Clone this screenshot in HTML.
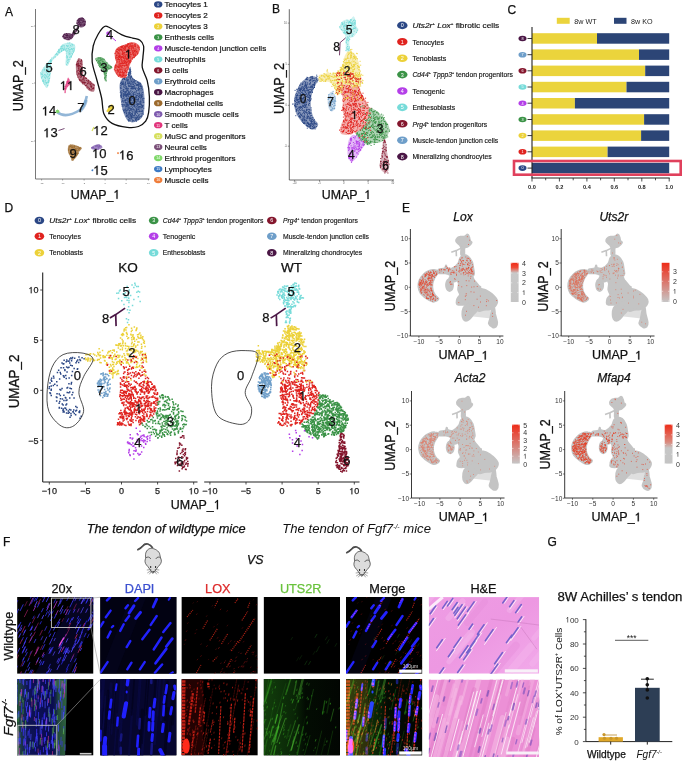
<!DOCTYPE html><html><head><meta charset="utf-8"><style>html,body{margin:0;padding:0;background:#fff;overflow:hidden}svg{display:block;will-change:transform}text{font-family:"Liberation Sans",sans-serif}</style></head><body>
<svg width="685" height="761" viewBox="0 0 685 761">
<rect width="685" height="761" fill="#fff"/>
<text x="5" y="16" font-size="12" text-anchor="start" fill="#111" font-weight="normal"  stroke="#111" stroke-width="0.25">A</text>
<text x="272" y="12.7" font-size="12" text-anchor="start" fill="#111" font-weight="normal"  stroke="#111" stroke-width="0.25">B</text>
<text x="507.5" y="13.5" font-size="12" text-anchor="start" fill="#111" font-weight="normal"  stroke="#111" stroke-width="0.25">C</text>
<text x="4.5" y="211.5" font-size="12" text-anchor="start" fill="#111" font-weight="normal"  stroke="#111" stroke-width="0.25">D</text>
<text x="402" y="211.5" font-size="12" text-anchor="start" fill="#111" font-weight="normal"  stroke="#111" stroke-width="0.25">E</text>
<text x="3" y="546.3" font-size="12" text-anchor="start" fill="#111" font-weight="normal"  stroke="#111" stroke-width="0.25">F</text>
<text x="547.5" y="546" font-size="12" text-anchor="start" fill="#111" font-weight="normal"  stroke="#111" stroke-width="0.25">G</text>
<line x1="35.5" y1="9" x2="35.5" y2="179" stroke="#555" stroke-width="0.8"/>
<line x1="35.5" y1="179" x2="149.5" y2="179" stroke="#555" stroke-width="0.8"/>
<line x1="41.6" y1="179" x2="41.6" y2="180.5" stroke="#555" stroke-width="0.5"/>
<text x="41.6" y="184" font-size="2.5" text-anchor="middle" fill="#555" font-weight="normal" >-15</text>
<line x1="62.6" y1="179" x2="62.6" y2="180.5" stroke="#555" stroke-width="0.5"/>
<text x="62.6" y="184" font-size="2.5" text-anchor="middle" fill="#555" font-weight="normal" >-10</text>
<line x1="84.1" y1="179" x2="84.1" y2="180.5" stroke="#555" stroke-width="0.5"/>
<text x="84.1" y="184" font-size="2.5" text-anchor="middle" fill="#555" font-weight="normal" >-5</text>
<line x1="105.1" y1="179" x2="105.1" y2="180.5" stroke="#555" stroke-width="0.5"/>
<text x="105.1" y="184" font-size="2.5" text-anchor="middle" fill="#555" font-weight="normal" >0</text>
<line x1="126.2" y1="179" x2="126.2" y2="180.5" stroke="#555" stroke-width="0.5"/>
<text x="126.2" y="184" font-size="2.5" text-anchor="middle" fill="#555" font-weight="normal" >5</text>
<line x1="148.4" y1="179" x2="148.4" y2="180.5" stroke="#555" stroke-width="0.5"/>
<text x="148.4" y="184" font-size="2.5" text-anchor="middle" fill="#555" font-weight="normal" >10</text>
<line x1="34" y1="26" x2="35.5" y2="26" stroke="#555" stroke-width="0.5"/>
<text x="33.5" y="27" font-size="2.5" text-anchor="end" fill="#555" font-weight="normal" >10</text>
<line x1="34" y1="83" x2="35.5" y2="83" stroke="#555" stroke-width="0.5"/>
<text x="33.5" y="84" font-size="2.5" text-anchor="end" fill="#555" font-weight="normal" >0</text>
<line x1="34" y1="141" x2="35.5" y2="141" stroke="#555" stroke-width="0.5"/>
<text x="33.5" y="142" font-size="2.5" text-anchor="end" fill="#555" font-weight="normal" >-10</text>
<text x="95.5" y="198.8" font-size="12.8" text-anchor="middle" fill="#111" font-weight="normal"  textLength="49.6" lengthAdjust="spacingAndGlyphs" stroke="#111" stroke-width="0.25">UMAP_ </text>
<path d="M0.335 0V-0.69H0.262L0.215 -0.628L0.158 -0.578L0.098 -0.545V-0.468L0.168 -0.5L0.245 -0.555V0Z" fill="#111" stroke="#111" stroke-width="0.0195" transform="translate(113.41 198.8) scale(12.40 12.8)"/>
<text x="0" y="0" font-size="13" text-anchor="middle" fill="#111" stroke="#111" stroke-width="0.25" textLength="51" lengthAdjust="spacingAndGlyphs" transform="translate(23.4 85.7) rotate(-90) scale(1 1.08)">UMAP_2</text>
<ellipse cx="158.2" cy="4.4" rx="4.2" ry="3.1" fill="#2b4785"/>
<text x="158.2" y="5.7" font-size="3.6" text-anchor="middle" fill="#fff" font-weight="normal" >0</text>
<text x="164.5" y="7.3" font-size="8.1" text-anchor="start" fill="#111" font-weight="normal" stroke="#111" stroke-width="0.2">Tenocytes 1</text>
<ellipse cx="158.2" cy="15.4" rx="4.2" ry="3.1" fill="#e0231f"/>
<text x="158.2" y="16.7" font-size="3.6" text-anchor="middle" fill="#fff" font-weight="normal" >1</text>
<text x="164.5" y="18.3" font-size="8.1" text-anchor="start" fill="#111" font-weight="normal" stroke="#111" stroke-width="0.2">Tenocytes 2</text>
<ellipse cx="158.2" cy="26.4" rx="4.2" ry="3.1" fill="#ecd139"/>
<text x="158.2" y="27.7" font-size="3.6" text-anchor="middle" fill="#fff" font-weight="normal" >2</text>
<text x="164.5" y="29.3" font-size="8.1" text-anchor="start" fill="#111" font-weight="normal" stroke="#111" stroke-width="0.2">Tenocytes 3</text>
<ellipse cx="158.2" cy="37.3" rx="4.2" ry="3.1" fill="#3b9347"/>
<text x="158.2" y="38.6" font-size="3.6" text-anchor="middle" fill="#fff" font-weight="normal" >3</text>
<text x="164.5" y="40.2" font-size="8.1" text-anchor="start" fill="#111" font-weight="normal" stroke="#111" stroke-width="0.2">Enthesis cells</text>
<ellipse cx="158.2" cy="48.3" rx="4.2" ry="3.1" fill="#b43fe8"/>
<text x="158.2" y="49.6" font-size="3.6" text-anchor="middle" fill="#fff" font-weight="normal" >4</text>
<text x="164.5" y="51.2" font-size="8.1" text-anchor="start" fill="#111" font-weight="normal" stroke="#111" stroke-width="0.2">Muscle-tendon junction cells</text>
<ellipse cx="158.2" cy="59.3" rx="4.2" ry="3.1" fill="#76dbd9"/>
<text x="158.2" y="60.6" font-size="3.6" text-anchor="middle" fill="#fff" font-weight="normal" >5</text>
<text x="164.5" y="62.2" font-size="8.1" text-anchor="start" fill="#111" font-weight="normal" stroke="#111" stroke-width="0.2">Neutrophils</text>
<ellipse cx="158.2" cy="70.3" rx="4.2" ry="3.1" fill="#84162d"/>
<text x="158.2" y="71.6" font-size="3.6" text-anchor="middle" fill="#fff" font-weight="normal" >6</text>
<text x="164.5" y="73.2" font-size="8.1" text-anchor="start" fill="#111" font-weight="normal" stroke="#111" stroke-width="0.2">B cells</text>
<ellipse cx="158.2" cy="81.3" rx="4.2" ry="3.1" fill="#6e9ec9"/>
<text x="158.2" y="82.6" font-size="3.6" text-anchor="middle" fill="#fff" font-weight="normal" >7</text>
<text x="164.5" y="84.2" font-size="8.1" text-anchor="start" fill="#111" font-weight="normal" stroke="#111" stroke-width="0.2">Erythroid cells</text>
<ellipse cx="158.2" cy="92.2" rx="4.2" ry="3.1" fill="#4a1645"/>
<text x="158.2" y="93.5" font-size="3.6" text-anchor="middle" fill="#fff" font-weight="normal" >8</text>
<text x="164.5" y="95.1" font-size="8.1" text-anchor="start" fill="#111" font-weight="normal" stroke="#111" stroke-width="0.2">Macrophages</text>
<ellipse cx="158.2" cy="103.2" rx="4.2" ry="3.1" fill="#9c6a2c"/>
<text x="158.2" y="104.5" font-size="3.6" text-anchor="middle" fill="#fff" font-weight="normal" >9</text>
<text x="164.5" y="106.1" font-size="8.1" text-anchor="start" fill="#111" font-weight="normal" stroke="#111" stroke-width="0.2">Endothelial cells</text>
<ellipse cx="158.2" cy="114.2" rx="4.2" ry="3.1" fill="#7e5aae"/>
<text x="158.2" y="115.5" font-size="3.6" text-anchor="middle" fill="#fff" font-weight="normal" >10</text>
<text x="164.5" y="117.1" font-size="8.1" text-anchor="start" fill="#111" font-weight="normal" stroke="#111" stroke-width="0.2">Smooth muscle cells</text>
<ellipse cx="158.2" cy="125.2" rx="4.2" ry="3.1" fill="#e2357c"/>
<text x="158.2" y="126.5" font-size="3.6" text-anchor="middle" fill="#fff" font-weight="normal" >11</text>
<text x="164.5" y="128.1" font-size="8.1" text-anchor="start" fill="#111" font-weight="normal" stroke="#111" stroke-width="0.2">T cells</text>
<ellipse cx="158.2" cy="136.2" rx="4.2" ry="3.1" fill="#d6df5e"/>
<text x="158.2" y="137.5" font-size="3.6" text-anchor="middle" fill="#fff" font-weight="normal" >12</text>
<text x="164.5" y="139.1" font-size="8.1" text-anchor="start" fill="#111" font-weight="normal" stroke="#111" stroke-width="0.2">MuSC and progenitors</text>
<ellipse cx="158.2" cy="147.1" rx="4.2" ry="3.1" fill="#7a4f78"/>
<text x="158.2" y="148.4" font-size="3.6" text-anchor="middle" fill="#fff" font-weight="normal" >13</text>
<text x="164.5" y="150" font-size="8.1" text-anchor="start" fill="#111" font-weight="normal" stroke="#111" stroke-width="0.2">Neural cells</text>
<ellipse cx="158.2" cy="158.1" rx="4.2" ry="3.1" fill="#7fd86a"/>
<text x="158.2" y="159.4" font-size="3.6" text-anchor="middle" fill="#fff" font-weight="normal" >14</text>
<text x="164.5" y="161" font-size="8.1" text-anchor="start" fill="#111" font-weight="normal" stroke="#111" stroke-width="0.2">Erthroid progenitors</text>
<ellipse cx="158.2" cy="169.1" rx="4.2" ry="3.1" fill="#3d7ac4"/>
<text x="158.2" y="170.4" font-size="3.6" text-anchor="middle" fill="#fff" font-weight="normal" >15</text>
<text x="164.5" y="172" font-size="8.1" text-anchor="start" fill="#111" font-weight="normal" stroke="#111" stroke-width="0.2">Lymphocytes</text>
<ellipse cx="158.2" cy="180.1" rx="4.2" ry="3.1" fill="#ef7d3a"/>
<text x="158.2" y="181.4" font-size="3.6" text-anchor="middle" fill="#fff" font-weight="normal" >16</text>
<text x="164.5" y="183" font-size="8.1" text-anchor="start" fill="#111" font-weight="normal" stroke="#111" stroke-width="0.2">Muscle cells</text>
<line x1="289.3" y1="9.2" x2="289.3" y2="180" stroke="#444" stroke-width="0.8"/>
<line x1="289.3" y1="180" x2="394" y2="180" stroke="#444" stroke-width="0.8"/>
<line x1="294.6" y1="180" x2="294.6" y2="181.5" stroke="#444" stroke-width="0.5599999999999999"/>
<text x="294.6" y="184" font-size="2.6" text-anchor="middle" fill="#555" font-weight="normal" >-10</text>
<line x1="319.5" y1="180" x2="319.5" y2="181.5" stroke="#444" stroke-width="0.5599999999999999"/>
<text x="319.5" y="184" font-size="2.6" text-anchor="middle" fill="#555" font-weight="normal" >-5</text>
<line x1="343.7" y1="180" x2="343.7" y2="181.5" stroke="#444" stroke-width="0.5599999999999999"/>
<text x="343.7" y="184" font-size="2.6" text-anchor="middle" fill="#555" font-weight="normal" >0</text>
<line x1="368.2" y1="180" x2="368.2" y2="181.5" stroke="#444" stroke-width="0.5599999999999999"/>
<text x="368.2" y="184" font-size="2.6" text-anchor="middle" fill="#555" font-weight="normal" >5</text>
<line x1="392.7" y1="180" x2="392.7" y2="181.5" stroke="#444" stroke-width="0.5599999999999999"/>
<text x="392.7" y="184" font-size="2.6" text-anchor="middle" fill="#555" font-weight="normal" >10</text>
<line x1="287.8" y1="23.1" x2="289.3" y2="23.1" stroke="#444" stroke-width="0.5599999999999999"/>
<text x="287" y="24" font-size="2.6" text-anchor="end" fill="#555" font-weight="normal" >10</text>
<line x1="287.8" y1="64.4" x2="289.3" y2="64.4" stroke="#444" stroke-width="0.5599999999999999"/>
<text x="287" y="65.3" font-size="2.6" text-anchor="end" fill="#555" font-weight="normal" >5</text>
<line x1="287.8" y1="105.3" x2="289.3" y2="105.3" stroke="#444" stroke-width="0.5599999999999999"/>
<text x="287" y="106.2" font-size="2.6" text-anchor="end" fill="#555" font-weight="normal" >0</text>
<line x1="287.8" y1="146.2" x2="289.3" y2="146.2" stroke="#444" stroke-width="0.5599999999999999"/>
<text x="287" y="147.1" font-size="2.6" text-anchor="end" fill="#555" font-weight="normal" >-5</text>
<text x="346.5" y="199" font-size="12.8" text-anchor="middle" fill="#111" font-weight="normal"  textLength="49.6" lengthAdjust="spacingAndGlyphs" stroke="#111" stroke-width="0.25">UMAP_ </text>
<path d="M0.335 0V-0.69H0.262L0.215 -0.628L0.158 -0.578L0.098 -0.545V-0.468L0.168 -0.5L0.245 -0.555V0Z" fill="#111" stroke="#111" stroke-width="0.0195" transform="translate(364.41 199) scale(12.40 12.8)"/>
<text x="0" y="0" font-size="13" text-anchor="middle" fill="#111" stroke="#111" stroke-width="0.25" textLength="51" lengthAdjust="spacingAndGlyphs" transform="translate(283.5 88.5) rotate(-90) scale(1 1.08)">UMAP_2</text>
<path d="M313.3 76.3 C311.4 76.1 309 76.7 306.9 77.8 C304.9 79 302.7 80.5 300.8 83.2 C298.9 85.8 296.5 90.1 295.4 93.6 C294.3 97.1 294 100.5 294.2 104.1 C294.4 107.6 295 111.4 296.7 114.7 C298.3 118.1 301.6 121.7 304 124.2 C306.5 126.6 309.4 128.8 311.4 129.5 C313.3 130.2 314.4 129.1 315.5 128.3 C316.7 127.4 318.4 125.7 318.2 124.2 C318 122.6 315.4 121.2 314.3 118.8 C313.2 116.5 311.9 113.4 311.4 110.2 C310.8 107.1 310.6 103.1 310.9 100 C311.1 96.8 311.9 94.2 312.8 91.4 C313.8 88.6 315.5 85.2 316.5 83.2 C317.5 81.1 319.2 80.2 318.7 79.1 C318.2 77.9 315.3 76.5 313.3 76.3Z" fill="#2b4785" fill-opacity="0.54"/>
<path d="M309.7 77.5h1M310.3 76.9h1M311.3 76.9h1M311.4 77.3h1M306.2 78.4h1M307 77.7h1M312 78h1M312.3 78.3h1M312.5 78.4h1M315.7 77.9h1M315.7 78.1h1M305.5 79.1h1M305.6 79.5h1M305.8 79.4h1M306.2 79.2h1M310.3 79.1h1M311.3 78.9h1M311.9 78.8h1M314.2 78.8h1M307.1 79.6h1M309.5 80.4h1M309.7 80.1h1M309.9 79.8h1M312.9 80.5h1M316 79.7h1M317.2 80.3h1M309.3 80.6h1M309.4 81.1h1M311.6 80.8h1M313.7 80.5h1M314.8 81.1h1M315.5 80.9h1M303.8 81.7h1M305.3 82h1M312.4 81.7h1M316.6 81.9h1M300.3 83.2h1M302.6 82.8h1M305.1 82.6h1M307.1 82.9h1M310 82.7h1M314.2 82.5h1M314.3 82.7h1M301.6 84.3h1M302.2 83.8h1M302.2 84.4h1M304.7 83.7h1M305.2 84h1M306.7 84.1h1M308.8 84.2h1M309.1 83.9h1M309.9 83.9h1M313.7 83.9h1M314.3 83.6h1M300 85h1M304.7 84.8h1M305 84.9h1M305.5 85.2h1M306.5 84.8h1M311.5 85.3h1M312.2 84.7h1M313 84.6h1M313.8 85.3h1M313.9 84.8h1M314 84.9h1M301.7 86.3h1M304.1 86.2h1M304.5 86h1M304.5 85.7h1M304.9 85.8h1M305.9 86.2h1M306 85.7h1M306.2 86.4h1M310.3 86.1h1M311.7 86.2h1M313.6 85.6h1M314 86h1M298.5 87.1h1M301.4 87.1h1M302.6 86.8h1M305.1 87.3h1M306.1 87.2h1M308.1 87.1h1M309.7 87.1h1M310.4 86.8h1M311.3 86.7h1M311.5 87.1h1M311.6 87.2h1M311.8 86.9h1M312.3 87.2h1M299.1 88.3h1M300.7 87.7h1M301.8 88.1h1M303.2 88.2h1M303.3 87.6h1M304 88.4h1M305.9 88h1M306.9 87.8h1M309.5 87.6h1M310.4 87.6h1M313 88.1h1M314 87.5h1M298 88.6h1M299.5 89.4h1M299.8 89.3h1M300.1 88.8h1M300.4 89.5h1M300.6 89.3h1M300.6 89.2h1M301.2 88.7h1M303.7 88.9h1M305.7 88.8h1M306.1 88.6h1M306.6 89h1M311.3 89.2h1M312.6 88.7h1M297.3 89.8h1M298.8 90.3h1M298.8 90.3h1M299.6 90h1M299.8 90.4h1M302.1 90.4h1M302.3 90.4h1M302.9 89.8h1M303.2 89.6h1M303.6 90.3h1M304 90h1M307.3 90.3h1M307.5 90h1M307.6 90.2h1M308.1 90.3h1M309.1 89.6h1M309.8 89.6h1M311.1 90.4h1M311.8 89.7h1M297.3 91.3h1M299.8 91h1M301.5 90.9h1M302 90.8h1M303.7 91.3h1M304.7 90.6h1M306.1 90.7h1M307.7 90.8h1M298.4 92.3h1M299.9 91.9h1M301.3 92.3h1M304.8 92.3h1M304.8 92.2h1M305.2 91.9h1M307.6 91.8h1M309.2 91.6h1M309.5 92.4h1M309.8 92.3h1M310.3 91.8h1M310.3 92.2h1M311.6 91.6h1M311.9 92.5h1M298.5 93.2h1M301.4 92.5h1M301.8 93.1h1M302.7 93.3h1M306.1 93.3h1M307.7 92.6h1M308.4 92.7h1M309.1 92.6h1M296.3 93.5h1M299.8 93.7h1M302.2 93.7h1M302.9 93.9h1M302.9 94.3h1M303.3 93.6h1M304.8 94.4h1M304.8 94.3h1M306.3 94.3h1M307.9 93.6h1M308.6 93.7h1M295.3 94.9h1M296.3 95.3h1M297 95.5h1M297.2 94.6h1M299.9 94.8h1M300 95h1M300.6 95h1M301.3 95.2h1M303.6 94.8h1M305.3 94.6h1M307.5 94.9h1M308.3 94.6h1M309.1 95.2h1M309.3 95.4h1M296.2 95.6h1M298.4 95.7h1M299 95.9h1M300.1 95.8h1M301.5 95.5h1M306.1 96.4h1M306.8 95.7h1M307.6 96.1h1M309.4 96.1h1M309.8 95.9h1M309.9 95.6h1M310 96.4h1M295.2 97.2h1M296.2 96.7h1M297.3 97.2h1M302.8 97.2h1M303.5 97.3h1M305.8 96.6h1M306.4 96.7h1M307.4 97.3h1M307.8 97.4h1M308.4 97.4h1M309.1 97.3h1M310.1 97.2h1M294.5 98.2h1M295.9 97.5h1M299.1 97.5h1M299.2 98.5h1M299.4 98.5h1M300.4 97.5h1M300.5 98.4h1M302.5 98.4h1M303.3 97.5h1M308.9 98.1h1M294.6 99.3h1M296.1 98.6h1M296.9 99.2h1M297.7 99.2h1M298.9 99.4h1M300.1 98.6h1M301.1 98.7h1M301.5 99.2h1M301.5 98.8h1M302 98.7h1M302.5 99.1h1M302.9 98.6h1M307.3 99.5h1M308.8 99.3h1M309.1 98.5h1M310.4 99h1M310.6 98.9h1M295.7 100.2h1M296 99.8h1M296.7 99.8h1M297.1 100.1h1M297.6 100h1M297.9 99.6h1M303.5 100h1M304.1 100.5h1M304.7 99.6h1M307.3 99.7h1M309.4 100.4h1M309.5 99.9h1M294.1 100.7h1M294.3 100.8h1M294.9 101.5h1M296.8 100.9h1M297.9 101.5h1M299.4 100.8h1M300.9 100.7h1M301.1 100.8h1M302.4 100.7h1M306.4 101h1M307.9 100.6h1M309.2 100.9h1M310.1 100.6h1M296.4 102.4h1M297.4 102.3h1M298.4 101.5h1M299.4 102.1h1M299.4 101.6h1M301.1 101.8h1M302.7 101.5h1M303.5 102.2h1M305.1 102h1M306.2 102.1h1M309 101.5h1M295.1 103.3h1M296.1 102.8h1M298.2 102.6h1M298.6 103.1h1M302.8 103.1h1M303.3 103.2h1M304.2 102.5h1M305.3 103h1M305.7 102.8h1M308.7 103.2h1M297.1 104.1h1M297.2 104.2h1M299.3 103.8h1M301.7 103.9h1M303.6 103.8h1M303.9 104.2h1M308.1 104.4h1M309 103.5h1M294.6 105.2h1M294.8 104.6h1M296.5 104.5h1M302.3 105.5h1M304.8 104.7h1M306 104.6h1M306 104.8h1M294.1 105.6h1M294.5 105.7h1M294.7 106.2h1M295 106.5h1M296.3 106.1h1M300 106.3h1M301.4 106.4h1M302.6 106.3h1M302.8 106.4h1M303.4 105.5h1M304.1 105.8h1M304.9 105.6h1M305.2 106.2h1M305.2 106.2h1M308.4 105.5h1M296.2 106.8h1M298.1 107.2h1M298.9 107.2h1M299.2 107.3h1M299.6 107.5h1M299.7 106.8h1M301 107.5h1M301.4 107.4h1M302.7 106.9h1M304 107.3h1M304.1 107.5h1M306.6 107.3h1M295.3 107.7h1M297.2 108.4h1M300 108.2h1M305.4 107.6h1M310.7 107.9h1M295.9 109.4h1M298.6 108.6h1M298.9 109.4h1M301.8 108.5h1M306.3 109.1h1M308.3 109.3h1M296.1 110.2h1M296.2 110h1M296.3 109.9h1M296.4 110.1h1M298.5 110.2h1M300.2 110.4h1M301.4 109.7h1M302.4 110.3h1M304.2 110.2h1M306 109.8h1M306.1 110.4h1M306.3 110.3h1M307.4 109.7h1M308.8 109.6h1M309.3 110.1h1M310.7 110h1M295.8 111.4h1M298.2 111.1h1M302.6 110.6h1M304.1 111.3h1M303.2 111.9h1M304.5 112.3h1M305.3 111.6h1M305.9 112.2h1M308.1 111.6h1M308.6 112.3h1M308.9 112.1h1M309.1 112.5h1M297.7 113.3h1M298.5 113.1h1M298.9 112.7h1M300.1 113.1h1M302.9 112.7h1M304 113.4h1M305.4 112.7h1M306.3 113.1h1M306.5 112.6h1M309.2 113.1h1M309.3 113.4h1M310.2 113.1h1M310.4 113.2h1M297.5 114.4h1M298.1 113.6h1M300.1 114.4h1M300.6 114.4h1M302.2 113.8h1M307 114.4h1M307.7 113.5h1M309.1 114h1M301.3 115.1h1M304.4 114.8h1M310.8 115.5h1M298.5 116.3h1M298.6 116.2h1M299.2 115.7h1M300 116.2h1M301 115.6h1M301.9 116.2h1M303.6 115.7h1M306.7 115.8h1M306.7 116.4h1M307.8 116.1h1M309.9 115.8h1M299.1 116.7h1M302.5 117h1M303.3 116.9h1M304 116.6h1M304.4 117.4h1M306.6 117.3h1M307.5 116.7h1M308.2 116.6h1M309.6 117h1M299.4 117.6h1M300.1 117.7h1M303.2 118.1h1M303.5 118.4h1M306.8 117.7h1M307.3 118h1M308.6 117.9h1M309.3 118h1M309.7 118.4h1M309.8 118.3h1M310.8 118.2h1M311.7 117.7h1M312.4 117.8h1M301.9 118.9h1M303.8 119.5h1M305.8 118.7h1M307.3 118.7h1M309.3 118.9h1M309.7 118.8h1M311.7 119.5h1M301.3 119.7h1M302.4 120h1M302.6 119.8h1M304.1 119.9h1M304.1 120.3h1M305.3 119.9h1M309.2 120.2h1M310.9 120.3h1M311.6 119.6h1M313.4 120.3h1M313.8 119.7h1M301.5 121h1M302.1 120.6h1M302.2 120.5h1M303.6 121.3h1M305.2 121h1M305.8 120.7h1M306.1 120.7h1M310 121h1M310.7 121.3h1M310.9 121.2h1M312 121.3h1M313 120.9h1M302 122.1h1M306.9 122.2h1M310.8 121.9h1M311.2 121.8h1M313.6 122.4h1M313.8 122.3h1M313.9 121.8h1M303 123.3h1M303.3 122.6h1M303.7 123.3h1M304.3 122.7h1M304.5 123.2h1M306.6 122.8h1M307.2 123.3h1M307.4 122.6h1M307.7 123.5h1M307.9 123.2h1M310.8 122.9h1M311.3 123.1h1M311.4 123.1h1M313.7 123.5h1M315.7 123.3h1M304.2 123.5h1M306.3 123.9h1M307.9 124h1M308 124.4h1M308 123.8h1M308.5 124h1M309 124.2h1M310.1 123.8h1M310.4 123.9h1M311.5 124h1M312 124.1h1M312.9 124h1M313.8 123.7h1M314.9 123.6h1M315.8 124.4h1M306 125.2h1M309.2 124.9h1M309.4 124.7h1M310.5 124.9h1M312.7 124.9h1M314.3 124.9h1M306.5 125.5h1M306.6 126h1M307.3 125.6h1M307.4 126.5h1M308.2 126.2h1M309.4 126h1M310.1 125.5h1M310.3 125.8h1M310.4 125.8h1M312.2 126.3h1M313 125.8h1M309.1 126.7h1M309.4 127.2h1M310 126.8h1M311.9 126.5h1M314.3 126.5h1M316.1 126.5h1M310 128.4h1M311.8 128.2h1M312.4 128.3h1M313 128h1M313.4 127.7h1M313.8 127.5h1M313.8 127.8h1M315.3 127.8h1M310.6 128.6h1" stroke="#2b4785" stroke-width="1" fill="none"/>
<path d="M316.2 75.2h1M311.8 76.4h1M306.5 77.3h1M316.5 76.6h1M299 85.2h1M296.2 89.3h1M294.6 90.4h1M292.1 104.1h1M293.4 104h1M295.3 115.7h1M306.8 128.2h1M314.6 129h1" stroke="#2b4785" stroke-width="1" fill="none"/>
<path d="M336 101.5 C336 99.9 335.7 98 335.4 96.6 C335.1 95.2 334.5 93.8 333.9 93 C333.3 92.2 332.5 91.7 331.8 91.7 C331.1 91.7 330.3 92.2 329.7 93 C329.1 93.8 328.5 95.2 328.2 96.6 C327.8 98 327.6 99.9 327.6 101.5 C327.6 103.2 327.8 105 328.2 106.4 C328.5 107.9 329.1 109.2 329.7 110 C330.3 110.9 331.1 111.4 331.8 111.4 C332.5 111.4 333.3 110.9 333.9 110 C334.5 109.2 335.1 107.9 335.4 106.4 C335.7 105 336 103.2 336 101.5Z" fill="#6e9ec9" fill-opacity="0.36"/>
<path d="M332 93.4h1M331.4 93.9h1M328 96.1h1M329.7 96.5h1M334.3 96.4h1M333.2 97.5h1M328.4 98.3h1M328.6 97.9h1M328.7 97.7h1M330.3 98h1M334.8 98.1h1M327.6 99.3h1M328 99.1h1M332.2 99.2h1M332.8 99.4h1M331.3 100.4h1M331.9 99.9h1M334.4 100.3h1M334.5 100h1M330.9 100.7h1M331.8 101.4h1M331.8 101.5h1M332.2 100.9h1M333.5 101h1M335.2 101.3h1M329 101.8h1M331 102.5h1M331.4 101.9h1M332.8 102h1M334 101.9h1M328.3 103h1M330.1 103.4h1M330.3 103.2h1M330.4 102.6h1M330.5 102.7h1M333.5 103.2h1M330.8 104h1M331.9 104.5h1M334.1 103.7h1M330.1 105h1M334.6 105.3h1M328.8 105.7h1M330.8 106.2h1M333.3 106.3h1M333.7 105.6h1M329.6 106.9h1M331.5 107.7h1M332.3 108.4h1M333.7 108.4h1M334.2 108.2h1M331.9 109h1M333.7 108.9h1M330.1 110.3h1M330.7 109.6h1M331.3 110.6h1" stroke="#6e9ec9" stroke-width="1" fill="none"/>
<path d="M332.6 91.4h1M328.4 94.5h1" stroke="#6e9ec9" stroke-width="1" fill="none"/>
<path d="M318.7 79.1 C318.7 78 318 75.9 319.2 75 C320.4 74 324.7 74.4 326.1 73.3 C327.4 72.2 327 68.5 327.5 68.4 C328 68.3 327.7 71.7 329 72.5 C330.3 73.3 333.2 74.5 335.4 73.3 C337.6 72.1 340.7 68 342.2 65.1 C343.8 62.3 343.7 58.4 344.7 56.1 C345.7 53.8 346.8 51.6 348.4 51.2 C350 50.8 352.7 51.7 354.5 53.6 C356.2 55.6 357.9 59.5 358.9 62.7 C359.9 65.8 360 69.2 360.4 72.5 C360.8 75.8 361.6 80.3 361.3 82.8 C361.1 85.2 360.6 86.6 358.9 87.3 C357.2 87.9 353.5 86.9 351.1 86.4 C348.6 86 346.1 83.5 344.5 84.5 C342.9 85.4 342.4 90.3 341.2 92.2 C340.1 94 338.4 95.9 337.3 95.5 C336.3 95 335.8 91.6 334.9 89.7 C334 87.8 333.3 85.3 331.9 84 C330.6 82.6 328.7 81.9 326.6 81.5 C324.4 81.1 320.5 81.9 319.2 81.5 C317.9 81.1 318.7 80.2 318.7 79.1Z" fill="#ecd139" fill-opacity="0.36"/>
<path d="M347.6 52.9h1M349 53.1h1M350.2 52.7h1M350.7 53.1h1M351.1 53h1M348 54.4h1M348.5 53.9h1M351.3 53.7h1M352.8 53.8h1M347.3 55.2h1M350.2 55h1M350.5 55.2h1M350.9 55.2h1M353.8 55.2h1M347.2 56.2h1M350.5 56.3h1M350.6 55.9h1M350 57.2h1M351.2 57.2h1M353.1 56.6h1M353.5 56.6h1M353.8 56.8h1M355.4 56.6h1M346.5 58.4h1M347.1 57.9h1M347.5 58h1M347.5 58.4h1M350.6 57.8h1M352.5 58.2h1M353.6 58.4h1M353.9 57.6h1M354.1 57.9h1M355.4 57.6h1M355.6 58.4h1M343.6 59.2h1M345 59.2h1M345.4 59.1h1M349.7 58.7h1M355 59.3h1M345.8 59.9h1M352.4 60h1M344.1 60.6h1M348.2 60.8h1M348.8 61h1M354.2 61.2h1M342.9 61.5h1M346 62.3h1M347 62.5h1M348 62.2h1M348.8 62.5h1M351.4 61.9h1M352.9 61.7h1M343.7 62.6h1M345.1 62.7h1M346.8 63.3h1M348.3 62.7h1M348.8 63.3h1M349.8 62.6h1M350.3 63.4h1M354.7 62.6h1M355.3 63h1M356.5 63.4h1M344.6 64.1h1M345.6 63.6h1M345.8 64.4h1M348.6 64.3h1M350.7 64.1h1M354 64.3h1M355.3 64.4h1M342.4 64.9h1M342.5 64.6h1M343 65.3h1M347.1 65.4h1M351.1 65.5h1M351.3 64.9h1M353 64.6h1M353.4 65.4h1M342.3 65.5h1M343.9 65.8h1M345 66.2h1M345.3 66.4h1M346.5 66.3h1M347.2 66.1h1M347.8 65.5h1M352.9 66.3h1M354 65.6h1M357.1 65.5h1M358.2 66.3h1M339.8 67.4h1M342.2 66.6h1M343 66.6h1M343.1 67.4h1M345.3 66.7h1M346.5 66.7h1M347.2 67.4h1M348.7 66.8h1M351.2 67.2h1M352 66.6h1M352.4 67.1h1M352.6 66.7h1M352.8 66.8h1M354.3 66.8h1M357.4 66.7h1M358.1 66.7h1M358.3 67.4h1M359 67.2h1M341 68.3h1M341.1 67.7h1M345.1 67.8h1M349.4 68.2h1M349.9 68h1M350.4 68h1M356.8 68.1h1M340.9 69.3h1M341.7 69.2h1M342.3 68.7h1M342.7 69.4h1M343.1 68.9h1M345.9 69.1h1M347.2 68.6h1M347.8 68.6h1M348.6 68.6h1M351.2 68.6h1M354.2 68.6h1M358.3 69.4h1M326.8 69.9h1M340 69.8h1M340.1 69.8h1M341.4 69.8h1M343.4 70.5h1M348.4 70h1M349.3 70.2h1M351.8 70h1M352.8 69.7h1M352.9 69.9h1M354 69.6h1M358.6 70h1M326.4 71h1M337.5 70.9h1M340.2 70.9h1M340.2 70.6h1M343.7 71.2h1M344 71.4h1M345 71.2h1M347.1 71h1M347.8 71.1h1M348.1 70.8h1M348.4 71.3h1M352.5 71.3h1M337.9 71.6h1M340.5 72.3h1M343.6 71.6h1M343.7 71.6h1M350.5 72h1M352.3 71.6h1M352.8 71.6h1M355.4 72.4h1M358.8 72.5h1M329.9 73.3h1M332.5 73.1h1M333.3 73.2h1M333.6 73.3h1M335 73.3h1M337 72.9h1M338 72.8h1M338.7 73.2h1M339.3 73.3h1M340.6 73.2h1M348.5 72.6h1M350.2 73.2h1M350.4 73.3h1M352.3 73.2h1M356.9 73.2h1M324.2 74h1M332.5 74.1h1M336.5 73.8h1M340.9 74.3h1M342.2 73.7h1M349.7 73.7h1M352.5 74.3h1M354.6 73.8h1M355 73.9h1M358.3 74.5h1M359 73.6h1M321.2 75.5h1M325.2 74.9h1M326.2 75h1M327.7 75.3h1M329.3 75.4h1M336 74.6h1M339.4 74.9h1M340.1 75.2h1M340.5 74.5h1M341.4 75.5h1M343.7 75.1h1M345 75.2h1M345.8 75.5h1M352.7 75h1M355.5 75h1M356.1 74.8h1M356.2 75.5h1M357.7 74.6h1M359.2 74.7h1M320.8 76.2h1M322.5 75.7h1M322.9 76.1h1M324.3 76.1h1M326.1 75.7h1M326.8 76.4h1M327.4 76.4h1M329.4 76.4h1M330.9 76.5h1M332.3 76.4h1M333.9 75.6h1M335.6 75.8h1M339.1 75.7h1M339.4 75.7h1M347.2 75.7h1M347.3 75.9h1M349.2 75.6h1M350.3 76.2h1M353.4 76.3h1M354 76.4h1M354.8 75.8h1M355.4 76.1h1M357.4 75.8h1M357.5 76h1M357.7 76.2h1M359.1 76.1h1M360 76.1h1M318.9 77.5h1M319.3 77.4h1M323.8 76.8h1M324.4 77.2h1M327.3 77.1h1M327.9 76.5h1M334.1 76.9h1M334.6 76.8h1M335.4 76.6h1M336 77h1M338.2 76.7h1M340 77.3h1M341.2 77.2h1M346.7 76.8h1M352.4 77.4h1M353.9 76.9h1M356.6 77.2h1M357.5 77h1M327.7 78.3h1M328.7 77.7h1M329.1 78.2h1M332.7 77.5h1M340.6 78.3h1M347 78.2h1M348.2 78.3h1M354.6 78.1h1M355.4 78.2h1M318.4 79h1M320.1 78.9h1M321.4 78.8h1M325.2 79.2h1M326.1 79.4h1M326.7 78.9h1M328.2 79.1h1M337 78.6h1M338.9 79.5h1M342.4 79h1M345.2 79.3h1M349 79.1h1M350.2 79.4h1M352 78.5h1M356.1 78.7h1M358.5 78.9h1M359.2 78.6h1M359.5 79.4h1M321 79.8h1M321.8 80.4h1M322.4 79.8h1M329.6 79.8h1M330.3 80.5h1M333.6 80.5h1M334.4 79.6h1M334.6 80.3h1M335.6 79.9h1M335.8 80.4h1M335.9 80.4h1M337.8 79.5h1M338.5 80.2h1M341.9 80.3h1M347.5 80.1h1M350.6 79.6h1M355.5 79.5h1M357.4 79.7h1M359.9 79.9h1M319.5 81.3h1M320.6 81.3h1M323.4 81.4h1M324.7 80.9h1M325.1 81.4h1M325.4 80.7h1M331.9 80.5h1M334.1 80.7h1M336.8 81.5h1M337.6 81.4h1M340.5 81.1h1M342 80.9h1M346.9 81.1h1M348.3 80.9h1M350.3 81.2h1M352 81.4h1M352.5 81.1h1M356.3 80.7h1M358.2 81.3h1M359.4 81h1M330.6 81.6h1M342.1 82.2h1M342.5 81.7h1M344.6 81.8h1M345.2 81.8h1M348.5 81.8h1M353.2 82.4h1M357.9 81.8h1M330.6 82.6h1M333.3 83.2h1M338.4 83.1h1M341.7 82.8h1M344.4 83.2h1M345.1 83.3h1M347.4 82.6h1M349 83h1M349.5 82.7h1M355.5 83h1M356.2 83.5h1M359.6 82.7h1M360.4 83.1h1M332.1 84.4h1M334.9 84.3h1M337.3 84.4h1M346.8 84h1M353.6 84.1h1M355.9 83.6h1M356.8 84.2h1M358.3 84.1h1M359.7 84.3h1M332.8 85h1M333.4 85.5h1M341.6 84.9h1M342.1 85.3h1M348.5 85h1M351 85.3h1M355.4 85.5h1M356.6 84.7h1M357 85.5h1M333.6 85.7h1M334.9 85.9h1M338.9 86.3h1M339 86.2h1M341.7 86.1h1M353.4 85.9h1M353.6 86h1M353.8 85.6h1M353.9 86.3h1M354.1 85.9h1M354.3 86h1M357.1 86.4h1M335.8 86.9h1M337.6 87h1M338.6 86.5h1M341.6 86.7h1M341.9 86.9h1M353.7 86.7h1M355.2 86.7h1M334 88h1M334.5 88h1M337.1 88.2h1M337.4 88.2h1M338.5 87.6h1M340 87.7h1M340.5 87.6h1M335.3 89.4h1M336.9 89.4h1M338.9 89.4h1M339.6 88.9h1M336.5 89.6h1M337.2 90.1h1M339.6 89.8h1M338.4 90.6h1M338.9 90.6h1M339.2 91.4h1M339.6 90.6h1M335.7 91.9h1M337.6 92.6h1M339.3 93.2h1M337.1 94.1h1M337.1 93.6h1" stroke="#ecd139" stroke-width="1" fill="none"/>
<path d="M351.3 49.4h1M349.9 49.7h1M350.3 50.9h1M350.6 51.9h1M356.2 53.3h1M356.7 53.7h1M357 58.8h1M359.6 61.3h1M360.2 65.2h1M359.8 71.1h1M323.5 73.6h1M360.8 74.3h1M362.3 75.3h1M360.4 75.7h1M361.7 80.1h1M362.5 80.7h1M362 82.3h1M362.2 83.4h1M331.4 86.4h1M360.2 86h1M356.5 88h1M342.2 89h1M335.2 93.5h1" stroke="#ecd139" stroke-width="1" fill="none"/>
<path d="M345.9 50.4 C346.5 52.3 348.7 52.3 349.3 50.4 C350 48.4 349 41.2 349.8 38.9 C350.6 36.6 352.6 37.9 354 36.4 C355.4 34.9 358 31.5 358.4 29.9 C358.8 28.2 356.9 28.2 356.4 26.6 C355.9 24.9 355.9 21.7 355.5 20 C355 18.3 354.4 16.4 353.5 16.3 C352.6 16.3 351.5 19 350.1 19.6 C348.6 20.2 346.2 19.4 344.7 20 C343.1 20.6 341.5 21.9 340.8 23.3 C340 24.7 339.5 26.4 340 28.2 C340.6 30 343.2 32.2 344.2 34 C345.2 35.7 345.6 36.1 345.9 38.9 C346.2 41.6 345.3 48.4 345.9 50.4Z" fill="#76dbd9" fill-opacity="0.36"/>
<path d="M346.5 20.1h1M350.1 19.9h1M350.2 20h1M350.9 19.9h1M353.8 19.9h1M347.6 21.1h1M349 21.5h1M349.8 21.2h1M353 20.7h1M353.6 20.9h1M355 20.9h1M343.8 22h1M347.6 22.3h1M349 22.3h1M351.4 22.5h1M351.9 21.8h1M354.8 22.1h1M341.1 22.9h1M342.1 22.9h1M344 23.1h1M345.8 22.7h1M348 23.1h1M348.6 22.7h1M350 22.5h1M350.3 23.1h1M351.8 23.4h1M353.1 23.1h1M354.1 22.6h1M354.8 23.2h1M341.9 23.9h1M342.4 24h1M342.5 23.8h1M350.9 23.7h1M351.8 23.9h1M352.7 24.1h1M354.2 24.1h1M354.3 23.8h1M341.7 24.6h1M341.8 24.6h1M342.1 24.5h1M343.5 25.4h1M343.9 25h1M345.1 25h1M345.8 24.8h1M348.3 25.1h1M348.4 24.9h1M351.2 24.5h1M351.7 25.2h1M352.2 25h1M354.5 24.9h1M340.5 26.1h1M343.6 26.2h1M344.3 25.7h1M344.8 26.2h1M350.6 26.2h1M352.9 25.6h1M343.2 26.6h1M343.3 26.9h1M350.9 26.6h1M350.9 26.5h1M354.1 26.9h1M355.2 27.3h1M339.6 27.9h1M343.5 27.9h1M346.4 28.3h1M347.3 27.8h1M349.4 27.8h1M352.9 28h1M354 28.5h1M354.6 28.1h1M343.9 28.8h1M344.4 28.8h1M346.2 28.7h1M347.5 29.3h1M349.1 28.7h1M351.6 29.3h1M352.3 29.4h1M353 28.6h1M355.3 28.8h1M340.8 29.5h1M341.1 29.7h1M342.5 30.3h1M345.4 30.2h1M348 30h1M356.8 30.2h1M343.8 31h1M344.3 30.7h1M345.4 30.5h1M347 30.6h1M353.7 31.2h1M344.2 32.3h1M344.3 31.8h1M346.4 31.5h1M349.6 31.8h1M350.3 31.7h1M351 32.4h1M356 32.3h1M342.9 32.7h1M343.8 32.6h1M343.8 33.3h1M345.4 32.6h1M349.1 32.8h1M345.3 33.5h1M345.7 34.1h1M347.2 34.3h1M347.2 33.8h1M351.5 33.8h1M352.7 34.3h1M349.1 36.1h1M351.6 36.3h1M351.7 35.6h1M347.3 36.8h1M345.2 37.8h1M347.1 38h1M347.9 38h1M345.8 39.1h1M346.9 39.4h1M348.7 39.1h1M349.2 39.4h1M346.1 40.3h1M345.6 41.2h1M347.5 40.7h1M348.1 40.7h1M345.7 42.4h1M345.8 43h1M347.2 44.3h1M347.2 46.3h1M347 46.6h1M348.8 46.9h1M346.2 47.8h1M348.9 48.1h1M346.3 49.1h1M347 49.1h1M347.6 49.4h1M348.2 48.9h1M348.6 50.1h1" stroke="#76dbd9" stroke-width="1" fill="none"/>
<path d="M339 26.9h1M345.4 50.6h1M348.4 50.6h1" stroke="#76dbd9" stroke-width="1" fill="none"/>
<path d="M344.5 84.5 C346.1 83.5 348.6 86 351.1 86.4 C353.5 86.9 357.2 86.2 358.9 87.3 C360.6 88.4 359.6 89.6 361.3 93 C363.1 96.4 368 103.5 369.2 107.6 C370.3 111.7 368.9 114.6 368.2 117.6 C367.5 120.6 367.3 123.1 365.3 125.8 C363.2 128.5 357.7 132.5 355.9 133.6 C354.2 134.7 355.7 132.2 354.5 132.4 C353.3 132.6 350.9 134.6 348.6 134.8 C346.3 135 342.1 135 340.8 133.6 C339.5 132.2 340.6 128.3 340.8 126.6 C340.9 124.9 341 124.8 341.6 123.3 C342.2 121.8 344.4 119.9 344.5 117.6 C344.6 115.3 342.5 112.5 342.2 109.4 C342 106.3 343.2 101.8 343 98.9 C342.9 96 341 94.6 341.2 92.2 C341.5 89.8 342.9 85.4 344.5 84.5Z" fill="#e0231f" fill-opacity="0.36"/>
<path d="M343.8 85.6h1M345.9 86.4h1M347.4 85.7h1M349.4 86.3h1M342.9 87.3h1M349.4 87.2h1M343.1 87.7h1M345.4 88h1M348 87.5h1M357.9 87.8h1M342.9 89.1h1M345.9 88.9h1M346.6 88.6h1M347.3 88.7h1M347.4 88.8h1M348.3 88.7h1M351.2 89.2h1M359.1 89.1h1M348.1 90.2h1M348.2 90h1M349.6 89.9h1M349.8 89.6h1M349.8 89.6h1M349.8 89.9h1M353.7 90.4h1M354.7 90.4h1M358.8 89.8h1M341.6 90.6h1M343.9 91.3h1M345 91.4h1M345.5 91.4h1M349.8 90.9h1M352.1 90.6h1M354 90.9h1M355 91.4h1M355.9 91.2h1M358 90.6h1M358.1 90.8h1M358.6 91.3h1M344.8 92h1M345.1 92.3h1M345.4 92.1h1M345.5 92.4h1M347.2 92.3h1M347.5 91.6h1M347.9 91.9h1M348.1 92.2h1M349.6 92.3h1M351.3 92h1M352.5 92.3h1M353.7 91.6h1M354.7 92h1M355.2 92.2h1M359.9 92.2h1M343.5 92.6h1M344.3 93.3h1M349.8 92.7h1M351.7 92.6h1M352.4 92.8h1M354.8 92.9h1M357 92.6h1M357.7 93.1h1M358.2 93.2h1M358.8 92.6h1M360.3 93.3h1M341.5 94.1h1M342.8 94.3h1M350.7 93.5h1M352.4 94.2h1M352.6 94.2h1M353.7 94.4h1M354.1 94.2h1M354.4 93.9h1M357.8 94.2h1M358 94h1M359.1 93.8h1M343.7 95.2h1M346.6 95.4h1M350.4 95h1M355.5 95.4h1M356 94.8h1M356.4 95.1h1M357.7 94.7h1M360.8 95.3h1M361.1 94.9h1M344.4 96h1M347.5 96.2h1M352.3 96.4h1M352.6 96h1M354.3 96h1M356.5 95.7h1M357 95.7h1M359.3 95.7h1M360.9 96h1M361.1 95.9h1M361.4 96.2h1M362 95.7h1M347.4 96.6h1M354.2 97.1h1M357.2 97.3h1M360 97.5h1M360.9 97.4h1M361.8 96.7h1M362.6 97.1h1M342.9 98.4h1M345.2 97.5h1M348.9 97.9h1M349.8 97.9h1M351 98h1M351.2 97.6h1M354.2 98.3h1M355.4 98.4h1M358.9 98.5h1M360.8 98.5h1M361 97.9h1M343.8 98.8h1M344.8 99.2h1M347.3 98.9h1M351 99.4h1M352.7 98.7h1M354.7 99h1M357.6 99.3h1M359.3 98.9h1M362.3 99.2h1M362.9 98.6h1M363.2 99.2h1M344 99.6h1M344.1 99.8h1M344.1 100h1M347 99.8h1M350.4 99.9h1M351.4 100.2h1M352.3 100h1M354.7 100.3h1M355.1 99.6h1M355.8 100.3h1M356.9 99.5h1M357.7 100.4h1M361.8 100.5h1M362.5 99.9h1M362.7 99.9h1M342.6 101.2h1M343.2 101.3h1M348.9 100.8h1M350.4 101.4h1M351.3 101.4h1M354 101.5h1M354.3 101.3h1M354.9 100.8h1M355.4 101h1M356.4 100.9h1M364.5 101.2h1M347.9 103h1M349.1 103h1M352.3 103.3h1M354.1 103.1h1M354.8 103.4h1M355.7 103.4h1M358.4 103.4h1M362.2 103.3h1M365.4 103h1M347 103.7h1M349.8 104.4h1M352.6 104.2h1M352.6 103.6h1M352.8 104.5h1M354.2 104.4h1M354.9 103.9h1M355.8 104h1M360 104.4h1M343.1 105.2h1M345.3 104.9h1M346.6 104.5h1M347.8 104.6h1M348.5 104.7h1M349.1 105.4h1M349.9 105.5h1M350.9 105.2h1M352.9 104.9h1M354.2 104.8h1M356 104.9h1M358.7 104.7h1M359 104.9h1M363.6 105.5h1M365.6 105h1M367.1 105h1M346.4 106.5h1M350.7 106.3h1M352.7 105.7h1M354.6 105.6h1M355 105.9h1M356.9 106h1M359.3 106.3h1M342.4 107.3h1M346.3 107.2h1M350.6 107.1h1M354.8 106.7h1M355.5 106.6h1M356.6 107.2h1M362.6 107.4h1M364.6 106.8h1M365 106.7h1M342.8 107.7h1M343.2 108.4h1M343.9 108.3h1M345.7 108.4h1M348.8 107.7h1M352.9 107.7h1M353.5 108.1h1M360.1 107.8h1M362.6 108.4h1M363.9 108.4h1M364.2 108.1h1M366.4 108.2h1M366.7 108.3h1M368.5 107.9h1M342.9 108.5h1M343 109.3h1M347.9 109h1M350.8 108.6h1M353.6 109.3h1M354.8 109.3h1M358 108.5h1M358.3 108.8h1M359.3 109.4h1M359.5 109.5h1M341.9 110h1M343.1 109.8h1M343.5 110.1h1M344.8 109.8h1M345.5 109.7h1M348.1 109.8h1M350.9 110.2h1M351.5 109.7h1M353.1 109.8h1M354.7 109.7h1M356.4 110.4h1M356.8 109.8h1M357.4 110.2h1M358.6 109.9h1M360.2 110.5h1M362.6 110.4h1M345.8 110.6h1M358.2 111.3h1M358.3 111.3h1M359.8 111.3h1M362.5 110.5h1M363.8 110.7h1M367.6 110.9h1M344.6 111.6h1M349.7 111.8h1M351.5 112.1h1M352 111.8h1M353.3 112.3h1M358.3 111.8h1M359.5 112h1M360.9 112.2h1M345.2 112.6h1M347 112.7h1M347.2 112.5h1M352.4 113.3h1M353.4 113.4h1M356.6 112.7h1M356.9 113.4h1M357.7 112.8h1M358.1 112.8h1M359 112.7h1M362.1 113.2h1M363.3 112.6h1M366.2 113h1M366.3 112.7h1M366.6 113h1M367.2 113h1M344.2 113.8h1M345.5 113.5h1M347.2 114h1M347.3 113.5h1M348.9 114h1M349.5 114h1M351 113.6h1M360 114.1h1M360.2 113.7h1M362.4 114h1M364 114h1M364.8 114.1h1M343.6 114.6h1M345.4 115.1h1M347.7 115.2h1M349.4 115h1M349.5 114.5h1M350.5 114.9h1M355.3 115h1M356 114.8h1M356 115.3h1M358.1 114.6h1M363 114.6h1M365.3 114.7h1M366 115.3h1M366.5 114.9h1M344.7 115.9h1M346.7 115.9h1M354 115.5h1M358.1 116.3h1M360.4 116.2h1M361.9 115.5h1M345.2 117h1M346.1 116.8h1M348.1 116.8h1M349.5 116.9h1M356.5 117.1h1M361 117.1h1M364.3 117.1h1M364.8 116.5h1M350.6 117.8h1M351.1 118.3h1M352 118.2h1M352.7 118.4h1M358.6 117.8h1M358.9 117.6h1M359.1 117.9h1M364 118.2h1M364.3 118.2h1M364.8 118.2h1M365.2 118h1M344.8 119.2h1M344.8 118.9h1M349.7 118.7h1M350.1 119.5h1M351.2 119.2h1M351.6 119.1h1M358.3 119.4h1M358.7 119.1h1M358.9 118.5h1M363.2 118.8h1M363.3 119.5h1M343.1 120.2h1M345.7 120.1h1M346.7 120h1M350.7 120.3h1M353.4 120.4h1M359.7 119.6h1M361.4 120.5h1M362.1 119.9h1M366.1 120h1M342.9 121h1M343.2 121.3h1M343.5 121.3h1M344.7 120.6h1M345.9 120.8h1M348.8 120.5h1M350.1 121.3h1M350.9 121.4h1M354 121.3h1M354.6 120.7h1M355.9 121.4h1M356.5 121.1h1M356.8 120.9h1M360.5 121.1h1M360.7 121.2h1M361.1 120.7h1M361.4 120.6h1M343.4 122h1M347.6 122.4h1M348.3 122h1M350.2 121.6h1M350.5 122.5h1M356.4 122.4h1M360 121.8h1M362.9 121.6h1M365.1 122.4h1M344.5 122.8h1M349.3 122.6h1M350.8 122.8h1M351.4 122.5h1M352.7 123.2h1M352.8 122.9h1M356 122.8h1M363.2 122.7h1M346.9 124.2h1M346.9 124h1M347.9 123.6h1M350.8 124.2h1M352.8 124.3h1M352.9 124.4h1M354.7 124.1h1M356.5 123.7h1M357.8 123.7h1M360.1 123.8h1M364.8 124.1h1M342 125h1M342.7 124.8h1M343.7 124.8h1M347.6 125.5h1M350.1 124.9h1M350.3 125.4h1M355.8 125.2h1M355.9 125.4h1M357 124.8h1M358.7 124.8h1M362.9 125.3h1M345.4 126.4h1M347.3 125.5h1M347.5 126.3h1M349.7 125.8h1M352.8 126.3h1M352.8 126.3h1M353.3 126.4h1M353.4 125.9h1M357 126h1M358.6 126.4h1M359.3 126.5h1M359.5 125.5h1M360.4 125.7h1M362.7 125.8h1M342.7 127.3h1M343.1 126.7h1M343.8 127.2h1M344.9 126.8h1M346.6 127.2h1M349.6 127h1M349.6 127.2h1M352 127.3h1M352.3 126.6h1M354.6 126.6h1M362.4 126.9h1M363 126.9h1M340.6 127.8h1M342.5 127.9h1M344.7 128.4h1M344.8 127.7h1M345.9 127.5h1M346.5 128.1h1M347.1 127.6h1M350.8 127.8h1M353.2 128h1M357.2 127.9h1M361.5 127.7h1M340.7 129.3h1M346.2 128.7h1M347.9 128.8h1M350.3 128.5h1M350.7 128.8h1M359.7 129.4h1M361.4 128.6h1M343.1 130.5h1M343.7 129.9h1M350.5 129.8h1M350.6 129.9h1M352.1 129.9h1M356.6 130.1h1M340.7 131.3h1M342.8 131h1M342.9 131h1M343.1 131.4h1M347.3 131.1h1M348.1 130.8h1M348.2 130.8h1M348.2 130.9h1M350 131.4h1M350.8 130.8h1M352 131.4h1M352.9 130.6h1M355.9 130.9h1M342.2 131.6h1M342.3 132.2h1M345.6 132.3h1M350.6 132.3h1M351.7 132.3h1M354.3 131.6h1M354.8 131.6h1M345.9 132.6h1M347.2 133.5h1M348.8 133.3h1M351.9 132.8h1M352 132.5h1M348.1 133.7h1M349.2 133.5h1M350.5 133.8h1" stroke="#e0231f" stroke-width="1" fill="none"/>
<path d="M340.7 90.1h1M362.5 93.2h1M365.1 98.2h1M342.2 100h1M367.4 102.4h1M370.5 108.3h1M341.2 110.4h1M342.9 117.1h1M368.3 117.3h1M369.1 116.9h1M365.1 127.4h1M366 127.4h1M339 130.1h1M360.1 130.4h1" stroke="#e0231f" stroke-width="1" fill="none"/>
<path d="M369 104.7 C369.1 103.1 368.1 106.7 369.2 107.6 C370.3 108.5 373.3 108.7 375.6 110.2 C377.8 111.8 380.6 113.8 382.9 116.8 C385.2 119.7 388.7 124.3 389.3 127.8 C389.8 131.4 387.8 135.7 386.3 138.1 C384.9 140.5 382.7 141.4 380.4 142.2 C378.2 143 375.2 142.5 373.1 143 C371 143.5 369.8 145.8 367.7 145.2 C365.7 144.7 362.8 141.7 360.8 139.7 C358.9 137.8 355.2 135.9 355.9 133.6 C356.7 131.3 363.2 128.5 365.3 125.8 C367.3 123.1 367.6 121.1 368.2 117.6 C368.8 114.1 368.8 106.4 369 104.7Z" fill="#3b9347" fill-opacity="0.396"/>
<path d="M371.1 109.1h1M368.9 109.9h1M369.9 109.9h1M371.1 110.4h1M369.1 111h1M370.8 110.6h1M374.6 110.7h1M371.7 111.8h1M372.5 112h1M373.1 111.8h1M373.3 111.6h1M374.1 111.7h1M376 112.3h1M376.7 112.1h1M376.5 112.9h1M377.7 113.1h1M369.8 114.3h1M372.6 114.2h1M373.2 113.8h1M374.8 114.4h1M377.9 114.2h1M369.8 114.5h1M374.1 115.1h1M368.2 115.7h1M368.6 115.6h1M370.9 116.3h1M373.2 115.9h1M376.4 116.4h1M373 116.9h1M375.4 116.9h1M376.5 117.4h1M379.4 116.9h1M381.1 117.5h1M382.1 117.1h1M370.3 118h1M371.3 118.1h1M373.8 118h1M374.5 117.9h1M374.8 117.7h1M377.4 117.7h1M378.1 118.4h1M378.8 117.9h1M381 118.4h1M383 118.3h1M367.8 118.6h1M373.1 118.5h1M374 119.4h1M374.1 119.3h1M376.7 118.6h1M377.2 119.2h1M378.7 118.8h1M383.2 118.9h1M368.8 120.3h1M369.7 119.8h1M371.1 120.4h1M373.1 120.5h1M373.6 120.5h1M375.2 119.6h1M377.8 119.7h1M382.9 119.8h1M367.5 120.6h1M371.3 120.8h1M373.8 121.1h1M378.6 121.1h1M380.8 121.1h1M381.4 120.5h1M383.5 121.3h1M384 121.5h1M367.7 122.3h1M369.6 121.8h1M371.8 122h1M372.9 121.8h1M375.1 121.8h1M375.2 122.1h1M375.8 121.9h1M378 121.9h1M379.1 122.3h1M380.5 121.9h1M384.6 121.7h1M368.4 123h1M368.6 122.9h1M374.1 122.7h1M374.4 122.5h1M374.7 122.8h1M374.9 123.4h1M378.3 123h1M385.1 123h1M385.5 123.2h1M365.7 124h1M366 124h1M368.7 124.1h1M372.4 124h1M372.6 124h1M377.6 123.9h1M379.2 123.8h1M380.7 123.9h1M380.8 123.9h1M380.9 123.8h1M382.6 123.8h1M382.8 123.7h1M385.1 124.1h1M385.2 123.7h1M386.1 124.3h1M386.7 124.5h1M367.1 125h1M371.9 124.6h1M372.5 125.5h1M377.2 125h1M377.7 124.8h1M379.2 124.6h1M379.6 125.3h1M380 124.7h1M380.9 125h1M365.6 126h1M370.8 126.1h1M371.1 125.7h1M371.1 126.3h1M375.2 126.2h1M378.8 125.8h1M379.4 126.5h1M380.9 126.4h1M381.1 125.7h1M382.4 126.2h1M385.5 125.6h1M365.5 126.8h1M365.5 126.6h1M368.3 127.1h1M369.1 127.3h1M369.6 126.6h1M369.9 127.5h1M372.1 127.5h1M372.6 126.6h1M373.9 126.6h1M376.1 126.7h1M377.9 127.5h1M381.1 126.5h1M381.8 127.5h1M382 126.9h1M385.6 126.8h1M363 127.6h1M363.9 128.5h1M364.1 128h1M367.7 128.3h1M369 127.7h1M372.6 127.5h1M373.3 128.3h1M379.8 128.1h1M380 127.9h1M381.7 127.9h1M382.8 128.5h1M385.3 127.5h1M363.5 128.6h1M365.4 129.4h1M365.7 129.1h1M365.9 129h1M367.1 128.9h1M373.3 128.9h1M374.3 129.1h1M376.8 128.8h1M377.3 128.6h1M378.8 128.9h1M380.6 129h1M383.3 129.1h1M387.2 128.8h1M361.9 130.1h1M362 130h1M365.6 129.8h1M369.1 130h1M375.7 129.6h1M376.4 129.9h1M379.8 129.7h1M380.3 130.3h1M383 129.8h1M362.9 131.4h1M367.9 130.8h1M370.8 131h1M374.7 130.6h1M376.4 131.3h1M376.8 130.5h1M377.9 130.7h1M379.3 130.6h1M380.9 130.5h1M385 131.3h1M386.1 131h1M364.1 131.7h1M366 132.5h1M366.7 132.3h1M370.2 132.4h1M372.1 131.7h1M373 132.4h1M376 132h1M376.9 132.3h1M379.8 131.9h1M381.5 132.3h1M381.7 132.3h1M383.1 132h1M385.4 131.7h1M386.4 131.9h1M356.6 133.1h1M356.9 132.9h1M360.9 133.4h1M362.8 133.5h1M363.2 133.3h1M363.3 133.4h1M363.7 132.7h1M367.4 133h1M371.2 132.5h1M379.9 132.6h1M380 133.1h1M380.4 132.9h1M380.8 132.8h1M382.3 132.8h1M383.1 132.7h1M384.7 133h1M356 134h1M357.1 133.8h1M357.5 134.4h1M359.2 134.1h1M361.2 134.4h1M361.5 133.9h1M361.7 133.5h1M362.3 134h1M365.4 134h1M365.5 134.3h1M365.6 134.4h1M366.7 133.6h1M370.2 134.4h1M371.2 133.6h1M373.9 134.2h1M378.9 134.2h1M379 134.1h1M381.2 134.1h1M381.5 133.6h1M381.6 134h1M383.5 134.4h1M357.7 134.9h1M359 135h1M359.3 135.2h1M364 134.9h1M364.5 134.6h1M366.1 134.8h1M369.1 135.1h1M369.2 134.9h1M371.9 135.4h1M372.6 134.9h1M373.8 135.3h1M376.5 134.6h1M379.6 134.9h1M379.8 135.5h1M381.2 135.1h1M385.5 135h1M358 135.9h1M358.1 136h1M362.4 136.5h1M363.2 136.4h1M364.2 136.3h1M364.6 136.4h1M367.1 135.5h1M373.2 135.9h1M375.3 136.1h1M377 136.3h1M384.2 135.5h1M384.4 136.4h1M386.3 135.6h1M359.2 136.8h1M359.6 136.8h1M362.5 137h1M363.2 137.1h1M364 137.4h1M368.3 137.3h1M370.7 136.9h1M371.7 137.1h1M371.9 137h1M372.7 136.6h1M374.2 137.3h1M374.9 136.5h1M377 137.4h1M378.3 136.9h1M378.7 137h1M379 137h1M381.1 137.2h1M381.8 136.7h1M382.4 136.7h1M382.9 137.3h1M360.6 138.4h1M362.3 137.9h1M362.5 138.1h1M364 138h1M365.7 138.5h1M370.1 137.7h1M370.8 137.6h1M371.2 137.6h1M374.5 137.8h1M375.1 138.2h1M375.3 137.7h1M382.7 138.5h1M383.5 138.3h1M383.9 137.8h1M385.5 137.7h1M363.1 138.9h1M365.3 139.2h1M365.8 139.1h1M372.9 139.3h1M374.1 139.1h1M374.3 139.4h1M376.2 139.5h1M360.4 139.8h1M360.9 140.2h1M362.1 139.5h1M362.1 139.6h1M364.3 139.8h1M366.1 140.5h1M367.6 140.4h1M374.6 139.7h1M375.8 139.6h1M376.2 139.6h1M377.2 139.8h1M382 140.4h1M364.4 140.5h1M364.6 140.6h1M369.8 141.1h1M373.8 141h1M374.4 140.8h1M378.7 140.6h1M378.9 140.7h1M363.8 142.3h1M364.2 142.1h1M364.3 142h1M364.9 141.9h1M366.7 141.5h1M366.9 141.9h1M369.6 142h1M370 142.4h1M370.1 141.5h1M370.5 141.9h1M371.5 141.6h1M373.9 141.9h1M374.5 142.2h1M366.4 142.5h1M366.5 143h1M368.2 142.6h1M369.2 143.1h1M373.6 142.9h1M374.7 142.6h1M376.5 142.5h1M366.9 143.9h1M367 144.2h1M367.3 143.8h1M368.7 143.5h1" stroke="#3b9347" stroke-width="1" fill="none"/>
<path d="M371.3 108.4h1M381.1 114.2h1M382.6 115.2h1M383.7 117.5h1M366.8 119.7h1M387.1 124.4h1M363.8 125.9h1M389.1 130.1h1M388.9 131.4h1M387.2 136.9h1M359.4 140.8h1M363.8 144.3h1M370.6 145.5h1M373.7 144.5h1" stroke="#3b9347" stroke-width="1" fill="none"/>
<path d="M353 134.8 C354.6 134.3 356.4 135.8 358.4 137.3 C360.4 138.8 364.4 141.7 364.8 143.8 C365.2 146 362.3 147.9 360.8 150.4 C359.4 152.9 357.5 156.7 355.9 158.6 C354.4 160.5 352.9 161.9 351.7 161.9 C350.5 161.9 349.3 160.4 348.6 158.6 C347.9 156.8 347.4 154.2 347.4 151.2 C347.4 148.2 347.7 143.3 348.6 140.6 C349.5 137.8 351.4 135.4 353 134.8Z" fill="#b43fe8" fill-opacity="0.36"/>
<path d="M353 137.5h1M354.3 137.1h1M355 136.9h1M350.2 138.4h1M350.5 138.3h1M350.8 138.4h1M357.9 137.9h1M354.3 138.8h1M359.7 139.2h1M350.1 139.8h1M350.1 139.8h1M350.4 139.8h1M350.7 140.1h1M351.1 139.8h1M350.5 141.1h1M355.7 140.7h1M357.9 141.3h1M355.8 141.8h1M355.8 141.6h1M356.2 142.4h1M356.4 142.3h1M356.9 141.6h1M357.1 141.8h1M361.4 141.5h1M349.3 143h1M349.7 143.3h1M349.9 143.1h1M352.9 142.5h1M354.4 143.4h1M356.4 143.2h1M358.5 142.6h1M359.2 142.7h1M362.3 143.1h1M363 142.9h1M349 144.5h1M349.8 143.5h1M356.4 144.3h1M356.5 143.6h1M357.6 143.6h1M358.4 144h1M359.3 143.7h1M348.5 144.7h1M353.4 144.9h1M358.6 144.7h1M359.2 144.6h1M361.5 145.1h1M362.4 144.7h1M363.2 145.4h1M363.3 144.9h1M348 146.1h1M350.6 145.8h1M353.7 146.2h1M354.9 146h1M356.6 146.2h1M358.5 146h1M358.8 145.6h1M359 145.8h1M351.8 147.5h1M353.3 147h1M357.7 146.6h1M358.3 146.8h1M359.5 147h1M360.8 147.1h1M348.3 148h1M348.3 147.6h1M348.8 147.6h1M350.8 147.9h1M353.4 147.7h1M353.8 148.3h1M355.2 147.7h1M355.9 148.2h1M358.4 148.2h1M359.2 148.3h1M360.9 147.8h1M361.4 147.7h1M348.5 149.4h1M348.8 148.9h1M351.6 148.7h1M352.7 148.7h1M353.9 148.9h1M355.7 149.4h1M356.7 149.1h1M358.3 149.4h1M358.8 148.6h1M358.9 148.6h1M351.6 149.8h1M351.9 149.6h1M352 150.4h1M354.8 149.9h1M357.4 149.8h1M357.9 149.6h1M360.1 149.5h1M360.2 150.3h1M348.2 150.5h1M350.9 151h1M354 151h1M354.3 151.3h1M358.2 151.4h1M359.4 150.6h1M350.5 152.3h1M350.9 152h1M351.7 151.6h1M349.4 153.3h1M349.9 153.5h1M356.1 152.9h1M356.8 152.9h1M350.7 153.8h1M357.6 154.1h1M350.1 155.1h1M352.9 154.8h1M353.7 156.3h1M348.1 157h1M348.7 157.1h1M351.3 157.1h1M351.7 157.3h1M352.2 156.5h1M352.8 157.1h1M356 157h1M348.6 157.6h1M349 158.4h1M349.5 157.9h1M349.8 157.5h1M351.4 157.7h1M352.1 158.3h1M348.4 158.7h1M351.4 159.4h1M350.1 160.1h1M351.3 160h1M351.8 160.6h1" stroke="#b43fe8" stroke-width="1" fill="none"/>
<path d="M356.3 135.5h1M363.4 141.7h1M347.3 147.7h1M350.9 162.2h1M351.1 162.1h1" stroke="#b43fe8" stroke-width="1" fill="none"/>
<path d="M383.4 139.7 C384 138.5 385.3 138.8 385.8 140.6 C386.4 142.3 386.2 146.4 386.8 150.4 C387.4 154.4 389.1 160.8 389.3 164.3 C389.4 167.9 388.7 170.4 387.8 171.7 C386.9 173.1 385.3 173.4 383.9 172.5 C382.5 171.7 380 169.1 379.5 166.8 C379 164.5 380.4 161.7 380.9 158.6 C381.4 155.5 382 151.1 382.4 147.9 C382.8 144.8 382.8 141 383.4 139.7Z" fill="#84162d" fill-opacity="0.324"/>
<path d="M383.9 140.2h1M383.8 140.8h1M384.1 140.7h1M384.3 141.4h1M384.2 142.2h1M384.8 142.3h1M382.9 142.8h1M382.8 145.2h1M385.7 144.8h1M383.6 146.7h1M385.6 147.3h1M381.8 148.4h1M383 147.8h1M385.5 148.1h1M383.8 149.4h1M385.3 149.6h1M382 151.4h1M383 151.2h1M385.4 151.1h1M385.7 150.5h1M383.7 152h1M382.3 152.7h1M384.3 153.3h1M381.7 153.6h1M381.5 155.3h1M384.6 154.8h1M384.8 155.9h1M386.1 156.4h1M381.7 156.7h1M381.9 157h1M386.4 157.2h1M386.6 156.6h1M386.7 157.6h1M384 158.9h1M384.7 159.3h1M385.7 160.1h1M387.5 160.4h1M380.3 161.2h1M383.2 161.3h1M384.1 161.1h1M388 161h1M380.1 161.9h1M380.4 161.6h1M383.1 161.7h1M384 162.3h1M386 162.2h1M386.7 162h1M382.6 162.7h1M385.2 162.5h1M387.3 162.8h1M380.5 163.5h1M383.5 163.6h1M384.6 164.4h1M385.9 163.6h1M386.9 164.3h1M388.5 164.2h1M379.8 165.2h1M381.5 164.8h1M383.7 164.9h1M384 165h1M385.5 164.5h1M386.3 165.4h1M380 166h1M380.4 166.2h1M384 165.8h1M383.4 167.5h1M386.9 167.4h1M380.1 167.6h1M384.1 168.3h1M382.5 169.4h1M382.6 168.5h1M382.9 168.9h1M386.3 168.8h1M386.4 168.5h1M385.2 169.6h1M385.9 170.5h1M384.4 171h1M385.1 171.2h1" stroke="#84162d" stroke-width="1" fill="none"/>
<path d="M380.3 158.5h1M384.4 173h1M387.4 173h1" stroke="#84162d" stroke-width="1" fill="none"/>
<path d="M336.7 73.3h1M336.8 72.8h1M337.6 73.4h1M338.6 72.7h1M339.2 73.3h1M339.5 72.7h1M343.1 72.8h1M343.6 72.5h1M346.2 73h1M346.2 73.5h1M347.5 72.5h1M350.1 73.1h1M350.3 73.1h1M338.5 74h1M343 73.9h1M348.8 73.8h1M350.5 74.1h1M351.3 74.2h1M351.6 73.6h1M352.5 73.6h1M336 74.8h1M336.8 75.5h1M339.2 75.4h1M341.2 75.3h1M343.2 75.1h1M347.7 75h1M349.9 75.5h1M350.4 74.5h1M352.4 74.5h1M336.4 75.9h1M346.9 76h1M347.7 76.2h1M348.5 75.6h1M348.7 75.9h1M349.5 76.5h1M350.1 76.4h1M353 76.2h1M353.4 75.7h1M343.5 77.4h1M344.5 77.4h1M344.8 77.2h1M348.7 77h1M352.5 77h1M340.9 78.3h1M344.6 77.9h1M350.4 78.2h1M350.4 78.2h1M351.9 78h1M352.9 77.5h1M354.7 77.7h1M356.2 78.4h1M360.3 78.2h1M338.1 79.3h1M339.2 79.5h1M344.7 79.3h1M347.1 79.1h1M349.6 78.6h1M349.8 79.5h1M351.1 78.6h1M351.5 79.1h1M354.4 78.6h1M355.2 79.2h1M356.6 79.4h1M357.2 79.2h1M357.9 78.8h1M359.5 79.3h1M360 78.6h1M336.6 79.6h1M345.5 79.8h1M345.6 80.1h1M352.4 80.5h1M358.2 79.9h1M348.9 81.2h1M355.4 81.2h1M355.5 81.1h1M355.9 81.3h1M356.2 81.1h1M340.7 82.4h1M345.6 82.2h1M345.9 82h1M349.7 82.1h1M356.7 81.6h1M357.8 81.8h1M360.5 81.8h1M336.7 83.3h1M337.2 82.9h1M337.6 82.5h1M338.1 82.6h1M348.4 82.8h1M350.7 83.2h1M357.9 82.9h1M340.7 84.2h1M341.3 83.5h1M350.2 84.1h1M352.6 83.7h1M352.7 84.1h1M340.5 85.4h1M342.5 85.2h1M354.4 85.3h1M338.8 85.8h1M349 85.8h1M349.2 86h1M356.5 85.9h1M337.7 86.5h1M338.9 87.2h1M358.3 86.9h1M337.3 88.4h1M340.3 88h1M337.7 89.2h1M338.9 89.3h1M340.4 89h1M336.2 90.2h1M338.4 91.1h1M339 91.4h1M335.9 92.6h1M337.5 93.1h1M337.1 94.1h1" stroke="#e0231f" stroke-width="1" fill="none"/>
<path d="M344.2 86.9h1M351.9 87.1h1M348.6 87.8h1M352.6 88.2h1M355.6 89.7h1M341.4 91.1h1M352.9 90.6h1M341.2 92.5h1M348.3 93h1M352.2 93h1M358.9 93.2h1M359.4 92.8h1M353.5 94.4h1M345.5 94.5h1M344.2 95.8h1M351.8 96.2h1M357.2 95.8h1M348.1 97.3h1M351.5 97h1M360 96.5h1M346 98.4h1M346.4 97.9h1M346.9 98.3h1M347 98h1M356.1 98.2h1M361.9 98.2h1M343.8 98.7h1M351.9 99.1h1M344.2 99.8h1M356.5 99.7h1M360.2 99.7h1M361.2 100.3h1" stroke="#ecd139" stroke-width="1" fill="none"/>
<path d="M366.7 105h1M362.2 105.9h1M360.4 106.7h1M363.8 107.1h1M365 113.7h1M363.9 119.3h1M365 120.5h1M365.3 120.5h1M365.9 121h1M362.2 123.1h1" stroke="#3b9347" stroke-width="1" fill="none"/>
<path d="M369.2 113.4h1M369.8 113.1h1M369.9 117.7h1M369.3 122h1M367.7 123.2h1M365.6 125.2h1M365 128.5h1M367.8 128.4h1M369.7 127.7h1M370.1 130.3h1M364.9 133.2h1M362 135.2h1M361.1 136.1h1M364.2 137.5h1M359 137.8h1M367.1 137.7h1M363.2 141.2h1M366.1 141.8h1" stroke="#e0231f" stroke-width="1" fill="none"/>
<path d="M345.4 38.1 L340.1 42.6 L339.5 55.3" fill="none" stroke="#6a2a5a" stroke-width="0.9"/>
<text x="303" y="103.2" font-size="12" text-anchor="middle" fill="#111" font-weight="normal"  stroke="#111" stroke-width="0.25">0</text>
<text x="330.7" y="106.3" font-size="12" text-anchor="middle" fill="#111" font-weight="normal"  stroke="#111" stroke-width="0.25">7</text>
<text x="347.1" y="75.2" font-size="12" text-anchor="middle" fill="#111" font-weight="normal"  stroke="#111" stroke-width="0.25">2</text>
<text x="349" y="33.9" font-size="12" text-anchor="middle" fill="#111" font-weight="normal"  stroke="#111" stroke-width="0.25">5</text>
<text x="336.6" y="51" font-size="12" text-anchor="middle" fill="#111" font-weight="normal"  stroke="#111" stroke-width="0.25">8</text>
<text x="354.5" y="119.1" font-size="12" text-anchor="middle" fill="#111" font-weight="normal"  stroke="#111" stroke-width="0.25"> </text>
<path d="M0.335 0V-0.69H0.262L0.215 -0.628L0.158 -0.578L0.098 -0.545V-0.468L0.168 -0.5L0.245 -0.555V0Z" fill="#111" stroke="#111" stroke-width="0.0208" transform="translate(351.14 119.1) scale(12.00 12)"/>
<text x="380" y="132.9" font-size="12" text-anchor="middle" fill="#111" font-weight="normal"  stroke="#111" stroke-width="0.25">3</text>
<text x="351.4" y="158.8" font-size="12" text-anchor="middle" fill="#111" font-weight="normal"  stroke="#111" stroke-width="0.25">4</text>
<text x="385.7" y="169.8" font-size="12" text-anchor="middle" fill="#111" font-weight="normal"  stroke="#111" stroke-width="0.25">6</text>
<ellipse cx="402.3" cy="25.4" rx="5.2" ry="3.8" fill="#2b4785"/>
<text x="402.3" y="27.3" font-size="5.4" text-anchor="middle" fill="#fff" font-weight="normal" >0</text>
<text x="412.4" y="28.1" font-size="7.5" fill="#111" stroke="#111" stroke-width="0.15" textLength="86.8" lengthAdjust="spacingAndGlyphs"><tspan font-style="italic">Uts2r</tspan><tspan font-size="4" dy="-3">+</tspan><tspan dy="3"> </tspan><tspan font-style="italic">Lox</tspan><tspan font-size="4" dy="-3">+</tspan><tspan dy="3"> fibrotic cells</tspan></text>
<ellipse cx="402.3" cy="41.8" rx="5.2" ry="3.8" fill="#e0231f"/>
<text x="402.3" y="43.7" font-size="5.4" text-anchor="middle" fill="#fff" font-weight="normal" >1</text>
<text x="412.4" y="44.5" font-size="7.5" fill="#111" stroke="#111" stroke-width="0.15" textLength="31.6" lengthAdjust="spacingAndGlyphs">Tenocytes</text>
<ellipse cx="402.3" cy="58.2" rx="5.2" ry="3.8" fill="#ecd139"/>
<text x="402.3" y="60.1" font-size="5.4" text-anchor="middle" fill="#fff" font-weight="normal" >2</text>
<text x="412.4" y="60.9" font-size="7.5" fill="#111" stroke="#111" stroke-width="0.15" textLength="33.8" lengthAdjust="spacingAndGlyphs">Tenoblasts</text>
<ellipse cx="402.3" cy="74.6" rx="5.2" ry="3.8" fill="#3b9347"/>
<text x="402.3" y="76.5" font-size="5.4" text-anchor="middle" fill="#fff" font-weight="normal" >3</text>
<text x="412.4" y="77.3" font-size="7.5" fill="#111" stroke="#111" stroke-width="0.15" textLength="100.6" lengthAdjust="spacingAndGlyphs"><tspan font-style="italic">Cd44</tspan><tspan font-size="4" dy="-3">+</tspan><tspan dy="3"> </tspan><tspan font-style="italic">Tppp3</tspan><tspan font-size="4" dy="-3">+</tspan><tspan dy="3"> tendon progenitors</tspan></text>
<ellipse cx="402.3" cy="91" rx="5.2" ry="3.8" fill="#b43fe8"/>
<text x="402.3" y="92.9" font-size="5.4" text-anchor="middle" fill="#fff" font-weight="normal" >4</text>
<text x="412.4" y="93.7" font-size="7.5" fill="#111" stroke="#111" stroke-width="0.15" textLength="32.5" lengthAdjust="spacingAndGlyphs">Tenogenic</text>
<ellipse cx="402.3" cy="107.4" rx="5.2" ry="3.8" fill="#76dbd9"/>
<text x="402.3" y="109.3" font-size="5.4" text-anchor="middle" fill="#fff" font-weight="normal" >5</text>
<text x="412.4" y="110.1" font-size="7.5" fill="#111" stroke="#111" stroke-width="0.15" textLength="42.7" lengthAdjust="spacingAndGlyphs">Enthesoblasts</text>
<ellipse cx="402.3" cy="123.8" rx="5.2" ry="3.8" fill="#84162d"/>
<text x="402.3" y="125.7" font-size="5.4" text-anchor="middle" fill="#fff" font-weight="normal" >6</text>
<text x="412.4" y="126.5" font-size="7.5" fill="#111" stroke="#111" stroke-width="0.15" textLength="74.8" lengthAdjust="spacingAndGlyphs"><tspan font-style="italic">Prg4</tspan><tspan font-size="4" dy="-3">+</tspan><tspan dy="3"> tendon progenitors</tspan></text>
<ellipse cx="402.3" cy="140.2" rx="5.2" ry="3.8" fill="#6e9ec9"/>
<text x="402.3" y="142.1" font-size="5.4" text-anchor="middle" fill="#fff" font-weight="normal" >7</text>
<text x="412.4" y="142.9" font-size="7.5" fill="#111" stroke="#111" stroke-width="0.15" textLength="85.9" lengthAdjust="spacingAndGlyphs">Muscle-tendon junction cells</text>
<ellipse cx="402.3" cy="156.6" rx="5.2" ry="3.8" fill="#4a1645"/>
<text x="402.3" y="158.5" font-size="5.4" text-anchor="middle" fill="#fff" font-weight="normal" >8</text>
<text x="412.4" y="159.3" font-size="7.5" fill="#111" stroke="#111" stroke-width="0.15" textLength="79.3" lengthAdjust="spacingAndGlyphs">Mineralizing chondrocytes</text>
<path d="M86 22.5 C86 23.5 85.6 24.6 85.1 25.4 C84.5 26.2 83.6 27 82.7 27.3 C81.8 27.6 80.6 27.6 79.7 27.3 C78.8 27 77.9 26.2 77.3 25.4 C76.8 24.6 76.4 23.5 76.4 22.5 C76.4 21.5 76.8 20.4 77.3 19.6 C77.9 18.8 78.8 18 79.7 17.7 C80.6 17.4 81.8 17.4 82.7 17.7 C83.6 18 84.5 18.8 85.1 19.6 C85.6 20.4 86 21.5 86 22.5Z" fill="#4a1645" fill-opacity="0.7"/>
<path d="M81.6 17.8h0.9M82.3 18.3h0.9M78.4 19h0.9M79.3 18.6h0.9M79.7 18.6h0.9M80.9 19h0.9M81.6 18.6h0.9M82.6 19.3h0.9M83 18.7h0.9M76.8 20.5h0.9M78.3 20h0.9M78.4 19.6h0.9M79.6 20.3h0.9M79.9 19.8h0.9M81 20.3h0.9M78.3 21h0.9M78.7 21.2h0.9M79 21.1h0.9M82.4 20.6h0.9M83 21h0.9M84.5 21.5h0.9M77.8 22.4h0.9M78.1 22.3h0.9M79.7 22.3h0.9M82.3 22h0.9M82.5 21.9h0.9M83.4 21.6h0.9M84.7 21.8h0.9M76.3 23.2h0.9M78.9 23.3h0.9M79.6 22.6h0.9M81.4 22.8h0.9M77.3 23.7h0.9M78.6 24.5h0.9M79.4 24h0.9M80.6 24h0.9M83.7 23.8h0.9M83.9 24.3h0.9M84.5 24.5h0.9M78.3 24.8h0.9M80.1 25.1h0.9M80.3 25.1h0.9M80.8 24.8h0.9M82.2 25h0.9M83.1 25.1h0.9M84 25.4h0.9M84.3 25.2h0.9M78.2 26.4h0.9M80.5 26h0.9" stroke="#4a1645" stroke-width="0.9" fill="none"/>
<path d="M73.3 36.5 C73.3 37.2 72.9 38 72.2 38.6 C71.6 39.2 70.5 39.7 69.5 39.9 C68.5 40.1 67.1 40.1 66.1 39.9 C65.1 39.7 64 39.2 63.4 38.6 C62.7 38 62.3 37.2 62.3 36.5 C62.3 35.8 62.7 35 63.4 34.4 C64 33.8 65.1 33.3 66.1 33.1 C67.1 32.9 68.5 32.9 69.5 33.1 C70.5 33.3 71.6 33.8 72.2 34.4 C72.9 35 73.3 35.8 73.3 36.5Z" fill="#4a1645" fill-opacity="0.7"/>
<path d="M63.5 34.4h0.9M64.3 34.1h0.9M66.1 33.6h0.9M64.2 34.5h0.9M65 35.2h0.9M66.1 35h0.9M67 34.7h0.9M69.4 35.2h0.9M70.7 34.5h0.9M71.7 35h0.9M62.4 36.5h0.9M63 35.7h0.9M63 36.3h0.9M66.1 35.8h0.9M66.2 35.7h0.9M66.6 35.8h0.9M66.9 35.8h0.9M67.4 35.8h0.9M67.5 35.5h0.9M69.5 36.3h0.9M70.5 35.8h0.9M71.6 36.2h0.9M63.8 37.2h0.9M67 37.5h0.9M68.3 37h0.9M69.1 37.2h0.9M70.7 37.2h0.9M71.8 37.4h0.9M64.6 37.7h0.9M65.1 38.2h0.9M65.6 37.5h0.9M65.6 37.6h0.9M68.5 38.3h0.9M69.6 37.5h0.9M70 38.3h0.9M63.9 38.6h0.9M70.6 38.7h0.9M66.8 39.8h0.9M68.3 39.7h0.9M68.6 39.8h0.9" stroke="#4a1645" stroke-width="0.9" fill="none"/>
<path d="M72 33 C72.4 31.8 74.7 31 75.5 30 C76.3 29 76.5 27.3 77 27 C77.5 26.7 78.7 27 78.5 28 C78.3 29 76.9 31.5 76 33 C75.1 34.5 73.7 37 73 37 C72.3 37 71.6 34.2 72 33Z" fill="#4a1645" fill-opacity="0.6"/>
<path d="M76.8 28.4h0.9M76.6 29.3h0.9M75.9 30.3h0.9M74 31h0.9M74.7 31.4h0.9M76.1 30.9h0.9M72.6 32.2h0.9M73.9 32.4h0.9M72.9 33.2h0.9M73.4 32.6h0.9M72.3 33.9h0.9M72.7 34.1h0.9M73.9 34.2h0.9M74.8 33.7h0.9M72.3 35.1h0.9" stroke="#4a1645" stroke-width="0.9" fill="none"/>
<path d="M63 44 C64.7 43.2 68 42.2 70 42.5 C72 42.8 74.2 44.1 75 45.5 C75.8 46.9 75.2 48.9 74.5 51 C73.8 53.1 72.1 55.6 71 58 C69.9 60.4 68.9 64.4 68 65.5 C67.1 66.6 65.8 65.9 65.5 64.5 C65.2 63.1 65.9 59.1 66 57 C66.1 54.9 66.5 53 66 52 C65.5 51 64.5 50.3 63 51 C61.5 51.7 58.8 54.2 57 56 C55.2 57.8 53.1 59.5 52 61.5 C50.9 63.5 50.8 65.4 50.5 68 C50.2 70.6 51 73.8 50.5 77 C50 80.2 48.5 86.1 47.5 87.5 C46.5 88.9 45.6 87.1 44.5 85.5 C43.4 83.9 41.7 80.1 41 78 C40.3 75.9 40.1 74.8 40.5 73 C40.9 71.2 41.9 69.7 43.5 67.5 C45.1 65.3 47.9 62.4 50 60 C52.1 57.6 54.3 55.1 56 53 C57.7 50.9 58.8 49 60 47.5 C61.2 46 61.3 44.8 63 44Z" fill="#76dbd9" fill-opacity="0.45"/>
<path d="M67.4 43.1h0.9M69.3 42.7h0.9M68.7 43.8h0.9M71.3 44.2h0.9M62.4 45.2h0.9M70.1 45.4h0.9M72 44.7h0.9M72.1 44.9h0.9M73.6 45h0.9M61.4 46.2h0.9M61.8 46.2h0.9M63.6 45.6h0.9M63.7 46h0.9M66 45.8h0.9M66.1 45.5h0.9M67.3 45.6h0.9M67.9 45.8h0.9M69.8 45.8h0.9M71.4 46.2h0.9M60.6 46.8h0.9M60.9 46.5h0.9M61.4 47h0.9M63.9 47.2h0.9M66.9 46.6h0.9M67.4 46.6h0.9M69.4 47.4h0.9M60.4 48.3h0.9M61.5 48.2h0.9M62 48.3h0.9M63.5 48.3h0.9M66.1 48.4h0.9M67.5 48.3h0.9M73.6 48.1h0.9M58.4 49.4h0.9M60.2 48.7h0.9M60.4 49h0.9M60.9 48.8h0.9M62.2 48.7h0.9M63.1 49.3h0.9M64.3 48.8h0.9M65.4 49.2h0.9M67.9 48.9h0.9M68 48.7h0.9M68.8 49.4h0.9M69.8 49.5h0.9M70.9 49h0.9M71.2 48.5h0.9M71.7 49.4h0.9M71.7 49.1h0.9M72.4 49.3h0.9M72.9 48.6h0.9M74.1 49.2h0.9M58.4 50.5h0.9M58.4 49.8h0.9M59.1 49.9h0.9M61.1 50.3h0.9M61.8 50.2h0.9M63.1 50.3h0.9M63.3 49.8h0.9M63.4 49.5h0.9M63.6 49.6h0.9M65 50.1h0.9M65.7 50.1h0.9M69.4 49.6h0.9M57.8 51.3h0.9M58.4 50.9h0.9M58.8 51.2h0.9M61.1 51h0.9M61.3 51.5h0.9M67.4 50.5h0.9M68.9 51.1h0.9M69.5 50.9h0.9M72.4 50.8h0.9M73.6 51.1h0.9M73.6 50.6h0.9M57.3 51.7h0.9M60.9 51.6h0.9M65.8 51.8h0.9M66.6 51.7h0.9M68.7 51.9h0.9M70.5 52h0.9M72.7 51.6h0.9M73 52.4h0.9M58 52.6h0.9M59.3 52.8h0.9M59.3 52.5h0.9M67.9 53h0.9M69.5 53.2h0.9M55.9 54.3h0.9M56 53.6h0.9M56.4 53.7h0.9M57.4 54.4h0.9M65.8 53.8h0.9M69.2 53.7h0.9M69.3 53.6h0.9M71.5 53.5h0.9M72.1 53.7h0.9M54.9 54.7h0.9M57.2 55.1h0.9M68.6 54.6h0.9M69.6 54.7h0.9M70.8 55.5h0.9M72.1 54.7h0.9M66.1 55.7h0.9M66.9 56.3h0.9M54.5 57h0.9M54.8 56.9h0.9M65.8 57h0.9M66.8 57.4h0.9M67 57.1h0.9M69 57.3h0.9M70.4 56.5h0.9M70.8 56.7h0.9M71.1 56.7h0.9M51.2 58.1h0.9M53 58h0.9M66.7 58.2h0.9M70.5 57.6h0.9M49.9 60.1h0.9M50.5 59.6h0.9M50.5 60.3h0.9M67.4 60.3h0.9M67.4 59.8h0.9M68.1 59.7h0.9M69.4 59.6h0.9M49.6 60.6h0.9M49.8 61.5h0.9M50.2 61.3h0.9M50.5 61.3h0.9M50.6 60.6h0.9M51.1 61.2h0.9M66.4 61.2h0.9M47.9 62.3h0.9M68.5 61.6h0.9M49.8 63.2h0.9M50 62.8h0.9M50.7 62.7h0.9M67 62.6h0.9M67.1 62.8h0.9M67.6 62.9h0.9M46.4 64.5h0.9M47 64h0.9M47.9 63.8h0.9M48.3 63.5h0.9M66.1 64.4h0.9M45.8 64.8h0.9M46.8 65.3h0.9M47 64.8h0.9M47.7 65h0.9M49.2 64.5h0.9M50 65.4h0.9M46.5 66.4h0.9M46.7 65.8h0.9M47.6 66.4h0.9M47.8 66.1h0.9M49.7 66.1h0.9M49.9 65.7h0.9M50.4 66.2h0.9M47.3 67.4h0.9M50.3 66.5h0.9M43.6 67.9h0.9M46.7 68.5h0.9M47.4 67.6h0.9M49.7 68.4h0.9M43.6 69.5h0.9M44 69h0.9M44.3 69.5h0.9M46.7 69h0.9M47.6 69.3h0.9M48.2 69.4h0.9M42.3 70.1h0.9M44.1 69.7h0.9M49.5 70.4h0.9M43.8 70.6h0.9M45.7 71.3h0.9M47.9 70.8h0.9M49.2 71.3h0.9M42.3 72.1h0.9M46 72.1h0.9M46.5 72.1h0.9M46.8 71.7h0.9M48.3 72.3h0.9M40.2 72.8h0.9M50 73.2h0.9M40.7 74h0.9M40.8 74h0.9M41.4 74.2h0.9M41.8 74.1h0.9M42.2 74.3h0.9M47 73.7h0.9M47.4 74.5h0.9M49.2 74.5h0.9M49.2 74.2h0.9M44 74.5h0.9M45.3 74.7h0.9M48.9 75h0.9M42.1 76h0.9M43 75.8h0.9M44 76.1h0.9M45 75.8h0.9M46 76.1h0.9M46.4 76h0.9M48.1 76.2h0.9M49 75.6h0.9M41.5 77h0.9M41.9 76.5h0.9M46.3 77h0.9M47.4 77h0.9M41.2 77.8h0.9M41.2 78h0.9M44 77.6h0.9M45.1 78h0.9M45.1 78.2h0.9M47.3 77.9h0.9M49 78.3h0.9M47.8 79.1h0.9M48.9 78.6h0.9M42.7 79.9h0.9M43.1 80.3h0.9M44.8 80.3h0.9M48.3 80.4h0.9M42 80.6h0.9M44.9 80.8h0.9M48.4 81.2h0.9M48.4 80.6h0.9M42.4 81.5h0.9M43.1 81.6h0.9M43.3 81.6h0.9M44.9 82.1h0.9M47.5 82h0.9M47.8 82.2h0.9M47.8 82.4h0.9M48.3 82.1h0.9M43.2 83h0.9M44.6 83h0.9M46.1 82.9h0.9M46.3 82.6h0.9M46.4 82.6h0.9M46.2 83.7h0.9M44.4 84.5h0.9M47.3 85.4h0.9M47.2 85.8h0.9" stroke="#76dbd9" stroke-width="0.9" fill="none"/>
<path d="M78.5 58.5 C79.6 57.9 81.8 59.2 82.5 60.5 C83.2 61.8 82.3 63.6 82.5 66 C82.7 68.4 82.4 72.7 83.5 75 C84.6 77.3 87.2 78.3 89 80 C90.8 81.7 93.7 83.1 94.5 85 C95.3 86.9 94.9 90.6 94 91.5 C93.1 92.4 90.5 91.4 89 90.5 C87.5 89.6 86.6 87.6 85 86 C83.4 84.4 80.9 83 79.5 81 C78.1 79 77.1 76.8 76.5 74 C75.9 71.2 75.7 66.6 76 64 C76.3 61.4 77.4 59.1 78.5 58.5Z" fill="#84162d" fill-opacity="0.55"/>
<path d="M78.4 59h0.9M78.2 60.4h0.9M81 60.4h0.9M81.1 60.2h0.9M81.1 60.1h0.9M78.4 61.3h0.9M79.8 61.3h0.9M80.8 61.4h0.9M77.1 61.5h0.9M76.4 63.3h0.9M77.6 63.1h0.9M77.7 62.9h0.9M79.9 63.1h0.9M81.2 63h0.9M77.2 63.9h0.9M78.2 63.6h0.9M79.9 63.8h0.9M81.4 64.1h0.9M75.9 64.9h0.9M75.9 64.7h0.9M76.4 64.6h0.9M76.5 65h0.9M77.5 64.8h0.9M77.6 65.1h0.9M77.8 64.9h0.9M78.3 65.2h0.9M79 65.4h0.9M81.5 64.8h0.9M77.1 66h0.9M78.1 65.9h0.9M78.4 65.8h0.9M78.4 65.9h0.9M79.1 65.9h0.9M80 66.4h0.9M80.2 66h0.9M81.6 66.5h0.9M76.6 66.8h0.9M78 66.9h0.9M78.5 67.3h0.9M79.7 67h0.9M77.9 68.3h0.9M81.1 67.5h0.9M81.1 68.4h0.9M78.3 69.2h0.9M78.5 68.6h0.9M79.6 69.3h0.9M81.1 68.5h0.9M81.3 69h0.9M82 69h0.9M78 70.4h0.9M78.6 70.2h0.9M80.8 70h0.9M81.1 70.2h0.9M81.2 69.9h0.9M81.3 69.8h0.9M76.9 70.7h0.9M79 71.2h0.9M79.3 71.5h0.9M79.7 70.7h0.9M80 71.1h0.9M76.4 71.9h0.9M76.7 72.1h0.9M79.8 72.1h0.9M82.4 72.1h0.9M78.5 72.7h0.9M79.6 73.4h0.9M80.5 73.4h0.9M81 73.1h0.9M76.5 73.8h0.9M78 74.1h0.9M78.2 73.6h0.9M79.3 73.8h0.9M80.6 74.5h0.9M76.7 74.7h0.9M79.4 74.8h0.9M80 75.3h0.9M80.3 75h0.9M77.2 75.8h0.9M80.9 76.3h0.9M82.1 75.5h0.9M83.6 76.4h0.9M77.6 77.4h0.9M78.6 76.8h0.9M80.7 76.6h0.9M80.8 76.9h0.9M83.3 76.6h0.9M84.1 76.8h0.9M80.3 77.7h0.9M83.2 77.6h0.9M83.7 78.3h0.9M85.1 77.9h0.9M85.6 78.2h0.9M85.8 78.2h0.9M85.9 78.5h0.9M78.9 79.2h0.9M82.3 79.3h0.9M82.5 79h0.9M83 78.8h0.9M79.2 80.1h0.9M79.2 79.7h0.9M80.2 80h0.9M81.4 80h0.9M83.5 79.8h0.9M83.7 80.3h0.9M85.9 80.5h0.9M88.2 80.2h0.9M79.7 80.6h0.9M80.8 80.7h0.9M82.2 81.1h0.9M87.2 81.1h0.9M87.9 81.1h0.9M88.2 80.6h0.9M81.3 81.7h0.9M82.6 82.3h0.9M83.5 82h0.9M83.5 82.2h0.9M84.2 82.4h0.9M88 82.2h0.9M89.6 81.5h0.9M90.3 82.1h0.9M82.1 82.5h0.9M83 82.9h0.9M84.2 83.1h0.9M84.6 82.6h0.9M85.3 82.6h0.9M87.3 83.1h0.9M88.4 83.2h0.9M89.4 82.9h0.9M90.9 83.4h0.9M82.2 83.8h0.9M83.9 84.1h0.9M87.2 83.5h0.9M88.8 84.1h0.9M90 84.1h0.9M90.3 84.4h0.9M90.6 84h0.9M92.5 84.2h0.9M85 85.5h0.9M86.5 84.7h0.9M92.6 85h0.9M93.4 84.8h0.9M93.9 85.2h0.9M85.5 85.5h0.9M86.2 85.8h0.9M90 86h0.9M90.7 85.7h0.9M91.1 86.3h0.9M91.3 86.4h0.9M87 86.9h0.9M87.9 87.3h0.9M90.7 86.6h0.9M90.8 87.4h0.9M86.6 87.9h0.9M89.1 88.4h0.9M91.4 87.9h0.9M92.9 88.1h0.9M93 88h0.9M93 88.2h0.9M88.6 88.7h0.9M92.1 88.8h0.9M92.4 88.5h0.9M93 88.7h0.9M88.8 89.7h0.9M90.3 89.8h0.9M91.2 89.9h0.9" stroke="#84162d" stroke-width="0.9" fill="none"/>
<path d="M68.2 77.5 C68.9 77.8 70.7 81.8 70.5 83.5 C70.3 85.2 67.9 86.4 67 88 C66.1 89.6 65.4 93 65 93 C64.6 93 64.2 89.8 64.5 88 C64.8 86.2 65.9 83.8 66.5 82 C67.1 80.2 67.5 77.2 68.2 77.5Z" fill="#e2357c" fill-opacity="0.7"/>
<path d="M68.3 79.4h0.9M67.6 80.9h0.9M66.5 81.6h0.9M67.2 81.8h0.9M67.3 81.9h0.9M67.8 81.9h0.9M68.1 82.2h0.9M69.1 82.1h0.9M66.6 82.6h0.9M66.8 83h0.9M67.9 83h0.9M66.5 83.8h0.9M68.8 84.1h0.9M65.6 84.9h0.9M66.5 85.4h0.9M64.7 86.4h0.9M64.8 86.5h0.9M66.5 86.5h0.9M64.8 88.3h0.9M65.4 87.9h0.9M64.4 88.5h0.9M65.2 89.2h0.9M64.9 91.9h0.9M64.6 92.7h0.9" stroke="#e2357c" stroke-width="0.9" fill="none"/>
<path d="M57 112 C 63 117, 72 115, 80 110 C 84 107, 85.5 103, 86.8 96" fill="none" stroke="#6e9ec9" stroke-width="2.6" stroke-opacity="0.75"/>
<path d="M80 111 C 83 108, 85.5 104, 86 100" fill="none" stroke="#6e9ec9" stroke-width="3.5" stroke-opacity="0.6"/>
<path d="M59.5 111.5 C59.5 111.8 59.3 112.2 59.1 112.4 C58.9 112.7 58.5 112.9 58.1 113 C57.7 113.1 57.3 113.1 56.9 113 C56.5 112.9 56.1 112.7 55.9 112.4 C55.7 112.2 55.5 111.8 55.5 111.5 C55.5 111.2 55.7 110.8 55.9 110.6 C56.1 110.3 56.5 110.1 56.9 110 C57.3 109.9 57.7 109.9 58.1 110 C58.5 110.1 58.9 110.3 59.1 110.6 C59.3 110.8 59.5 111.2 59.5 111.5Z" fill="#7fd86a" fill-opacity="0.9"/>
<path d="M57.1 110h0.9M57.2 110.5h0.9M56.3 110.7h0.9M56.4 110.9h0.9M57.1 110.8h0.9M58 111.1h0.9" stroke="#7fd86a" stroke-width="0.9" fill="none"/>
<path d="M95 58.5 C95.5 57.7 98.5 57 100 57 C101.5 57 102.8 57.6 104 58.5 C105.2 59.4 105.6 61 107 62.5 C108.4 64 112.3 66.2 112.5 67.5 C112.7 68.8 109 68.6 108 70 C107 71.4 106.8 74.2 106.5 76 C106.2 77.8 106.8 80.3 106.5 81 C106.2 81.7 105 81.7 104.5 80 C104 78.3 104.2 73 103.5 71 C102.8 69 101.1 69.5 100 68 C98.9 66.5 97.8 63.6 97 62 C96.2 60.4 94.5 59.3 95 58.5Z" fill="#3b9347" fill-opacity="0.6"/>
<path d="M97.8 57.8h0.9M98.6 58.5h0.9M99.6 57.7h0.9M100.2 58.4h0.9M97.5 59.2h0.9M101.6 58.9h0.9M101.9 59.1h0.9M103.4 59.2h0.9M99.7 60.2h0.9M100.3 60.5h0.9M100.6 59.7h0.9M100.7 59.8h0.9M103.6 59.6h0.9M96.1 60.7h0.9M96.1 60.5h0.9M96.4 60.6h0.9M98.3 61.3h0.9M98.4 60.8h0.9M99 61h0.9M101.8 61.1h0.9M101.9 61.3h0.9M98.2 61.6h0.9M99.5 62.1h0.9M99.6 62.4h0.9M102.4 61.8h0.9M102.9 61.8h0.9M97.3 62.7h0.9M97.7 62.9h0.9M98.5 63.4h0.9M99.4 63h0.9M100.1 63.4h0.9M102.5 63.1h0.9M103.8 62.6h0.9M103.9 63h0.9M105 63.2h0.9M106.3 62.8h0.9M106.6 62.9h0.9M98.9 64.4h0.9M99.6 63.6h0.9M100.3 64.4h0.9M100.3 63.7h0.9M102.1 63.8h0.9M103.2 64.2h0.9M105.3 64.3h0.9M98.4 65.3h0.9M100 65.4h0.9M101.5 64.7h0.9M103.2 65.3h0.9M99.3 66.2h0.9M99.5 66.5h0.9M101.6 65.8h0.9M102.6 66h0.9M102.7 65.7h0.9M103.7 66.3h0.9M105.7 66.2h0.9M106.7 66.2h0.9M108.4 65.5h0.9M99.1 66.7h0.9M100.6 67.5h0.9M102.3 66.9h0.9M103.4 66.7h0.9M103.8 66.7h0.9M105.4 67.2h0.9M105.5 66.7h0.9M107.1 67.3h0.9M108.4 67h0.9M110 66.8h0.9M110.4 66.6h0.9M110.7 66.9h0.9M110.7 67.1h0.9M101.7 68.3h0.9M101.8 67.8h0.9M103.7 67.7h0.9M103.9 68h0.9M105.1 68.2h0.9M105.8 67.7h0.9M106.7 67.6h0.9M108.1 68.1h0.9M108.8 68.5h0.9M110.8 67.7h0.9M103.1 68.9h0.9M104.9 69h0.9M107.2 69.1h0.9M108.5 69.2h0.9M109.8 68.7h0.9M103 70h0.9M103.5 69.9h0.9M105 70.2h0.9M103.7 70.8h0.9M106 71.5h0.9M107.1 70.7h0.9M103.5 71.8h0.9M105 71.9h0.9M106.5 71.7h0.9M103.6 72.9h0.9M104 72.7h0.9M104.2 72.6h0.9M104.6 73.5h0.9M103.8 74.2h0.9M105.9 73.6h0.9M105 75.1h0.9M106 75.6h0.9M105.4 76.5h0.9M104 78.3h0.9M104.4 77.5h0.9M105.5 77.7h0.9M105.2 79.3h0.9M105.9 80.9h0.9" stroke="#3b9347" stroke-width="0.9" fill="none"/>
<path d="M110.3 33.2 C110.3 33.6 110.1 34 109.9 34.3 C109.7 34.5 109.3 34.8 108.9 34.9 C108.5 35 108.1 35 107.7 34.9 C107.3 34.8 106.9 34.5 106.7 34.3 C106.5 34 106.3 33.6 106.3 33.2 C106.3 32.8 106.5 32.4 106.7 32.1 C106.9 31.9 107.3 31.6 107.7 31.5 C108.1 31.4 108.5 31.4 108.9 31.5 C109.3 31.6 109.7 31.9 109.9 32.1 C110.1 32.4 110.3 32.8 110.3 33.2Z" fill="#b43fe8" fill-opacity="0.9"/>
<path d="M109.3 32.2h0.9M108 33h0.9M106.6 34.4h0.9M107.7 33.9h0.9M107.9 34.4h0.9M107.9 33.7h0.9M108.6 34.3h0.9" stroke="#b43fe8" stroke-width="0.9" fill="none"/>
<path d="M109 35 L116 41" stroke="#b43fe8" stroke-width="1"/>
<path d="M116.1 48.9 C117.4 47.3 119.8 46.4 122.6 45.3 C125.4 44.2 129.9 42.2 132.7 42.2 C135.5 42.2 138 44.1 139.2 45.5 C140.3 46.9 139.9 48.9 139.6 50.5 C139.3 52.1 138.7 53.6 137.5 55 C136.3 56.4 134.2 56.6 132.7 59 C131.2 61.4 129.6 66 128.4 69.2 C127.2 72.4 127.2 76.7 125.5 77.9 C123.8 79.1 120.2 77.9 118.3 76.4 C116.4 75 114.3 71.6 113.9 69.2 C113.5 66.8 116 64.4 116.1 62 C116.2 59.6 114.6 56.9 114.6 54.7 C114.6 52.5 114.8 50.5 116.1 48.9Z" fill="#e0231f" fill-opacity="0.65"/>
<path d="M129.5 43.1h0.9M130.9 43.1h0.9M131.6 43.3h0.9M127 44.1h0.9M127.1 44.1h0.9M127.9 44.3h0.9M128 44.2h0.9M128.1 43.5h0.9M129 44h0.9M130.2 43.9h0.9M131.9 43.8h0.9M134.4 44.4h0.9M134.6 44.5h0.9M134.7 44h0.9M125 45.2h0.9M126.2 45.2h0.9M127.7 45h0.9M129.9 44.8h0.9M131.3 45.4h0.9M137.3 45.3h0.9M120.9 46.4h0.9M121.7 46.2h0.9M122.1 46.4h0.9M122.9 45.7h0.9M123.8 46.4h0.9M124.6 46.1h0.9M126.3 46.2h0.9M126.3 45.6h0.9M127 45.5h0.9M127.2 46.1h0.9M128.6 46.5h0.9M128.9 46.3h0.9M129.6 45.6h0.9M129.8 45.9h0.9M131.6 45.9h0.9M131.8 46h0.9M132.3 46h0.9M132.9 45.9h0.9M133.8 46h0.9M134.4 45.8h0.9M134.6 46.2h0.9M134.8 46.5h0.9M134.9 46.1h0.9M135.1 45.9h0.9M120.5 47h0.9M120.6 47.2h0.9M120.6 46.8h0.9M121.3 46.6h0.9M121.4 47.5h0.9M121.7 46.7h0.9M124.2 47.2h0.9M124.4 47h0.9M124.6 47.4h0.9M124.9 47.1h0.9M125.3 46.7h0.9M125.3 46.8h0.9M126.6 46.7h0.9M126.6 46.7h0.9M129.7 46.6h0.9M130.7 47.1h0.9M130.8 46.8h0.9M131.2 46.7h0.9M132.6 47h0.9M137.4 47.2h0.9M137.8 46.5h0.9M118.4 48.3h0.9M118.5 47.8h0.9M121.6 47.6h0.9M121.8 47.8h0.9M122.7 48.2h0.9M122.9 48h0.9M124.6 48.4h0.9M125.2 48.2h0.9M128.1 47.7h0.9M128.3 47.6h0.9M128.7 47.7h0.9M128.8 48.3h0.9M131.2 48.1h0.9M132.5 48.1h0.9M132.6 47.7h0.9M132.6 47.7h0.9M133 48.3h0.9M135.4 48.1h0.9M137.6 47.6h0.9M138.7 47.6h0.9M116.7 49.3h0.9M116.9 49.1h0.9M119.3 48.9h0.9M119.6 49.3h0.9M120 49.3h0.9M120.7 49.3h0.9M120.8 49.1h0.9M123.3 48.8h0.9M123.5 48.7h0.9M123.8 49.5h0.9M124.6 49.1h0.9M124.9 48.9h0.9M127.2 49.4h0.9M128.2 48.8h0.9M129.5 48.5h0.9M131.2 48.7h0.9M134.3 49h0.9M138.5 48.7h0.9M116.6 49.7h0.9M117.2 49.6h0.9M118.1 50.2h0.9M118.3 50h0.9M118.5 49.8h0.9M119 50.3h0.9M119.9 49.6h0.9M120.5 50.3h0.9M121 50.2h0.9M121.5 49.8h0.9M121.5 49.8h0.9M122.7 50.5h0.9M123.7 49.7h0.9M124.5 50.5h0.9M125.3 50.2h0.9M125.6 50.2h0.9M127.5 50.5h0.9M129.3 50.5h0.9M129.4 50.1h0.9M131 49.7h0.9M132.4 50.4h0.9M132.9 50h0.9M134.8 50.2h0.9M135.1 50.3h0.9M136.1 49.9h0.9M139.1 49.7h0.9M115.8 50.9h0.9M119.1 51.1h0.9M121.7 51h0.9M126.9 50.6h0.9M127.9 50.7h0.9M128 51.3h0.9M128.9 50.9h0.9M131.6 50.6h0.9M133.4 51h0.9M134 50.8h0.9M134.1 50.7h0.9M134.1 51.4h0.9M134.5 51.5h0.9M134.7 51h0.9M137.4 51h0.9M116.3 51.5h0.9M116.5 51.7h0.9M116.6 52h0.9M117.3 51.9h0.9M122.1 52h0.9M122.2 51.7h0.9M122.2 52.3h0.9M123.4 52.2h0.9M124.5 52.5h0.9M126.8 52.2h0.9M127.3 51.8h0.9M127.8 52h0.9M129.2 52.2h0.9M131.7 51.9h0.9M132.1 51.8h0.9M132.5 52.2h0.9M133.3 52.1h0.9M135.3 52.3h0.9M136 51.5h0.9M136.2 51.6h0.9M136.5 51.9h0.9M114.5 53.5h0.9M115.1 53.1h0.9M116.8 53h0.9M117.6 53.4h0.9M117.9 52.8h0.9M118 53.1h0.9M119.4 53h0.9M123.6 53.1h0.9M123.6 52.8h0.9M124.1 52.9h0.9M128.1 53.4h0.9M129.4 53.1h0.9M129.7 53h0.9M130.1 52.7h0.9M132.2 53.3h0.9M132.9 53h0.9M133.4 52.7h0.9M136.5 52.6h0.9M137.4 53.1h0.9M118.6 53.6h0.9M119.4 54.2h0.9M121.4 54.1h0.9M122 53.8h0.9M122 53.8h0.9M122.2 54.4h0.9M122.3 54.4h0.9M123 53.5h0.9M125.7 54.4h0.9M127.8 53.6h0.9M127.9 54h0.9M128.1 53.6h0.9M130.3 54.3h0.9M132.5 53.8h0.9M132.6 54.4h0.9M134.3 53.8h0.9M135.2 54.2h0.9M135.4 54h0.9M137 53.9h0.9M137 53.7h0.9M115.9 55.2h0.9M116.2 55.1h0.9M117.6 54.6h0.9M119 55.1h0.9M119.6 55.3h0.9M122.6 54.7h0.9M123.3 55.4h0.9M124.3 54.6h0.9M125.8 54.6h0.9M126.7 54.7h0.9M127.9 55h0.9M129.4 55.1h0.9M129.9 54.7h0.9M131.1 54.7h0.9M133.1 55h0.9M133.1 55.2h0.9M133.2 54.6h0.9M134.4 54.6h0.9M134.5 55.5h0.9M135.2 55.5h0.9M115.6 56.2h0.9M116.1 55.6h0.9M116.7 55.5h0.9M117.9 56.4h0.9M118.3 55.9h0.9M118.7 56.3h0.9M119.4 55.5h0.9M119.5 56h0.9M121.8 56.5h0.9M122.8 56.4h0.9M124.8 55.6h0.9M124.8 56.1h0.9M126.7 55.8h0.9M127 56.2h0.9M127.8 56.1h0.9M128.6 56h0.9M129.3 56.1h0.9M133.7 56.1h0.9M133.9 56.4h0.9M134.9 56.2h0.9M135.2 55.6h0.9M114.9 57.2h0.9M116.5 57.4h0.9M116.8 57.5h0.9M117.8 57.1h0.9M118 56.9h0.9M118.8 57.1h0.9M118.8 56.8h0.9M119 56.7h0.9M119.2 56.8h0.9M120.3 56.6h0.9M120.5 57.1h0.9M120.8 57.3h0.9M120.8 56.8h0.9M121.5 56.8h0.9M122 57.2h0.9M123.9 56.8h0.9M124.7 57.1h0.9M125.1 56.6h0.9M128.5 57.1h0.9M129.6 56.8h0.9M130.4 56.8h0.9M115.6 57.6h0.9M118.9 57.5h0.9M119.8 57.7h0.9M121.1 58h0.9M121.4 57.5h0.9M122.8 57.7h0.9M123 57.9h0.9M123.1 57.8h0.9M123.2 57.8h0.9M123.3 57.7h0.9M125.4 57.5h0.9M126.5 58.1h0.9M126.6 58.3h0.9M127.9 57.8h0.9M128.3 57.9h0.9M130.1 58h0.9M132.5 57.6h0.9M132.6 57.7h0.9M132.9 57.6h0.9M133.7 57.6h0.9M133.9 57.6h0.9M115.1 58.7h0.9M115.8 58.8h0.9M117.3 59.3h0.9M117.4 59.1h0.9M117.9 58.6h0.9M118 59.1h0.9M118.3 59.4h0.9M118.8 59.4h0.9M119.4 59.5h0.9M120.3 58.5h0.9M124.1 58.7h0.9M125 58.6h0.9M125.9 59.1h0.9M126 59.3h0.9M126.1 58.9h0.9M126.7 59h0.9M126.7 59.4h0.9M127 58.5h0.9M131.6 58.6h0.9M132 59h0.9M115.6 60.1h0.9M116.7 60.1h0.9M118.2 59.6h0.9M119 59.6h0.9M119.2 59.7h0.9M120.7 60.4h0.9M121.1 59.6h0.9M121.4 59.9h0.9M124.1 60h0.9M124.3 60h0.9M127 59.7h0.9M127.8 60.1h0.9M128 60.1h0.9M129.7 60.5h0.9M129.8 60.4h0.9M130 60h0.9M118.8 60.9h0.9M120.9 61.3h0.9M122.6 60.5h0.9M122.9 61.1h0.9M124.2 60.7h0.9M124.2 61.2h0.9M125.6 60.7h0.9M127.1 61.4h0.9M127.8 61.2h0.9M128.5 61h0.9M129.3 61.1h0.9M129.8 60.7h0.9M116.5 62.1h0.9M116.8 61.8h0.9M118.8 61.5h0.9M121.8 61.6h0.9M123.3 62.1h0.9M124.2 62.4h0.9M124.7 61.6h0.9M125.1 61.7h0.9M125.2 61.8h0.9M125.5 61.5h0.9M125.8 62.3h0.9M126.6 62.5h0.9M128.2 62.1h0.9M129.2 61.7h0.9M129.5 62.2h0.9M129.6 62h0.9M130.5 61.6h0.9M118.5 62.9h0.9M119.3 63.2h0.9M119.5 63.1h0.9M121 63.2h0.9M121.6 62.7h0.9M122.1 62.8h0.9M122.3 63.3h0.9M122.6 63.4h0.9M123.9 63.4h0.9M124 62.7h0.9M125.4 63.1h0.9M126 62.6h0.9M126.5 62.8h0.9M129.1 63h0.9M129.5 62.5h0.9M119.4 64.5h0.9M119.9 63.7h0.9M120.2 63.7h0.9M121.1 63.6h0.9M122.6 63.8h0.9M122.9 63.5h0.9M124.9 63.8h0.9M125.7 63.9h0.9M126.1 64h0.9M128 64.2h0.9M128.1 63.7h0.9M115 65.4h0.9M115.3 65.1h0.9M115.6 65.3h0.9M118.4 64.7h0.9M118.5 65.5h0.9M120.5 65.3h0.9M121.7 65.4h0.9M122 65.3h0.9M123 65.4h0.9M125.5 65.5h0.9M125.9 65.4h0.9M126.4 64.9h0.9M126.4 64.6h0.9M127.3 65h0.9M114.6 66h0.9M114.9 66.4h0.9M116.4 66h0.9M116.7 66.3h0.9M119.3 65.7h0.9M119.7 66.4h0.9M120.3 65.6h0.9M121.8 65.7h0.9M124 66.1h0.9M124.1 65.8h0.9M124.5 65.5h0.9M126.6 66h0.9M127.5 66.1h0.9M127.6 66h0.9M115.2 67.5h0.9M116.8 66.7h0.9M117.9 67.4h0.9M117.9 67.2h0.9M118.3 67.1h0.9M118.4 66.8h0.9M118.5 66.7h0.9M119.2 67.3h0.9M120.6 66.8h0.9M120.9 66.7h0.9M121.8 67.3h0.9M127.4 67.2h0.9M114.7 68h0.9M116.4 67.9h0.9M119.5 68.4h0.9M121.2 67.9h0.9M124.7 68.5h0.9M126 67.9h0.9M127.6 67.6h0.9M127.9 68.2h0.9M120.6 69.4h0.9M122.6 68.9h0.9M124.9 69.4h0.9M127.5 69.1h0.9M113.9 69.7h0.9M115.4 70.5h0.9M116.9 69.9h0.9M117 69.5h0.9M118.3 69.8h0.9M119.2 69.7h0.9M119.5 70h0.9M120.2 69.8h0.9M121.6 69.7h0.9M124.1 70.1h0.9M127.5 69.6h0.9M115.4 71h0.9M117 70.7h0.9M117.2 71.1h0.9M117.9 71h0.9M118.2 70.6h0.9M118.3 71.4h0.9M122.3 70.9h0.9M124.1 70.7h0.9M124.9 71.5h0.9M125.3 70.6h0.9M125.6 70.6h0.9M117 72.3h0.9M118.5 72.2h0.9M118.9 72.3h0.9M119.9 72.1h0.9M120 72.3h0.9M120.1 71.9h0.9M121.8 72.1h0.9M122 71.6h0.9M124.9 71.6h0.9M125.6 71.8h0.9M125.9 72.3h0.9M126.4 72.4h0.9M116.1 73h0.9M119.3 73h0.9M121.2 72.6h0.9M122.2 73.1h0.9M122.3 72.5h0.9M122.8 72.9h0.9M123.3 72.6h0.9M123.7 72.7h0.9M124.1 72.9h0.9M116.4 73.9h0.9M117.3 74.3h0.9M119.3 73.8h0.9M119.8 74.4h0.9M121.8 74.5h0.9M122.8 74.2h0.9M123 73.8h0.9M118.6 75.2h0.9M119.1 74.9h0.9M119.4 75.3h0.9M119.6 75.2h0.9M119.8 74.8h0.9M119.9 75.4h0.9M121.7 75.1h0.9M123.1 75.2h0.9M123.2 75.3h0.9M123.2 75.4h0.9M124.1 75h0.9M124.6 75.4h0.9M125.6 75.3h0.9M125.7 75.5h0.9M117.5 75.7h0.9M118 76.4h0.9M120.3 75.8h0.9M120.6 75.9h0.9M121.3 76h0.9M121.7 76.2h0.9M121.9 76.4h0.9M122.3 76.1h0.9M122.7 76.1h0.9M125.7 75.9h0.9M124.2 77h0.9M124.8 77.5h0.9" stroke="#e0231f" stroke-width="0.9" fill="none"/>
<path d="M123 78.5 C124.2 77.8 126.5 78.8 127.5 77 C128.6 75.2 128.8 69.6 129.3 68 C129.9 66.4 130.4 66.2 130.8 67.5 C131.2 68.8 130.9 74 131.5 76 C132.1 78 132.8 78.2 134.5 79.5 C136.2 80.8 139.8 81 141.4 83.6 C143 86.2 143.9 90.1 144.3 95.2 C144.7 100.3 144.8 109.7 143.6 114 C142.4 118.3 139.6 120 137.1 121.2 C134.6 122.4 130.8 123.1 128.4 121.2 C126 119.3 124 115 122.6 109.7 C121.1 104.4 120.1 94.1 119.7 89.4 C119.3 84.7 119.9 83.3 120.4 81.5 C121 79.7 121.8 79.2 123 78.5Z" fill="#2b4785" fill-opacity="0.6"/>
<path d="M129.2 69h0.9M129.3 70h0.9M129.9 70h0.9M130.2 70h0.9M129.7 71.2h0.9M129 72.3h0.9M129.6 72h0.9M129.6 72.4h0.9M129.7 72h0.9M130.5 71.7h0.9M128.2 72.6h0.9M128.6 73.1h0.9M129.8 72.9h0.9M130.3 73.5h0.9M127.9 73.9h0.9M128.2 74.3h0.9M128.7 73.6h0.9M127.6 74.5h0.9M127.9 75.2h0.9M128.1 74.9h0.9M129 75.2h0.9M129.6 74.6h0.9M127.9 75.9h0.9M129.1 76h0.9M130.4 76.3h0.9M131.1 76.3h0.9M131.1 76.3h0.9M127.1 77h0.9M128.3 76.8h0.9M130.3 77h0.9M130.5 77.3h0.9M130.7 77.3h0.9M131.5 77.2h0.9M123.2 78.4h0.9M124.1 78.3h0.9M126.1 77.6h0.9M126.3 78.3h0.9M128.5 77.5h0.9M129.6 78h0.9M129.9 78.4h0.9M132.2 78.3h0.9M122 79.1h0.9M122.4 79.3h0.9M123.4 78.6h0.9M123.8 78.9h0.9M124.1 79.3h0.9M124.1 79.3h0.9M124.4 79.1h0.9M124.4 78.9h0.9M126.7 79.2h0.9M127.5 79.4h0.9M128.2 79.3h0.9M130 78.9h0.9M132.4 79.1h0.9M132.5 78.9h0.9M122 79.9h0.9M125.6 79.7h0.9M126.6 79.8h0.9M128.3 80.2h0.9M130.5 79.7h0.9M132.9 80h0.9M133.9 79.5h0.9M135.5 80.5h0.9M122.6 81.4h0.9M125.4 81.1h0.9M126.3 80.7h0.9M126.9 80.9h0.9M127.1 81.1h0.9M127.2 80.5h0.9M128.1 81.2h0.9M130.5 80.6h0.9M131.1 81.3h0.9M132.1 81.1h0.9M134.1 80.6h0.9M135.2 80.9h0.9M121.4 81.7h0.9M123.1 82.2h0.9M124.8 82.3h0.9M125 82.3h0.9M129.3 81.7h0.9M129.7 82.2h0.9M130.8 81.6h0.9M132.3 82.5h0.9M133.3 81.6h0.9M133.4 82.2h0.9M133.6 81.6h0.9M134.3 81.9h0.9M137 81.8h0.9M120.7 82.6h0.9M121.1 82.7h0.9M121.5 82.7h0.9M121.5 82.9h0.9M122.5 83h0.9M122.9 83.4h0.9M125 82.7h0.9M127.2 83.4h0.9M127.4 82.6h0.9M127.6 82.8h0.9M128.8 83.2h0.9M128.8 82.6h0.9M130.9 83h0.9M132.5 82.9h0.9M134.2 83h0.9M137.2 82.6h0.9M138 82.6h0.9M138.1 83.1h0.9M139.4 82.9h0.9M139.8 83.5h0.9M120.1 83.5h0.9M121 84.4h0.9M121.8 83.8h0.9M121.9 84.3h0.9M122 83.6h0.9M122.2 84h0.9M122.5 84.2h0.9M122.6 84.1h0.9M123.5 84.2h0.9M124.7 83.7h0.9M124.8 83.8h0.9M125.4 84.4h0.9M127.7 84h0.9M127.8 83.7h0.9M127.9 83.9h0.9M129.1 83.6h0.9M130.1 83.9h0.9M130.4 84.3h0.9M130.6 84h0.9M132 84.2h0.9M132.7 83.8h0.9M135.2 83.5h0.9M135.3 83.9h0.9M138.2 84.4h0.9M138.5 83.9h0.9M139.5 83.8h0.9M139.7 83.9h0.9M120.5 85.3h0.9M123.5 84.7h0.9M124.5 85.5h0.9M125.1 85h0.9M129.4 85.3h0.9M130.7 85.1h0.9M133 84.5h0.9M133.2 84.9h0.9M136.1 85.1h0.9M136.4 85.5h0.9M136.6 85.1h0.9M136.6 84.5h0.9M136.7 84.6h0.9M136.9 84.7h0.9M137 85.2h0.9M137.7 85.3h0.9M138 85.2h0.9M138.5 84.5h0.9M139.4 85h0.9M139.8 85.2h0.9M140.4 85h0.9M120.4 85.8h0.9M123.4 86.2h0.9M123.4 86.1h0.9M125 86.2h0.9M128.1 85.5h0.9M128.6 86.2h0.9M129.3 86.1h0.9M129.9 86.3h0.9M131.5 86.1h0.9M134.3 85.8h0.9M134.3 85.7h0.9M138 86.1h0.9M138.9 86.2h0.9M140.1 86.3h0.9M140.2 86.1h0.9M140.7 86.5h0.9M141.4 86.2h0.9M120 87.5h0.9M120.7 87h0.9M126 87.2h0.9M126.1 86.7h0.9M128.3 86.5h0.9M129.3 86.5h0.9M130.6 86.8h0.9M131.3 86.7h0.9M131.3 86.9h0.9M131.6 87.2h0.9M132 87h0.9M132.3 86.6h0.9M132.6 86.8h0.9M133.1 86.7h0.9M133.4 87.1h0.9M133.7 86.7h0.9M138.1 87.1h0.9M139.8 86.8h0.9M141.3 86.8h0.9M121.2 88.4h0.9M123.6 87.6h0.9M124.6 87.6h0.9M125.2 88.5h0.9M126.7 88h0.9M127.9 88.3h0.9M131 88.5h0.9M131.5 88.3h0.9M131.8 88.4h0.9M132.7 88.1h0.9M134.3 87.8h0.9M134.4 88.4h0.9M134.7 88.4h0.9M135 88.3h0.9M135.8 88h0.9M138 87.9h0.9M138 87.8h0.9M139.2 88.5h0.9M139.5 88.4h0.9M141.3 88.5h0.9M141.3 87.7h0.9M120.1 88.6h0.9M122.9 89.5h0.9M125.6 89.3h0.9M126 88.8h0.9M126.1 88.6h0.9M126.9 88.6h0.9M127.9 89h0.9M130.4 88.6h0.9M130.7 89h0.9M131.9 88.8h0.9M132.5 89h0.9M133 88.6h0.9M133.7 88.6h0.9M137.3 88.8h0.9M137.7 89h0.9M138.3 89.5h0.9M138.7 89h0.9M139.3 89.3h0.9M140.6 89h0.9M141.9 89.4h0.9M120.8 90.4h0.9M122.8 90.2h0.9M123.5 89.7h0.9M126.8 90.2h0.9M126.9 89.7h0.9M135 89.5h0.9M138.2 89.7h0.9M122.5 90.6h0.9M123.5 91.4h0.9M125.9 91.2h0.9M126.2 90.8h0.9M127 90.5h0.9M127.8 90.7h0.9M130.3 91.3h0.9M130.4 90.6h0.9M135.9 91.3h0.9M136.2 90.7h0.9M136.6 90.5h0.9M138.2 90.6h0.9M139.6 90.8h0.9M141.5 90.6h0.9M120.1 91.7h0.9M121.4 92.1h0.9M121.4 92.3h0.9M123.1 91.7h0.9M123.5 91.6h0.9M124.7 91.6h0.9M125 92.3h0.9M125 91.8h0.9M125.8 91.8h0.9M127.7 92h0.9M127.9 91.9h0.9M128.2 92h0.9M129 91.9h0.9M132.1 91.6h0.9M133.7 92.3h0.9M134.5 92.5h0.9M134.6 91.8h0.9M138.8 92.2h0.9M140.7 92.2h0.9M142 92.3h0.9M142.4 92.4h0.9M119.8 92.6h0.9M121.3 93.2h0.9M124.2 92.6h0.9M125 93.2h0.9M125.8 92.7h0.9M127.1 93.5h0.9M128.2 92.9h0.9M128.6 92.6h0.9M129.3 92.8h0.9M130.9 92.7h0.9M132.3 93.3h0.9M133 93.2h0.9M133.3 93h0.9M136.1 92.9h0.9M139.1 93.4h0.9M120.9 94.1h0.9M120.9 94.2h0.9M121.2 94.2h0.9M122.6 93.9h0.9M123.3 93.9h0.9M123.3 94.3h0.9M123.6 93.5h0.9M124.3 94.3h0.9M124.5 94.3h0.9M124.9 94h0.9M126 94.4h0.9M126.2 94.4h0.9M126.7 94.1h0.9M127 94.5h0.9M127.6 94.3h0.9M128.4 93.8h0.9M128.5 93.7h0.9M128.5 94.2h0.9M128.7 94.5h0.9M129.4 93.7h0.9M129.9 93.9h0.9M130.4 94.2h0.9M133.1 94.3h0.9M134.3 94.4h0.9M135.1 94.2h0.9M137 93.8h0.9M137.3 93.8h0.9M138.1 93.9h0.9M138.7 94h0.9M139 94h0.9M140.6 94h0.9M141.4 93.8h0.9M142.2 94.4h0.9M120.6 95.2h0.9M122.5 95.2h0.9M123 95.2h0.9M123.8 95.3h0.9M124.7 94.7h0.9M125 95.1h0.9M125.5 94.8h0.9M126.3 95.3h0.9M126.8 95.1h0.9M127.5 94.9h0.9M127.5 95.3h0.9M128.9 94.5h0.9M130.2 95.3h0.9M131.1 95.3h0.9M131.3 95.4h0.9M132.6 94.8h0.9M132.6 95.1h0.9M133 95.4h0.9M133.1 94.6h0.9M136.1 95.2h0.9M136.7 95.5h0.9M139 95.4h0.9M140.2 94.7h0.9M141.2 94.9h0.9M120.4 95.6h0.9M120.6 95.5h0.9M121 96.2h0.9M122.8 96.3h0.9M122.9 96.4h0.9M123.1 96.2h0.9M124.3 95.7h0.9M124.8 96.1h0.9M125.7 96.3h0.9M125.7 96.2h0.9M125.9 95.5h0.9M126.6 96.1h0.9M128 96.3h0.9M128.3 96h0.9M131.7 95.9h0.9M132.9 95.9h0.9M133 95.9h0.9M135.1 96.1h0.9M136 95.7h0.9M137.3 95.7h0.9M138.1 96.5h0.9M138.3 96.2h0.9M138.8 96.2h0.9M140.3 95.5h0.9M140.5 96.2h0.9M140.9 95.6h0.9M141.1 96.4h0.9M141.3 95.6h0.9M141.9 95.9h0.9M120.3 96.7h0.9M120.8 97.5h0.9M120.9 97.2h0.9M121 97h0.9M123.5 97.4h0.9M126.3 96.6h0.9M129.3 97h0.9M131.1 97.2h0.9M131.4 97.2h0.9M134.4 97.4h0.9M135.8 96.6h0.9M136.3 97.1h0.9M139.4 97.1h0.9M139.4 97.4h0.9M140.6 97.3h0.9M140.7 97.2h0.9M141 96.8h0.9M141.9 96.7h0.9M122 98.4h0.9M123.4 98.2h0.9M126.3 98.2h0.9M126.7 98.2h0.9M127.8 98.2h0.9M128.9 98.3h0.9M129.3 98.5h0.9M129.5 98h0.9M131.7 98.3h0.9M132.6 97.8h0.9M133 98.3h0.9M134.8 98.3h0.9M135 97.5h0.9M135.6 97.6h0.9M135.9 97.7h0.9M136.6 98.1h0.9M138 98.4h0.9M138.6 97.6h0.9M141.2 97.6h0.9M142.4 98.3h0.9M143.4 98.3h0.9M123.4 98.6h0.9M124.9 99.5h0.9M126.4 99.4h0.9M127.1 98.5h0.9M127.9 99.1h0.9M127.9 99.2h0.9M130 99.4h0.9M130.3 98.5h0.9M130.5 98.8h0.9M130.8 99.2h0.9M132 98.5h0.9M132.9 99.3h0.9M133.1 99.1h0.9M133.8 98.8h0.9M134.8 99.4h0.9M136.2 99.5h0.9M138 99.3h0.9M138.1 99.1h0.9M140.3 98.9h0.9M140.3 98.8h0.9M141.8 99.1h0.9M142.4 99h0.9M143.4 98.8h0.9M122 100.1h0.9M122.2 100.3h0.9M124.4 100.2h0.9M124.6 100.2h0.9M125.2 100.5h0.9M126.6 99.8h0.9M130.2 100.1h0.9M130.5 99.9h0.9M132.9 100.4h0.9M133.4 100.5h0.9M133.5 99.7h0.9M133.6 99.5h0.9M136.5 99.9h0.9M136.8 99.6h0.9M137.2 99.6h0.9M138.2 99.6h0.9M140.4 100.5h0.9M141.8 100.1h0.9M123.2 101.2h0.9M123.6 100.6h0.9M124.8 100.6h0.9M125.6 100.5h0.9M127 100.8h0.9M128.3 100.8h0.9M130.4 100.6h0.9M130.5 100.5h0.9M132.9 100.9h0.9M133.6 100.6h0.9M136.7 100.7h0.9M137.5 101.5h0.9M137.9 100.7h0.9M140 101.4h0.9M142.4 100.8h0.9M143.2 100.9h0.9M121.3 101.9h0.9M122.3 101.5h0.9M124.6 101.6h0.9M125.2 102.4h0.9M127.2 102.1h0.9M128 101.8h0.9M128.1 102.1h0.9M129.3 101.9h0.9M131.4 102.3h0.9M132.2 102.4h0.9M132.4 102.2h0.9M134.8 102.1h0.9M135.6 101.5h0.9M136.2 102.3h0.9M138.8 101.7h0.9M139.8 102.4h0.9M140 101.6h0.9M141 101.9h0.9M142.6 102.3h0.9M142.8 102.3h0.9M143.4 102.3h0.9M123.4 102.5h0.9M125.3 102.9h0.9M125.4 102.6h0.9M125.6 102.8h0.9M126.1 103.3h0.9M126.5 102.6h0.9M130.1 102.6h0.9M130.4 102.6h0.9M131.1 103.2h0.9M131.4 102.6h0.9M132.9 102.8h0.9M136.4 103.2h0.9M138.9 103h0.9M140 103.2h0.9M140.5 103h0.9M125.9 104.3h0.9M127.2 103.9h0.9M127.2 104h0.9M127.4 104h0.9M128.5 104.3h0.9M128.7 104h0.9M128.9 104.1h0.9M130 104h0.9M130.5 104.4h0.9M131 103.7h0.9M131.4 104.4h0.9M132.2 103.9h0.9M133.3 104h0.9M134.5 104h0.9M136.2 104.4h0.9M137.2 103.6h0.9M137.2 104.4h0.9M137.7 104h0.9M138.3 103.9h0.9M138.5 104.1h0.9M138.8 104.2h0.9M140.3 103.9h0.9M140.4 104.1h0.9M121.5 104.5h0.9M121.9 104.7h0.9M122.7 104.5h0.9M123.5 104.9h0.9M123.8 105.1h0.9M124.5 104.6h0.9M125.7 105.2h0.9M126.4 104.8h0.9M126.7 104.7h0.9M126.7 105h0.9M127 104.6h0.9M127.1 105.1h0.9M127.6 105.3h0.9M127.9 105.2h0.9M131.2 104.7h0.9M132.3 104.8h0.9M133.4 104.8h0.9M134.3 105.5h0.9M134.5 104.9h0.9M136.5 105.1h0.9M137.1 105.3h0.9M138.3 104.5h0.9M140.5 104.6h0.9M140.6 104.6h0.9M141.2 105.1h0.9M142.8 105.4h0.9M121.8 106.3h0.9M121.9 105.8h0.9M123.3 106.2h0.9M124.7 105.8h0.9M125.4 106.4h0.9M126.2 105.9h0.9M126.3 106.4h0.9M126.5 106.5h0.9M127.5 106.4h0.9M128.4 105.6h0.9M130.6 106.4h0.9M131.5 106h0.9M133.6 105.8h0.9M133.6 106.4h0.9M133.8 105.7h0.9M133.8 106.2h0.9M134.1 105.9h0.9M134.1 105.6h0.9M137.4 105.6h0.9M138.6 106.5h0.9M140.4 106.3h0.9M141.3 105.6h0.9M141.8 105.9h0.9M142.1 106.4h0.9M142.2 105.5h0.9M142.5 106.5h0.9M125.6 106.5h0.9M127.7 107.1h0.9M128.6 107.1h0.9M129.2 107.2h0.9M134.6 107.3h0.9M135.6 106.7h0.9M136.4 106.7h0.9M137.2 107.2h0.9M138.4 106.6h0.9M139.1 106.7h0.9M139.6 106.6h0.9M139.6 107h0.9M141.3 107.3h0.9M141.5 106.9h0.9M142.1 106.7h0.9M125.5 107.5h0.9M127.3 107.9h0.9M127.9 107.9h0.9M128.9 108.3h0.9M129.5 108.4h0.9M130 108.4h0.9M131.1 108.5h0.9M132.2 107.5h0.9M135.4 107.9h0.9M138.1 107.8h0.9M138.5 107.9h0.9M139.3 108.1h0.9M140.6 108.1h0.9M140.7 107.6h0.9M142.3 107.6h0.9M143.3 108.4h0.9M122.6 109.3h0.9M124.6 109.1h0.9M124.8 109.3h0.9M125.1 109h0.9M126.5 108.6h0.9M128.1 109.3h0.9M128.5 108.5h0.9M130.1 109.1h0.9M132 109.2h0.9M132.6 109h0.9M133.1 109.1h0.9M135.8 108.9h0.9M136.1 109h0.9M136.2 109.4h0.9M137.4 108.8h0.9M137.9 109.3h0.9M123.4 110.2h0.9M124 110h0.9M125.5 110.4h0.9M126.6 110.4h0.9M126.6 109.7h0.9M127.3 109.7h0.9M129.2 110.2h0.9M130 110.1h0.9M130.6 109.8h0.9M130.9 109.7h0.9M131.3 110h0.9M133.4 109.7h0.9M133.7 109.8h0.9M135.6 110.3h0.9M135.9 110.4h0.9M136 110.2h0.9M136.9 109.8h0.9M138.2 109.6h0.9M138.8 109.9h0.9M140.7 110.1h0.9M142 110.3h0.9M122.9 110.8h0.9M123 110.8h0.9M124.5 110.7h0.9M125.7 110.7h0.9M125.7 111.1h0.9M126.6 110.8h0.9M128.5 110.7h0.9M129.1 110.9h0.9M129.2 110.8h0.9M131.6 111.2h0.9M132.4 111.4h0.9M133.7 110.7h0.9M135.5 111.1h0.9M137.3 111.1h0.9M139 111.2h0.9M139.1 111.3h0.9M140.2 111.4h0.9M141.1 111.4h0.9M142.1 111.2h0.9M124.3 112.3h0.9M124.5 111.9h0.9M125.5 111.9h0.9M127.7 112.5h0.9M128.9 112.1h0.9M134.5 111.6h0.9M135 111.8h0.9M135.5 112.2h0.9M135.7 111.6h0.9M136 112.4h0.9M136.4 111.7h0.9M136.5 112h0.9M137.9 111.6h0.9M139 111.6h0.9M141.8 111.8h0.9M123.9 112.9h0.9M124.1 112.5h0.9M125.8 113.2h0.9M126.1 112.9h0.9M126.1 113.3h0.9M128.1 113.1h0.9M129.1 112.9h0.9M129.1 112.9h0.9M129.2 113.2h0.9M130 112.7h0.9M131.4 113.4h0.9M132.4 112.5h0.9M134.3 112.7h0.9M135.1 113.2h0.9M135.2 113.2h0.9M137 113.4h0.9M142.5 113h0.9M125.8 113.9h0.9M127.6 113.8h0.9M128.8 114h0.9M129.7 114.4h0.9M129.8 114h0.9M130.6 114.4h0.9M131.4 113.5h0.9M131.7 113.8h0.9M131.8 114h0.9M134.4 113.5h0.9M140.7 113.7h0.9M142.3 113.7h0.9M142.7 114.4h0.9M126.2 115.5h0.9M126.6 114.8h0.9M127.3 115.4h0.9M127.9 115h0.9M128.3 114.8h0.9M129.5 115.2h0.9M130.3 115h0.9M130.3 115.1h0.9M132 114.5h0.9M132.3 115.4h0.9M133.7 115.5h0.9M134.1 114.9h0.9M134.9 114.5h0.9M135.9 115.5h0.9M138.6 115h0.9M138.6 114.7h0.9M141.2 115.3h0.9M125.8 116.2h0.9M126.8 116.3h0.9M126.8 115.8h0.9M129.6 115.9h0.9M130.6 116.2h0.9M130.7 115.6h0.9M131 116.3h0.9M131.1 116.1h0.9M131.5 116.1h0.9M131.7 116.3h0.9M133.2 115.6h0.9M134.3 115.8h0.9M136.8 116.2h0.9M138.2 115.5h0.9M140.6 116.4h0.9M125.9 116.6h0.9M127.7 117.5h0.9M127.8 116.6h0.9M128.1 117.3h0.9M129.4 116.7h0.9M130.4 116.9h0.9M131 117.5h0.9M131.5 117.2h0.9M133.4 116.9h0.9M135.4 117.2h0.9M136.8 117.4h0.9M136.9 117.1h0.9M137.2 117.2h0.9M138 116.8h0.9M139.2 117.3h0.9M139.4 116.6h0.9M140.6 116.7h0.9M140.6 116.6h0.9M129.5 117.7h0.9M129.8 118.2h0.9M132.3 117.6h0.9M132.6 117.5h0.9M133.9 118h0.9M134.7 117.6h0.9M135.7 118h0.9M135.9 118.1h0.9M136.1 118h0.9M137.6 118.2h0.9M138.6 117.8h0.9M138.8 118h0.9M128.7 118.7h0.9M129.1 118.7h0.9M130.6 118.8h0.9M131.1 118.6h0.9M131.7 119.4h0.9M135 119.2h0.9M135 119.1h0.9M135.8 118.6h0.9M136.5 119.4h0.9M136.9 119.2h0.9M138.1 119.3h0.9M138.2 119.2h0.9M138.3 119.4h0.9M127.8 119.6h0.9M127.8 120.1h0.9M127.9 120.1h0.9M129 120.1h0.9M129.9 120.1h0.9M134.9 120.4h0.9M135.3 119.6h0.9M135.9 120.2h0.9M128 121.1h0.9M128.6 120.7h0.9M132.1 121h0.9M132.2 120.9h0.9M132.9 120.6h0.9M133.7 121.1h0.9M136.1 121.2h0.9" stroke="#2b4785" stroke-width="0.9" fill="none"/>
<path d="M106.5 111.5 C106.2 110.8 107.8 108.7 108.5 107.5 C109.2 106.3 110.2 104.8 111 104.5 C111.8 104.2 112.5 104.8 113 105.5 C113.5 106.2 114.5 107.5 114 108.5 C113.5 109.5 111.2 111 110 111.5 C108.8 112 106.8 112.2 106.5 111.5Z" fill="#ecd139" fill-opacity="0.9"/>
<path d="M111.5 105.1h0.9M110.6 106.2h0.9M110.6 107.3h0.9M111.6 107h0.9M112.2 106.8h0.9M112.6 107.2h0.9M108.1 108.4h0.9M111.5 107.6h0.9M113 108.3h0.9M108 109.4h0.9M110.9 109.2h0.9M111.2 109.3h0.9M108.4 110h0.9M108.5 110.4h0.9M111.6 109.8h0.9M106.8 111h0.9M107.7 110.6h0.9M108.1 110.8h0.9M108.7 110.6h0.9M109.3 111.4h0.9" stroke="#ecd139" stroke-width="0.9" fill="none"/>
<path d="M58.5 130.5 L64.5 128.5" stroke="#7a4f78" stroke-width="1"/>
<path d="M92 131 L94 127" stroke="#d6df5e" stroke-width="1.3"/>
<path d="M68.5 145.5 C69.3 144.2 71.4 144.3 73 144.5 C74.6 144.7 76.5 145.9 78 146.5 C79.5 147.1 81.8 147.1 82 148 C82.2 148.9 79.9 150.5 79 152 C78.1 153.5 77.7 155.5 76.5 157 C75.3 158.5 73 161 72 161 C71 161 71.2 158.5 70.5 157 C69.8 155.5 68.3 153.9 68 152 C67.7 150.1 67.7 146.8 68.5 145.5Z" fill="#9c6a2c" fill-opacity="0.7"/>
<path d="M70 145.1h0.9M71.6 145.2h0.9M68.9 146.3h0.9M69.8 146.4h0.9M69.9 146.5h0.9M70.8 146.1h0.9M71.1 146.1h0.9M72.5 146.3h0.9M73.8 145.7h0.9M74.1 146.4h0.9M74.6 146.4h0.9M75.9 146.1h0.9M77 146.4h0.9M72 147.4h0.9M72.3 146.9h0.9M73 147.1h0.9M74 147.3h0.9M78.1 146.9h0.9M79.8 147.4h0.9M68.7 148h0.9M69.4 147.7h0.9M71.2 147.8h0.9M71.4 147.6h0.9M72.6 148.4h0.9M73.7 148h0.9M76.8 148.2h0.9M78.3 147.7h0.9M78.8 148.5h0.9M79.4 147.8h0.9M79.5 148.2h0.9M68.1 149.1h0.9M74.3 149.3h0.9M75 148.9h0.9M75.2 149.2h0.9M75.4 149.4h0.9M75.4 149.2h0.9M76.4 148.7h0.9M78.3 149.2h0.9M78.8 148.6h0.9M79.6 148.7h0.9M68 150.2h0.9M68.6 149.9h0.9M69.7 149.6h0.9M70.3 150.4h0.9M70.4 150h0.9M71.2 149.8h0.9M71.6 149.6h0.9M71.7 149.9h0.9M72.3 150.4h0.9M73.2 150.1h0.9M78.1 150.1h0.9M79.3 150h0.9M70.6 150.8h0.9M70.6 150.9h0.9M71.7 150.8h0.9M72.7 150.8h0.9M73 151.2h0.9M75.1 150.9h0.9M75.7 150.7h0.9M75.8 150.6h0.9M76.4 150.8h0.9M76.9 150.7h0.9M68.8 152.2h0.9M70.4 152.3h0.9M70.4 151.8h0.9M72.6 152.4h0.9M72.9 152.4h0.9M76.4 152.4h0.9M70.8 152.6h0.9M71.2 153h0.9M71.4 152.6h0.9M72.5 153.4h0.9M75.6 153.4h0.9M77.3 153.4h0.9M77.7 153.1h0.9M69.1 153.6h0.9M72 154.2h0.9M74.1 153.7h0.9M74.6 154.3h0.9M76.3 153.8h0.9M77.6 153.7h0.9M70.4 154.7h0.9M71.9 155.1h0.9M76 155.4h0.9M76.1 155.1h0.9M76.9 154.7h0.9M70 156.4h0.9M71 156.1h0.9M71.7 155.8h0.9M71.7 156.2h0.9M74.5 155.8h0.9M75.1 155.5h0.9M72.3 156.5h0.9M72.4 157.1h0.9M73.1 156.7h0.9M73.3 157.3h0.9M73.9 156.6h0.9M74.3 157.2h0.9M72.2 158.3h0.9M73.3 158.1h0.9M73.3 157.5h0.9M73.7 157.8h0.9M73.8 157.7h0.9M73.2 158.6h0.9M72.5 159.9h0.9M72.6 160h0.9" stroke="#9c6a2c" stroke-width="0.9" fill="none"/>
<path d="M91 147.5 C91.3 146.8 93.6 145.5 95 145 C96.4 144.5 98.2 144.1 99.5 144.5 C100.8 144.9 102.7 146.7 102.5 147.5 C102.3 148.3 100.1 149.2 98.5 149.5 C96.9 149.8 94.2 149.8 93 149.5 C91.8 149.2 90.7 148.2 91 147.5Z" fill="#7e5aae" fill-opacity="0.7"/>
<path d="M96.3 145.4h0.9M97.2 145.3h0.9M98.6 144.9h0.9M94.9 146.1h0.9M95.6 146.2h0.9M95.7 146.1h0.9M96.8 146h0.9M97.6 146.1h0.9M98.8 146.1h0.9M99.1 145.9h0.9M99.2 146h0.9M100.5 146.1h0.9M91.8 147.4h0.9M92.6 147.4h0.9M93 147.2h0.9M97.6 147.1h0.9M98.4 147h0.9M99.4 146.9h0.9M91.2 147.8h0.9M92.1 148h0.9M93 148.1h0.9M94.5 148.4h0.9M98.3 147.9h0.9M94.3 149h0.9M95.9 149.1h0.9M97.4 149.4h0.9M97.8 149.1h0.9" stroke="#7e5aae" stroke-width="0.9" fill="none"/>
<path d="M118.8 153 C118.8 153.2 118.7 153.4 118.6 153.6 C118.6 153.7 118.4 153.9 118.2 154 C118.1 154 117.9 154 117.8 154 C117.6 153.9 117.4 153.7 117.4 153.6 C117.3 153.4 117.2 153.2 117.2 153 C117.2 152.8 117.3 152.6 117.4 152.4 C117.4 152.3 117.6 152.1 117.8 152 C117.9 152 118.1 152 118.2 152 C118.4 152.1 118.6 152.3 118.6 152.4 C118.7 152.6 118.8 152.8 118.8 153Z" fill="#ef7d3a" fill-opacity="1"/>
<path d="M117.6 153.6h0.9" stroke="#ef7d3a" stroke-width="0.9" fill="none"/>
<path d="M93.2 170.3 C93.2 170.5 93.1 170.7 93 170.8 C92.9 171 92.7 171.1 92.6 171.2 C92.4 171.2 92.2 171.2 92 171.2 C91.9 171.1 91.7 171 91.6 170.8 C91.5 170.7 91.4 170.5 91.4 170.3 C91.4 170.1 91.5 169.9 91.6 169.8 C91.7 169.6 91.9 169.5 92 169.4 C92.2 169.4 92.4 169.4 92.6 169.4 C92.7 169.5 92.9 169.6 93 169.8 C93.1 169.9 93.2 170.1 93.2 170.3Z" fill="#3d7ac4" fill-opacity="1"/>
<path d="M92.4 169.9h0.9" stroke="#3d7ac4" stroke-width="0.9" fill="none"/>
<path d="M104.5 26.5 C106.5 25.4 107.3 26.6 110.3 28 C113.3 29.4 118.9 33.5 122.6 35.2 C126.3 36.9 129.8 37.3 132.7 38.1 C135.6 38.9 138.2 38.9 140 40.2 C141.8 41.5 143.1 43.1 143.6 46 C144.1 48.9 143.1 54 142.9 57.6 C142.7 61.2 141.6 63.9 142.3 67.7 C143 71.5 146 75.9 147.2 80.7 C148.4 85.5 149.2 91.4 149.4 96.7 C149.6 102 149.2 108.5 148.6 112.6 C148 116.7 147.4 118.9 145.7 121.2 C144 123.5 141.6 125.5 138.5 126.5 C135.4 127.5 131.7 127.8 127.3 127.3 C122.9 126.8 116 125.6 112.1 123.4 C108.2 121.2 105.8 118.2 104 114 C102.2 109.8 102.8 103.8 101.6 98 C100.4 92.2 98.2 85 96.6 79 C95 73 92.8 67.5 92.2 62 C91.6 56.5 92.2 50.6 93.2 46 C94.2 41.4 96.1 37.8 98 34.5 C99.9 31.2 102.5 27.6 104.5 26.5Z" fill="none" stroke="#111" stroke-width="1.3"/>
<text x="76.2" y="34" font-size="13" text-anchor="middle" fill="#111" font-weight="normal"  stroke="#111" stroke-width="0.25">8</text>
<text x="49" y="72.4" font-size="13" text-anchor="middle" fill="#111" font-weight="normal"  stroke="#111" stroke-width="0.25">5</text>
<text x="83" y="75.9" font-size="13" text-anchor="middle" fill="#111" font-weight="normal"  stroke="#111" stroke-width="0.25">6</text>
<text x="67" y="90.1" font-size="13" text-anchor="middle" fill="#111" font-weight="normal"  stroke="#111" stroke-width="0.25">  </text>
<path d="M0.335 0V-0.69H0.262L0.215 -0.628L0.158 -0.578L0.098 -0.545V-0.468L0.168 -0.5L0.245 -0.555V0Z" fill="#111" stroke="#111" stroke-width="0.0192" transform="translate(59.77 90.1) scale(13.00 13)"/>
<path d="M0.335 0V-0.69H0.262L0.215 -0.628L0.158 -0.578L0.098 -0.545V-0.468L0.168 -0.5L0.245 -0.555V0Z" fill="#111" stroke="#111" stroke-width="0.0192" transform="translate(67.00 90.1) scale(13.00 13)"/>
<text x="109.6" y="39.1" font-size="13" text-anchor="middle" fill="#111" font-weight="normal"  stroke="#111" stroke-width="0.25">4</text>
<text x="128.4" y="58.6" font-size="13" text-anchor="middle" fill="#111" font-weight="normal"  stroke="#111" stroke-width="0.25"> </text>
<path d="M0.335 0V-0.69H0.262L0.215 -0.628L0.158 -0.578L0.098 -0.545V-0.468L0.168 -0.5L0.245 -0.555V0Z" fill="#111" stroke="#111" stroke-width="0.0192" transform="translate(124.79 58.6) scale(13.00 13)"/>
<text x="103.8" y="71.6" font-size="13" text-anchor="middle" fill="#111" font-weight="normal"  stroke="#111" stroke-width="0.25">3</text>
<text x="132" y="104.9" font-size="13" text-anchor="middle" fill="#111" font-weight="normal"  stroke="#111" stroke-width="0.25">0</text>
<text x="111" y="113.8" font-size="13" text-anchor="middle" fill="#111" font-weight="normal"  stroke="#111" stroke-width="0.25">2</text>
<text x="80.8" y="111.6" font-size="13" text-anchor="middle" fill="#111" font-weight="normal"  stroke="#111" stroke-width="0.25">7</text>
<text x="49" y="115.4" font-size="13" text-anchor="middle" fill="#111" font-weight="normal"  stroke="#111" stroke-width="0.25"> 4</text>
<path d="M0.335 0V-0.69H0.262L0.215 -0.628L0.158 -0.578L0.098 -0.545V-0.468L0.168 -0.5L0.245 -0.555V0Z" fill="#111" stroke="#111" stroke-width="0.0192" transform="translate(41.77 115.4) scale(13.00 13)"/>
<text x="50.5" y="137.3" font-size="13" text-anchor="middle" fill="#111" font-weight="normal"  stroke="#111" stroke-width="0.25"> 3</text>
<path d="M0.335 0V-0.69H0.262L0.215 -0.628L0.158 -0.578L0.098 -0.545V-0.468L0.168 -0.5L0.245 -0.555V0Z" fill="#111" stroke="#111" stroke-width="0.0192" transform="translate(43.27 137.3) scale(13.00 13)"/>
<text x="100.5" y="135" font-size="13" text-anchor="middle" fill="#111" font-weight="normal"  stroke="#111" stroke-width="0.25"> 2</text>
<path d="M0.335 0V-0.69H0.262L0.215 -0.628L0.158 -0.578L0.098 -0.545V-0.468L0.168 -0.5L0.245 -0.555V0Z" fill="#111" stroke="#111" stroke-width="0.0192" transform="translate(93.27 135) scale(13.00 13)"/>
<text x="73.2" y="157.9" font-size="13" text-anchor="middle" fill="#111" font-weight="normal"  stroke="#111" stroke-width="0.25">9</text>
<text x="99.3" y="157.9" font-size="13" text-anchor="middle" fill="#111" font-weight="normal"  stroke="#111" stroke-width="0.25"> 0</text>
<path d="M0.335 0V-0.69H0.262L0.215 -0.628L0.158 -0.578L0.098 -0.545V-0.468L0.168 -0.5L0.245 -0.555V0Z" fill="#111" stroke="#111" stroke-width="0.0192" transform="translate(92.07 157.9) scale(13.00 13)"/>
<text x="126.2" y="159.5" font-size="13" text-anchor="middle" fill="#111" font-weight="normal"  stroke="#111" stroke-width="0.25"> 6</text>
<path d="M0.335 0V-0.69H0.262L0.215 -0.628L0.158 -0.578L0.098 -0.545V-0.468L0.168 -0.5L0.245 -0.555V0Z" fill="#111" stroke="#111" stroke-width="0.0192" transform="translate(118.97 159.5) scale(13.00 13)"/>
<text x="100.5" y="174.7" font-size="13" text-anchor="middle" fill="#111" font-weight="normal"  stroke="#111" stroke-width="0.25"> 5</text>
<path d="M0.335 0V-0.69H0.262L0.215 -0.628L0.158 -0.578L0.098 -0.545V-0.468L0.168 -0.5L0.245 -0.555V0Z" fill="#111" stroke="#111" stroke-width="0.0192" transform="translate(93.27 174.7) scale(13.00 13)"/>
<rect x="556.8" y="17.8" width="12.9" height="6" fill="#ebd43c" />
<text x="574.3" y="23.6" font-size="7.2" text-anchor="start" fill="#222" font-weight="normal" >8w WT</text>
<rect x="614" y="17.8" width="12.5" height="6" fill="#2c4576" />
<text x="631" y="23.6" font-size="7.2" text-anchor="start" fill="#222" font-weight="normal" >8w KO</text>
<rect x="532" y="33.2" width="65" height="10.5" fill="#ebd43c" />
<rect x="597" y="33.2" width="72.2" height="10.5" fill="#2c4576" />
<line x1="527.5" y1="38.5" x2="532" y2="38.5" stroke="#222" stroke-width="0.9"/>
<ellipse cx="522.5" cy="38.5" rx="4" ry="2.8" fill="#4a1645"/>
<text x="522.5" y="39.8" font-size="3.8" text-anchor="middle" fill="#fff" font-weight="normal" >8</text>
<rect x="532" y="49.4" width="107" height="10.5" fill="#ebd43c" />
<rect x="639" y="49.4" width="30.2" height="10.5" fill="#2c4576" />
<line x1="527.5" y1="54.7" x2="532" y2="54.7" stroke="#222" stroke-width="0.9"/>
<ellipse cx="522.5" cy="54.7" rx="4" ry="2.8" fill="#6e9ec9"/>
<text x="522.5" y="56" font-size="3.8" text-anchor="middle" fill="#fff" font-weight="normal" >7</text>
<rect x="532" y="65.6" width="113.2" height="10.5" fill="#ebd43c" />
<rect x="645.2" y="65.6" width="24" height="10.5" fill="#2c4576" />
<line x1="527.5" y1="70.8" x2="532" y2="70.8" stroke="#222" stroke-width="0.9"/>
<ellipse cx="522.5" cy="70.8" rx="4" ry="2.8" fill="#84162d"/>
<text x="522.5" y="72.1" font-size="3.8" text-anchor="middle" fill="#fff" font-weight="normal" >6</text>
<rect x="532" y="81.8" width="94.5" height="10.5" fill="#ebd43c" />
<rect x="626.5" y="81.8" width="42.7" height="10.5" fill="#2c4576" />
<line x1="527.5" y1="87" x2="532" y2="87" stroke="#222" stroke-width="0.9"/>
<ellipse cx="522.5" cy="87" rx="4" ry="2.8" fill="#76dbd9"/>
<text x="522.5" y="88.3" font-size="3.8" text-anchor="middle" fill="#fff" font-weight="normal" >5</text>
<rect x="532" y="98" width="42.9" height="10.5" fill="#ebd43c" />
<rect x="574.9" y="98" width="94.3" height="10.5" fill="#2c4576" />
<line x1="527.5" y1="103.2" x2="532" y2="103.2" stroke="#222" stroke-width="0.9"/>
<ellipse cx="522.5" cy="103.2" rx="4" ry="2.8" fill="#b43fe8"/>
<text x="522.5" y="104.5" font-size="3.8" text-anchor="middle" fill="#fff" font-weight="normal" >4</text>
<rect x="532" y="114.2" width="112.1" height="10.5" fill="#ebd43c" />
<rect x="644.1" y="114.2" width="25.1" height="10.5" fill="#2c4576" />
<line x1="527.5" y1="119.5" x2="532" y2="119.5" stroke="#222" stroke-width="0.9"/>
<ellipse cx="522.5" cy="119.5" rx="4" ry="2.8" fill="#3b9347"/>
<text x="522.5" y="120.8" font-size="3.8" text-anchor="middle" fill="#fff" font-weight="normal" >3</text>
<rect x="532" y="130.4" width="109.1" height="10.5" fill="#ebd43c" />
<rect x="641.1" y="130.4" width="28.1" height="10.5" fill="#2c4576" />
<line x1="527.5" y1="135.6" x2="532" y2="135.6" stroke="#222" stroke-width="0.9"/>
<ellipse cx="522.5" cy="135.6" rx="4" ry="2.8" fill="#ecd139"/>
<text x="522.5" y="136.9" font-size="3.8" text-anchor="middle" fill="#fff" font-weight="normal" >2</text>
<rect x="532" y="146.6" width="75.6" height="10.5" fill="#ebd43c" />
<rect x="607.6" y="146.6" width="61.6" height="10.5" fill="#2c4576" />
<line x1="527.5" y1="151.8" x2="532" y2="151.8" stroke="#222" stroke-width="0.9"/>
<ellipse cx="522.5" cy="151.8" rx="4" ry="2.8" fill="#e0231f"/>
<text x="522.5" y="153.2" font-size="3.8" text-anchor="middle" fill="#fff" font-weight="normal" >1</text>
<rect x="532" y="162.8" width="137.2" height="10.5" fill="#2c4576" />
<line x1="527.5" y1="168.1" x2="532" y2="168.1" stroke="#222" stroke-width="0.9"/>
<ellipse cx="522.5" cy="168.1" rx="4" ry="2.8" fill="#2b4785"/>
<text x="522.5" y="169.4" font-size="3.8" text-anchor="middle" fill="#fff" font-weight="normal" >0</text>
<line x1="532" y1="27" x2="532" y2="178" stroke="#222" stroke-width="1.1"/>
<line x1="531.5" y1="178" x2="669.7" y2="178" stroke="#222" stroke-width="1.1"/>
<line x1="532" y1="178" x2="532" y2="181.5" stroke="#222" stroke-width="0.8"/>
<line x1="545.7" y1="178" x2="545.7" y2="180.3" stroke="#222" stroke-width="0.8"/>
<line x1="559.4" y1="178" x2="559.4" y2="181.5" stroke="#222" stroke-width="0.8"/>
<line x1="573.2" y1="178" x2="573.2" y2="180.3" stroke="#222" stroke-width="0.8"/>
<line x1="586.9" y1="178" x2="586.9" y2="181.5" stroke="#222" stroke-width="0.8"/>
<line x1="600.6" y1="178" x2="600.6" y2="180.3" stroke="#222" stroke-width="0.8"/>
<line x1="614.3" y1="178" x2="614.3" y2="181.5" stroke="#222" stroke-width="0.8"/>
<line x1="628" y1="178" x2="628" y2="180.3" stroke="#222" stroke-width="0.8"/>
<line x1="641.8" y1="178" x2="641.8" y2="181.5" stroke="#222" stroke-width="0.8"/>
<line x1="655.5" y1="178" x2="655.5" y2="180.3" stroke="#222" stroke-width="0.8"/>
<line x1="669.2" y1="178" x2="669.2" y2="181.5" stroke="#222" stroke-width="0.8"/>
<text x="532" y="188.6" font-size="5.6" text-anchor="middle" fill="#222" font-weight="bold" >0.0</text>
<text x="559.4" y="188.6" font-size="5.6" text-anchor="middle" fill="#222" font-weight="bold" >0.2</text>
<text x="586.9" y="188.6" font-size="5.6" text-anchor="middle" fill="#222" font-weight="bold" >0.4</text>
<text x="614.3" y="188.6" font-size="5.6" text-anchor="middle" fill="#222" font-weight="bold" >0.6</text>
<text x="641.8" y="188.6" font-size="5.6" text-anchor="middle" fill="#222" font-weight="bold" >0.8</text>
<text x="669.2" y="188.6" font-size="5.6" text-anchor="middle" fill="#222" font-weight="bold" >1.0</text>
<rect x="514" y="161" width="166.7" height="13.7" fill="none" stroke="#e0405c" stroke-width="2.6"/>
<ellipse cx="39.4" cy="220.5" rx="4.8" ry="3.8" fill="#2b4785"/>
<text x="39.4" y="222.4" font-size="5.4" text-anchor="middle" fill="#fff" font-weight="normal" >0</text>
<text x="49.3" y="223.2" font-size="7.5" fill="#111" stroke="#111" stroke-width="0.15" textLength="86.8" lengthAdjust="spacingAndGlyphs"><tspan font-style="italic">Uts2r</tspan><tspan font-size="4" dy="-3">+</tspan><tspan dy="3"> </tspan><tspan font-style="italic">Lox</tspan><tspan font-size="4" dy="-3">+</tspan><tspan dy="3"> fibrotic cells</tspan></text>
<ellipse cx="39.4" cy="236.2" rx="4.8" ry="3.8" fill="#e0231f"/>
<text x="39.4" y="238.1" font-size="5.4" text-anchor="middle" fill="#fff" font-weight="normal" >1</text>
<text x="49.3" y="238.9" font-size="7.5" fill="#111" stroke="#111" stroke-width="0.15" textLength="31.6" lengthAdjust="spacingAndGlyphs">Tenocytes</text>
<ellipse cx="39.4" cy="252.7" rx="4.8" ry="3.8" fill="#ecd139"/>
<text x="39.4" y="254.6" font-size="5.4" text-anchor="middle" fill="#fff" font-weight="normal" >2</text>
<text x="49.3" y="255.4" font-size="7.5" fill="#111" stroke="#111" stroke-width="0.15" textLength="33.8" lengthAdjust="spacingAndGlyphs">Tenoblasts</text>
<ellipse cx="153.7" cy="220.5" rx="4.8" ry="3.8" fill="#3b9347"/>
<text x="153.7" y="222.4" font-size="5.4" text-anchor="middle" fill="#fff" font-weight="normal" >3</text>
<text x="162.8" y="223.2" font-size="7.5" fill="#111" stroke="#111" stroke-width="0.15" textLength="100.6" lengthAdjust="spacingAndGlyphs"><tspan font-style="italic">Cd44</tspan><tspan font-size="4" dy="-3">+</tspan><tspan dy="3"> </tspan><tspan font-style="italic">Tppp3</tspan><tspan font-size="4" dy="-3">+</tspan><tspan dy="3"> tendon progenitors</tspan></text>
<ellipse cx="153.7" cy="236.2" rx="4.8" ry="3.8" fill="#b43fe8"/>
<text x="153.7" y="238.1" font-size="5.4" text-anchor="middle" fill="#fff" font-weight="normal" >4</text>
<text x="162.8" y="238.9" font-size="7.5" fill="#111" stroke="#111" stroke-width="0.15" textLength="32.5" lengthAdjust="spacingAndGlyphs">Tenogenic</text>
<ellipse cx="153.7" cy="252.7" rx="4.8" ry="3.8" fill="#76dbd9"/>
<text x="153.7" y="254.6" font-size="5.4" text-anchor="middle" fill="#fff" font-weight="normal" >5</text>
<text x="162.8" y="255.4" font-size="7.5" fill="#111" stroke="#111" stroke-width="0.15" textLength="42.7" lengthAdjust="spacingAndGlyphs">Enthesoblasts</text>
<ellipse cx="271.8" cy="220.5" rx="4.8" ry="3.8" fill="#84162d"/>
<text x="271.8" y="222.4" font-size="5.4" text-anchor="middle" fill="#fff" font-weight="normal" >6</text>
<text x="283" y="223.2" font-size="7.5" fill="#111" stroke="#111" stroke-width="0.15" textLength="74.8" lengthAdjust="spacingAndGlyphs"><tspan font-style="italic">Prg4</tspan><tspan font-size="4" dy="-3">+</tspan><tspan dy="3"> tendon progenitors</tspan></text>
<ellipse cx="271.8" cy="236.2" rx="4.8" ry="3.8" fill="#6e9ec9"/>
<text x="271.8" y="238.1" font-size="5.4" text-anchor="middle" fill="#fff" font-weight="normal" >7</text>
<text x="283" y="238.9" font-size="7.5" fill="#111" stroke="#111" stroke-width="0.15" textLength="85.9" lengthAdjust="spacingAndGlyphs">Muscle-tendon junction cells</text>
<ellipse cx="271.8" cy="252.7" rx="4.8" ry="3.8" fill="#4a1645"/>
<text x="271.8" y="254.6" font-size="5.4" text-anchor="middle" fill="#fff" font-weight="normal" >8</text>
<text x="283" y="255.4" font-size="7.5" fill="#111" stroke="#111" stroke-width="0.15" textLength="79.3" lengthAdjust="spacingAndGlyphs">Mineralizing chondrocytes</text>
<text x="128.1" y="272.3" font-size="12.3" text-anchor="middle" fill="#111" font-weight="normal"  textLength="19.6" lengthAdjust="spacingAndGlyphs" stroke="#111" stroke-width="0.25">KO</text>
<text x="291.5" y="272.3" font-size="12.3" text-anchor="middle" fill="#111" font-weight="normal"  textLength="21" lengthAdjust="spacingAndGlyphs" stroke="#111" stroke-width="0.25">WT</text>
<line x1="42.7" y1="482" x2="197.5" y2="482" stroke="#222" stroke-width="1.1"/>
<line x1="42.7" y1="272.6" x2="42.7" y2="482" stroke="#222" stroke-width="1.1"/>
<line x1="49.3" y1="482" x2="49.3" y2="484.5" stroke="#222" stroke-width="0.8"/>
<text x="49.3" y="494.3" font-size="9" text-anchor="middle" fill="#222" font-weight="normal"  stroke="#222" stroke-width="0.25">− 0</text>
<path d="M0.335 0V-0.69H0.262L0.215 -0.628L0.158 -0.578L0.098 -0.545V-0.468L0.168 -0.5L0.245 -0.555V0Z" fill="#222" stroke="#222" stroke-width="0.0278" transform="translate(46.92 494.3) scale(9.00 9)"/>
<line x1="85.4" y1="482" x2="85.4" y2="484.5" stroke="#222" stroke-width="0.8"/>
<text x="85.4" y="494.3" font-size="9" text-anchor="middle" fill="#222" font-weight="normal"  stroke="#222" stroke-width="0.25">−5</text>
<line x1="121.5" y1="482" x2="121.5" y2="484.5" stroke="#222" stroke-width="0.8"/>
<text x="121.5" y="494.3" font-size="9" text-anchor="middle" fill="#222" font-weight="normal"  stroke="#222" stroke-width="0.25">0</text>
<line x1="157.6" y1="482" x2="157.6" y2="484.5" stroke="#222" stroke-width="0.8"/>
<text x="157.6" y="494.3" font-size="9" text-anchor="middle" fill="#222" font-weight="normal"  stroke="#222" stroke-width="0.25">5</text>
<line x1="193.7" y1="482" x2="193.7" y2="484.5" stroke="#222" stroke-width="0.8"/>
<text x="193.7" y="494.3" font-size="9" text-anchor="middle" fill="#222" font-weight="normal"  stroke="#222" stroke-width="0.25"> 0</text>
<path d="M0.335 0V-0.69H0.262L0.215 -0.628L0.158 -0.578L0.098 -0.545V-0.468L0.168 -0.5L0.245 -0.555V0Z" fill="#222" stroke="#222" stroke-width="0.0278" transform="translate(188.70 494.3) scale(9.00 9)"/>
<line x1="204.2" y1="482" x2="359.5" y2="482" stroke="#222" stroke-width="1.1"/>
<line x1="209.9" y1="482" x2="209.9" y2="484.5" stroke="#222" stroke-width="0.8"/>
<text x="209.9" y="494.3" font-size="9" text-anchor="middle" fill="#222" font-weight="normal"  stroke="#222" stroke-width="0.25">− 0</text>
<path d="M0.335 0V-0.69H0.262L0.215 -0.628L0.158 -0.578L0.098 -0.545V-0.468L0.168 -0.5L0.245 -0.555V0Z" fill="#222" stroke="#222" stroke-width="0.0278" transform="translate(207.52 494.3) scale(9.00 9)"/>
<line x1="246" y1="482" x2="246" y2="484.5" stroke="#222" stroke-width="0.8"/>
<text x="246" y="494.3" font-size="9" text-anchor="middle" fill="#222" font-weight="normal"  stroke="#222" stroke-width="0.25">−5</text>
<line x1="282.1" y1="482" x2="282.1" y2="484.5" stroke="#222" stroke-width="0.8"/>
<text x="282.1" y="494.3" font-size="9" text-anchor="middle" fill="#222" font-weight="normal"  stroke="#222" stroke-width="0.25">0</text>
<line x1="318.2" y1="482" x2="318.2" y2="484.5" stroke="#222" stroke-width="0.8"/>
<text x="318.2" y="494.3" font-size="9" text-anchor="middle" fill="#222" font-weight="normal"  stroke="#222" stroke-width="0.25">5</text>
<line x1="354.3" y1="482" x2="354.3" y2="484.5" stroke="#222" stroke-width="0.8"/>
<text x="354.3" y="494.3" font-size="9" text-anchor="middle" fill="#222" font-weight="normal"  stroke="#222" stroke-width="0.25"> 0</text>
<path d="M0.335 0V-0.69H0.262L0.215 -0.628L0.158 -0.578L0.098 -0.545V-0.468L0.168 -0.5L0.245 -0.555V0Z" fill="#222" stroke="#222" stroke-width="0.0278" transform="translate(349.30 494.3) scale(9.00 9)"/>
<line x1="40.2" y1="290" x2="42.7" y2="290" stroke="#222" stroke-width="0.8"/>
<text x="38.6" y="293.2" font-size="9" text-anchor="end" fill="#222" font-weight="normal"  stroke="#222" stroke-width="0.25"> 0</text>
<path d="M0.335 0V-0.69H0.262L0.215 -0.628L0.158 -0.578L0.098 -0.545V-0.468L0.168 -0.5L0.245 -0.555V0Z" fill="#222" stroke="#222" stroke-width="0.0278" transform="translate(28.59 293.2) scale(9.00 9)"/>
<line x1="40.2" y1="340.2" x2="42.7" y2="340.2" stroke="#222" stroke-width="0.8"/>
<text x="38.6" y="343.4" font-size="9" text-anchor="end" fill="#222" font-weight="normal"  stroke="#222" stroke-width="0.25">5</text>
<line x1="40.2" y1="390.3" x2="42.7" y2="390.3" stroke="#222" stroke-width="0.8"/>
<text x="38.6" y="393.5" font-size="9" text-anchor="end" fill="#222" font-weight="normal"  stroke="#222" stroke-width="0.25">0</text>
<line x1="40.2" y1="440.4" x2="42.7" y2="440.4" stroke="#222" stroke-width="0.8"/>
<text x="38.6" y="443.6" font-size="9" text-anchor="end" fill="#222" font-weight="normal"  stroke="#222" stroke-width="0.25">−5</text>
<text x="195.8" y="509.2" font-size="13.2" text-anchor="middle" fill="#111" font-weight="normal"  textLength="49.9" lengthAdjust="spacingAndGlyphs" stroke="#111" stroke-width="0.25">UMAP_ </text>
<path d="M0.335 0V-0.69H0.262L0.215 -0.628L0.158 -0.578L0.098 -0.545V-0.468L0.168 -0.5L0.245 -0.555V0Z" fill="#111" stroke="#111" stroke-width="0.0189" transform="translate(213.82 509.2) scale(12.47 13.2)"/>
<text x="0" y="0" font-size="13.5" text-anchor="middle" fill="#111" stroke="#111" stroke-width="0.25" textLength="53.7" lengthAdjust="spacingAndGlyphs" transform="translate(18.9 381.5) rotate(-90) scale(1 1.05)">UMAP_2</text>
<path d="M71.8 357.4h1.5M78.2 357h1.5M70 358h1.5M73.9 358.2h1.5M81.3 357.8h1.5M69 359.1h1.5M71.2 358.8h1.5M79.1 359.4h1.5M83.4 358.8h1.5M63.4 360.2h1.5M66 360h1.5M77 359.9h1.5M79.6 360.4h1.5M67.3 361.3h1.5M68.4 361.1h1.5M70.8 360.7h1.5M76 361.3h1.5M79.7 360.6h1.5M65.5 361.8h1.5M77.9 362.4h1.5M61.3 362.9h1.5M69 362.9h1.5M75.3 362.7h1.5M62.5 363.9h1.5M63 363.7h1.5M69.9 365.2h1.5M71.5 365.8h1.5M65.9 366.9h1.5M68.2 367.3h1.5M60.3 367.7h1.5M62.8 367.7h1.5M67.2 367.8h1.5M73.4 368.6h1.5M76.6 369.3h1.5M76.9 368.8h1.5M57.9 370.2h1.5M64.1 369.8h1.5M64.2 370.5h1.5M59.5 372.4h1.5M66.3 371.9h1.5M71.7 371.6h1.5M56.7 372.5h1.5M60 374h1.5M70.9 375.4h1.5M52.8 376.3h1.5M62.6 375.7h1.5M63.1 376.1h1.5M65 375.6h1.5M63.4 377.3h1.5M50.9 378.3h1.5M53.1 378.1h1.5M65.5 378.4h1.5M68.4 378.1h1.5M58.9 378.9h1.5M50.4 380h1.5M51 381.3h1.5M56 381.7h1.5M70.8 382.4h1.5M49.3 383h1.5M54 384.2h1.5M68.2 383.7h1.5M70.5 384.1h1.5M52.6 385.4h1.5M56.4 385.4h1.5M50.5 386h1.5M48.7 386.7h1.5M66.9 387.4h1.5M61.3 388.5h1.5M66.3 388h1.5M69.3 388.3h1.5M48.4 388.6h1.5M50.5 389.3h1.5M59.2 389.5h1.5M70.6 388.8h1.5M50.4 390.3h1.5M60 389.9h1.5M66.5 392.5h1.5M69 391.9h1.5M49.2 392.7h1.5M68.1 392.8h1.5M72.1 392.6h1.5M49.7 393.6h1.5M56.3 393.8h1.5M58.5 393.9h1.5M59.6 395.5h1.5M63.1 395.3h1.5M71.3 394.7h1.5M50.5 395.6h1.5M55.6 396.9h1.5M56.2 397.4h1.5M64.6 397.6h1.5M65.1 397.9h1.5M69 398.1h1.5M73.3 397.9h1.5M59.7 398.8h1.5M61.7 399.1h1.5M63.2 400.4h1.5M65.3 400.5h1.5M66.2 400h1.5M55.9 401.1h1.5M59 401.5h1.5M58.4 403.3h1.5M61.5 404.1h1.5M65.9 403.9h1.5M62.4 404.9h1.5M65.2 405.1h1.5M75 406.5h1.5M58.6 407.4h1.5M58.5 408.1h1.5M60.8 408.3h1.5M64.2 408h1.5M64.9 408.2h1.5M76.3 407.6h1.5M62.6 409h1.5M62.2 410.2h1.5M65.7 409.8h1.5M68.8 409.6h1.5M70.1 410h1.5M73 410h1.5M75.8 410.3h1.5M62.9 411h1.5M67.6 411.1h1.5M75 411.1h1.5M79 411h1.5M62.4 411.9h1.5M63.4 412h1.5M72.2 411.8h1.5M72.5 411.9h1.5M78.3 411.9h1.5M65.8 412.9h1.5M67.5 413.2h1.5M68.5 412.6h1.5M78.8 412.6h1.5M70.2 413.6h1.5M73.6 413.6h1.5M74.9 414.8h1.5M70.4 415.6h1.5M80.5 416.2h1.5M69.3 417.3h1.5M79.3 418.2h1.5" stroke="#2b4785" stroke-width="1.5" fill="none"/>
<path d="M102.4 373h1.5M100.1 373.9h1.5M101.1 373.7h1.5M103.1 374.4h1.5M105 373.9h1.5M106.8 374.4h1.5M102.3 375.5h1.5M102.3 375.3h1.5M105.1 374.6h1.5M107.9 375.7h1.5M103.5 376.9h1.5M104.8 377h1.5M103.1 377.9h1.5M103.5 377.8h1.5M99.6 379.3h1.5M102.7 379h1.5M103.3 379.2h1.5M105.9 378.6h1.5M106.2 378.7h1.5M109.1 379.2h1.5M99.3 380.1h1.5M100.8 380h1.5M101 380.3h1.5M103.4 380.5h1.5M104.7 379.5h1.5M107.9 380.2h1.5M97.7 381.3h1.5M98.7 380.7h1.5M98.3 382.2h1.5M100.1 381.8h1.5M104.3 381.5h1.5M104.3 382.4h1.5M107.5 382.1h1.5M96.7 383.4h1.5M96.9 383.1h1.5M98.5 383.3h1.5M101.2 383.5h1.5M103.2 383.4h1.5M106.6 382.8h1.5M99.1 383.6h1.5M99.8 384.2h1.5M100.6 383.6h1.5M100.9 384.2h1.5M106.7 383.7h1.5M107.1 384.5h1.5M109.4 384.2h1.5M97.5 385.2h1.5M97.5 384.9h1.5M97.7 384.9h1.5M99.2 384.6h1.5M106.5 385.5h1.5M107.6 385h1.5M97.9 385.9h1.5M98.2 385.9h1.5M99.7 386.2h1.5M100.5 385.8h1.5M102.9 386.4h1.5M97.2 386.8h1.5M103.3 386.8h1.5M100.9 387.7h1.5M106.7 388.2h1.5M109.2 388h1.5M100.7 388.8h1.5M109 388.8h1.5M97.4 390.1h1.5M99.2 390.3h1.5M103.9 389.5h1.5M107.2 390.1h1.5M108 390.1h1.5M105.1 391.4h1.5M98.1 392h1.5M103.3 392.4h1.5M108.8 391.7h1.5M101.1 393.3h1.5M103.8 393h1.5M104 393.1h1.5M105 393.2h1.5M105.5 393.8h1.5M106.2 394.2h1.5M107.3 394.2h1.5M103.6 394.9h1.5M104 394.7h1.5M104.2 394.7h1.5M107.2 394.6h1.5M99.8 395.7h1.5M102.9 395.5h1.5M104 396.3h1.5M106.3 396.2h1.5M106.9 396.1h1.5M102.1 397.5h1.5" stroke="#6e9ec9" stroke-width="1.5" fill="none"/>
<path d="M128.2 324.8h1.5M133.6 326.9h1.5M124.9 327.8h1.5M125.9 327.5h1.5M130.8 328.3h1.5M136.1 328h1.5M123.7 329h1.5M135.9 329.1h1.5M123.4 329.7h1.5M125.2 330h1.5M131.4 330.3h1.5M135.5 330h1.5M123.3 331h1.5M135.3 330.6h1.5M130.6 331.6h1.5M122.2 333.4h1.5M125.7 332.6h1.5M125.9 333.2h1.5M139.1 332.9h1.5M121.7 333.7h1.5M122.4 334.5h1.5M126.5 334.2h1.5M130.1 334.3h1.5M138 334.2h1.5M120.8 334.8h1.5M121.7 335.5h1.5M122.8 334.7h1.5M130.4 334.9h1.5M132.2 334.9h1.5M132.3 334.8h1.5M136.8 334.8h1.5M137.9 334.6h1.5M140.1 335.2h1.5M126.1 336.2h1.5M132.1 336.2h1.5M130.9 337.4h1.5M133 337.4h1.5M137.1 336.7h1.5M140.2 337h1.5M142.1 336.7h1.5M119.8 338h1.5M127.8 337.8h1.5M130.9 337.7h1.5M132.8 338.3h1.5M132.8 338.1h1.5M133 338h1.5M133.5 338.1h1.5M137.8 337.7h1.5M137.8 337.9h1.5M139.4 338.2h1.5M141.2 338.1h1.5M127 338.6h1.5M133 338.9h1.5M133.2 339.2h1.5M141.7 338.8h1.5M121.4 339.6h1.5M131.2 339.7h1.5M135.8 339.6h1.5M142.7 340h1.5M122.3 341h1.5M134 341.3h1.5M143.6 341.2h1.5M122.2 342.2h1.5M131.4 342.3h1.5M137.1 341.9h1.5M138.2 342.1h1.5M119.7 343.4h1.5M124.6 343.3h1.5M142.9 342.5h1.5M143.6 343.3h1.5M118.1 343.8h1.5M118.3 344h1.5M122 343.8h1.5M124.6 343.8h1.5M130.9 343.8h1.5M133 344.5h1.5M133.6 344h1.5M140.7 344.3h1.5M115.1 345h1.5M116.1 345.1h1.5M116.1 345.2h1.5M117.7 345.4h1.5M118.6 344.8h1.5M133 345.4h1.5M136.9 345.1h1.5M117.7 345.7h1.5M119.9 346h1.5M120.1 346.1h1.5M120.4 345.5h1.5M120.7 345.7h1.5M122.6 345.7h1.5M124.8 345.7h1.5M126.5 346.2h1.5M130.5 346.5h1.5M135.1 345.9h1.5M141.1 346.4h1.5M144.3 346.5h1.5M127.9 346.6h1.5M128.1 346.6h1.5M132.1 346.6h1.5M134.8 347.2h1.5M117.6 348.1h1.5M121.7 348h1.5M124.8 348.4h1.5M128 348.3h1.5M140.8 348.2h1.5M98.4 348.8h1.5M119.5 349.5h1.5M127.3 349.3h1.5M133.3 348.9h1.5M112.1 350.2h1.5M113.4 350h1.5M121.6 349.8h1.5M130.3 350.4h1.5M130.7 349.7h1.5M133.2 350h1.5M134.4 350h1.5M135.8 350.2h1.5M101.8 350.6h1.5M109.9 350.7h1.5M113.5 351.1h1.5M125.7 351h1.5M126.7 350.8h1.5M134.4 350.8h1.5M137.2 351.3h1.5M141.5 351.5h1.5M99.2 352.3h1.5M107.8 351.6h1.5M108.2 351.8h1.5M108.7 351.6h1.5M116 352h1.5M132.2 351.6h1.5M132.6 352.4h1.5M133.3 352.5h1.5M133.7 352.2h1.5M135 351.8h1.5M139.7 351.6h1.5M140.3 352h1.5M97 352.6h1.5M107 353h1.5M111.5 352.7h1.5M126.4 353.5h1.5M138.2 352.9h1.5M140 353h1.5M144.7 353.4h1.5M88.8 354.3h1.5M89.9 353.8h1.5M92.7 354.1h1.5M97.4 354.2h1.5M97.9 354h1.5M114.1 354.2h1.5M123.2 353.7h1.5M128 353.9h1.5M142.2 353.9h1.5M143.1 354.3h1.5M85.2 354.8h1.5M86.8 354.5h1.5M89 354.8h1.5M94 354.9h1.5M98.4 355.5h1.5M99.8 355.3h1.5M106.1 355.3h1.5M109.9 355.3h1.5M116.9 355.2h1.5M119.1 355.5h1.5M126.7 354.8h1.5M127.7 355.3h1.5M138.9 354.9h1.5M95.9 355.9h1.5M99.2 355.8h1.5M102.2 355.9h1.5M102.7 355.8h1.5M108.4 355.7h1.5M108.4 355.6h1.5M109.1 356.4h1.5M113.1 355.8h1.5M114.8 356.2h1.5M117.5 355.5h1.5M121.7 356.3h1.5M123.9 355.6h1.5M130 356.3h1.5M130 355.7h1.5M134.4 356.2h1.5M141.8 355.7h1.5M145.5 356.1h1.5M102.5 357.5h1.5M103.9 357.4h1.5M103.9 356.7h1.5M104.5 356.5h1.5M104.6 357.2h1.5M113 356.8h1.5M117.2 357.4h1.5M118.3 357.1h1.5M121.3 357.1h1.5M134.5 357.3h1.5M135.4 356.5h1.5M136 356.6h1.5M143.5 357.5h1.5M84.7 358.1h1.5M87.3 357.9h1.5M88 358.4h1.5M90.2 358.5h1.5M99.8 357.9h1.5M102.9 357.6h1.5M109.6 358h1.5M110.8 357.8h1.5M111.5 358h1.5M124.2 357.8h1.5M137.1 358.5h1.5M140.8 358h1.5M143.3 357.7h1.5M144.1 358.3h1.5M145.5 357.8h1.5M85.9 359.2h1.5M87.6 359h1.5M88.1 359h1.5M90.2 358.9h1.5M90.3 359.4h1.5M92.4 359.3h1.5M98.5 359.4h1.5M114.5 359.5h1.5M115.4 359.1h1.5M125.3 359.1h1.5M125.5 359.4h1.5M129.7 359.3h1.5M132.8 359h1.5M141.8 359.2h1.5M145.6 359.1h1.5M85.2 359.8h1.5M87.3 360.1h1.5M93.4 360.2h1.5M93.8 360.2h1.5M96.7 360.3h1.5M97.1 359.5h1.5M111.5 359.5h1.5M119 360h1.5M119.7 360.4h1.5M122.3 359.8h1.5M124.6 360.1h1.5M129.4 359.7h1.5M130.6 359.6h1.5M140.2 360.2h1.5M87 360.9h1.5M89.4 361h1.5M93 360.8h1.5M103.8 360.5h1.5M104.3 361.1h1.5M117.3 361.4h1.5M118.7 361.4h1.5M131.7 361.5h1.5M134.8 360.9h1.5M142.7 360.8h1.5M145.4 361h1.5M111.7 361.7h1.5M116 362.3h1.5M121.3 362.2h1.5M121.4 362.3h1.5M125.8 361.7h1.5M126.7 362.5h1.5M126.7 362.1h1.5M136.2 361.9h1.5M145.8 362.1h1.5M99.2 362.6h1.5M100.3 362.7h1.5M106 362.8h1.5M113.2 362.6h1.5M116.3 363.3h1.5M118.9 363.1h1.5M119.7 363.4h1.5M122.5 363.2h1.5M125.7 362.9h1.5M127.4 363.1h1.5M130.2 362.5h1.5M136.8 362.8h1.5M140.8 362.9h1.5M105.7 364.2h1.5M112 364.4h1.5M115.4 364.2h1.5M120 363.7h1.5M109.8 364.6h1.5M112.7 364.6h1.5M128.3 364.6h1.5M135.9 364.6h1.5M110.4 366h1.5M135.9 366.5h1.5M138.4 366.4h1.5M139 365.6h1.5M108.6 367.2h1.5M113.2 366.5h1.5M132.9 367h1.5M136.7 367.2h1.5M111.9 368h1.5M135.2 367.5h1.5M140.4 367.8h1.5M141.4 368h1.5M108.8 370.3h1.5M110 369.7h1.5M112.1 369.6h1.5M113 369.9h1.5M117.4 370.4h1.5M111.5 370.7h1.5M116.5 371.5h1.5M111.4 371.8h1.5M114.6 372h1.5M117 371.6h1.5M109 373.2h1.5M109.3 373.1h1.5M112.6 372.7h1.5M113.5 373h1.5M114.3 372.5h1.5M111.2 374.1h1.5M112.3 374.1h1.5M115.9 374.4h1.5M116.6 373.6h1.5M112.2 376.1h1.5M112 377.7h1.5" stroke="#ecd139" stroke-width="1.5" fill="none"/>
<path d="M134.1 283.2h1.5M131.3 284.9h1.5M134.5 285h1.5M126.4 286.5h1.5M135.9 286.5h1.5M137.6 286.6h1.5M133.1 287.6h1.5M119.5 290.1h1.5M128.5 290h1.5M118.7 291.1h1.5M137.5 291.3h1.5M128.4 292.1h1.5M136.1 292.3h1.5M138.8 292.1h1.5M116.1 293.3h1.5M117.8 293h1.5M124.6 292.7h1.5M122.4 293.9h1.5M123.1 293.8h1.5M127.6 295.6h1.5M129.9 295.5h1.5M125.2 297.3h1.5M137.6 296.8h1.5M117.8 298.4h1.5M123.8 297.6h1.5M126 297.6h1.5M127.9 298h1.5M128 298.3h1.5M133.1 299.5h1.5M126.4 300.2h1.5M121 300.7h1.5M128.2 300.6h1.5M128.2 302.4h1.5M139.4 301.6h1.5M123.2 304.5h1.5M131.8 305.4h1.5M127.9 306.8h1.5M126.8 309.7h1.5M129.2 310.3h1.5M128.3 312.8h1.5M125.7 318.7h1.5M127.7 319.8h1.5M126.8 322.5h1.5" stroke="#76dbd9" stroke-width="1.5" fill="none"/>
<path d="M122.8 366.7h1.5M125.4 367.3h1.5M131.9 367.3h1.5M123.4 367.8h1.5M123.5 368.5h1.5M130.9 368.1h1.5M132.6 368.2h1.5M128 369.2h1.5M128.3 368.9h1.5M130.7 369h1.5M126.8 370h1.5M127 370.2h1.5M139.1 370.3h1.5M143.9 370.2h1.5M143.4 371.2h1.5M143.9 371h1.5M123.7 371.9h1.5M124.2 372.1h1.5M135.1 371.7h1.5M141.4 372.2h1.5M145 372.1h1.5M127 372.6h1.5M129.6 373.1h1.5M131.8 372.6h1.5M133.5 373h1.5M137.8 372.7h1.5M122.9 373.5h1.5M128 374h1.5M134.3 374.4h1.5M136.4 373.9h1.5M137.6 374h1.5M138.7 373.8h1.5M138.9 374.4h1.5M126.8 374.5h1.5M136.3 375.3h1.5M141.3 375.3h1.5M142.1 374.8h1.5M130.7 375.6h1.5M133.5 375.7h1.5M135.3 376.4h1.5M140 376.1h1.5M144.7 375.8h1.5M122.8 376.8h1.5M123.2 376.8h1.5M125.5 377.2h1.5M128.1 377.3h1.5M132.8 376.9h1.5M119.8 377.9h1.5M122.5 377.6h1.5M123.3 378.1h1.5M130 378.5h1.5M138.2 378.3h1.5M146.6 377.6h1.5M147.7 378.5h1.5M121.1 379.4h1.5M125.8 378.6h1.5M144.8 378.6h1.5M121.5 381.3h1.5M122.8 381.1h1.5M133.6 380.9h1.5M143.5 381.2h1.5M147 380.9h1.5M124.7 382.2h1.5M126.4 381.7h1.5M127.9 381.7h1.5M134.9 382.2h1.5M135.6 381.9h1.5M142.2 381.7h1.5M143.5 381.9h1.5M146.5 382.2h1.5M147.1 382h1.5M147.6 382.2h1.5M149.3 381.7h1.5M150.3 382.3h1.5M119.7 383.1h1.5M140.5 382.8h1.5M143.2 383.1h1.5M119.8 384.4h1.5M120.2 384.3h1.5M123.5 383.7h1.5M128 383.7h1.5M128.3 384.1h1.5M130.4 384.2h1.5M136.5 383.5h1.5M138.6 384h1.5M139.8 383.7h1.5M145.7 383.6h1.5M146.4 383.8h1.5M147.2 383.9h1.5M151 384.3h1.5M151.3 383.9h1.5M151.4 384.2h1.5M121.8 384.9h1.5M123.9 385.4h1.5M124.3 384.9h1.5M126 385.3h1.5M129.4 385.4h1.5M138.4 385.4h1.5M142.4 384.8h1.5M143.1 385.5h1.5M146.5 385.4h1.5M147.5 385.2h1.5M148.1 385.5h1.5M123.4 385.7h1.5M123.7 386.1h1.5M124.1 386.2h1.5M124.7 385.8h1.5M125.4 386.3h1.5M126.7 385.5h1.5M127.6 386.5h1.5M134.1 386.4h1.5M139.4 385.9h1.5M146.7 385.8h1.5M148.4 386.5h1.5M152.9 386.2h1.5M153.7 386.1h1.5M153.9 386.4h1.5M119.8 387h1.5M132.7 387.3h1.5M133.5 387.2h1.5M134.4 387.2h1.5M140.8 386.6h1.5M142.1 387.2h1.5M145.5 387h1.5M148.4 387.2h1.5M151.7 387.3h1.5M152.4 387.4h1.5M153.5 387.3h1.5M153.6 386.6h1.5M154.2 387.2h1.5M125.9 387.6h1.5M126 387.7h1.5M130.2 387.8h1.5M131.4 387.5h1.5M132.1 388.4h1.5M140.9 388.4h1.5M143.2 388.4h1.5M144.9 388.2h1.5M146.5 388.1h1.5M150.5 388.4h1.5M154 387.9h1.5M127 389.3h1.5M132 389.1h1.5M132.6 388.7h1.5M134.2 389.3h1.5M135.2 388.9h1.5M135.4 389h1.5M145 389.2h1.5M145.8 388.6h1.5M147.7 389.1h1.5M150 388.6h1.5M150.5 388.9h1.5M152.7 389.4h1.5M155.1 389.4h1.5M119.9 390.4h1.5M120.2 390.2h1.5M121.6 390.2h1.5M126.5 389.6h1.5M127.4 390.4h1.5M128 390h1.5M130.5 390h1.5M134.8 390h1.5M139.3 389.7h1.5M139.4 390.3h1.5M140.3 389.9h1.5M141 389.8h1.5M146.1 390.2h1.5M147.4 390.4h1.5M149.5 389.9h1.5M151.5 389.7h1.5M151.9 389.6h1.5M155.1 390.4h1.5M123 391.2h1.5M124.2 391.3h1.5M129 391.1h1.5M134.3 391.1h1.5M140.2 391h1.5M141.7 391.3h1.5M145.8 390.8h1.5M146 391.4h1.5M154.5 390.8h1.5M119.7 392.3h1.5M122.7 392.2h1.5M125.3 391.8h1.5M126.3 391.6h1.5M130.8 391.8h1.5M135.4 392.2h1.5M135.5 391.5h1.5M137.5 391.9h1.5M140.5 391.9h1.5M141.8 392h1.5M143.4 392.2h1.5M143.9 392.3h1.5M144.1 392h1.5M147.7 392.3h1.5M148.7 391.7h1.5M121.1 393h1.5M122.5 393.4h1.5M123 393.2h1.5M124.1 392.6h1.5M125.2 392.8h1.5M131.4 393h1.5M136.2 393.4h1.5M136.4 392.8h1.5M143.6 393.2h1.5M143.9 393.1h1.5M147.5 393.3h1.5M147.7 392.8h1.5M148.3 392.8h1.5M153.1 393h1.5M154.1 393.3h1.5M156.7 392.7h1.5M125.5 393.5h1.5M128.1 393.5h1.5M128.4 393.8h1.5M128.6 394h1.5M129.8 394.3h1.5M129.9 394.2h1.5M130.1 394.3h1.5M136.2 394h1.5M136.4 394.1h1.5M139.7 394.3h1.5M143.7 393.9h1.5M153.9 394.1h1.5M154.2 394.2h1.5M156 394.4h1.5M156.6 394.3h1.5M156.8 393.8h1.5M119.4 395h1.5M119.4 394.6h1.5M119.6 395.3h1.5M123.6 394.8h1.5M126.5 395.4h1.5M128.1 394.8h1.5M128.3 394.6h1.5M130.1 395.4h1.5M131.6 394.7h1.5M132.4 394.6h1.5M119.1 396.4h1.5M121.1 395.7h1.5M122.1 395.7h1.5M123.4 395.6h1.5M124.9 395.7h1.5M125.5 396h1.5M125.8 395.9h1.5M126.9 396.1h1.5M127.6 395.6h1.5M127.7 395.9h1.5M128.7 395.6h1.5M129.7 396.2h1.5M132.5 396.1h1.5M145.6 395.9h1.5M146.8 396.1h1.5M152.3 396h1.5M122.1 396.6h1.5M126.9 397h1.5M130.2 396.7h1.5M130.5 397.5h1.5M137 397.1h1.5M138.7 397.2h1.5M141.4 397.2h1.5M142.3 396.9h1.5M142.8 397.1h1.5M145.5 396.8h1.5M149.1 397.2h1.5M151 397h1.5M152.2 397.3h1.5M154.1 397.2h1.5M120 398.2h1.5M124.5 397.6h1.5M125.9 398.4h1.5M129 398h1.5M130.4 398.3h1.5M133 398.2h1.5M133.2 397.6h1.5M140.5 398h1.5M140.5 398.1h1.5M145.4 397.7h1.5M146.4 398h1.5M148.3 397.8h1.5M156.2 398.3h1.5M156.5 398.2h1.5M156.9 398.3h1.5M120.8 399.4h1.5M121.2 399.4h1.5M122.6 399h1.5M123.5 399.2h1.5M127.6 398.9h1.5M128.1 399.2h1.5M130.6 398.9h1.5M134.8 398.6h1.5M139.3 398.6h1.5M140.4 398.8h1.5M140.8 398.6h1.5M143.5 398.8h1.5M147.2 398.8h1.5M154.7 398.6h1.5M156.6 399.1h1.5M120.3 400.3h1.5M120.9 399.7h1.5M125.6 400.3h1.5M128.2 399.6h1.5M130.8 400.3h1.5M138 399.6h1.5M156.2 400.4h1.5M156.4 400h1.5M157 400h1.5M125.4 401h1.5M125.7 401.4h1.5M134.3 400.7h1.5M134.7 401.1h1.5M137.8 401.2h1.5M138.1 400.9h1.5M138.9 400.8h1.5M139.3 401h1.5M139.9 401.2h1.5M143.2 400.8h1.5M143.6 400.7h1.5M145.9 400.5h1.5M147.4 401.1h1.5M147.6 401.2h1.5M155 401.1h1.5M123.2 402.2h1.5M126.5 402.1h1.5M128.1 402.3h1.5M130 401.8h1.5M134.7 402.1h1.5M135.5 402.1h1.5M136.5 402.3h1.5M138.8 401.5h1.5M144.7 401.9h1.5M145.8 402.2h1.5M147 401.6h1.5M147.7 402h1.5M148.9 401.7h1.5M153.2 401.7h1.5M153.6 402h1.5M121.3 403.3h1.5M121.5 402.6h1.5M122.1 403.4h1.5M127.3 403h1.5M128.4 403.5h1.5M129.6 402.5h1.5M129.7 403.1h1.5M131.3 402.8h1.5M132 402.9h1.5M132.9 403.5h1.5M133.2 403.1h1.5M136.1 403.1h1.5M137.6 402.9h1.5M139.9 403.4h1.5M140.1 402.8h1.5M140.9 403.4h1.5M144.9 403.2h1.5M150.6 403.3h1.5M150.7 403.1h1.5M150.8 403.4h1.5M152.6 403.3h1.5M152.8 402.7h1.5M156.3 402.9h1.5M156.6 402.8h1.5M123.2 404.2h1.5M130.3 403.5h1.5M130.5 403.8h1.5M131.1 404h1.5M140.7 403.5h1.5M143.6 403.7h1.5M143.8 404h1.5M147.1 404.4h1.5M147.4 403.7h1.5M148 403.8h1.5M150.2 403.8h1.5M154.3 403.5h1.5M125.3 405.1h1.5M129.5 404.7h1.5M131.4 405.4h1.5M131.4 404.7h1.5M132.3 404.6h1.5M133.2 404.8h1.5M133.7 404.6h1.5M135.1 405h1.5M135.7 405.2h1.5M137.1 405.2h1.5M140.3 405.2h1.5M141.9 405.4h1.5M144.8 405.3h1.5M145.2 405.2h1.5M148.3 405.4h1.5M150.3 405.3h1.5M155.3 405h1.5M156.4 404.9h1.5M122.9 405.6h1.5M129 406.2h1.5M132.7 406.3h1.5M141.1 406.3h1.5M144.2 405.8h1.5M145.5 406.2h1.5M146.4 406.1h1.5M146.7 406.4h1.5M147.7 406.2h1.5M147.7 405.5h1.5M150.1 405.8h1.5M126.3 407.5h1.5M127.2 406.9h1.5M130 407.3h1.5M131.7 406.9h1.5M134.2 406.9h1.5M137.8 407.5h1.5M139.2 407.3h1.5M139.3 407.4h1.5M140.5 406.6h1.5M153.4 407.1h1.5M124.5 408.2h1.5M126.7 408.2h1.5M127.5 408.4h1.5M129.7 408.1h1.5M137.3 408.3h1.5M144.6 407.5h1.5M148.7 408h1.5M155 408.1h1.5M129.4 409.5h1.5M133.8 408.7h1.5M136.8 409.4h1.5M141 409.2h1.5M143.1 409.3h1.5M144.2 408.9h1.5M144.3 409.1h1.5M147 408.9h1.5M149.7 408.6h1.5M150.7 409.1h1.5M153.5 408.8h1.5M120.1 410.4h1.5M123.7 410.2h1.5M124.4 409.9h1.5M128.1 409.5h1.5M129.1 410.1h1.5M129.6 409.8h1.5M133.4 410h1.5M133.6 410h1.5M133.8 409.5h1.5M134.8 409.5h1.5M135.2 410.4h1.5M136.6 410.2h1.5M142.3 410.3h1.5M143.3 410.4h1.5M143.5 410.3h1.5M149.8 410h1.5M153.4 410.3h1.5M123.9 410.8h1.5M130.5 410.6h1.5M139.3 410.8h1.5M140.9 410.9h1.5M141 411.3h1.5M142.1 410.8h1.5M150.6 410.6h1.5M151.7 410.9h1.5M154.4 410.6h1.5M123.2 412h1.5M123.5 412.3h1.5M124.8 412.1h1.5M125.4 412.3h1.5M130.3 412h1.5M131.8 412.3h1.5M133.6 412.3h1.5M133.6 411.5h1.5M138.1 412.1h1.5M139.4 412.1h1.5M141.3 411.5h1.5M144.3 412h1.5M144.7 412.3h1.5M146.8 411.5h1.5M149.2 412.1h1.5M151.5 411.7h1.5M153.4 411.7h1.5M154 411.7h1.5M119.1 412.8h1.5M120.7 413h1.5M121 412.7h1.5M124 412.5h1.5M124.1 413.3h1.5M124.8 413.2h1.5M126.2 412.9h1.5M126.8 413.4h1.5M128.1 413.4h1.5M128.9 412.9h1.5M133.5 412.6h1.5M135.9 412.5h1.5M137.9 412.9h1.5M141.9 412.8h1.5M150 412.8h1.5M118.3 413.8h1.5M119.4 413.6h1.5M121.7 414.3h1.5M125.4 414h1.5M128.8 414.1h1.5M129.8 413.9h1.5M130.8 413.8h1.5M131.4 413.5h1.5M132 414.1h1.5M134.7 414.2h1.5M138.7 413.7h1.5M143.1 414h1.5M145.8 413.9h1.5M145.9 414.1h1.5M152.9 413.9h1.5M120.6 415.1h1.5M124.1 414.6h1.5M129.4 414.8h1.5M130.5 414.9h1.5M131.2 415.3h1.5M136 414.7h1.5M146.4 415.2h1.5M149.6 414.7h1.5M149.9 414.9h1.5M150.2 415.1h1.5M122.2 415.9h1.5M125.5 416h1.5M127.4 415.6h1.5M127.9 416.4h1.5M128.6 416.3h1.5M131.2 416.3h1.5M141.8 415.8h1.5M142.9 416.2h1.5M145.9 415.9h1.5M146.4 416.5h1.5M149 416.3h1.5M151.6 416h1.5M119.2 417.1h1.5M119.8 417.4h1.5M119.9 416.7h1.5M121.3 417.1h1.5M121.4 417.1h1.5M121.8 417h1.5M122.9 416.7h1.5M134.7 416.8h1.5M137.3 416.8h1.5M138.4 417.4h1.5M139.5 417.3h1.5M143.3 417h1.5M143.9 416.9h1.5M148.9 416.7h1.5M120.3 417.8h1.5M122.1 418.2h1.5M122.9 418.2h1.5M126.6 418.2h1.5M130.7 417.8h1.5M136.4 418.3h1.5M139.5 417.8h1.5M140.4 418.4h1.5M142.7 417.9h1.5M143.3 418.2h1.5M147.9 418.4h1.5M117.8 419.2h1.5M121.9 418.7h1.5M125.6 418.6h1.5M126.1 419.5h1.5M130.6 419.1h1.5M143.8 418.7h1.5M143.9 419.1h1.5M123.4 420.1h1.5M129.2 419.9h1.5M132.3 419.7h1.5M138.8 419.9h1.5M140.1 419.8h1.5M141.7 419.9h1.5M141.8 419.6h1.5M142.9 419.7h1.5M122.4 421.1h1.5M129.6 420.5h1.5M130.3 420.8h1.5M130.5 421.2h1.5M131.2 421.3h1.5M135.2 420.5h1.5M138 420.9h1.5M139.9 421.2h1.5M142.6 421h1.5M142.7 420.9h1.5M143.8 421.3h1.5M119 422h1.5M127.4 422h1.5M132.4 422.4h1.5M140 422.1h1.5M116.9 422.8h1.5M117.1 423.3h1.5M118.5 423h1.5M120 423.3h1.5M121.1 423.1h1.5M138.2 422.6h1.5M141.1 423.1h1.5M117.4 424.3h1.5M118 423.6h1.5M120.5 423.8h1.5M122 423.7h1.5M122 424.1h1.5M127.9 424.1h1.5M130.4 423.9h1.5M139.8 423.7h1.5M139.9 423.8h1.5M116.7 424.8h1.5M118.7 425.1h1.5M119.9 424.8h1.5M121 424.9h1.5M123.7 424.9h1.5M128.6 425.3h1.5M129.4 424.8h1.5M130.3 425.5h1.5M130.3 424.7h1.5M138.8 424.8h1.5M125.2 425.6h1.5" stroke="#e0231f" stroke-width="1.5" fill="none"/>
<path d="M161 395.4h1.5M161.5 394.7h1.5M162.4 395.2h1.5M159.1 396.2h1.5M164.6 396.4h1.5M162.7 397.2h1.5M165 397.1h1.5M167 397h1.5M167.3 396.8h1.5M159.6 397.7h1.5M161.7 397.6h1.5M168.1 398.2h1.5M162.3 398.8h1.5M171.4 399.2h1.5M166.5 400.1h1.5M168.5 399.6h1.5M169 399.9h1.5M159 401.4h1.5M163.8 401.5h1.5M164.7 401.5h1.5M165 401h1.5M157.4 401.9h1.5M158.7 401.8h1.5M172.1 401.7h1.5M166 402.6h1.5M172.6 403h1.5M157.8 403.9h1.5M163.5 404.4h1.5M167.3 403.6h1.5M168 403.8h1.5M175 404.1h1.5M157.2 404.5h1.5M162.6 404.6h1.5M164.2 405.2h1.5M164.8 405.3h1.5M164.9 405.2h1.5M172.9 404.7h1.5M177.5 405.1h1.5M162.2 405.6h1.5M167.8 405.5h1.5M176.9 406.2h1.5M164.1 406.9h1.5M169.3 406.9h1.5M172 407.3h1.5M159.4 408.1h1.5M168.5 408.3h1.5M173.3 407.6h1.5M174.2 407.8h1.5M177.6 408.5h1.5M157.6 408.8h1.5M159.6 409.3h1.5M165.7 409.4h1.5M167 408.8h1.5M168.5 409.3h1.5M172 409.4h1.5M173.8 409.4h1.5M177 409.4h1.5M177.9 408.7h1.5M161.8 410.1h1.5M162.6 409.8h1.5M164.1 410.1h1.5M172.8 410.1h1.5M176.3 410.1h1.5M156.6 410.9h1.5M159.3 410.9h1.5M170.9 411.4h1.5M180.2 411h1.5M156.7 411.7h1.5M172.8 412.4h1.5M177.9 411.7h1.5M181.6 411.6h1.5M182.2 411.6h1.5M155.5 413h1.5M155.8 413.3h1.5M156.9 413.4h1.5M177.8 413h1.5M178 413h1.5M155.8 414.4h1.5M160.3 414.1h1.5M169.5 414.5h1.5M172.8 414.1h1.5M158.4 414.9h1.5M161.8 415h1.5M168.6 415.3h1.5M176.5 414.6h1.5M177.3 414.7h1.5M156.4 415.9h1.5M156.9 415.9h1.5M157.6 416h1.5M159 415.8h1.5M162 415.9h1.5M162.3 416.4h1.5M163 415.7h1.5M165.1 415.5h1.5M166.1 415.6h1.5M167.6 415.8h1.5M170.5 416.5h1.5M174 416.2h1.5M175 415.9h1.5M175.4 415.6h1.5M181.1 415.8h1.5M182.5 415.7h1.5M160.5 417.4h1.5M163.7 417.1h1.5M164.3 417.1h1.5M165.5 416.8h1.5M165.6 417h1.5M167.2 417.3h1.5M174.4 417.2h1.5M178.1 417.4h1.5M178.1 416.7h1.5M184 416.6h1.5M184.8 417.4h1.5M152.5 417.6h1.5M156.7 418h1.5M162.4 417.6h1.5M165.5 417.8h1.5M167.5 417.6h1.5M177.6 418.3h1.5M178.2 417.5h1.5M181.4 418.2h1.5M151.1 419.5h1.5M159.9 418.7h1.5M163.9 418.7h1.5M167.3 418.9h1.5M167.5 418.8h1.5M172.8 418.6h1.5M174.9 418.8h1.5M181.7 419.3h1.5M150 419.7h1.5M159.2 419.5h1.5M160 419.5h1.5M165.4 420.5h1.5M166.7 419.9h1.5M174.1 419.7h1.5M181 420.4h1.5M184.4 420h1.5M146.5 420.6h1.5M152.2 420.9h1.5M153.8 421.1h1.5M154.5 420.5h1.5M157.8 421.5h1.5M163.1 421.4h1.5M163.4 421.5h1.5M167.4 420.9h1.5M167.6 421.3h1.5M169.5 421.1h1.5M176.3 420.6h1.5M176.3 421h1.5M177.4 420.9h1.5M185.8 421h1.5M147.4 422h1.5M148.8 421.8h1.5M164.1 421.6h1.5M165.3 422.5h1.5M165.3 422.4h1.5M165.6 422.4h1.5M166.7 421.6h1.5M172.7 422h1.5M175.1 421.5h1.5M175.8 421.9h1.5M176.4 422h1.5M152.1 423.1h1.5M157.7 423.2h1.5M161.5 423h1.5M166.3 423.2h1.5M170.3 422.7h1.5M173.1 422.8h1.5M177.8 423.3h1.5M141.3 423.6h1.5M145.5 424.1h1.5M145.6 423.9h1.5M154.9 423.6h1.5M157.4 423.6h1.5M159.1 424.1h1.5M164.3 423.8h1.5M172.2 423.5h1.5M176.1 423.6h1.5M183.2 424h1.5M142.2 425.3h1.5M161.7 425.1h1.5M165.4 424.7h1.5M167.6 424.5h1.5M172.3 425.4h1.5M172.6 424.8h1.5M175.3 424.7h1.5M176 425.2h1.5M177.6 424.8h1.5M182.1 424.8h1.5M184.1 424.8h1.5M185.4 424.6h1.5M144.2 426.4h1.5M146.4 425.5h1.5M148.2 426.4h1.5M160.3 426.5h1.5M162.6 426.1h1.5M164.1 426.2h1.5M167.4 425.9h1.5M169.4 426.4h1.5M171.4 425.9h1.5M173.6 425.9h1.5M174.5 426h1.5M176.5 426.2h1.5M144.6 426.7h1.5M151.8 426.7h1.5M160.8 426.7h1.5M170.7 426.5h1.5M170.9 426.8h1.5M176.2 427.1h1.5M182.9 426.7h1.5M149.8 428.3h1.5M161.2 427.8h1.5M166.3 427.7h1.5M175.7 428.4h1.5M179.6 428.3h1.5M179.7 428h1.5M182.1 428.4h1.5M146.5 428.6h1.5M152.2 429.5h1.5M154 429.3h1.5M160.8 429.4h1.5M163.1 429h1.5M165 429.4h1.5M171.7 429.1h1.5M173.7 428.9h1.5M174.4 429.4h1.5M175.1 429h1.5M176.7 429h1.5M179.4 429.3h1.5M180.2 428.9h1.5M153.1 429.6h1.5M155.1 430.3h1.5M155.7 429.9h1.5M159.3 430.5h1.5M161.5 430.1h1.5M166.8 430.3h1.5M173.1 430.4h1.5M160.3 431h1.5M167.7 431.3h1.5M178 431.1h1.5M181.6 431.5h1.5M150.4 432.2h1.5M152.6 432.2h1.5M155.2 432h1.5M159.4 432h1.5M163.7 432.1h1.5M165.3 432.3h1.5M167.8 431.9h1.5M170.6 432h1.5M177.4 431.5h1.5M148.3 432.6h1.5M158.9 433.4h1.5M159 433.3h1.5M161.7 432.8h1.5M170 432.6h1.5M170.1 432.6h1.5M173.8 432.9h1.5M177.6 433.1h1.5M153.6 433.8h1.5M156 433.5h1.5M157.6 434.4h1.5M162.1 433.7h1.5M166.5 434.2h1.5M166.5 433.8h1.5M169.3 433.6h1.5M150.7 434.5h1.5M156.2 434.7h1.5M162.1 434.8h1.5M163.5 434.7h1.5M167.1 434.6h1.5M169.9 435.3h1.5M173.9 434.7h1.5M174.4 434.6h1.5M154.9 436.3h1.5M158.9 435.9h1.5M160.9 436.3h1.5M163.9 436.2h1.5M161 437.2h1.5M157 437.9h1.5M157.4 437.8h1.5" stroke="#3b9347" stroke-width="1.5" fill="none"/>
<path d="M135.5 428.2h1.5M139.2 431.3h1.5M136.5 433.8h1.5M129.5 434.7h1.5M137.2 434.8h1.5M141.7 435.5h1.5M143.1 435h1.5M140.3 436.2h1.5M143.4 436.5h1.5M147 436.2h1.5M149.4 435.8h1.5M139.5 437.4h1.5M145.5 437.1h1.5M129.4 437.9h1.5M129.8 437.8h1.5M132 438.3h1.5M146.6 438.3h1.5M149.1 438h1.5M131.5 438.9h1.5M141.1 438.6h1.5M146.7 439.3h1.5M136.6 439.6h1.5M139.9 440.1h1.5M143 440h1.5M149.1 440.4h1.5M136.1 441.4h1.5M138.5 441h1.5M141.5 440.7h1.5M143.4 440.6h1.5M144.4 440.7h1.5M146.4 441.4h1.5M127.1 442h1.5M136 442.2h1.5M138.8 441.8h1.5M142.9 441.9h1.5M126.8 442.6h1.5M127.9 443.4h1.5M128.3 443.2h1.5M128.8 443.1h1.5M132.1 443.1h1.5M144.8 443.4h1.5M127.6 443.6h1.5M129.4 443.9h1.5M145 444.3h1.5M130.8 444.7h1.5M132.3 446.3h1.5M132.9 446h1.5M133.1 446h1.5M140.8 446h1.5M134.8 447.7h1.5M143 447.6h1.5M128.5 449.5h1.5M135.4 449.9h1.5M128.3 450.9h1.5M133.3 450.8h1.5M134.9 451.1h1.5M135.1 451.3h1.5M140.9 451.9h1.5M128 452.8h1.5M137.1 453.4h1.5M132.8 453.9h1.5M138.3 454.4h1.5M139.6 454.3h1.5M129 454.7h1.5M138.3 454.9h1.5M129.5 455.6h1.5M133.2 459h1.5" stroke="#b43fe8" stroke-width="1.5" fill="none"/>
<path d="M181.9 435.7h1.5M183 436h1.5M180.9 437.2h1.5M179.8 437.6h1.5M183.2 437.9h1.5M178.8 443h1.5M178.8 443.3h1.5M179.8 444.1h1.5M178.9 445.1h1.5M181.1 445.3h1.5M178.6 447.4h1.5M177.2 448.3h1.5M182.4 449.1h1.5M184.4 449.3h1.5M184.8 448.8h1.5M181.6 450.2h1.5M184.5 449.7h1.5M176.5 450.9h1.5M182.4 451.3h1.5M181.2 452.3h1.5M176.3 453h1.5M179.8 453.4h1.5M184 453.2h1.5M184.7 452.6h1.5M176.3 454.4h1.5M182.6 454.4h1.5M184.6 454.3h1.5M176.2 454.6h1.5M183.9 455.8h1.5M177.2 457.5h1.5M177.9 457h1.5M181.1 456.8h1.5M185.8 457.4h1.5M182.2 457.6h1.5M185.7 457.9h1.5M186.4 458.2h1.5M186.8 458.1h1.5M175 458.6h1.5M178.7 459.4h1.5M185.8 459.5h1.5M183.9 460.4h1.5M178.8 460.6h1.5M174.3 462.3h1.5M175.7 461.9h1.5M181.8 461.9h1.5M183.1 461.9h1.5M187 461.5h1.5M176.6 462.9h1.5M180.6 462.9h1.5M185.5 462.9h1.5M174.5 463.8h1.5M178.5 464.3h1.5M179.9 464.2h1.5M181.6 463.6h1.5M182.8 464h1.5M185 464.2h1.5M186.9 464.1h1.5M187.4 463.7h1.5M176.8 465.6h1.5M181.2 466.1h1.5M183.7 466.1h1.5M187 466h1.5M182.9 467.2h1.5M183.4 466.6h1.5M181.9 467.6h1.5M181.4 468.8h1.5M184.8 469.3h1.5M185.4 469.6h1.5M178.6 471h1.5" stroke="#84162d" stroke-width="1.5" fill="none"/>
<path d="M125.1 308.1 L115.7 314.6 L109.9 318.1" fill="none" stroke="#4a1645" stroke-width="1.7" stroke-linejoin="round"/>
<path d="M115.7 314.6 L116.1 326.1" fill="none" stroke="#4a1645" stroke-width="1.7" stroke-linejoin="round"/>
<path d="M263.4 373h1.5M264.4 373.1h1.5M266.3 373.5h1.5M261.2 373.9h1.5M261.5 374.4h1.5M263.4 373.6h1.5M264.3 374.2h1.5M266 374.1h1.5M267.2 373.8h1.5M267.5 374.1h1.5M260 375.3h1.5M260.3 375.3h1.5M260.5 375.2h1.5M261.9 374.8h1.5M260.5 376.3h1.5M261.7 375.9h1.5M264.6 375.6h1.5M259 376.7h1.5M259.1 376.5h1.5M261.4 377.3h1.5M261.6 377.1h1.5M262.5 377.3h1.5M264.5 377.5h1.5M265.3 376.5h1.5M265.4 376.5h1.5M265.5 376.6h1.5M266.8 376.6h1.5M267.9 377h1.5M268.8 376.9h1.5M258.6 377.8h1.5M259.4 378.4h1.5M262.3 378.1h1.5M264.5 377.9h1.5M264.5 377.7h1.5M265.4 378.2h1.5M265.5 378h1.5M266 378.1h1.5M269.8 378.3h1.5M259 378.8h1.5M261.5 378.7h1.5M261.8 378.8h1.5M263.1 379.4h1.5M263.5 379.2h1.5M264.1 378.5h1.5M267.1 379.2h1.5M267.2 379.2h1.5M267.7 378.6h1.5M260.8 379.7h1.5M264.1 379.8h1.5M265.7 380.2h1.5M266.2 380.4h1.5M266.2 380.1h1.5M266.3 379.7h1.5M267.6 379.7h1.5M268.6 380.3h1.5M270.4 380h1.5M261.1 381.3h1.5M262.5 380.8h1.5M262.7 381.2h1.5M263.4 381.3h1.5M264 380.6h1.5M264.3 380.6h1.5M264.6 381.4h1.5M265.4 381h1.5M267 380.9h1.5M269 380.6h1.5M257.7 382h1.5M259.4 382.3h1.5M260.7 382.4h1.5M261.5 381.5h1.5M261.6 382.3h1.5M263.8 381.6h1.5M264.3 382.3h1.5M267.5 382h1.5M267.8 382.3h1.5M268.5 382.4h1.5M269 381.7h1.5M269.6 381.7h1.5M258.9 382.8h1.5M259 383.3h1.5M259.7 382.9h1.5M261.6 382.9h1.5M262.3 382.7h1.5M262.8 382.7h1.5M263.9 383.3h1.5M264.1 382.7h1.5M265.2 382.7h1.5M265.3 383.2h1.5M267.4 382.9h1.5M270 382.9h1.5M264.4 384.5h1.5M267.3 383.5h1.5M268.4 383.5h1.5M268.7 384.3h1.5M270 383.6h1.5M270.2 384h1.5M257.4 384.9h1.5M257.7 385.2h1.5M257.8 385.5h1.5M261.5 385h1.5M264.4 385.3h1.5M265 384.7h1.5M266 385.2h1.5M267.1 384.6h1.5M270.5 385.3h1.5M257.4 385.7h1.5M257.4 386.5h1.5M257.8 386.4h1.5M258.2 386.3h1.5M259.8 385.5h1.5M260.2 385.9h1.5M261.1 385.8h1.5M262.4 385.7h1.5M262.6 386h1.5M262.8 385.6h1.5M263.5 386.5h1.5M264 386.1h1.5M264.3 386.3h1.5M264.3 385.6h1.5M268 386.1h1.5M270.2 385.6h1.5M270.3 385.6h1.5M257.5 386.8h1.5M260 386.6h1.5M260.6 387h1.5M261.9 386.7h1.5M262.1 386.9h1.5M263.6 387h1.5M266.2 386.5h1.5M258.3 387.9h1.5M261.6 387.6h1.5M263.5 388h1.5M263.8 387.6h1.5M264.5 387.6h1.5M267.1 387.6h1.5M270.1 387.6h1.5M257.7 388.9h1.5M259.2 389.1h1.5M260.5 389.2h1.5M263.9 389.1h1.5M266 389.4h1.5M269.9 389.4h1.5M258.7 389.8h1.5M262.6 390.3h1.5M262.6 390.4h1.5M263.5 389.6h1.5M264.5 389.8h1.5M265.1 390.1h1.5M265.3 389.8h1.5M258.4 390.7h1.5M258.7 391.4h1.5M260.2 391h1.5M264.3 390.7h1.5M264.6 391.2h1.5M265 390.7h1.5M266.2 390.8h1.5M269.3 391.4h1.5M259 391.7h1.5M260.2 392.5h1.5M260.3 391.8h1.5M260.3 392.3h1.5M261 392h1.5M264.2 391.9h1.5M269.1 392.2h1.5M269.4 392.5h1.5M269.9 392h1.5M260.4 392.7h1.5M261.6 392.9h1.5M262.5 392.7h1.5M263.9 392.9h1.5M265.2 393.4h1.5M268 393.4h1.5M268.9 393h1.5M260.8 393.6h1.5M261.3 394.1h1.5M264.7 393.6h1.5M265.9 394.1h1.5M266.1 394.3h1.5M267.7 393.7h1.5M262.9 394.6h1.5M263.4 395.4h1.5M264 394.9h1.5M264.5 395.5h1.5M267 394.7h1.5M268.3 395.4h1.5M261 396.3h1.5M264.2 395.8h1.5M265.1 395.7h1.5M266.1 396.4h1.5M261.6 396.6h1.5M263.2 397.4h1.5M263.4 396.6h1.5M264 396.8h1.5M265.7 396.5h1.5M265.8 396.8h1.5M266.9 396.8h1.5M264.4 397.9h1.5" stroke="#6e9ec9" stroke-width="1.5" fill="none"/>
<path d="M286.7 326.3h1.5M287.3 326.3h1.5M288 325.6h1.5M291.2 326h1.5M289.7 326.9h1.5M291.3 327.1h1.5M293.4 326.8h1.5M293.5 327h1.5M294.9 327.2h1.5M287.1 327.9h1.5M288.2 328.2h1.5M289.9 328.4h1.5M291.8 328.4h1.5M292.8 328.4h1.5M284.3 328.8h1.5M290.3 329.1h1.5M291.8 329.4h1.5M292.2 329.3h1.5M293.4 329.2h1.5M294.2 329.4h1.5M295.3 329h1.5M295.7 328.6h1.5M296.7 328.7h1.5M298.2 329h1.5M287.4 329.9h1.5M288.5 329.7h1.5M289.4 330.1h1.5M293.2 329.7h1.5M295.3 329.9h1.5M282.8 331.1h1.5M283 331.1h1.5M284.4 331.3h1.5M286.8 331.1h1.5M286.9 331.2h1.5M288.2 331.4h1.5M288.9 331.3h1.5M289 330.8h1.5M289.4 330.8h1.5M289.9 331.3h1.5M284.3 332h1.5M286 332.2h1.5M288.1 331.5h1.5M293.9 332.3h1.5M298.8 332.1h1.5M284.2 332.9h1.5M286.6 333.2h1.5M286.6 332.5h1.5M286.9 333.3h1.5M287.6 333h1.5M288.3 332.8h1.5M288.8 333.4h1.5M291.3 333h1.5M293.2 332.6h1.5M294.7 333h1.5M297.3 333.1h1.5M300.4 333h1.5M288.8 334.2h1.5M290.9 333.6h1.5M295.7 334.1h1.5M296.6 333.7h1.5M298.1 334.1h1.5M298.3 333.5h1.5M299.6 333.7h1.5M299.7 333.8h1.5M282 335.1h1.5M285.2 334.6h1.5M287.6 335.1h1.5M288.1 335.2h1.5M288.5 335.3h1.5M289.6 335.2h1.5M291.5 335.1h1.5M292.5 334.8h1.5M293.5 335.3h1.5M295.4 334.6h1.5M296 335.2h1.5M298.2 334.8h1.5M282.2 335.6h1.5M286.1 335.8h1.5M290.8 335.9h1.5M292.6 335.8h1.5M296.4 335.9h1.5M298 336.2h1.5M299.6 335.6h1.5M301 336.1h1.5M281.6 337.5h1.5M281.9 337.4h1.5M284.8 336.9h1.5M285.4 337.2h1.5M285.7 336.7h1.5M287.1 336.6h1.5M288 337h1.5M288.2 336.9h1.5M289.2 336.8h1.5M291.9 336.5h1.5M295.3 337.1h1.5M298.4 337h1.5M299.3 336.6h1.5M281.6 338.1h1.5M283.7 338.2h1.5M288.3 337.9h1.5M291.6 337.8h1.5M292.7 338.2h1.5M295.7 338h1.5M296.4 338.4h1.5M297 338.1h1.5M298.1 338.1h1.5M285.2 338.9h1.5M286.4 338.9h1.5M288.6 339h1.5M288.7 338.9h1.5M293.7 339h1.5M295.7 339.3h1.5M296.1 339.5h1.5M297.5 339h1.5M297.6 339.2h1.5M299.3 339.3h1.5M300.3 338.9h1.5M301.6 339.4h1.5M303.8 339.3h1.5M283.5 340.2h1.5M287.1 339.8h1.5M287.3 340.3h1.5M292 340.3h1.5M295.9 340.2h1.5M296.3 339.5h1.5M296.4 340h1.5M297 339.5h1.5M299.7 340.1h1.5M300.7 340.2h1.5M280.4 340.5h1.5M281.2 341.1h1.5M282.3 341.4h1.5M288.6 340.5h1.5M290.6 340.5h1.5M291.3 340.6h1.5M291.8 341.3h1.5M293.3 340.7h1.5M295.3 340.9h1.5M295.8 340.5h1.5M300.5 341h1.5M303.1 341.2h1.5M281.3 342.4h1.5M282.9 341.9h1.5M283.3 342.4h1.5M283.4 341.8h1.5M285 342.2h1.5M285.4 342.3h1.5M289.2 342.4h1.5M298.4 341.6h1.5M301 341.6h1.5M302 342.5h1.5M277.3 343.1h1.5M278.9 342.6h1.5M280.5 343.4h1.5M285.4 343.4h1.5M286.6 342.7h1.5M292.5 343.1h1.5M293.2 342.8h1.5M300.1 342.6h1.5M300.3 343.2h1.5M303 342.5h1.5M276.9 343.6h1.5M280.7 344.1h1.5M280.8 344h1.5M285.6 344.1h1.5M286.1 344.2h1.5M286.4 343.6h1.5M288.3 344.2h1.5M289.1 344.3h1.5M289.6 344.4h1.5M291 343.6h1.5M300.3 344.1h1.5M301.9 344.2h1.5M277.7 345.1h1.5M280 344.8h1.5M280.8 344.7h1.5M283.6 344.6h1.5M285.2 344.8h1.5M285.6 344.6h1.5M285.8 344.5h1.5M286.9 344.6h1.5M288.1 345.2h1.5M290.6 345.1h1.5M291.8 345.3h1.5M292.8 345.4h1.5M294.7 345.1h1.5M295 344.7h1.5M295.4 345h1.5M295.5 345.1h1.5M298.9 344.7h1.5M257.6 345.7h1.5M274.2 346.2h1.5M276 345.9h1.5M276.6 346.4h1.5M277.8 346h1.5M280.3 346.4h1.5M280.6 345.9h1.5M283.2 345.6h1.5M285.5 346.1h1.5M288.1 346.4h1.5M294.1 346.3h1.5M296.1 346.2h1.5M302.1 345.6h1.5M276.5 347.3h1.5M278.2 347h1.5M279.3 346.6h1.5M283.2 346.6h1.5M283.2 347.2h1.5M287.6 347.3h1.5M288.2 347.4h1.5M292.6 347h1.5M303.4 346.6h1.5M305.1 346.5h1.5M274.1 347.9h1.5M275 348h1.5M275.7 348.1h1.5M277.6 347.6h1.5M278.8 347.9h1.5M279.2 347.5h1.5M287.9 347.8h1.5M288.3 347.7h1.5M291.8 348.3h1.5M291.8 347.9h1.5M300.5 347.8h1.5M300.7 347.6h1.5M271 349.4h1.5M271.7 349.4h1.5M275.9 348.5h1.5M276.3 349.1h1.5M277 348.9h1.5M278.3 349.2h1.5M279.3 349.5h1.5M279.9 348.9h1.5M285 349.1h1.5M285.1 348.9h1.5M289.1 349.1h1.5M292 348.9h1.5M297.7 348.8h1.5M299 348.8h1.5M300.1 349.4h1.5M300.6 348.6h1.5M301.5 349.2h1.5M271.7 349.6h1.5M273.5 350.1h1.5M273.9 350.3h1.5M275 350.1h1.5M277.1 349.7h1.5M278.2 349.8h1.5M278.9 350.3h1.5M279.9 349.6h1.5M282 349.9h1.5M282.3 349.6h1.5M284.2 349.7h1.5M285.5 349.8h1.5M289.3 349.5h1.5M292.5 350.2h1.5M292.9 350.1h1.5M293 350.4h1.5M293.1 350.3h1.5M297.3 349.9h1.5M300.8 350.4h1.5M255.9 351h1.5M256.3 350.8h1.5M257.5 350.6h1.5M258.6 350.6h1.5M261.5 350.9h1.5M263.2 351.4h1.5M264.2 351.3h1.5M264.6 351.2h1.5M265.3 351.5h1.5M266.8 351.5h1.5M271.1 351h1.5M272.7 350.5h1.5M274.5 351.4h1.5M275.1 350.7h1.5M275.8 350.7h1.5M277.2 351.3h1.5M283.3 351.2h1.5M283.8 351.3h1.5M290.5 350.7h1.5M294.4 351.4h1.5M295.6 350.7h1.5M296.9 350.7h1.5M297.4 351.4h1.5M297.6 350.6h1.5M298.1 350.6h1.5M303.2 350.7h1.5M258.3 351.6h1.5M262 352.3h1.5M267 352h1.5M268.3 351.5h1.5M270 352.3h1.5M270.2 352h1.5M271.5 352.3h1.5M275.8 351.8h1.5M277.4 352.1h1.5M278.7 352.1h1.5M283.2 352.2h1.5M283.7 352.4h1.5M285 351.6h1.5M286 352h1.5M286.1 352.5h1.5M295.9 351.9h1.5M298.1 352.4h1.5M303.2 351.8h1.5M304.3 352.3h1.5M304.3 352h1.5M257.3 352.8h1.5M259 353h1.5M259.4 353.3h1.5M259.9 353.2h1.5M262.3 353.2h1.5M262.3 352.9h1.5M262.6 353h1.5M263 353.4h1.5M265.5 352.6h1.5M268 352.6h1.5M269.6 352.7h1.5M272.3 352.6h1.5M273.2 353.4h1.5M274.5 353h1.5M278.1 353.4h1.5M280.7 352.8h1.5M281.2 353.1h1.5M289.8 353h1.5M290.1 353.5h1.5M291 352.5h1.5M292.4 353.1h1.5M292.5 352.9h1.5M293.5 352.5h1.5M294.5 352.5h1.5M297 352.9h1.5M298.3 353.2h1.5M303.5 353.1h1.5M255.5 353.9h1.5M258.4 353.9h1.5M260.4 354.2h1.5M265.2 353.8h1.5M270.6 354.2h1.5M276 354.2h1.5M276.1 354h1.5M276.2 353.7h1.5M276.2 354.1h1.5M280.5 354.1h1.5M281.5 354.4h1.5M281.7 354.2h1.5M284.8 353.8h1.5M286.6 354.5h1.5M288.8 354.5h1.5M293.1 354.2h1.5M295.6 354.2h1.5M298 354.3h1.5M299.5 354.3h1.5M301.9 353.8h1.5M302.2 353.8h1.5M303 353.7h1.5M262.5 354.8h1.5M265.1 355.3h1.5M269.4 354.7h1.5M272.1 355.3h1.5M274.1 354.9h1.5M274.1 354.8h1.5M276.4 355.4h1.5M276.6 354.9h1.5M278.8 355.2h1.5M284.9 355.5h1.5M287.2 354.7h1.5M287.8 354.5h1.5M288.8 355.2h1.5M294.4 355h1.5M294.9 355.3h1.5M299.7 355.2h1.5M301.4 354.6h1.5M255.7 356.2h1.5M259.2 356.2h1.5M263 356h1.5M263.6 356.1h1.5M265 355.8h1.5M273.6 356.2h1.5M274.7 356h1.5M275.3 356.5h1.5M275.8 356.2h1.5M276.6 356.3h1.5M276.7 355.6h1.5M277.7 356.2h1.5M280.2 356.4h1.5M284.1 355.7h1.5M284.4 356h1.5M284.6 356h1.5M286.3 355.8h1.5M288.4 356.1h1.5M290 356.3h1.5M290 355.6h1.5M290 355.8h1.5M290.3 356.4h1.5M290.4 355.9h1.5M292.9 355.7h1.5M293.4 356.4h1.5M305.3 356h1.5M255.9 357h1.5M256.6 357.2h1.5M258.3 356.6h1.5M260 356.5h1.5M264.1 357.1h1.5M264.2 356.6h1.5M274 356.8h1.5M278.7 356.5h1.5M279 356.6h1.5M281.4 357h1.5M283.2 357.1h1.5M286.2 356.8h1.5M288.1 357h1.5M288.5 357h1.5M290.6 357.3h1.5M291.9 357.2h1.5M292.5 356.9h1.5M292.6 357h1.5M296.9 356.9h1.5M297.4 357h1.5M297.6 356.6h1.5M299.7 357.3h1.5M301.3 357.2h1.5M257.8 358.1h1.5M259.1 358.2h1.5M262.2 357.8h1.5M262.6 358.1h1.5M263.9 358.3h1.5M264.8 358.5h1.5M266.8 358.2h1.5M268.9 358.4h1.5M270.1 357.7h1.5M270.2 357.6h1.5M272.6 357.5h1.5M275.1 358.3h1.5M275.7 357.7h1.5M276 358.4h1.5M278.3 357.8h1.5M278.9 357.6h1.5M279.1 357.9h1.5M280.5 358.4h1.5M289 358h1.5M289.6 358.3h1.5M296.4 358.1h1.5M296.8 357.9h1.5M300.5 357.8h1.5M259.3 358.8h1.5M262.5 358.8h1.5M267.4 358.6h1.5M267.5 359.5h1.5M270.8 359.5h1.5M271 358.9h1.5M272.5 359.4h1.5M274 358.7h1.5M275.3 359.1h1.5M279.6 358.8h1.5M282.9 358.5h1.5M284.8 358.9h1.5M286.8 359.3h1.5M288.3 358.8h1.5M290.9 359.3h1.5M291.6 358.5h1.5M293.5 359.2h1.5M293.7 358.5h1.5M293.9 359.3h1.5M297.2 359h1.5M297.2 359h1.5M298.3 358.7h1.5M298.4 358.5h1.5M300 359.2h1.5M305.1 358.9h1.5M256.3 359.9h1.5M258.7 359.5h1.5M261.3 359.7h1.5M261.5 359.9h1.5M262.1 360.3h1.5M264.2 360h1.5M264.3 360.1h1.5M266 360.4h1.5M267.6 359.8h1.5M269.3 359.9h1.5M275.2 360.1h1.5M276.4 360.3h1.5M281.6 360h1.5M283.2 359.8h1.5M287.7 360.4h1.5M289.2 360.3h1.5M291 360.3h1.5M292.5 360.3h1.5M293.5 359.7h1.5M296.9 360.1h1.5M296.9 359.8h1.5M300.7 360.4h1.5M255.7 361.1h1.5M256.5 361h1.5M257 361h1.5M258 360.5h1.5M260.8 361h1.5M261.7 360.8h1.5M263.6 360.9h1.5M265.9 361.1h1.5M269.1 361.3h1.5M275.2 361.4h1.5M275.6 361.2h1.5M278.1 360.5h1.5M279.4 361.1h1.5M282.5 361h1.5M284 360.6h1.5M290.1 361.2h1.5M292.1 360.6h1.5M294 361.3h1.5M295.2 360.7h1.5M299.2 361.4h1.5M300.8 361h1.5M300.9 360.8h1.5M303.9 360.8h1.5M259.7 361.9h1.5M262.1 362.2h1.5M265.9 361.9h1.5M267.7 362.2h1.5M270 362.2h1.5M271.8 361.6h1.5M276.1 361.7h1.5M276.7 362h1.5M282.1 362h1.5M282.2 362h1.5M282.9 362.4h1.5M289.1 361.5h1.5M290.7 361.7h1.5M293.7 362.4h1.5M296.2 361.6h1.5M296.3 362h1.5M298.3 361.9h1.5M299.9 362.3h1.5M301.3 361.7h1.5M302.2 361.9h1.5M302.2 362.1h1.5M303.6 362.3h1.5M264.4 363.2h1.5M267.6 363.3h1.5M269.8 363.3h1.5M271.8 363.4h1.5M273 362.6h1.5M274.8 363.4h1.5M276.3 362.7h1.5M279.8 362.9h1.5M282.3 363h1.5M283 362.8h1.5M283.9 362.8h1.5M288.7 362.6h1.5M290.3 363.4h1.5M291.1 362.8h1.5M294.4 362.8h1.5M297 363.2h1.5M297.4 362.9h1.5M298.4 362.9h1.5M298.4 362.5h1.5M299.2 363.1h1.5M299.8 363.1h1.5M304.4 362.6h1.5M305.9 363h1.5M264.2 364.3h1.5M267 364.4h1.5M269.7 363.9h1.5M274.2 363.9h1.5M276.2 363.8h1.5M276.9 363.9h1.5M277 363.7h1.5M285.5 363.8h1.5M289.2 363.8h1.5M293.5 364.4h1.5M294.5 363.8h1.5M295.5 364.5h1.5M297.5 364.3h1.5M297.9 363.5h1.5M301.1 364.3h1.5M301.7 363.9h1.5M301.8 364.5h1.5M302.4 364.3h1.5M303.3 364.2h1.5M305.9 363.6h1.5M306 363.5h1.5M306.2 364.1h1.5M269.1 365.4h1.5M269.1 365h1.5M270.9 365.5h1.5M272 364.9h1.5M276.4 365.1h1.5M276.7 364.9h1.5M277.3 364.8h1.5M277.8 365.4h1.5M278.4 365.4h1.5M278.6 365.4h1.5M279.1 365.3h1.5M280 364.7h1.5M280.1 364.7h1.5M286.4 365.4h1.5M288.7 364.6h1.5M293 364.8h1.5M294.3 364.9h1.5M294.5 365.5h1.5M294.7 365.1h1.5M296.2 365h1.5M297.3 365.4h1.5M297.6 364.6h1.5M302.6 365.3h1.5M302.8 365.4h1.5M305.5 365.2h1.5M265.9 366.3h1.5M270.4 366.5h1.5M272.8 366.2h1.5M274.1 366h1.5M274.3 366.2h1.5M276.8 366h1.5M278.4 366.3h1.5M288.7 365.8h1.5M289.7 366.5h1.5M295.7 365.9h1.5M298.4 365.6h1.5M303.1 365.9h1.5M266.7 367.5h1.5M268.1 367.1h1.5M269.1 367.1h1.5M272.9 367.4h1.5M273.1 366.9h1.5M275 366.6h1.5M276.8 367h1.5M277.5 367.5h1.5M278 367.5h1.5M280.2 367.3h1.5M281 367.2h1.5M290.9 366.9h1.5M296.5 367.2h1.5M300.6 366.7h1.5M267.5 368.2h1.5M269.2 368.2h1.5M270.3 368.2h1.5M272.5 367.7h1.5M277.7 368h1.5M280.2 368.4h1.5M280.6 368.2h1.5M281 367.5h1.5M298.2 367.7h1.5M300 367.8h1.5M302.1 368.1h1.5M303.2 367.9h1.5M267 368.8h1.5M268.8 369.2h1.5M276.6 368.7h1.5M278.1 368.5h1.5M280.3 368.9h1.5M270.5 369.9h1.5M276.2 369.5h1.5M276.4 370.5h1.5M277.4 369.8h1.5M279.3 369.8h1.5M272.1 370.8h1.5M271.9 371.6h1.5M273.2 372.3h1.5M273.3 371.9h1.5M273.5 372.3h1.5M273.9 372.2h1.5M271.3 373.3h1.5M274.3 372.8h1.5M278.1 373.2h1.5M272.3 374.2h1.5M272.9 375.2h1.5M273.2 375.5h1.5M275.3 374.8h1.5M271.4 376.1h1.5M271.9 375.5h1.5M273.2 376.8h1.5M273.6 376.8h1.5M272.1 377.6h1.5" stroke="#ecd139" stroke-width="1.5" fill="none"/>
<path d="M294.1 283h1.5M292.3 284.4h1.5M293 284.3h1.5M293.2 284.4h1.5M295.6 283.5h1.5M298 285.2h1.5M283.8 286h1.5M285.7 286.2h1.5M286.9 286.1h1.5M290.6 286h1.5M292.4 286.3h1.5M293.3 286.4h1.5M295 286.3h1.5M295.6 285.9h1.5M297.6 286.2h1.5M281.9 286.9h1.5M285.5 286.6h1.5M294 287.2h1.5M297.9 286.6h1.5M282.8 287.5h1.5M283.7 288.3h1.5M291.9 288.5h1.5M291.9 287.7h1.5M293.7 288.1h1.5M279.4 288.9h1.5M281.3 289.2h1.5M285.1 288.7h1.5M288.2 289.4h1.5M289 289.3h1.5M295.5 289h1.5M295.9 289.3h1.5M298.4 288.6h1.5M298.9 289h1.5M278.5 289.8h1.5M281 290.1h1.5M282.2 289.9h1.5M283.3 289.9h1.5M283.6 290.2h1.5M283.8 290h1.5M288.4 290.2h1.5M289.9 289.9h1.5M290.1 289.5h1.5M290.7 289.7h1.5M291 289.6h1.5M293.5 289.9h1.5M293.9 290.1h1.5M294.8 289.6h1.5M295.3 290.3h1.5M297.1 290.2h1.5M277.1 291.5h1.5M280.4 291.3h1.5M280.5 290.6h1.5M283.9 291.1h1.5M285.2 291.2h1.5M287 291.1h1.5M291.1 290.9h1.5M292.1 290.7h1.5M277 291.8h1.5M277.1 291.8h1.5M277.2 292h1.5M277.7 291.5h1.5M279.7 292h1.5M281.6 292.1h1.5M286.6 292.1h1.5M288.6 292.4h1.5M291.4 292.3h1.5M296.5 292.2h1.5M296.6 292h1.5M296.9 292.1h1.5M297.6 292h1.5M297.9 292.4h1.5M277.4 293.2h1.5M283.2 293h1.5M292.1 292.7h1.5M293.7 293h1.5M279.1 294.3h1.5M282 294.3h1.5M283.2 294.3h1.5M287.3 294.4h1.5M287.9 294.1h1.5M288.1 294h1.5M292.9 293.6h1.5M293.6 293.9h1.5M298 294.3h1.5M276.3 294.9h1.5M281.6 295.5h1.5M284 295.2h1.5M288.4 294.9h1.5M288.6 295.3h1.5M289.4 295.1h1.5M289.4 294.8h1.5M290.4 295.3h1.5M290.9 295h1.5M293.6 295h1.5M277.9 296.2h1.5M278.6 295.7h1.5M280.4 295.8h1.5M282.1 296.5h1.5M283.3 295.9h1.5M287.7 296h1.5M291.2 296.1h1.5M296.4 295.9h1.5M299.6 296.1h1.5M300.4 295.5h1.5M281 297.3h1.5M281.2 297.1h1.5M285.9 297.4h1.5M294.7 296.7h1.5M299.2 297.3h1.5M277.9 298.1h1.5M281.7 298.2h1.5M281.7 297.9h1.5M283.5 297.8h1.5M286.8 298.4h1.5M288.2 297.9h1.5M289.7 297.6h1.5M290 298.4h1.5M290.6 297.6h1.5M291.3 298.2h1.5M292.4 297.6h1.5M294.8 297.9h1.5M295.6 298.1h1.5M300.4 298.1h1.5M301.6 297.8h1.5M302.6 297.9h1.5M283.6 299.1h1.5M289.9 299.1h1.5M293.1 299.2h1.5M294.5 298.6h1.5M296.5 299.5h1.5M298.7 299h1.5M298.9 299.2h1.5M299.5 299h1.5M279.1 299.6h1.5M284.8 299.9h1.5M285.1 300.3h1.5M286.5 300.5h1.5M287.3 300h1.5M288.2 300.3h1.5M290.3 299.6h1.5M293.8 300h1.5M283.1 300.6h1.5M288.1 300.7h1.5M283.6 301.7h1.5M283.8 301.8h1.5M287.2 302.4h1.5M292.2 301.7h1.5M296.5 301.6h1.5M296.8 302.1h1.5M282.7 302.6h1.5M285.7 302.8h1.5M287.2 302.8h1.5M293.3 303h1.5M298 302.6h1.5M282.9 303.7h1.5M287 304.2h1.5M288.6 304.1h1.5M291.2 304.2h1.5M286 304.5h1.5M287.4 304.7h1.5M293.4 305.4h1.5M284 305.9h1.5M284.9 306.1h1.5M286.9 306.4h1.5M289.9 306h1.5M294.4 306.5h1.5M294.8 305.5h1.5M286.8 307.2h1.5M287.5 306.7h1.5M289 306.8h1.5M290.2 306.7h1.5M290.5 306.8h1.5M291.7 307h1.5M291.9 306.7h1.5M292.5 306.8h1.5M290.4 307.5h1.5M288.7 309.5h1.5M290.5 308.8h1.5M289 309.8h1.5M289.7 310.2h1.5M286.3 310.9h1.5M288.3 311.5h1.5M288.4 310.8h1.5M290 311.2h1.5M285.1 312.1h1.5M286 311.6h1.5M288.5 312.4h1.5M289.6 313.3h1.5M290 313.2h1.5M290.1 312.7h1.5M285.8 313.6h1.5M285.9 313.9h1.5M286.1 313.9h1.5M285.7 314.6h1.5M286.9 315.4h1.5M288.4 315.1h1.5M286.2 317.1h1.5M285.5 317.5h1.5M287.4 317.6h1.5M289.6 318.2h1.5M289.1 318.8h1.5M289.4 320.4h1.5M285.2 321h1.5M284.7 322.5h1.5M288.8 321.9h1.5M285.7 322.6h1.5M288.9 322.9h1.5" stroke="#76dbd9" stroke-width="1.5" fill="none"/>
<path d="M285.7 365.7h1.5M281.7 367.4h1.5M284 366.8h1.5M284.3 368.2h1.5M284 369.4h1.5M284.7 369.3h1.5M284.5 370.4h1.5M303.8 370.4h1.5M281.2 371.3h1.5M286.7 371.4h1.5M290.1 371.4h1.5M295.7 371h1.5M303.3 370.5h1.5M279.6 372.1h1.5M289.9 371.7h1.5M282.3 372.9h1.5M300.1 373.2h1.5M301.7 372.6h1.5M282.8 374.1h1.5M284.7 374.3h1.5M289.8 373.6h1.5M289.9 373.9h1.5M294.4 374.1h1.5M295 374.4h1.5M298 373.9h1.5M302 374.1h1.5M288.2 374.9h1.5M288.4 375h1.5M293.9 376.1h1.5M296.9 375.9h1.5M294 376.9h1.5M283.2 377.9h1.5M287.1 377.9h1.5M288.9 378.4h1.5M300.9 377.8h1.5M302.4 377.9h1.5M303.7 378.1h1.5M280.2 378.6h1.5M295.3 379.4h1.5M282.8 379.7h1.5M287.4 380.4h1.5M297 379.8h1.5M300.5 380.5h1.5M301 380.3h1.5M281.5 381.5h1.5M281.8 381.1h1.5M282.1 381.1h1.5M285 380.6h1.5M288 380.6h1.5M293.7 381h1.5M305 380.5h1.5M305.5 381.3h1.5M307 380.7h1.5M307.5 380.6h1.5M308.9 380.8h1.5M309.1 380.6h1.5M309.6 380.6h1.5M285.4 382.1h1.5M288.3 382h1.5M290.7 381.8h1.5M292.2 382.3h1.5M294.2 382.5h1.5M294.8 382.2h1.5M296 382.2h1.5M297.9 381.6h1.5M300.2 381.6h1.5M301.2 381.6h1.5M302.2 382.2h1.5M311.4 382.2h1.5M311.7 382.5h1.5M280.4 383.2h1.5M280.7 382.7h1.5M286.7 383h1.5M288.4 382.8h1.5M289.3 383.3h1.5M291.6 383.3h1.5M292.4 382.6h1.5M294.3 382.8h1.5M308.8 383.1h1.5M310.7 382.7h1.5M311.7 382.7h1.5M281.7 384.1h1.5M292 383.9h1.5M298.9 384.2h1.5M300.6 384.1h1.5M306.1 384.5h1.5M282 384.7h1.5M283.9 384.6h1.5M284.3 384.6h1.5M284.8 385.4h1.5M288.5 384.8h1.5M289.3 385.1h1.5M289.9 384.9h1.5M293.6 384.6h1.5M294.1 384.9h1.5M295.4 385h1.5M296.3 385.4h1.5M300 385.3h1.5M300.2 385h1.5M302.4 385.4h1.5M308.6 385h1.5M311.5 385h1.5M313.4 385.4h1.5M283.7 386.1h1.5M285.4 385.9h1.5M286.9 386.2h1.5M287.3 385.7h1.5M296.9 386.2h1.5M297.9 386.4h1.5M300.1 385.9h1.5M300.7 385.7h1.5M312.1 386h1.5M312.1 385.6h1.5M313.1 385.8h1.5M280.7 386.9h1.5M283.9 386.7h1.5M285.3 386.6h1.5M289.9 387.4h1.5M290 386.9h1.5M295.4 387.5h1.5M296.7 387.4h1.5M299 386.8h1.5M302.7 386.9h1.5M306.2 387.2h1.5M308.2 386.8h1.5M312.9 386.9h1.5M313.4 386.8h1.5M313.6 386.9h1.5M314.2 387.5h1.5M314.5 386.8h1.5M279.9 388h1.5M281.5 388.2h1.5M283.8 388.1h1.5M284.7 387.7h1.5M285.5 388.2h1.5M288.8 388.4h1.5M292.1 388h1.5M300.3 387.5h1.5M300.5 388.4h1.5M304.3 387.9h1.5M308.9 388.2h1.5M309.4 388.2h1.5M311.3 387.6h1.5M311.5 388h1.5M315.2 388.2h1.5M281.5 389.4h1.5M284.4 389h1.5M284.6 389.4h1.5M289.4 389h1.5M290.4 389.2h1.5M299.5 389.3h1.5M299.7 388.6h1.5M302.2 389.4h1.5M302.6 388.6h1.5M307.9 389h1.5M280.1 389.5h1.5M280.4 390.3h1.5M287.1 389.6h1.5M294.5 389.9h1.5M295.3 390.1h1.5M296.7 390.1h1.5M297 390.1h1.5M298 389.6h1.5M299.9 390.3h1.5M300 389.9h1.5M301.3 390.3h1.5M303.1 389.7h1.5M303.9 390h1.5M308 390.4h1.5M310 389.7h1.5M314.3 390.5h1.5M315.4 390.1h1.5M281.4 391.5h1.5M281.7 391.2h1.5M282.3 391h1.5M284.6 391.1h1.5M284.6 390.9h1.5M284.8 390.9h1.5M286.4 390.9h1.5M290.6 391.5h1.5M292.5 391.2h1.5M295.3 390.8h1.5M296.4 391.3h1.5M297.2 391.1h1.5M298.4 390.7h1.5M303.3 391.3h1.5M315.8 390.6h1.5M316.4 390.9h1.5M279.7 392h1.5M282 391.9h1.5M283.6 391.6h1.5M285.1 391.8h1.5M285.4 392.5h1.5M289 392.2h1.5M298.6 391.9h1.5M310.9 391.6h1.5M288.4 393.3h1.5M295.7 393h1.5M299.9 393.2h1.5M300.6 393.1h1.5M301.5 392.7h1.5M307.8 392.9h1.5M309.9 393.1h1.5M310.2 392.5h1.5M311.7 393.5h1.5M314.8 392.7h1.5M318.1 392.5h1.5M286 394.5h1.5M286.5 393.9h1.5M288.2 394.3h1.5M288.8 394.4h1.5M291.1 394.3h1.5M297.6 393.5h1.5M298.8 394.1h1.5M298.9 393.8h1.5M299.8 394.4h1.5M301.1 394.2h1.5M311 393.8h1.5M312.2 393.9h1.5M317.9 393.7h1.5M281.7 394.6h1.5M282.4 394.9h1.5M283 395.3h1.5M284.4 394.5h1.5M292.1 395.4h1.5M295.9 395.1h1.5M298.7 394.9h1.5M299.9 395.2h1.5M307.1 395.5h1.5M309 394.9h1.5M309.9 394.8h1.5M310.9 395.2h1.5M311 394.8h1.5M312.8 395h1.5M316 394.5h1.5M279.7 395.8h1.5M280.7 395.6h1.5M282.7 395.7h1.5M288.1 396.4h1.5M288.9 395.8h1.5M292.4 395.6h1.5M296.1 396h1.5M296.3 395.7h1.5M300.9 396.2h1.5M304.9 395.8h1.5M305.2 396.3h1.5M308.2 395.7h1.5M312.9 396h1.5M314.1 395.9h1.5M315.3 395.9h1.5M317.5 395.7h1.5M281.8 396.6h1.5M282.1 397.2h1.5M284.3 396.7h1.5M285 397.1h1.5M287.7 396.7h1.5M292.2 396.6h1.5M292.4 396.7h1.5M298.4 397.1h1.5M299.1 397.3h1.5M300.5 397.2h1.5M300.9 396.7h1.5M304.5 397.4h1.5M304.5 397.3h1.5M312.6 396.7h1.5M314 397h1.5M316.1 397.4h1.5M280.3 398h1.5M282.5 398.2h1.5M284.8 397.9h1.5M293.1 398.2h1.5M295.9 398.1h1.5M304.1 397.7h1.5M304.4 397.5h1.5M309.2 398h1.5M311.7 397.6h1.5M281.1 399.3h1.5M283.1 399.3h1.5M284.4 399.2h1.5M285 398.7h1.5M286.4 399.2h1.5M295.9 399.4h1.5M300.2 398.6h1.5M301 398.5h1.5M301.2 399.4h1.5M302.6 399.3h1.5M304.7 399.3h1.5M304.8 399.1h1.5M305.3 399.2h1.5M309.1 399.1h1.5M309.1 398.9h1.5M309.6 398.6h1.5M313.4 399.2h1.5M315.1 398.8h1.5M284.8 399.7h1.5M285.9 400h1.5M286.8 400.2h1.5M289.6 400.1h1.5M302.6 400.4h1.5M310.2 399.6h1.5M312.1 400.4h1.5M313.1 400.2h1.5M317.4 399.8h1.5M317.5 400.4h1.5M282.1 400.9h1.5M286.9 401.1h1.5M293.2 400.8h1.5M294.5 401h1.5M295.1 400.6h1.5M295.9 401.4h1.5M296.3 401.1h1.5M298.6 400.8h1.5M313.3 401.1h1.5M314.3 401.4h1.5M281.4 402h1.5M282 401.7h1.5M282.7 402.5h1.5M298.3 402h1.5M299.8 402.3h1.5M305.8 401.6h1.5M310.6 402.2h1.5M311.1 401.8h1.5M311.9 402.4h1.5M314.3 402.1h1.5M314.8 401.9h1.5M315.9 402h1.5M282.2 402.6h1.5M282.6 402.8h1.5M284.6 403.1h1.5M287.1 402.7h1.5M299.8 403.5h1.5M300.4 403.5h1.5M302.5 402.7h1.5M307.4 403.2h1.5M310 403.3h1.5M317.3 403.2h1.5M290.8 404.5h1.5M291.3 404.1h1.5M291.6 403.8h1.5M292.7 403.9h1.5M303.5 404.4h1.5M305.4 403.6h1.5M307.8 404.3h1.5M313.2 403.5h1.5M316.5 403.7h1.5M316.6 404h1.5M282.3 404.5h1.5M286.2 405.3h1.5M286.5 405.1h1.5M292 405.1h1.5M293.6 405.1h1.5M294.4 405h1.5M295.8 405.1h1.5M303.3 405.4h1.5M304.3 405.3h1.5M307.2 404.8h1.5M309 404.9h1.5M309.9 404.8h1.5M314.7 404.8h1.5M316.8 405.2h1.5M283.3 406.4h1.5M304.4 406.1h1.5M309.6 406.2h1.5M282.6 407.2h1.5M284.2 407.3h1.5M289.7 406.6h1.5M290.6 407h1.5M293.5 407.3h1.5M295.5 407h1.5M295.7 406.9h1.5M306.4 407.1h1.5M309.8 406.8h1.5M312 407.4h1.5M313.7 406.7h1.5M315.9 406.8h1.5M282.2 408.2h1.5M285.2 407.6h1.5M288.8 408.3h1.5M292.3 407.9h1.5M303.2 408h1.5M303.8 408.2h1.5M308.5 408h1.5M311.7 408.2h1.5M284.3 408.7h1.5M287.8 408.7h1.5M288.2 409.1h1.5M289.4 409.3h1.5M289.7 409h1.5M296.4 409.5h1.5M297.2 408.9h1.5M298.7 408.6h1.5M301.9 409.3h1.5M303.8 408.9h1.5M311.5 409.3h1.5M314 408.7h1.5M283.5 410.5h1.5M284.2 409.6h1.5M284.7 409.7h1.5M290.4 410.1h1.5M295.4 409.8h1.5M301.8 409.7h1.5M302.8 409.7h1.5M308.6 410.1h1.5M312.6 409.7h1.5M312.8 409.8h1.5M314.2 410.1h1.5M314.3 410.5h1.5M315.1 410.3h1.5M285.9 410.5h1.5M291.1 410.6h1.5M292.6 410.8h1.5M297.6 410.5h1.5M299.8 410.5h1.5M300.3 411.5h1.5M303.4 410.7h1.5M306.4 410.7h1.5M310.7 410.5h1.5M314 410.7h1.5M282.2 411.8h1.5M285.3 411.5h1.5M291.4 411.7h1.5M302.1 412.1h1.5M304 412.2h1.5M304.8 411.5h1.5M306.7 412.4h1.5M308.2 412.2h1.5M308.8 412.5h1.5M309.1 412.4h1.5M310.3 412.4h1.5M278.5 413.5h1.5M280.2 413.5h1.5M285.4 413.5h1.5M294 413.3h1.5M296.9 412.8h1.5M302 412.9h1.5M308.5 412.8h1.5M309.3 413.1h1.5M280 413.7h1.5M282 414.3h1.5M282.8 413.6h1.5M283.6 414h1.5M283.7 414.3h1.5M284 414.3h1.5M286.2 414h1.5M286.4 414.4h1.5M296.8 414h1.5M301 413.9h1.5M304.3 414h1.5M305.7 414.3h1.5M311.3 413.5h1.5M312.5 413.6h1.5M280.6 415h1.5M286.5 414.6h1.5M288.2 414.6h1.5M290.3 415h1.5M298.6 414.7h1.5M301.1 414.5h1.5M305.5 414.6h1.5M306.9 414.5h1.5M307.3 415.4h1.5M308.9 415.2h1.5M286.3 415.6h1.5M287 416.1h1.5M293.8 416.3h1.5M294.2 415.6h1.5M296.5 415.6h1.5M296.8 415.6h1.5M305.8 416.3h1.5M306.9 415.9h1.5M309 415.9h1.5M282.1 416.7h1.5M285.5 417.4h1.5M286.1 417h1.5M289.2 416.6h1.5M290.8 417.1h1.5M291.1 417h1.5M293.7 417.5h1.5M297.7 417h1.5M302.4 417h1.5M303.5 416.8h1.5M306.5 416.5h1.5M278.5 418.1h1.5M282.2 418.2h1.5M286 418h1.5M286.5 417.8h1.5M290.3 418h1.5M293.1 418.1h1.5M294.7 417.9h1.5M305.2 418.3h1.5M307 417.6h1.5M279 418.6h1.5M281.3 419.3h1.5M287.6 419h1.5M292.9 419.4h1.5M293.7 418.9h1.5M296.1 418.8h1.5M302.8 419.1h1.5M304.8 418.7h1.5M280.9 420.3h1.5M281.8 420.3h1.5M285.3 419.6h1.5M285.4 420h1.5M295.1 420.4h1.5M296.2 419.8h1.5M298.6 420.2h1.5M300.4 420.4h1.5M301.6 420.3h1.5M302.2 419.6h1.5M306.8 419.6h1.5M282.1 420.9h1.5M290.3 421.3h1.5M300.2 421.4h1.5M278 421.7h1.5M285.2 422.1h1.5M286.8 422.1h1.5M295 422.2h1.5M300.2 422.3h1.5M301.3 421.6h1.5M277.2 423h1.5M278.1 422.6h1.5M283.6 423.3h1.5M287.7 422.9h1.5M294.5 423h1.5M294.6 423.3h1.5M295.3 423.2h1.5M296.7 422.7h1.5M299.1 422.8h1.5M279.5 423.5h1.5M279.7 423.7h1.5M284.8 424.1h1.5M290.7 424.4h1.5M291.3 424.4h1.5M294.7 423.9h1.5M299.3 423.8h1.5M299.4 423.7h1.5M279 424.6h1.5M279.1 424.6h1.5M280.6 425.2h1.5M281.6 425.4h1.5M282.9 424.9h1.5M289.6 424.9h1.5M286.4 426.1h1.5M290.3 425.7h1.5" stroke="#e0231f" stroke-width="1.5" fill="none"/>
<path d="M318.3 395.1h1.5M319.2 394.9h1.5M321.6 395.3h1.5M322.2 395h1.5M322.2 395.1h1.5M323 395.4h1.5M324.7 395.3h1.5M320.8 395.8h1.5M321.8 395.5h1.5M321.9 395.8h1.5M326.8 396.1h1.5M319 396.9h1.5M320.3 396.7h1.5M320.9 397h1.5M321 396.6h1.5M323.2 396.6h1.5M324.3 396.7h1.5M325.1 396.8h1.5M325.5 397.2h1.5M318.4 398.3h1.5M319.5 397.8h1.5M321.8 397.9h1.5M322.1 398.3h1.5M324.4 397.6h1.5M327.5 398.4h1.5M318.7 398.8h1.5M319.3 398.6h1.5M321.3 400.2h1.5M323.8 400h1.5M324.9 399.8h1.5M325.8 400.1h1.5M329.2 399.8h1.5M318.6 401.1h1.5M322.9 400.5h1.5M325.1 401.3h1.5M327.2 401.2h1.5M328.3 401.3h1.5M328.8 401.5h1.5M329.1 400.9h1.5M332.6 401.1h1.5M319.1 402.1h1.5M322 401.6h1.5M325.4 402h1.5M325.6 402.3h1.5M329 401.7h1.5M329.4 402.4h1.5M329.7 402.1h1.5M330.3 402h1.5M331.5 401.5h1.5M336.2 402.4h1.5M318.8 402.8h1.5M319.2 402.9h1.5M321.1 403.3h1.5M324.2 402.8h1.5M324.7 403.3h1.5M328.8 403h1.5M329.8 402.9h1.5M333.1 403.2h1.5M333.8 403.5h1.5M334.4 402.7h1.5M334.8 403.1h1.5M336.8 403h1.5M337.1 403.3h1.5M318.1 404.5h1.5M319.3 404h1.5M319.9 404.1h1.5M320.4 404.2h1.5M320.6 403.5h1.5M321.3 404.5h1.5M321.4 403.7h1.5M321.9 404.2h1.5M323.1 404.2h1.5M327.1 403.9h1.5M331.3 403.9h1.5M337.3 404.3h1.5M338.3 404.1h1.5M319.7 404.9h1.5M320.6 404.6h1.5M321.5 404.5h1.5M322.4 404.6h1.5M326.1 405.5h1.5M326.6 404.9h1.5M327.5 405.3h1.5M327.7 405.3h1.5M328.1 404.7h1.5M328.2 405.5h1.5M331 405.4h1.5M331.8 405h1.5M333.1 404.9h1.5M333.5 405h1.5M334.9 404.8h1.5M335.7 404.7h1.5M336.3 404.6h1.5M337 405.2h1.5M338.7 405.3h1.5M319.4 406.2h1.5M320.9 406.1h1.5M321.3 405.6h1.5M323.9 406.3h1.5M325.9 406.1h1.5M327 406.1h1.5M328.1 406.4h1.5M328.6 406.4h1.5M336.7 406.3h1.5M337.3 405.7h1.5M339.3 406.2h1.5M339.9 406.4h1.5M316.9 406.8h1.5M317 407.2h1.5M318.4 407.3h1.5M319.2 406.7h1.5M322.5 407.3h1.5M324.9 406.6h1.5M326 406.7h1.5M332.2 407.4h1.5M333.5 407.3h1.5M336.2 406.6h1.5M336.6 406.6h1.5M339.6 407.3h1.5M340.7 407.4h1.5M317.4 407.7h1.5M317.4 407.9h1.5M318.9 408.1h1.5M323.1 407.6h1.5M324.7 408.2h1.5M329 408.1h1.5M332.8 408h1.5M335.6 408h1.5M337.4 408.2h1.5M338.1 407.9h1.5M339 408.5h1.5M320.4 408.5h1.5M320.8 409.3h1.5M326.6 409.3h1.5M327.1 409.2h1.5M330.6 409h1.5M331 408.7h1.5M331.6 408.7h1.5M335.2 409h1.5M336.2 409.2h1.5M336.7 409.1h1.5M337.6 409.5h1.5M340.5 409.5h1.5M318.9 409.7h1.5M323.8 410.3h1.5M326.6 410.3h1.5M327.8 410.2h1.5M328.8 410.2h1.5M332.4 409.6h1.5M332.6 410h1.5M334.7 409.8h1.5M336.1 410.1h1.5M336.9 409.6h1.5M341 410.5h1.5M341.9 410.2h1.5M315.7 411.1h1.5M315.9 410.6h1.5M321.8 411.1h1.5M324.8 411.3h1.5M327 410.8h1.5M328.2 411.2h1.5M329.6 411.2h1.5M329.7 411.1h1.5M331.2 411h1.5M336.1 411.1h1.5M336.4 411.1h1.5M337.4 411.1h1.5M339.1 410.6h1.5M339.8 410.8h1.5M341.4 410.7h1.5M342.3 411.2h1.5M316.4 412.3h1.5M321.2 411.9h1.5M323.2 412.1h1.5M326.3 412h1.5M328.8 412.4h1.5M330.9 412.2h1.5M337 412.2h1.5M338.6 412.4h1.5M343.7 411.8h1.5M314.3 413h1.5M316.7 413.4h1.5M317.5 412.6h1.5M319.1 413.1h1.5M319.2 412.9h1.5M320.2 413.3h1.5M321.6 413.1h1.5M325 412.6h1.5M325.6 413.1h1.5M328.8 413.1h1.5M329.3 412.5h1.5M330.9 413h1.5M331.8 413.4h1.5M332 413.4h1.5M334.5 412.5h1.5M338.9 412.9h1.5M342.8 413.4h1.5M343 413.5h1.5M344.1 413.4h1.5M344.6 412.7h1.5M313.8 414.4h1.5M315.3 413.6h1.5M315.9 414.2h1.5M316.5 414.4h1.5M319.2 413.9h1.5M321.2 413.9h1.5M324.5 414.4h1.5M324.5 413.9h1.5M332.7 413.9h1.5M334.2 414.5h1.5M335.8 414h1.5M336.2 413.9h1.5M338.1 414.2h1.5M338.7 414.3h1.5M340.5 413.9h1.5M341.5 413.9h1.5M341.9 413.8h1.5M342.9 414.3h1.5M313.9 415.1h1.5M314.7 414.6h1.5M318.2 414.7h1.5M318.9 415.1h1.5M321 415.3h1.5M321.4 415.2h1.5M324.2 415h1.5M325 414.8h1.5M326.4 414.9h1.5M326.6 415h1.5M327 415.4h1.5M327.4 414.6h1.5M328.9 415.4h1.5M331.5 414.5h1.5M331.9 414.9h1.5M332.4 415.4h1.5M332.7 415.1h1.5M334.3 415h1.5M337.4 414.8h1.5M338.1 415.1h1.5M338.5 415.1h1.5M338.7 415.3h1.5M339.2 414.5h1.5M339.9 415.1h1.5M340.7 414.9h1.5M342.8 415.5h1.5M343.3 414.5h1.5M344.2 414.7h1.5M344.9 415.2h1.5M346.1 414.9h1.5M346.6 415.5h1.5M314.2 415.8h1.5M314.2 415.6h1.5M321.1 415.8h1.5M327.8 415.7h1.5M331.9 415.9h1.5M332.7 415.9h1.5M332.9 415.6h1.5M334.6 415.6h1.5M335.8 416.2h1.5M336.6 416.4h1.5M338.1 416.4h1.5M338.2 415.5h1.5M338.6 415.9h1.5M341.8 416.1h1.5M342.4 416h1.5M345 415.6h1.5M345.2 416h1.5M346.1 416.3h1.5M311.6 417.2h1.5M312.5 417.1h1.5M323 417.1h1.5M323.4 417.3h1.5M325.7 417.1h1.5M326.6 417.4h1.5M327.2 416.5h1.5M330.5 417.1h1.5M330.5 417.4h1.5M330.6 416.8h1.5M336.4 416.8h1.5M336.5 417.2h1.5M342.9 417.4h1.5M344.9 417.2h1.5M345.5 416.9h1.5M345.8 416.6h1.5M314.1 418h1.5M319.6 417.8h1.5M319.9 417.6h1.5M323.4 418.2h1.5M324 418.4h1.5M324.4 418h1.5M326.4 418.1h1.5M326.7 418.5h1.5M327.1 417.8h1.5M331.1 418.2h1.5M338.2 417.9h1.5M338.5 417.5h1.5M340.2 418h1.5M342.1 417.9h1.5M344.6 418.3h1.5M347.2 418.3h1.5M310.1 419.2h1.5M310.8 419.2h1.5M312.6 419.5h1.5M314.3 418.9h1.5M314.5 419.2h1.5M317 418.9h1.5M318.2 419h1.5M321 418.7h1.5M323.4 418.7h1.5M323.4 418.7h1.5M325.1 419.3h1.5M325.8 419.3h1.5M325.9 418.7h1.5M327 418.6h1.5M327.6 419h1.5M328.4 418.9h1.5M329.7 418.8h1.5M331.9 418.7h1.5M332 418.9h1.5M332.5 418.7h1.5M332.7 418.6h1.5M333.5 419h1.5M335.6 418.7h1.5M336.3 419.3h1.5M341.3 418.7h1.5M344 418.7h1.5M344 419.1h1.5M345.8 419.1h1.5M347.5 419.2h1.5M308 420h1.5M311.1 420.3h1.5M312.7 420.4h1.5M313 419.8h1.5M313.1 419.6h1.5M313.9 419.8h1.5M313.9 419.6h1.5M315.1 420.1h1.5M317 419.6h1.5M320.1 420.3h1.5M321.7 420.4h1.5M324 420.3h1.5M326.3 420.4h1.5M329.6 420.4h1.5M331.2 419.6h1.5M337.3 420h1.5M338.3 420.4h1.5M338.5 420.2h1.5M342.4 420h1.5M343.4 419.5h1.5M345 420.4h1.5M345.2 420h1.5M346.1 419.9h1.5M346.3 420.2h1.5M346.6 420.2h1.5M347.3 420.1h1.5M306.7 421.5h1.5M309.9 421.3h1.5M311.6 420.8h1.5M312 420.7h1.5M312.2 421.5h1.5M315.3 420.7h1.5M319.6 421.3h1.5M323.3 420.5h1.5M333.3 421.4h1.5M333.8 420.6h1.5M337.4 421.1h1.5M338.8 420.6h1.5M340.7 421.3h1.5M345.1 421h1.5M303.5 422.3h1.5M305.6 422.2h1.5M307.1 421.6h1.5M311.8 422.3h1.5M313.4 421.8h1.5M317 421.9h1.5M317.2 422.2h1.5M317.6 422.5h1.5M318.7 421.6h1.5M321.7 422.2h1.5M325.3 422.3h1.5M326.6 422.1h1.5M327.4 422.1h1.5M327.5 421.7h1.5M329.2 421.6h1.5M332 421.8h1.5M333.6 422h1.5M333.6 421.6h1.5M334.2 422.1h1.5M335.9 422.5h1.5M336.4 421.5h1.5M337.5 421.9h1.5M338.6 421.9h1.5M338.8 421.8h1.5M307.6 422.8h1.5M310.5 422.6h1.5M311.1 422.7h1.5M313.5 422.6h1.5M316.6 423.1h1.5M322.7 422.6h1.5M324.8 422.8h1.5M325.7 422.8h1.5M327.2 423.3h1.5M328.3 423.4h1.5M328.5 422.6h1.5M329.7 422.7h1.5M330.4 422.6h1.5M330.7 422.7h1.5M332.8 422.7h1.5M333.1 422.8h1.5M336.2 423.1h1.5M336.5 423h1.5M339.1 422.8h1.5M341.3 422.9h1.5M341.5 423.3h1.5M341.7 423.1h1.5M344.3 423.2h1.5M344.6 422.9h1.5M346.5 423.2h1.5M301.3 424h1.5M309.5 423.6h1.5M310.7 424.1h1.5M313.2 424.2h1.5M313.5 424.1h1.5M316.8 424.3h1.5M317.3 424.4h1.5M317.4 424.1h1.5M318.5 423.6h1.5M319.6 423.6h1.5M321.3 424.2h1.5M322.5 424h1.5M322.9 424h1.5M325.5 423.8h1.5M326.5 423.6h1.5M327.4 424.2h1.5M329 423.8h1.5M330.9 423.9h1.5M331.5 424.2h1.5M336.7 424h1.5M338.7 424.4h1.5M342.2 424.2h1.5M342.5 424.4h1.5M302.2 424.7h1.5M308.3 425.3h1.5M311.8 425.1h1.5M313.8 425.5h1.5M314.2 424.9h1.5M314.4 425.3h1.5M315 425.4h1.5M316.3 425.5h1.5M318.7 424.6h1.5M322.3 424.8h1.5M324.1 425.4h1.5M326.4 424.7h1.5M327.1 425.4h1.5M327.2 425.4h1.5M328.3 425.2h1.5M332.7 424.7h1.5M335.3 425.4h1.5M335.7 424.7h1.5M337.6 424.9h1.5M338.2 425.5h1.5M340.8 425.1h1.5M341.4 424.6h1.5M342.8 425.2h1.5M345.3 425.2h1.5M302.7 425.7h1.5M303.4 426.3h1.5M303.6 425.8h1.5M304.5 425.8h1.5M304.7 425.8h1.5M305.5 425.9h1.5M306.7 425.5h1.5M311.4 426.3h1.5M311.5 426h1.5M313.4 426.2h1.5M320.5 426.2h1.5M321.9 425.7h1.5M322.9 425.6h1.5M323.3 425.6h1.5M323.3 426h1.5M324.2 426.1h1.5M324.9 426.3h1.5M331.4 425.9h1.5M331.5 426.4h1.5M333.4 425.9h1.5M339.5 425.8h1.5M343.6 425.5h1.5M344.6 426.4h1.5M345.1 425.6h1.5M301.3 426.7h1.5M302.5 427h1.5M304.3 426.7h1.5M305.8 427.3h1.5M307.8 426.7h1.5M307.8 426.8h1.5M308.2 427h1.5M311 427h1.5M311.5 427.3h1.5M311.8 427.1h1.5M313.8 427h1.5M315.8 426.8h1.5M317.3 426.8h1.5M317.6 427.5h1.5M318.9 427.5h1.5M321.7 427.5h1.5M325.9 427.2h1.5M327 427.3h1.5M328 427.4h1.5M330.8 427.2h1.5M330.9 426.7h1.5M333.7 427h1.5M340.6 426.7h1.5M341.5 426.9h1.5M342.7 426.9h1.5M343.3 426.5h1.5M344.4 426.5h1.5M304.3 428.1h1.5M306.6 428.1h1.5M306.9 428h1.5M307.6 427.8h1.5M308.7 428.3h1.5M312.3 427.5h1.5M314 428.4h1.5M315.7 427.9h1.5M315.7 427.8h1.5M318.1 427.8h1.5M318.9 427.6h1.5M319.1 428.4h1.5M320.2 428.4h1.5M323.2 428h1.5M324.2 427.9h1.5M324.8 427.5h1.5M325.4 428.3h1.5M325.4 427.9h1.5M327.6 427.9h1.5M327.9 427.5h1.5M328.5 428.3h1.5M331.7 427.9h1.5M332.2 428.3h1.5M333.7 428.1h1.5M334.1 427.8h1.5M334.5 428.1h1.5M335.1 427.5h1.5M339.5 427.8h1.5M341.4 428h1.5M341.9 427.6h1.5M342 427.8h1.5M343.7 428h1.5M344.8 427.6h1.5M304.5 428.9h1.5M304.8 429.3h1.5M305.6 429.2h1.5M311.8 429.1h1.5M312.3 429.5h1.5M316.9 429.5h1.5M317.9 429.1h1.5M320.1 429.5h1.5M322.6 428.5h1.5M326.5 428.8h1.5M330.3 429.3h1.5M336.7 429h1.5M337.5 429.3h1.5M338.1 428.6h1.5M340 429.3h1.5M340.7 429.5h1.5M343.1 428.8h1.5M304.8 429.9h1.5M307 429.9h1.5M307.9 429.7h1.5M308.4 430.1h1.5M311.1 429.9h1.5M312.2 429.6h1.5M313.3 430.3h1.5M314.1 430.4h1.5M314.6 429.6h1.5M317.5 429.7h1.5M318.4 429.9h1.5M319.8 429.6h1.5M319.9 429.8h1.5M322.3 429.7h1.5M325.9 429.8h1.5M326.6 429.8h1.5M328.7 429.8h1.5M329.6 429.6h1.5M333.7 430.1h1.5M334.2 429.7h1.5M335.2 430.5h1.5M335.2 430.2h1.5M335.9 430.5h1.5M339.2 429.7h1.5M340.6 429.6h1.5M341 430.1h1.5M342.6 430.1h1.5M343.1 430.4h1.5M305 430.5h1.5M305.3 431h1.5M306.2 430.6h1.5M306.5 430.7h1.5M308.1 430.6h1.5M309.2 431.4h1.5M312 430.6h1.5M312 431.2h1.5M313.3 430.9h1.5M313.5 431.3h1.5M314.8 430.9h1.5M318.6 431.4h1.5M321.2 430.8h1.5M324 430.6h1.5M324.5 430.6h1.5M328.8 430.6h1.5M329.2 430.5h1.5M331.9 431.4h1.5M339 431.3h1.5M341.2 430.5h1.5M341.4 431.2h1.5M341.7 430.6h1.5M342.2 430.6h1.5M342.4 431.2h1.5M306.4 432h1.5M306.7 432.2h1.5M307 432.4h1.5M316.2 432h1.5M317.2 431.7h1.5M317.7 432h1.5M318 432.3h1.5M318.5 431.8h1.5M320 432.1h1.5M322.6 431.7h1.5M331.6 432.5h1.5M334.6 432.2h1.5M334.8 432.3h1.5M335.9 431.6h1.5M336.9 432.2h1.5M338 431.7h1.5M340.3 431.9h1.5M340.3 431.6h1.5M340.7 432.2h1.5M341.3 431.6h1.5M309.4 432.9h1.5M309.5 432.9h1.5M311.5 433.1h1.5M312.8 432.7h1.5M315 432.9h1.5M317.2 432.5h1.5M317.7 432.7h1.5M321.8 432.9h1.5M322 433h1.5M324.3 433.2h1.5M324.6 433.3h1.5M332.3 433h1.5M333.6 432.6h1.5M334.3 433.1h1.5M336.5 433.5h1.5M337 432.5h1.5M338 432.6h1.5M340.1 432.5h1.5M308.7 433.6h1.5M314.5 433.6h1.5M315 434h1.5M317 434.2h1.5M323 433.8h1.5M327.2 434.2h1.5M327.8 433.7h1.5M327.9 433.7h1.5M333.5 434.4h1.5M337.8 433.5h1.5M310.2 434.6h1.5M312.8 434.6h1.5M313.1 435.3h1.5M314.5 435h1.5M314.6 435.2h1.5M316.1 435.3h1.5M317.1 435h1.5M321 434.8h1.5M321.3 434.9h1.5M322.9 434.6h1.5M323.2 435.4h1.5M324.5 434.6h1.5M325.2 435.2h1.5M330.9 434.5h1.5M331 434.8h1.5M332.9 434.6h1.5M333.1 434.8h1.5M333.6 435.3h1.5M335.7 434.6h1.5M313.6 435.5h1.5M314.2 435.8h1.5M314.6 436.5h1.5M318.5 435.8h1.5M323.4 436.3h1.5M323.7 436.1h1.5M314.6 436.6h1.5M315.4 437h1.5M317.9 437.2h1.5M323 436.7h1.5M316.2 438h1.5M316.2 437.6h1.5M317.9 438h1.5M316.8 439h1.5" stroke="#3b9347" stroke-width="1.5" fill="none"/>
<path d="M294.9 430.5h1.5M303.8 430.8h1.5M295.5 432.7h1.5M288.6 434.2h1.5M298.9 435.8h1.5M299 436.3h1.5M308.3 436.7h1.5M289.1 437.7h1.5M311.8 437.8h1.5M295.6 438.6h1.5M291.7 439.7h1.5M300.3 440.9h1.5M291.8 443h1.5M301.7 444.5h1.5M296.4 445.9h1.5M291.9 451.3h1.5M301.4 450.6h1.5M299.1 454.4h1.5" stroke="#b43fe8" stroke-width="1.5" fill="none"/>
<path d="M340.3 433.4h1.5M340.9 433.5h1.5M341.1 433.8h1.5M341.3 434.1h1.5M341.6 433.9h1.5M339.8 435.1h1.5M340 434.6h1.5M342.9 434.6h1.5M339.4 435.9h1.5M342.4 436.2h1.5M342.9 436.3h1.5M343.4 435.7h1.5M339.8 437.5h1.5M340.5 436.5h1.5M340.7 437.4h1.5M342.8 437.1h1.5M343 438h1.5M339.6 439.2h1.5M338.7 440.4h1.5M340.5 439.6h1.5M339.3 440.6h1.5M341.7 440.6h1.5M341 441.9h1.5M341.1 441.7h1.5M341.7 441.6h1.5M342.3 442.3h1.5M342.4 441.9h1.5M342.8 442.2h1.5M343.9 442.1h1.5M338.5 442.7h1.5M340.3 442.9h1.5M342.3 443h1.5M343.6 442.9h1.5M344 443.3h1.5M339.7 443.8h1.5M338.9 445.1h1.5M341.8 445.3h1.5M338.2 445.9h1.5M338.3 446.4h1.5M339.8 446.4h1.5M343.1 445.9h1.5M339 446.9h1.5M341.1 447h1.5M341.1 446.9h1.5M343.9 446.6h1.5M344.3 446.6h1.5M338.5 447.6h1.5M339 447.6h1.5M340.2 448.5h1.5M341.2 448.1h1.5M342.6 447.8h1.5M343.3 448.5h1.5M343.6 447.9h1.5M338.7 448.9h1.5M339.6 448.5h1.5M339.7 448.7h1.5M341.7 448.7h1.5M341.8 449.3h1.5M345 448.8h1.5M345 448.6h1.5M337.3 450.4h1.5M344.2 449.6h1.5M337.8 451h1.5M338.6 450.6h1.5M338.9 451.2h1.5M339.6 451.4h1.5M341.4 451.5h1.5M341.5 451h1.5M341.8 451.5h1.5M343.9 451.3h1.5M344.3 451.3h1.5M337.7 452.4h1.5M340.5 452.1h1.5M341.1 451.7h1.5M342.9 452.4h1.5M342.9 452.3h1.5M343.9 452.1h1.5M344.5 451.9h1.5M345.3 451.8h1.5M345.4 451.5h1.5M345.9 452h1.5M337.7 452.6h1.5M337.8 453.1h1.5M342.1 453.3h1.5M343.6 452.7h1.5M344 452.8h1.5M345.9 453.2h1.5M336.5 454.3h1.5M337.3 453.9h1.5M339.2 454h1.5M339.2 453.7h1.5M340.5 453.7h1.5M340.6 454.2h1.5M344.2 453.9h1.5M344.6 454.3h1.5M345.6 454.4h1.5M337.6 455.5h1.5M339.9 454.8h1.5M340 454.5h1.5M340.9 455.3h1.5M341 455.2h1.5M341.2 454.7h1.5M341.4 455.1h1.5M342.2 454.7h1.5M345.1 455.3h1.5M336.9 455.8h1.5M337.6 455.7h1.5M337.7 456.1h1.5M337.7 455.5h1.5M344.1 455.9h1.5M345.1 455.7h1.5M339.6 456.6h1.5M340.7 456.8h1.5M342.8 457.4h1.5M344.4 456.7h1.5M345.1 457.1h1.5M335.5 458.2h1.5M336.4 457.6h1.5M336.5 457.6h1.5M339.4 457.7h1.5M339.8 458.1h1.5M340.9 457.6h1.5M342.9 457.7h1.5M345.2 457.6h1.5M345.4 458.4h1.5M346.4 457.5h1.5M347.4 458.3h1.5M338.5 459.1h1.5M338.6 459.4h1.5M339.5 458.5h1.5M339.8 459.1h1.5M341.1 458.6h1.5M342.4 458.8h1.5M342.7 459.1h1.5M346.8 459.1h1.5M339 460.3h1.5M339.6 460.2h1.5M339.7 460.2h1.5M340.3 460.1h1.5M340.4 459.9h1.5M340.9 459.8h1.5M344.4 460.4h1.5M344.6 459.7h1.5M346.1 459.9h1.5M335.7 460.6h1.5M339.1 461.2h1.5M339.9 461.5h1.5M341 460.9h1.5M341.8 461.3h1.5M343 460.7h1.5M344.8 461.4h1.5M335 461.9h1.5M342.1 461.8h1.5M342.2 461.8h1.5M342.3 461.9h1.5M343.7 461.8h1.5M348 461.8h1.5M335.5 462.6h1.5M336.7 462.7h1.5M344.9 463.1h1.5M346.3 462.8h1.5M340.3 463.6h1.5M341.3 464.1h1.5M341.4 464h1.5M342.9 464.5h1.5M343.7 464.5h1.5M346.4 463.7h1.5M346.7 463.5h1.5M335.5 465.5h1.5M336.6 464.7h1.5M343 465.4h1.5M343.6 464.9h1.5M345.2 465.5h1.5M345.6 464.8h1.5M347.6 464.8h1.5M337.3 466.3h1.5M337.5 465.5h1.5M337.9 465.5h1.5M339 465.5h1.5M343.4 465.8h1.5M345.8 466h1.5M347.1 465.7h1.5M336.3 467.5h1.5M336.4 466.7h1.5M339 467h1.5M340.8 467.4h1.5M345.8 466.5h1.5M337.3 467.8h1.5M337.3 467.7h1.5M337.4 467.7h1.5M338.3 467.6h1.5M340.8 468.1h1.5M341.4 468.2h1.5M344.7 468.4h1.5M345.1 467.7h1.5M338 468.8h1.5M338.9 469.2h1.5M339.9 469.3h1.5M343.3 468.6h1.5M343.7 468.6h1.5M344 468.6h1.5M345 468.6h1.5M342.6 469.9h1.5M340 471.3h1.5M342.1 470.8h1.5M343.6 470.7h1.5M345.7 471.1h1.5M341.4 471.9h1.5" stroke="#84162d" stroke-width="1.5" fill="none"/>
<path d="M285.7 308.1 L276.3 314.6 L270.6 318.1" fill="none" stroke="#4a1645" stroke-width="1.7" stroke-linejoin="round"/>
<path d="M276.3 314.6 L276.7 326.1" fill="none" stroke="#4a1645" stroke-width="1.7" stroke-linejoin="round"/>
<path d="M141.7 354.7h1.5M144.5 354.8h1.5M109.8 355.8h1.5M115.5 356.5h1.5M132.9 355.8h1.5M135.1 356.9h1.5M135.5 357.5h1.5M108.4 357.8h1.5M132.3 358.3h1.5M145.2 357.5h1.5M141.6 359h1.5M127.1 360h1.5M130.6 359.9h1.5M130.4 360.9h1.5M120.7 361.7h1.5M133.7 362.4h1.5M135.7 361.7h1.5M142.3 362.6h1.5M106.5 365.3h1.5M106.9 364.6h1.5M120.5 364.7h1.5M129 366.2h1.5M141.4 365.9h1.5M142.6 367.2h1.5M108.7 371h1.5M110.5 371.2h1.5" stroke="#e0231f" stroke-width="1.5" fill="none"/>
<path d="M143.9 370h1.5M117.8 373.7h1.5M143.6 374.1h1.5M145 375.3h1.5M126.4 377.3h1.5M125.9 380.2h1.5M130.4 380h1.5M145.4 381.7h1.5" stroke="#ecd139" stroke-width="1.5" fill="none"/>
<path d="M276 354.2h1.5M268.6 355.3h1.5M274.4 355.5h1.5M301.1 356h1.5M304.9 356.5h1.5M286.6 357.5h1.5M287.1 356.6h1.5M299.4 356.8h1.5M279.6 358h1.5M282.5 358h1.5M289.4 358.2h1.5M306.6 357.9h1.5M292.3 359.4h1.5M279.2 360.4h1.5M276.9 361.1h1.5M296 362.3h1.5M273.5 362.8h1.5M274.2 363.3h1.5M305.3 362.9h1.5M267.3 364.4h1.5M288.6 363.7h1.5M277.3 364.6h1.5M287.2 365.2h1.5M297.7 364.8h1.5M296.6 366.2h1.5M303.6 365.6h1.5M279.3 367.1h1.5M292.4 366.8h1.5M296.4 367.2h1.5M297.7 367.2h1.5M268.9 368.9h1.5M279 370.1h1.5M276.6 370.9h1.5M275.1 372.4h1.5M269.4 372.9h1.5M273 374.9h1.5M274.3 375.3h1.5M275.3 374.6h1.5" stroke="#e0231f" stroke-width="1.5" fill="none"/>
<path d="M297.4 368.2h1.5M299.9 368.4h1.5M285 368.6h1.5M302.7 370.3h1.5M303.3 370.8h1.5M293.3 372.5h1.5M294.3 374.4h1.5M278.6 376.7h1.5M296.2 381h1.5M308.2 380.7h1.5M281.9 381.8h1.5M305.6 382.1h1.5M310.7 381.6h1.5" stroke="#ecd139" stroke-width="1.5" fill="none"/>
<path d="M82 353 C87 353.8 92.7 355.4 93 359.4 C93.3 363.3 85.9 371.2 83.6 376.7 C81.2 382.2 78.9 386.7 78.9 392.5 C78.9 398.3 84.4 405.9 83.6 411.4 C82.8 416.9 77.8 423.1 74.1 425.6 C70.4 428.1 65.7 428.6 61.5 426.2 C57.3 423.8 51.3 417.5 48.9 411.4 C46.5 405.2 46.8 396.6 47.3 389.3 C47.8 382 49.4 373.1 52 367.3 C54.6 361.5 58.1 357 63.1 354.6 C68.1 352.2 77 352.2 82 353Z" fill="none" stroke="#222" stroke-width="0.8"/>
<path d="M245.2 350.6 C250.2 350.9 256.8 350.3 257.9 354.7 C259 359.1 253.7 370.5 251.6 376.8 C249.5 383.1 245.2 387.3 245.2 392.6 C245.2 397.9 251.1 403.7 251.6 408.4 C252.1 413.1 250.8 418.4 248.4 421 C246 423.6 242.6 425.2 237.3 424.1 C232 423.1 221.1 421 216.8 414.7 C212.5 408.4 211.5 394.7 211.5 386.3 C211.5 377.9 214.1 369.7 216.8 364.2 C219.5 358.7 223.2 355.4 227.9 353.1 C232.6 350.8 240.2 350.3 245.2 350.6Z" fill="none" stroke="#222" stroke-width="0.8"/>
<text x="126.2" y="296.1" font-size="13" text-anchor="middle" fill="#111" font-weight="normal"  stroke="#111" stroke-width="0.25">5</text>
<text x="105.7" y="323" font-size="13" text-anchor="middle" fill="#111" font-weight="normal"  stroke="#111" stroke-width="0.25">8</text>
<text x="131.9" y="356.7" font-size="13" text-anchor="middle" fill="#111" font-weight="normal"  stroke="#111" stroke-width="0.25">2</text>
<text x="77.3" y="380.4" font-size="13" text-anchor="middle" fill="#111" font-weight="normal"  stroke="#111" stroke-width="0.25">0</text>
<text x="100.3" y="394.6" font-size="13" text-anchor="middle" fill="#111" font-weight="normal"  stroke="#111" stroke-width="0.25">7</text>
<text x="138.8" y="412.9" font-size="13" text-anchor="middle" fill="#111" font-weight="normal"  stroke="#111" stroke-width="0.25"> </text>
<path d="M0.335 0V-0.69H0.262L0.215 -0.628L0.158 -0.578L0.098 -0.545V-0.468L0.168 -0.5L0.245 -0.555V0Z" fill="#111" stroke="#111" stroke-width="0.0192" transform="translate(135.19 412.9) scale(13.00 13)"/>
<text x="170.3" y="425.5" font-size="13" text-anchor="middle" fill="#111" font-weight="normal"  stroke="#111" stroke-width="0.25">3</text>
<text x="137.9" y="446.6" font-size="13" text-anchor="middle" fill="#111" font-weight="normal"  stroke="#111" stroke-width="0.25">4</text>
<text x="179.8" y="465.9" font-size="13" text-anchor="middle" fill="#111" font-weight="normal"  stroke="#111" stroke-width="0.25">6</text>
<text x="291" y="296.2" font-size="13" text-anchor="middle" fill="#111" font-weight="normal"  stroke="#111" stroke-width="0.25">5</text>
<text x="265.8" y="322" font-size="13" text-anchor="middle" fill="#111" font-weight="normal"  stroke="#111" stroke-width="0.25">8</text>
<text x="297.3" y="352.4" font-size="13" text-anchor="middle" fill="#111" font-weight="normal"  stroke="#111" stroke-width="0.25">2</text>
<text x="240.5" y="380.4" font-size="13" text-anchor="middle" fill="#111" font-weight="normal"  stroke="#111" stroke-width="0.25">0</text>
<text x="262" y="394" font-size="13" text-anchor="middle" fill="#111" font-weight="normal"  stroke="#111" stroke-width="0.25">7</text>
<text x="302.7" y="400.3" font-size="13" text-anchor="middle" fill="#111" font-weight="normal"  stroke="#111" stroke-width="0.25"> </text>
<path d="M0.335 0V-0.69H0.262L0.215 -0.628L0.158 -0.578L0.098 -0.545V-0.468L0.168 -0.5L0.245 -0.555V0Z" fill="#111" stroke="#111" stroke-width="0.0192" transform="translate(299.09 400.3) scale(13.00 13)"/>
<text x="332" y="425.6" font-size="13" text-anchor="middle" fill="#111" font-weight="normal"  stroke="#111" stroke-width="0.25">3</text>
<text x="297.3" y="446.7" font-size="13" text-anchor="middle" fill="#111" font-weight="normal"  stroke="#111" stroke-width="0.25">4</text>
<text x="346.9" y="465" font-size="13" text-anchor="middle" fill="#111" font-weight="normal"  stroke="#111" stroke-width="0.25">6</text>
<text x="463" y="220.7" font-size="12" text-anchor="middle" fill="#111" font-weight="normal" font-style="italic"  stroke="#111" stroke-width="0.25">Lox</text>
<line x1="410.4" y1="229" x2="410.4" y2="336" stroke="#222" stroke-width="0.9"/>
<line x1="410.4" y1="336" x2="503.4" y2="336" stroke="#222" stroke-width="0.9"/>
<line x1="418.9" y1="336" x2="418.9" y2="337.8" stroke="#222" stroke-width="0.6"/>
<text x="418.9" y="344" font-size="6.5" text-anchor="middle" fill="#333" font-weight="normal" >−10</text>
<line x1="439.1" y1="336" x2="439.1" y2="337.8" stroke="#222" stroke-width="0.6"/>
<text x="439.1" y="344" font-size="6.5" text-anchor="middle" fill="#333" font-weight="normal" >−5</text>
<line x1="459.4" y1="336" x2="459.4" y2="337.8" stroke="#222" stroke-width="0.6"/>
<text x="459.4" y="344" font-size="6.5" text-anchor="middle" fill="#333" font-weight="normal" >0</text>
<line x1="479.6" y1="336" x2="479.6" y2="337.8" stroke="#222" stroke-width="0.6"/>
<text x="479.6" y="344" font-size="6.5" text-anchor="middle" fill="#333" font-weight="normal" >5</text>
<line x1="499.9" y1="336" x2="499.9" y2="337.8" stroke="#222" stroke-width="0.6"/>
<text x="499.9" y="344" font-size="6.5" text-anchor="middle" fill="#333" font-weight="normal" >10</text>
<line x1="408.6" y1="238.7" x2="410.4" y2="238.7" stroke="#222" stroke-width="0.6"/>
<text x="408" y="241" font-size="6.5" text-anchor="end" fill="#333" font-weight="normal" >10</text>
<line x1="408.6" y1="263" x2="410.4" y2="263" stroke="#222" stroke-width="0.6"/>
<text x="408" y="265.3" font-size="6.5" text-anchor="end" fill="#333" font-weight="normal" >5</text>
<line x1="408.6" y1="287.3" x2="410.4" y2="287.3" stroke="#222" stroke-width="0.6"/>
<text x="408" y="289.6" font-size="6.5" text-anchor="end" fill="#333" font-weight="normal" >0</text>
<line x1="408.6" y1="311.6" x2="410.4" y2="311.6" stroke="#222" stroke-width="0.6"/>
<text x="408" y="313.9" font-size="6.5" text-anchor="end" fill="#333" font-weight="normal" >−5</text>
<line x1="408.6" y1="335.9" x2="410.4" y2="335.9" stroke="#222" stroke-width="0.6"/>
<text x="408" y="338.2" font-size="6.5" text-anchor="end" fill="#333" font-weight="normal" >−10</text>
<text x="0" y="0" font-size="12.8" text-anchor="middle" fill="#111" stroke="#111" stroke-width="0.25" textLength="50.4" lengthAdjust="spacingAndGlyphs" transform="translate(394.6 286) rotate(-90) scale(1 1.12)">UMAP_2</text>
<text x="463.5" y="359.4" font-size="12.3" text-anchor="middle" fill="#111" font-weight="normal"  textLength="50.2" lengthAdjust="spacingAndGlyphs" stroke="#111" stroke-width="0.25">UMAP_ </text>
<path d="M0.335 0V-0.69H0.262L0.215 -0.628L0.158 -0.578L0.098 -0.545V-0.468L0.168 -0.5L0.245 -0.555V0Z" fill="#111" stroke="#111" stroke-width="0.0203" transform="translate(481.62 359.4) scale(12.55 12.3)"/>
<path d="M434.3 270.1 C432.7 270 430.7 270.3 429 271 C427.3 271.7 425.5 272.6 424 274.2 C422.4 275.7 420.4 278.3 419.5 280.4 C418.6 282.4 418.3 284.5 418.5 286.6 C418.7 288.7 419.2 290.9 420.5 292.9 C421.9 294.9 424.6 297 426.6 298.5 C428.6 299.9 431.1 301.2 432.7 301.6 C434.3 302 435.2 301.4 436.1 300.9 C437.1 300.4 438.5 299.4 438.3 298.5 C438.2 297.5 436 296.7 435.1 295.3 C434.2 293.9 433.1 292.1 432.7 290.2 C432.2 288.4 432.1 286 432.3 284.1 C432.5 282.3 433.1 280.7 433.9 279 C434.7 277.4 436.1 275.4 436.9 274.2 C437.7 273 439.2 272.4 438.7 271.7 C438.3 271.1 435.9 270.2 434.3 270.1Z" fill="#c4c4c4" stroke="#c4c4c4" stroke-width="2"/>
<path d="M453 285.1 C453 284.1 452.8 283 452.5 282.1 C452.3 281.3 451.8 280.5 451.3 280 C450.8 279.5 450.1 279.2 449.6 279.2 C449 279.2 448.3 279.5 447.8 280 C447.3 280.5 446.9 281.3 446.6 282.1 C446.3 283 446.1 284.1 446.1 285.1 C446.1 286 446.3 287.1 446.6 288 C446.9 288.8 447.3 289.6 447.8 290.1 C448.3 290.6 449 290.9 449.6 290.9 C450.1 290.9 450.8 290.6 451.3 290.1 C451.8 289.6 452.3 288.8 452.5 288 C452.8 287.1 453 286 453 285.1Z" fill="#c4c4c4" stroke="#c4c4c4" stroke-width="2"/>
<path d="M438.7 271.7 C438.7 271.1 438.1 269.9 439.1 269.3 C440.2 268.8 443.7 269 444.8 268.3 C446 267.7 445.6 265.5 446 265.4 C446.4 265.3 446.2 267.4 447.2 267.9 C448.3 268.3 450.7 269.1 452.5 268.3 C454.3 267.6 456.9 265.2 458.2 263.5 C459.5 261.8 459.4 259.5 460.2 258.1 C461.1 256.8 461.9 255.5 463.3 255.2 C464.6 255 466.9 255.5 468.3 256.7 C469.8 257.8 471.1 260.2 472 262 C472.8 263.9 472.8 265.9 473.2 267.9 C473.5 269.8 474.2 272.5 474 273.9 C473.8 275.4 473.4 276.2 472 276.6 C470.5 277 467.5 276.4 465.5 276.1 C463.5 275.8 461.4 274.4 460 275 C458.7 275.5 458.4 278.4 457.4 279.5 C456.4 280.6 455 281.7 454.1 281.5 C453.3 281.2 452.9 279.2 452.1 278.1 C451.4 276.9 450.8 275.5 449.7 274.7 C448.5 273.9 447 273.4 445.2 273.2 C443.5 273 440.2 273.4 439.1 273.2 C438.1 273 438.7 272.4 438.7 271.7Z" fill="#c4c4c4" stroke="#c4c4c4" stroke-width="2"/>
<path d="M461.2 254.7 C461.7 255.9 463.5 255.9 464.1 254.7 C464.6 253.6 463.8 249.3 464.5 247.9 C465.1 246.6 466.7 247.4 467.9 246.5 C469.1 245.6 471.2 243.6 471.5 242.6 C471.9 241.6 470.3 241.6 469.9 240.6 C469.5 239.7 469.5 237.8 469.1 236.8 C468.7 235.7 468.2 234.6 467.5 234.6 C466.8 234.5 465.9 236.1 464.7 236.5 C463.4 236.9 461.5 236.4 460.2 236.8 C458.9 237.1 457.6 237.9 457 238.7 C456.3 239.5 455.9 240.6 456.4 241.6 C456.8 242.7 459 244 459.8 245 C460.6 246.1 461 246.3 461.2 247.9 C461.5 249.6 460.7 253.6 461.2 254.7Z" fill="#c4c4c4" stroke="#c4c4c4" stroke-width="2"/>
<path d="M460 275 C461.4 274.4 463.5 275.8 465.5 276.1 C467.5 276.4 470.5 276 472 276.6 C473.4 277.3 472.6 278 474 280 C475.4 282 479.5 286.2 480.5 288.7 C481.4 291.1 480.2 292.8 479.6 294.6 C479.1 296.4 478.9 297.9 477.2 299.4 C475.5 301 471 303.4 469.5 304.1 C468 304.7 469.3 303.2 468.3 303.3 C467.3 303.5 465.3 304.7 463.4 304.8 C461.6 304.9 458 304.9 457 304.1 C455.9 303.3 456.9 300.9 457 299.9 C457.1 298.9 457.1 298.9 457.7 298 C458.2 297.1 460 296 460 294.6 C460.1 293.2 458.4 291.6 458.2 289.7 C458 287.9 459 285.2 458.8 283.5 C458.7 281.8 457.2 280.9 457.4 279.5 C457.6 278.1 458.7 275.5 460 275Z" fill="#c4c4c4" stroke="#c4c4c4" stroke-width="2"/>
<path d="M480.3 287 C480.4 286 479.6 288.1 480.5 288.7 C481.4 289.2 483.8 289.3 485.7 290.2 C487.6 291.1 489.9 292.4 491.8 294.1 C493.7 295.8 496.6 298.6 497.1 300.7 C497.5 302.8 495.9 305.3 494.6 306.7 C493.4 308.2 491.6 308.7 489.8 309.2 C488 309.7 485.5 309.4 483.7 309.7 C481.9 310 480.9 311.3 479.2 311 C477.6 310.6 475.2 308.9 473.6 307.7 C472 306.6 468.9 305.4 469.5 304.1 C470.1 302.7 475.5 301 477.2 299.4 C478.9 297.9 479.1 296.7 479.6 294.6 C480.2 292.5 480.2 287.9 480.3 287Z" fill="#c4c4c4" stroke="#c4c4c4" stroke-width="2"/>
<path d="M467.1 304.8 C468.4 304.5 469.9 305.4 471.5 306.3 C473.2 307.1 476.5 308.8 476.8 310.1 C477.2 311.4 474.8 312.6 473.6 314 C472.4 315.5 470.8 317.8 469.5 318.9 C468.3 320 467 320.8 466 320.8 C465 320.8 464 319.9 463.4 318.9 C462.9 317.8 462.4 316.3 462.4 314.5 C462.4 312.7 462.7 309.8 463.4 308.2 C464.2 306.6 465.7 305.1 467.1 304.8Z" fill="#c4c4c4" stroke="#c4c4c4" stroke-width="2"/>
<path d="M492.2 307.7 C492.7 307 493.8 307.1 494.2 308.2 C494.7 309.3 494.6 311.7 495 314 C495.5 316.4 496.9 320.2 497.1 322.3 C497.2 324.4 496.6 325.9 495.8 326.7 C495.1 327.5 493.8 327.6 492.6 327.2 C491.5 326.7 489.4 325.1 489 323.8 C488.6 322.4 489.8 320.8 490.2 318.9 C490.6 317 491.1 314.4 491.4 312.6 C491.7 310.7 491.7 308.4 492.2 307.7Z" fill="#c4c4c4" stroke="#c4c4c4" stroke-width="2"/>
<path d="M462.6 247.4 L456.2 250.6 L451.3 252.3" fill="none" stroke="#c4c4c4" stroke-width="1.6" stroke-linejoin="round"/>
<path d="M456.2 250.6 L456.4 256.2" fill="none" stroke="#c4c4c4" stroke-width="1.6" stroke-linejoin="round"/>
<path d="M447.7 282.4 C447.2 281.1 448.9 276.2 450.1 275.2 C451.2 274.1 454.1 274.7 454.5 276.1 C455 277.5 454.1 282.4 452.9 283.4 C451.8 284.5 448.1 283.8 447.7 282.4Z" fill="#c4c4c4"/>
<path d="M471.5 308.7 L490.2 308.7 L491 318.4 L473.2 316.5Z" fill="#c4c4c4" fill-opacity="0.55"/>
<path d="M466.9 236.7h0.8M469.3 240.2h0.8M468.1 244.5h0.8M465.4 257h0.8M461 258h0.8M462.1 257.8h0.8M466.7 258.4h0.8M467.6 258h0.8M468.1 258.5h0.8M459.6 259.4h0.8M469.3 259.1h0.8M459.9 260.2h0.8M460.3 260h0.8M466.3 260.4h0.8M466.7 260h0.8M461.2 261.3h0.8M462.1 260.6h0.8M463.1 260.6h0.8M463.2 260.8h0.8M466.9 261h0.8M469.9 260.6h0.8M469.9 261h0.8M469.9 260.8h0.8M460.9 261.8h0.8M461.5 262.4h0.8M458.1 263.4h0.8M460.5 263.5h0.8M462.5 263.5h0.8M465.3 262.6h0.8M468.3 262.6h0.8M468.6 263.3h0.8M470.6 262.7h0.8M460.2 263.9h0.8M461.9 264.4h0.8M463 264.5h0.8M467 264.3h0.8M467.1 264h0.8M467.3 264.4h0.8M469.8 263.7h0.8M464.4 264.6h0.8M467 264.8h0.8M468.3 264.9h0.8M472.1 264.7h0.8M459.3 265.6h0.8M460 265.5h0.8M461.9 266h0.8M468.9 265.6h0.8M445.7 266.6h0.8M454.3 266.9h0.8M454.3 266.7h0.8M455.6 266.6h0.8M467.9 267.3h0.8M471.7 267.4h0.8M472.4 266.6h0.8M446.3 268.4h0.8M447 267.9h0.8M447.2 268.2h0.8M449 268.2h0.8M459.2 267.7h0.8M462.8 268.2h0.8M465.7 268h0.8M466.1 268.5h0.8M467.8 268.4h0.8M468.2 267.6h0.8M468.3 267.6h0.8M468.5 267.7h0.8M470 268.4h0.8M471.3 268.3h0.8M471.4 267.6h0.8M440.9 269.3h0.8M443.5 269.5h0.8M448.1 269.3h0.8M448.7 269.2h0.8M455.9 269.3h0.8M459 268.8h0.8M460.9 269h0.8M462.2 268.7h0.8M463 268.9h0.8M463.3 269.3h0.8M466.2 269.4h0.8M467.3 268.7h0.8M467.6 269.2h0.8M470.5 269.3h0.8M432.4 270.4h0.8M439.2 269.9h0.8M439.4 270.1h0.8M440.9 269.5h0.8M443.7 269.9h0.8M443.9 269.8h0.8M445 269.9h0.8M447.9 270.2h0.8M448.6 269.9h0.8M449.8 269.7h0.8M459.6 270.1h0.8M460.8 270.1h0.8M461.5 270.3h0.8M461.9 269.5h0.8M464.4 269.7h0.8M464.6 269.8h0.8M469.1 270.4h0.8M470.5 269.7h0.8M470.7 269.7h0.8M470.7 270h0.8M471.5 269.6h0.8M433.4 271h0.8M440.8 270.9h0.8M447.9 271.4h0.8M448.1 270.7h0.8M451.9 270.7h0.8M453.4 271.1h0.8M456.1 270.5h0.8M458 271.2h0.8M459.1 270.9h0.8M460.6 271.3h0.8M462.1 270.5h0.8M464.5 270.6h0.8M466.7 270.6h0.8M470.7 271.3h0.8M471.1 270.6h0.8M471.1 271.3h0.8M471.4 270.6h0.8M472.6 271.1h0.8M427.7 272.1h0.8M428.1 271.8h0.8M430 272.3h0.8M430.1 271.9h0.8M430.4 272.4h0.8M433.1 271.9h0.8M433.1 272.1h0.8M435.1 271.6h0.8M436.4 272h0.8M439.4 272.2h0.8M451.2 272.3h0.8M452.2 272.4h0.8M453.7 272.1h0.8M458.9 272.1h0.8M464.6 272.4h0.8M465.1 271.6h0.8M468.2 271.7h0.8M468.7 272.3h0.8M472.1 271.8h0.8M472.2 271.6h0.8M426.3 273.1h0.8M428.6 272.6h0.8M429.1 273.1h0.8M430.9 272.5h0.8M433 273.2h0.8M433.4 273.4h0.8M433.5 273.2h0.8M433.8 273.4h0.8M434.4 272.6h0.8M436.4 273.2h0.8M443 272.7h0.8M450.4 272.8h0.8M453.2 272.7h0.8M453.3 272.8h0.8M453.8 272.9h0.8M455.7 273.1h0.8M462.8 273h0.8M463.2 272.8h0.8M463.3 272.9h0.8M466 272.9h0.8M467.3 273h0.8M468.6 272.6h0.8M469.3 272.6h0.8M470.1 273.1h0.8M471.4 272.8h0.8M471.6 273.3h0.8M473.2 273.2h0.8M423.8 274.1h0.8M424.8 274.3h0.8M425.8 274.1h0.8M426.3 273.7h0.8M427.4 274.5h0.8M427.4 273.6h0.8M428.6 274.4h0.8M429 273.7h0.8M430.4 273.6h0.8M433.8 273.6h0.8M436.1 274.2h0.8M436.3 273.9h0.8M436.4 274.3h0.8M450.4 274h0.8M450.7 274.4h0.8M456 274.5h0.8M460.6 274h0.8M465.1 274.3h0.8M466.7 273.6h0.8M468.2 273.9h0.8M469.6 273.9h0.8M471.4 273.6h0.8M472.6 274.5h0.8M425 274.8h0.8M425 275.3h0.8M425 275.1h0.8M426.2 275h0.8M428.3 274.7h0.8M428.5 275.1h0.8M428.8 274.7h0.8M429.4 275.4h0.8M429.6 275.3h0.8M430.7 274.6h0.8M431.4 274.8h0.8M431.5 275.1h0.8M431.9 274.8h0.8M432 274.9h0.8M432.3 275.3h0.8M434.3 275.1h0.8M434.9 275.3h0.8M435.6 275.3h0.8M435.7 274.8h0.8M456.1 275.4h0.8M463.5 274.8h0.8M424.3 275.9h0.8M425.1 276.3h0.8M425.8 275.5h0.8M428.4 276.1h0.8M429.3 275.7h0.8M430.3 275.5h0.8M430.8 276.3h0.8M432.3 275.9h0.8M432.6 276.4h0.8M432.8 276.4h0.8M467.8 275.9h0.8M470.5 276.4h0.8M421.8 276.9h0.8M421.9 277.1h0.8M424.3 276.9h0.8M425.3 276.7h0.8M427.8 277.2h0.8M428.6 277.3h0.8M430.7 277.5h0.8M430.8 277h0.8M431 276.9h0.8M432.5 276.6h0.8M434.1 277.4h0.8M434.2 276.9h0.8M422.9 278.2h0.8M427.6 278.4h0.8M428.2 278.4h0.8M428.7 278h0.8M428.9 278.1h0.8M429.3 278h0.8M430.8 277.9h0.8M431.7 278.1h0.8M470.1 278.3h0.8M422.4 278.8h0.8M422.6 279.5h0.8M424.7 279.5h0.8M427.4 279h0.8M427.6 278.9h0.8M428.4 278.7h0.8M429.6 278.5h0.8M430.4 278.9h0.8M431.3 278.9h0.8M431.9 279.4h0.8M454.2 278.7h0.8M454.8 279.3h0.8M419.6 280h0.8M419.8 279.8h0.8M421.4 280.4h0.8M421.8 280h0.8M428.2 280.4h0.8M428.4 279.6h0.8M432.4 280.4h0.8M419.4 281.4h0.8M420.9 281.3h0.8M421.2 280.7h0.8M421.3 281.1h0.8M422.8 281h0.8M422.8 281.3h0.8M422.9 280.9h0.8M425.3 281.4h0.8M425.5 281h0.8M425.9 280.9h0.8M429.4 280.6h0.8M429.9 280.9h0.8M430 281.2h0.8M430.2 280.7h0.8M431.4 280.6h0.8M431.7 280.8h0.8M465.8 280.7h0.8M468.6 280.9h0.8M474 281.1h0.8M419.9 282.4h0.8M420.1 282.4h0.8M421 282.4h0.8M422.6 282.3h0.8M423.3 281.7h0.8M423.5 282.2h0.8M425.2 282.3h0.8M425.9 282.1h0.8M426 282.5h0.8M426.4 282.4h0.8M426.8 281.7h0.8M430.5 281.9h0.8M431.7 282.2h0.8M449.6 282.1h0.8M450.1 281.6h0.8M458.3 281.7h0.8M418.9 283.2h0.8M419.1 282.7h0.8M420.3 282.6h0.8M420.7 283h0.8M422.1 283.2h0.8M422.3 283.4h0.8M422.4 283h0.8M423.4 283.1h0.8M424.2 283.3h0.8M425.3 283.2h0.8M428.3 283.3h0.8M429.2 282.6h0.8M429.3 282.9h0.8M429.4 282.9h0.8M429.7 282.6h0.8M430.7 282.6h0.8M449.6 282.8h0.8M418.6 284.3h0.8M418.7 284h0.8M419.3 284h0.8M419.8 284.4h0.8M420 283.8h0.8M420 283.8h0.8M420.5 283.7h0.8M420.7 283.9h0.8M421.2 284.4h0.8M422.1 284.1h0.8M423.7 284.2h0.8M424.5 284.3h0.8M425.3 284.3h0.8M425.5 283.8h0.8M426.8 283.6h0.8M427.4 284.4h0.8M429.3 284.5h0.8M429.5 284h0.8M429.6 284h0.8M429.9 283.9h0.8M430.5 284h0.8M431.1 284.4h0.8M450.2 284.3h0.8M450.9 284.1h0.8M451.6 284.3h0.8M418.8 284.9h0.8M418.9 285.5h0.8M420.6 285.4h0.8M421.2 285.3h0.8M424 285h0.8M426 284.8h0.8M427 284.6h0.8M427.6 285.5h0.8M427.7 285h0.8M428.4 285.2h0.8M430.5 285.1h0.8M430.7 285.4h0.8M431.9 285h0.8M458.3 285.4h0.8M419.4 285.6h0.8M419.9 286.3h0.8M422.1 286.2h0.8M423 286.4h0.8M423.5 286.3h0.8M423.8 285.9h0.8M426.2 285.8h0.8M427.1 286.1h0.8M466.4 285.6h0.8M476.8 286.5h0.8M419.1 287.3h0.8M421.5 287h0.8M422.3 287.2h0.8M423.4 287h0.8M424.5 287.4h0.8M426 287.1h0.8M430.5 287.3h0.8M461.4 286.8h0.8M471.3 287.1h0.8M473.6 286.8h0.8M420.6 288.3h0.8M420.7 288.1h0.8M422.2 287.6h0.8M422.3 288.3h0.8M422.7 287.7h0.8M422.8 288.4h0.8M425.8 288h0.8M430.1 288.3h0.8M431.1 288.3h0.8M419.8 289.4h0.8M420.4 289.1h0.8M421.2 289.4h0.8M422.4 289h0.8M424.4 289h0.8M424.5 288.7h0.8M424.9 289.5h0.8M427.4 288.7h0.8M430.5 288.6h0.8M420.3 290.4h0.8M421.1 290h0.8M423.3 290.2h0.8M424.8 289.6h0.8M425.3 289.6h0.8M426 289.8h0.8M427.1 289.7h0.8M427.9 290h0.8M428.5 290.2h0.8M429.5 290h0.8M430.4 290.3h0.8M430.9 290h0.8M430.9 289.6h0.8M420.5 290.6h0.8M421.6 290.8h0.8M424.2 290.6h0.8M425.4 290.5h0.8M427.3 290.9h0.8M427.7 291h0.8M431.1 290.7h0.8M431.1 290.6h0.8M431.6 291.4h0.8M431.8 290.7h0.8M420.2 291.6h0.8M420.9 292.1h0.8M423.7 291.6h0.8M425.1 292.1h0.8M425.5 291.7h0.8M426.5 291.9h0.8M429.2 291.6h0.8M429.6 292h0.8M432.4 292.3h0.8M470.6 291.8h0.8M473.6 292.2h0.8M420.7 292.6h0.8M421.2 293.4h0.8M421.7 292.7h0.8M423.8 292.8h0.8M424.5 292.5h0.8M425.9 292.7h0.8M426.1 292.8h0.8M426.7 292.6h0.8M427.5 293.3h0.8M429.8 293.2h0.8M432 293.4h0.8M432.4 293.2h0.8M425.1 293.7h0.8M427.6 294.3h0.8M431.6 293.8h0.8M432.1 293.7h0.8M432.2 294.3h0.8M432.6 294.3h0.8M465.8 293.7h0.8M422.9 294.7h0.8M424.1 295.1h0.8M426.6 294.7h0.8M426.7 295.1h0.8M427.1 295.2h0.8M428.4 295.1h0.8M428.6 295.2h0.8M429.9 294.6h0.8M431.8 295.2h0.8M431.9 295.1h0.8M432.8 294.8h0.8M433.1 294.6h0.8M433.3 294.9h0.8M465.7 295.3h0.8M425.7 296.3h0.8M429.1 296.4h0.8M432.6 295.7h0.8M433.2 295.6h0.8M433.5 295.6h0.8M434.4 296.1h0.8M464.9 296.3h0.8M479.9 296.1h0.8M426.3 297.1h0.8M430.4 296.5h0.8M430.5 296.6h0.8M430.6 297h0.8M431.4 296.8h0.8M431.6 296.6h0.8M435.2 296.6h0.8M425.9 297.9h0.8M426.3 298h0.8M426.4 298.4h0.8M427.5 298h0.8M429.6 298h0.8M430.4 297.8h0.8M430.5 298.1h0.8M433.1 297.9h0.8M435.4 297.7h0.8M426.8 298.7h0.8M426.8 298.5h0.8M428.2 298.8h0.8M428.3 298.5h0.8M430.4 299.4h0.8M431.8 299.1h0.8M432.2 299.4h0.8M433 298.5h0.8M433.2 299.1h0.8M433.5 298.6h0.8M435.5 299h0.8M437.2 298.5h0.8M476.7 299.2h0.8M430.3 300.2h0.8M434.7 300.3h0.8M434.7 300.1h0.8M435.1 300.1h0.8M464.9 299.7h0.8M486.5 299.7h0.8M496.3 300.5h0.8M432.1 301.2h0.8M487.9 300.9h0.8M480.2 302h0.8M486.1 301.6h0.8M458.4 302.6h0.8M473.5 305.6h0.8M485.9 305.7h0.8M478.2 307.2h0.8M466 311.3h0.8M492.1 313.3h0.8M465.1 315.2h0.8M492.3 316.4h0.8" stroke="#e5432a" stroke-width="0.8" fill="none"/>
<defs><linearGradient id="cb0" x1="0" y1="0" x2="0" y2="1"><stop offset="0" stop-color="#ee2c18"/><stop offset="0.12" stop-color="#ef4a36"/><stop offset="0.26" stop-color="#c8c8c8"/><stop offset="1" stop-color="#c4c4c4"/></linearGradient></defs>
<rect x="510.8" y="262.8" width="7.8" height="39.2" fill="url(#cb0)" />
<line x1="510.8" y1="263.2" x2="512.3" y2="263.2" stroke="#fff" stroke-width="0.5"/>
<line x1="517.1" y1="263.2" x2="518.6" y2="263.2" stroke="#fff" stroke-width="0.5"/>
<text x="522" y="265.7" font-size="7" text-anchor="start" fill="#333" font-weight="normal" >4</text>
<line x1="510.8" y1="273" x2="512.3" y2="273" stroke="#fff" stroke-width="0.5"/>
<line x1="517.1" y1="273" x2="518.6" y2="273" stroke="#fff" stroke-width="0.5"/>
<text x="522" y="275.5" font-size="7" text-anchor="start" fill="#333" font-weight="normal" >3</text>
<line x1="510.8" y1="282.8" x2="512.3" y2="282.8" stroke="#fff" stroke-width="0.5"/>
<line x1="517.1" y1="282.8" x2="518.6" y2="282.8" stroke="#fff" stroke-width="0.5"/>
<text x="522" y="285.3" font-size="7" text-anchor="start" fill="#333" font-weight="normal" >2</text>
<line x1="510.8" y1="292.6" x2="512.3" y2="292.6" stroke="#fff" stroke-width="0.5"/>
<line x1="517.1" y1="292.6" x2="518.6" y2="292.6" stroke="#fff" stroke-width="0.5"/>
<text x="522" y="295.1" font-size="7" text-anchor="start" fill="#333" font-weight="normal" > </text>
<path d="M0.335 0V-0.69H0.262L0.215 -0.628L0.158 -0.578L0.098 -0.545V-0.468L0.168 -0.5L0.245 -0.555V0Z" fill="#333" transform="translate(522.00 295.1) scale(7.00 7)"/>
<line x1="510.8" y1="302.4" x2="512.3" y2="302.4" stroke="#fff" stroke-width="0.5"/>
<line x1="517.1" y1="302.4" x2="518.6" y2="302.4" stroke="#fff" stroke-width="0.5"/>
<text x="522" y="304.9" font-size="7" text-anchor="start" fill="#333" font-weight="normal" >0</text>
<text x="613.8" y="220.7" font-size="12" text-anchor="middle" fill="#111" font-weight="normal" font-style="italic"  stroke="#111" stroke-width="0.25">Uts2r</text>
<line x1="561.2" y1="229" x2="561.2" y2="336" stroke="#222" stroke-width="0.9"/>
<line x1="561.2" y1="336" x2="654.5" y2="336" stroke="#222" stroke-width="0.9"/>
<line x1="568.7" y1="336" x2="568.7" y2="337.8" stroke="#222" stroke-width="0.6"/>
<text x="568.7" y="344" font-size="6.5" text-anchor="middle" fill="#333" font-weight="normal" >−10</text>
<line x1="589.1" y1="336" x2="589.1" y2="337.8" stroke="#222" stroke-width="0.6"/>
<text x="589.1" y="344" font-size="6.5" text-anchor="middle" fill="#333" font-weight="normal" >−5</text>
<line x1="609.6" y1="336" x2="609.6" y2="337.8" stroke="#222" stroke-width="0.6"/>
<text x="609.6" y="344" font-size="6.5" text-anchor="middle" fill="#333" font-weight="normal" >0</text>
<line x1="630.1" y1="336" x2="630.1" y2="337.8" stroke="#222" stroke-width="0.6"/>
<text x="630.1" y="344" font-size="6.5" text-anchor="middle" fill="#333" font-weight="normal" >5</text>
<line x1="650.5" y1="336" x2="650.5" y2="337.8" stroke="#222" stroke-width="0.6"/>
<text x="650.5" y="344" font-size="6.5" text-anchor="middle" fill="#333" font-weight="normal" >10</text>
<line x1="559.4" y1="238.7" x2="561.2" y2="238.7" stroke="#222" stroke-width="0.6"/>
<text x="558.8" y="241" font-size="6.5" text-anchor="end" fill="#333" font-weight="normal" >10</text>
<line x1="559.4" y1="263" x2="561.2" y2="263" stroke="#222" stroke-width="0.6"/>
<text x="558.8" y="265.3" font-size="6.5" text-anchor="end" fill="#333" font-weight="normal" >5</text>
<line x1="559.4" y1="287.3" x2="561.2" y2="287.3" stroke="#222" stroke-width="0.6"/>
<text x="558.8" y="289.6" font-size="6.5" text-anchor="end" fill="#333" font-weight="normal" >0</text>
<line x1="559.4" y1="311.6" x2="561.2" y2="311.6" stroke="#222" stroke-width="0.6"/>
<text x="558.8" y="313.9" font-size="6.5" text-anchor="end" fill="#333" font-weight="normal" >−5</text>
<line x1="559.4" y1="335.9" x2="561.2" y2="335.9" stroke="#222" stroke-width="0.6"/>
<text x="558.8" y="338.2" font-size="6.5" text-anchor="end" fill="#333" font-weight="normal" >−10</text>
<text x="0" y="0" font-size="12.8" text-anchor="middle" fill="#111" stroke="#111" stroke-width="0.25" textLength="50.4" lengthAdjust="spacingAndGlyphs" transform="translate(548.4 286.5) rotate(-90) scale(1 1.12)">UMAP_2</text>
<text x="617" y="359.4" font-size="12.3" text-anchor="middle" fill="#111" font-weight="normal"  textLength="50.2" lengthAdjust="spacingAndGlyphs" stroke="#111" stroke-width="0.25">UMAP_ </text>
<path d="M0.335 0V-0.69H0.262L0.215 -0.628L0.158 -0.578L0.098 -0.545V-0.468L0.168 -0.5L0.245 -0.555V0Z" fill="#111" stroke="#111" stroke-width="0.0203" transform="translate(635.12 359.4) scale(12.55 12.3)"/>
<path d="M584.2 270.1 C582.6 270 580.7 270.3 578.9 271 C577.2 271.7 575.4 272.6 573.8 274.2 C572.2 275.7 570.2 278.3 569.3 280.4 C568.4 282.4 568.1 284.5 568.3 286.6 C568.5 288.7 569 290.9 570.3 292.9 C571.7 294.9 574.4 297 576.5 298.5 C578.5 299.9 581 301.2 582.6 301.6 C584.2 302 585.1 301.4 586.1 300.9 C587 300.4 588.5 299.4 588.3 298.5 C588.2 297.5 586 296.7 585.1 295.3 C584.1 293.9 583.1 292.1 582.6 290.2 C582.1 288.4 582 286 582.2 284.1 C582.4 282.3 583 280.7 583.8 279 C584.6 277.4 586.1 275.4 586.9 274.2 C587.7 273 589.2 272.4 588.7 271.7 C588.3 271.1 585.9 270.2 584.2 270.1Z" fill="#c4c4c4" stroke="#c4c4c4" stroke-width="2"/>
<path d="M603.1 285.1 C603.1 284.1 603 283 602.7 282.1 C602.4 281.3 601.9 280.5 601.4 280 C600.9 279.5 600.2 279.2 599.7 279.2 C599.1 279.2 598.4 279.5 597.9 280 C597.4 280.5 596.9 281.3 596.7 282.1 C596.4 283 596.2 284.1 596.2 285.1 C596.2 286 596.4 287.1 596.7 288 C596.9 288.8 597.4 289.6 597.9 290.1 C598.4 290.6 599.1 290.9 599.7 290.9 C600.2 290.9 600.9 290.6 601.4 290.1 C601.9 289.6 602.4 288.8 602.7 288 C603 287.1 603.1 286 603.1 285.1Z" fill="#c4c4c4" stroke="#c4c4c4" stroke-width="2"/>
<path d="M588.7 271.7 C588.7 271.1 588.1 269.9 589.1 269.3 C590.2 268.8 593.7 269 594.9 268.3 C596 267.7 595.7 265.5 596.1 265.4 C596.5 265.3 596.2 267.4 597.3 267.9 C598.4 268.3 600.8 269.1 602.6 268.3 C604.5 267.6 607.1 265.2 608.4 263.5 C609.7 261.8 609.6 259.5 610.4 258.1 C611.3 256.8 612.2 255.5 613.5 255.2 C614.9 255 617.1 255.5 618.6 256.7 C620.1 257.8 621.5 260.2 622.3 262 C623.1 263.9 623.2 265.9 623.5 267.9 C623.8 269.8 624.5 272.5 624.3 273.9 C624.1 275.4 623.7 276.2 622.3 276.6 C620.8 277 617.7 276.4 615.7 276.1 C613.7 275.8 611.6 274.4 610.3 275 C608.9 275.5 608.6 278.4 607.6 279.5 C606.6 280.6 605.2 281.7 604.3 281.5 C603.4 281.2 603 279.2 602.2 278.1 C601.5 276.9 600.9 275.5 599.8 274.7 C598.6 273.9 597.1 273.4 595.3 273.2 C593.5 273 590.2 273.4 589.1 273.2 C588.1 273 588.7 272.4 588.7 271.7Z" fill="#c4c4c4" stroke="#c4c4c4" stroke-width="2"/>
<path d="M611.4 254.7 C611.9 255.9 613.8 255.9 614.3 254.7 C614.8 253.6 614.1 249.3 614.7 247.9 C615.4 246.6 617 247.4 618.2 246.5 C619.4 245.6 621.5 243.6 621.9 242.6 C622.2 241.6 620.6 241.6 620.2 240.6 C619.8 239.7 619.8 237.8 619.4 236.8 C619 235.7 618.5 234.6 617.8 234.6 C617 234.5 616.1 236.1 614.9 236.5 C613.7 236.9 611.7 236.4 610.4 236.8 C609.1 237.1 607.8 237.9 607.1 238.7 C606.5 239.5 606.1 240.6 606.5 241.6 C607 242.7 609.2 244 610 245 C610.8 246.1 611.2 246.3 611.4 247.9 C611.7 249.6 611 253.6 611.4 254.7Z" fill="#c4c4c4" stroke="#c4c4c4" stroke-width="2"/>
<path d="M610.3 275 C611.6 274.4 613.7 275.8 615.7 276.1 C617.7 276.4 620.8 276 622.3 276.6 C623.7 277.3 622.9 278 624.3 280 C625.8 282 629.9 286.2 630.9 288.7 C631.8 291.1 630.6 292.8 630.1 294.6 C629.5 296.4 629.3 297.9 627.6 299.4 C625.9 301 621.3 303.4 619.8 304.1 C618.3 304.7 619.6 303.2 618.6 303.3 C617.6 303.5 615.6 304.7 613.7 304.8 C611.8 304.9 608.2 304.9 607.1 304.1 C606.1 303.3 607 300.9 607.1 299.9 C607.3 298.9 607.3 298.9 607.8 298 C608.4 297.1 610.2 296 610.3 294.6 C610.3 293.2 608.6 291.6 608.4 289.7 C608.2 287.9 609.2 285.2 609 283.5 C608.9 281.8 607.4 280.9 607.6 279.5 C607.8 278.1 608.9 275.5 610.3 275Z" fill="#c4c4c4" stroke="#c4c4c4" stroke-width="2"/>
<path d="M630.7 287 C630.8 286 630 288.1 630.9 288.7 C631.8 289.2 634.3 289.3 636.2 290.2 C638.1 291.1 640.4 292.4 642.3 294.1 C644.2 295.8 647.2 298.6 647.6 300.7 C648.1 302.8 646.4 305.3 645.2 306.7 C644 308.2 642.1 308.7 640.3 309.2 C638.4 309.7 635.9 309.4 634.1 309.7 C632.4 310 631.3 311.3 629.6 311 C627.9 310.6 625.6 308.9 623.9 307.7 C622.3 306.6 619.2 305.4 619.8 304.1 C620.4 302.7 625.9 301 627.6 299.4 C629.3 297.9 629.5 296.7 630.1 294.6 C630.6 292.5 630.6 287.9 630.7 287Z" fill="#c4c4c4" stroke="#c4c4c4" stroke-width="2"/>
<path d="M617.4 304.8 C618.7 304.5 620.2 305.4 621.9 306.3 C623.5 307.1 626.8 308.8 627.2 310.1 C627.5 311.4 625.1 312.6 623.9 314 C622.7 315.5 621.1 317.8 619.8 318.9 C618.6 320 617.3 320.8 616.3 320.8 C615.2 320.8 614.3 319.9 613.7 318.9 C613.1 317.8 612.7 316.3 612.7 314.5 C612.7 312.7 612.9 309.8 613.7 308.2 C614.5 306.6 616 305.1 617.4 304.8Z" fill="#c4c4c4" stroke="#c4c4c4" stroke-width="2"/>
<path d="M642.7 307.7 C643.2 307 644.3 307.1 644.8 308.2 C645.3 309.3 645.1 311.7 645.6 314 C646.1 316.4 647.5 320.2 647.6 322.3 C647.8 324.4 647.2 325.9 646.4 326.7 C645.7 327.5 644.3 327.6 643.1 327.2 C642 326.7 639.9 325.1 639.5 323.8 C639 322.4 640.3 320.8 640.7 318.9 C641.1 317 641.6 314.4 641.9 312.6 C642.3 310.7 642.3 308.4 642.7 307.7Z" fill="#c4c4c4" stroke="#c4c4c4" stroke-width="2"/>
<path d="M612.9 247.4 L606.3 250.6 L601.4 252.3" fill="none" stroke="#c4c4c4" stroke-width="1.6" stroke-linejoin="round"/>
<path d="M606.3 250.6 L606.5 256.2" fill="none" stroke="#c4c4c4" stroke-width="1.6" stroke-linejoin="round"/>
<path d="M597.7 282.4 C597.3 281.1 599 276.2 600.2 275.2 C601.4 274.1 604.2 274.7 604.7 276.1 C605.2 277.5 604.2 282.4 603.1 283.4 C601.9 284.5 598.2 283.8 597.7 282.4Z" fill="#c4c4c4"/>
<path d="M621.9 308.7 L640.7 308.7 L641.5 318.4 L623.5 316.5Z" fill="#c4c4c4" fill-opacity="0.55"/>
<path d="M616.4 235.4h0.8M614.4 239.2h0.8M618.2 242.9h0.8M619.9 243.3h0.8M612 253h0.8M613.4 257.7h0.8M614 257.9h0.8M613.6 258.9h0.8M616.9 259.3h0.8M614.5 260.1h0.8M621 263.1h0.8M611.4 264.4h0.8M613.5 264.3h0.8M613.7 264.2h0.8M616.6 263.7h0.8M613.4 265.1h0.8M616.3 265.5h0.8M617.7 264.7h0.8M606.3 266.3h0.8M608.9 265.7h0.8M609.1 265.5h0.8M611.8 266.4h0.8M613.7 266.5h0.8M621.8 267.4h0.8M622.1 267h0.8M600.7 268.3h0.8M604.1 267.6h0.8M617.9 268.1h0.8M618.5 268.5h0.8M602.3 269.3h0.8M604 268.7h0.8M604.2 269.2h0.8M606 269.1h0.8M618.3 268.6h0.8M584 270.5h0.8M584.2 270.2h0.8M591.4 269.9h0.8M592.5 270.2h0.8M601.4 270.2h0.8M614.3 270.4h0.8M618.1 269.9h0.8M579.4 271.4h0.8M579.9 270.9h0.8M580.2 271.2h0.8M581.5 270.7h0.8M583 270.7h0.8M583.9 270.7h0.8M584 271.1h0.8M584.4 271.5h0.8M584.5 270.8h0.8M584.6 270.8h0.8M585.6 271.2h0.8M585.9 271h0.8M591.6 271.3h0.8M596.5 271h0.8M599.7 270.8h0.8M604.4 270.6h0.8M608 271.1h0.8M615.2 271.4h0.8M615.9 270.7h0.8M616.3 270.9h0.8M617.7 270.9h0.8M623 270.9h0.8M577.5 271.8h0.8M578.9 272.2h0.8M579.6 271.5h0.8M579.7 271.7h0.8M579.9 271.6h0.8M582.9 272.4h0.8M583.8 272h0.8M584.2 272.1h0.8M587.6 271.8h0.8M589.8 271.9h0.8M591 272.3h0.8M597 271.7h0.8M597.6 271.6h0.8M599.9 272h0.8M601.5 272.5h0.8M608.4 272h0.8M616.6 272.1h0.8M575.1 273.4h0.8M575.5 273.2h0.8M576.2 273.4h0.8M577.1 272.7h0.8M577.1 273.4h0.8M577.4 272.8h0.8M578.2 273.5h0.8M580.7 273.3h0.8M582.1 273.2h0.8M582.2 273.4h0.8M584.1 273.1h0.8M584.4 273h0.8M585.1 272.8h0.8M586.7 273h0.8M586.8 273.4h0.8M586.8 273.4h0.8M593.2 272.6h0.8M593.2 273h0.8M612.8 273h0.8M613.8 273h0.8M623.6 273.3h0.8M573.9 273.9h0.8M574 274.1h0.8M575.4 274.3h0.8M575.7 274.2h0.8M576.6 274.3h0.8M577.5 273.8h0.8M577.8 273.8h0.8M577.8 273.7h0.8M578.6 273.5h0.8M578.9 273.9h0.8M581.7 273.8h0.8M584.5 273.8h0.8M586.1 274h0.8M586.2 274.3h0.8M586.5 273.6h0.8M609.2 273.8h0.8M612.8 273.6h0.8M572.9 275h0.8M573.7 274.9h0.8M574.5 274.7h0.8M575.4 275h0.8M575.8 274.9h0.8M575.8 274.5h0.8M576.4 275h0.8M577.9 275.2h0.8M578 275.1h0.8M579.7 274.9h0.8M579.8 275h0.8M581.1 275.2h0.8M581.1 274.7h0.8M581.9 275h0.8M582.2 275.5h0.8M584 274.7h0.8M584 275.2h0.8M585.2 274.9h0.8M603 274.8h0.8M604.4 275.1h0.8M615.2 275.2h0.8M617.8 275h0.8M572.7 275.6h0.8M574.8 276h0.8M574.9 276h0.8M575.3 275.7h0.8M576.1 275.7h0.8M576.9 276.4h0.8M577.7 275.8h0.8M580.2 275.6h0.8M580.4 275.9h0.8M581.2 276.4h0.8M582.4 276.3h0.8M582.7 276.2h0.8M582.8 276.4h0.8M583.4 275.8h0.8M585.5 275.7h0.8M605.7 275.6h0.8M617.7 276.1h0.8M620.6 275.7h0.8M622.5 275.5h0.8M571.4 277h0.8M571.8 276.5h0.8M572.7 276.7h0.8M574.3 276.6h0.8M574.3 277h0.8M575.2 277.4h0.8M575.3 277.1h0.8M576.1 277.2h0.8M576.4 277.4h0.8M578.6 277.3h0.8M578.8 277.4h0.8M578.9 276.5h0.8M581.3 277.2h0.8M582.3 277.1h0.8M582.5 276.5h0.8M582.5 276.9h0.8M582.8 277h0.8M602.7 276.7h0.8M606 277.3h0.8M572 277.9h0.8M572.8 278.2h0.8M573.5 278h0.8M575.4 278.3h0.8M575.9 278.5h0.8M575.9 278h0.8M576.1 278.2h0.8M577.5 278.3h0.8M578.6 277.5h0.8M579 278.4h0.8M579.1 277.9h0.8M579.3 277.9h0.8M581 278h0.8M581.5 278h0.8M581.7 278.4h0.8M581.8 277.9h0.8M582.4 277.6h0.8M584.1 277.6h0.8M584.2 277.7h0.8M617 278.2h0.8M570.3 279.3h0.8M570.4 279.3h0.8M570.5 279.1h0.8M571 279.3h0.8M571.4 278.9h0.8M571.5 279h0.8M571.7 279h0.8M572.7 279.4h0.8M573.5 278.7h0.8M574.9 279.4h0.8M576 278.9h0.8M579.4 279.2h0.8M580.3 279.1h0.8M580.6 279.2h0.8M581.2 279.1h0.8M581.3 279.1h0.8M581.3 278.8h0.8M581.5 278.7h0.8M582.2 279.2h0.8M582.3 279.1h0.8M583.2 278.8h0.8M583.5 278.7h0.8M602.6 278.8h0.8M609.5 279h0.8M569.4 280.3h0.8M571.8 279.7h0.8M572.5 280.1h0.8M572.7 280h0.8M572.9 280.3h0.8M573.1 280.5h0.8M574.2 279.8h0.8M575.3 279.8h0.8M576 280.1h0.8M577.5 280h0.8M578.1 279.9h0.8M578.2 279.7h0.8M578.9 280.5h0.8M579 279.7h0.8M579.1 280.4h0.8M579.3 279.6h0.8M579.8 280.1h0.8M579.8 279.7h0.8M581.2 280.1h0.8M581.6 279.9h0.8M581.6 279.8h0.8M569 281.3h0.8M569.3 280.6h0.8M570 280.7h0.8M570.2 280.9h0.8M570.8 280.7h0.8M573.4 281.2h0.8M574.5 281h0.8M575.7 280.6h0.8M575.7 281.2h0.8M575.7 281.2h0.8M576.3 280.6h0.8M576.7 280.7h0.8M577.6 281h0.8M577.7 281.3h0.8M577.8 281h0.8M579.7 280.7h0.8M580.5 281.4h0.8M582.7 280.9h0.8M582.8 280.9h0.8M569.1 282h0.8M569.6 281.6h0.8M570.5 281.7h0.8M573.1 281.8h0.8M574.9 281.8h0.8M575 281.6h0.8M575.4 281.8h0.8M575.8 281.5h0.8M576.4 281.6h0.8M579.7 282.2h0.8M580.4 281.7h0.8M580.9 281.5h0.8M582.1 282.1h0.8M569.5 283h0.8M569.6 283.4h0.8M569.7 283.2h0.8M569.9 282.6h0.8M570.3 283.4h0.8M571.4 282.9h0.8M573 282.9h0.8M573 282.9h0.8M574 283.1h0.8M574.8 282.9h0.8M574.8 283.2h0.8M575.1 282.9h0.8M575.4 282.5h0.8M575.8 282.8h0.8M576 283.4h0.8M576.3 283h0.8M576.6 282.5h0.8M576.7 283h0.8M577.3 283.3h0.8M577.5 282.9h0.8M577.8 282.7h0.8M577.9 282.5h0.8M578.1 283.2h0.8M578.6 283h0.8M578.6 283h0.8M580.1 283.1h0.8M581.4 283.4h0.8M582 282.9h0.8M615.5 282.7h0.8M569.7 284.1h0.8M569.8 284.1h0.8M569.9 283.9h0.8M571.3 284.2h0.8M572.7 283.5h0.8M572.7 283.7h0.8M573.3 283.7h0.8M573.6 283.7h0.8M574.1 284.5h0.8M574.6 284.4h0.8M576.5 284h0.8M577.2 284.4h0.8M579.3 284.3h0.8M568.9 285.3h0.8M569 284.8h0.8M569.5 285.5h0.8M572.1 284.6h0.8M574.5 285.2h0.8M575.4 284.8h0.8M575.8 284.7h0.8M575.8 284.6h0.8M576.5 284.8h0.8M576.6 284.9h0.8M578.4 284.8h0.8M579.4 285.2h0.8M579.8 284.8h0.8M581 284.6h0.8M581.4 285.3h0.8M598.1 284.9h0.8M599.2 284.5h0.8M568.4 286.2h0.8M569.1 286h0.8M569.4 285.5h0.8M569.5 286h0.8M570.2 286.1h0.8M570.5 286.2h0.8M573.2 286.1h0.8M574.1 285.9h0.8M575.1 286.4h0.8M577 285.6h0.8M577 286.1h0.8M579.7 285.9h0.8M580.1 286.3h0.8M580.7 285.6h0.8M581.7 285.6h0.8M569.6 287.3h0.8M570.2 287.2h0.8M570.7 286.9h0.8M571.6 287.1h0.8M572.2 287.2h0.8M573.8 287.2h0.8M574.6 286.7h0.8M575.3 287.5h0.8M575.9 287.3h0.8M577.9 286.5h0.8M578.8 287.2h0.8M579.1 286.8h0.8M579.9 286.8h0.8M580 287.3h0.8M581.1 286.7h0.8M568.6 288.3h0.8M569.7 287.9h0.8M570.4 287.6h0.8M574.9 288.3h0.8M575.7 287.9h0.8M575.9 287.6h0.8M576.8 287.8h0.8M577.1 287.8h0.8M577.5 287.6h0.8M578.6 288.1h0.8M579.1 287.5h0.8M580.4 288h0.8M597.4 288.3h0.8M569.1 288.8h0.8M569.6 288.8h0.8M570 289h0.8M570.1 288.9h0.8M571.1 289h0.8M571.8 289h0.8M573.1 289.4h0.8M575.1 289.5h0.8M579.4 289.1h0.8M580.3 289.4h0.8M580.6 289.2h0.8M581 288.5h0.8M581.6 289.1h0.8M597.9 289h0.8M600.2 289.2h0.8M620.8 289.2h0.8M571 290.4h0.8M571.4 290.4h0.8M573.3 289.6h0.8M573.6 290h0.8M573.7 289.6h0.8M573.7 290.4h0.8M574.2 289.5h0.8M574.8 290.5h0.8M576.7 289.7h0.8M576.8 289.6h0.8M577.1 290.3h0.8M578.1 290.5h0.8M580 289.6h0.8M581.7 289.9h0.8M581.8 289.6h0.8M615.4 289.7h0.8M634.8 290.2h0.8M569.7 291.1h0.8M570.5 290.5h0.8M571.6 290.5h0.8M571.8 291.4h0.8M572.7 291h0.8M572.8 291.4h0.8M573 290.9h0.8M573.9 290.7h0.8M575.6 291.3h0.8M576.7 290.7h0.8M577.2 290.6h0.8M579.4 291h0.8M581.4 291.4h0.8M582.2 291.3h0.8M633.2 291h0.8M571.6 291.9h0.8M571.7 292h0.8M573.3 292.3h0.8M574.1 292.3h0.8M575.6 291.7h0.8M578.6 292.5h0.8M580.1 291.9h0.8M581 291.9h0.8M581.9 291.7h0.8M582.5 292.4h0.8M582.8 292.2h0.8M583.1 292.5h0.8M570.9 293.4h0.8M572 293.4h0.8M572.4 293.3h0.8M573.3 293.5h0.8M573.8 293.4h0.8M574.1 293.5h0.8M574.7 292.6h0.8M575.1 292.9h0.8M575.3 292.7h0.8M575.9 292.9h0.8M577.6 292.7h0.8M581.2 293.4h0.8M581.2 292.6h0.8M582 293.3h0.8M621 293.3h0.8M627.7 293h0.8M571.6 293.7h0.8M571.8 293.7h0.8M572 294.2h0.8M572.1 293.9h0.8M572.2 294h0.8M572.5 293.8h0.8M573.1 294.4h0.8M575 294.5h0.8M576.7 293.6h0.8M577.6 294.5h0.8M580.8 294.1h0.8M580.9 293.8h0.8M581.5 294.2h0.8M581.6 294.4h0.8M582 294.2h0.8M582.4 293.7h0.8M582.8 294.1h0.8M583.4 294.1h0.8M583.6 293.5h0.8M639.5 294.4h0.8M573.8 294.9h0.8M575.8 294.6h0.8M578.2 294.5h0.8M578.6 295.4h0.8M578.7 295.1h0.8M578.8 294.6h0.8M578.8 294.9h0.8M580.8 295.2h0.8M581.1 294.7h0.8M582.3 295.5h0.8M582.3 294.9h0.8M583.7 294.8h0.8M584 294.8h0.8M584.1 294.8h0.8M617.7 294.6h0.8M576.9 295.5h0.8M577.9 295.5h0.8M577.9 296h0.8M580.1 296h0.8M582.9 296.1h0.8M584.6 295.9h0.8M584.7 296.3h0.8M609.8 296.5h0.8M633.1 296.2h0.8M574.6 296.6h0.8M576.8 296.9h0.8M577.3 297.1h0.8M578.5 296.5h0.8M579.1 297.5h0.8M580.5 296.6h0.8M581.4 297.2h0.8M582.3 297.4h0.8M582.5 297.3h0.8M582.7 296.6h0.8M584.8 297h0.8M585.1 296.6h0.8M617.6 297.5h0.8M622.1 297h0.8M575.5 297.8h0.8M577.4 297.6h0.8M577.4 298.4h0.8M577.5 297.6h0.8M578.3 297.6h0.8M578.6 298.2h0.8M578.6 298h0.8M578.7 298.4h0.8M580 298h0.8M580.6 298.3h0.8M581 298.2h0.8M581.2 298h0.8M581.6 297.9h0.8M583.5 297.7h0.8M584.4 298.2h0.8M586.4 297.9h0.8M586.4 298.4h0.8M587 297.6h0.8M587.2 297.9h0.8M619 298h0.8M621.9 297.6h0.8M633 297.8h0.8M577.5 298.8h0.8M577.5 298.5h0.8M578.7 298.7h0.8M580 299h0.8M580.2 299.3h0.8M580.2 299.4h0.8M580.6 298.9h0.8M582.6 299.1h0.8M582.8 298.8h0.8M583.1 298.9h0.8M586 299.4h0.8M586.4 299.3h0.8M579.2 299.9h0.8M580.6 300.5h0.8M581 299.6h0.8M581.2 299.6h0.8M581.3 300.3h0.8M581.5 299.9h0.8M581.5 300.1h0.8M584.6 300.4h0.8M584.6 300.1h0.8M585.8 299.7h0.8M610.1 300h0.8M581.4 300.9h0.8M582 301.3h0.8M582.5 300.5h0.8M582.7 301.3h0.8M610.6 303.1h0.8M615.9 302.9h0.8M628.2 303.1h0.8M638.4 303.9h0.8M622.6 309.4h0.8M620.9 313h0.8M641.4 322.2h0.8M645.1 323.8h0.8" stroke="#e06e58" stroke-width="0.8" fill="none"/>
<defs><linearGradient id="cb1" x1="0" y1="0" x2="0" y2="1"><stop offset="0" stop-color="#ee2c18"/><stop offset="1" stop-color="#c6c6c6"/></linearGradient></defs>
<rect x="661.7" y="262.8" width="7.8" height="39.2" fill="url(#cb1)" />
<line x1="661.7" y1="271.8" x2="663.2" y2="271.8" stroke="#fff" stroke-width="0.5"/>
<line x1="668" y1="271.8" x2="669.5" y2="271.8" stroke="#fff" stroke-width="0.5"/>
<text x="672.9" y="274.3" font-size="7" text-anchor="start" fill="#333" font-weight="normal" >3</text>
<line x1="661.7" y1="281.3" x2="663.2" y2="281.3" stroke="#fff" stroke-width="0.5"/>
<line x1="668" y1="281.3" x2="669.5" y2="281.3" stroke="#fff" stroke-width="0.5"/>
<text x="672.9" y="283.8" font-size="7" text-anchor="start" fill="#333" font-weight="normal" >2</text>
<line x1="661.7" y1="291.3" x2="663.2" y2="291.3" stroke="#fff" stroke-width="0.5"/>
<line x1="668" y1="291.3" x2="669.5" y2="291.3" stroke="#fff" stroke-width="0.5"/>
<text x="672.9" y="293.8" font-size="7" text-anchor="start" fill="#333" font-weight="normal" > </text>
<path d="M0.335 0V-0.69H0.262L0.215 -0.628L0.158 -0.578L0.098 -0.545V-0.468L0.168 -0.5L0.245 -0.555V0Z" fill="#333" transform="translate(672.90 293.8) scale(7.00 7)"/>
<line x1="661.7" y1="301" x2="663.2" y2="301" stroke="#fff" stroke-width="0.5"/>
<line x1="668" y1="301" x2="669.5" y2="301" stroke="#fff" stroke-width="0.5"/>
<text x="672.9" y="303.5" font-size="7" text-anchor="start" fill="#333" font-weight="normal" >0</text>
<text x="470" y="381.9" font-size="12" text-anchor="middle" fill="#111" font-weight="normal" font-style="italic"  stroke="#111" stroke-width="0.25">Acta2</text>
<line x1="411.5" y1="391" x2="411.5" y2="498" stroke="#222" stroke-width="0.9"/>
<line x1="411.5" y1="498" x2="504.5" y2="498" stroke="#222" stroke-width="0.9"/>
<line x1="419.6" y1="498" x2="419.6" y2="499.8" stroke="#222" stroke-width="0.6"/>
<text x="419.6" y="506" font-size="6.5" text-anchor="middle" fill="#333" font-weight="normal" >−10</text>
<line x1="439.9" y1="498" x2="439.9" y2="499.8" stroke="#222" stroke-width="0.6"/>
<text x="439.9" y="506" font-size="6.5" text-anchor="middle" fill="#333" font-weight="normal" >−5</text>
<line x1="460.1" y1="498" x2="460.1" y2="499.8" stroke="#222" stroke-width="0.6"/>
<text x="460.1" y="506" font-size="6.5" text-anchor="middle" fill="#333" font-weight="normal" >0</text>
<line x1="480.4" y1="498" x2="480.4" y2="499.8" stroke="#222" stroke-width="0.6"/>
<text x="480.4" y="506" font-size="6.5" text-anchor="middle" fill="#333" font-weight="normal" >5</text>
<line x1="500.6" y1="498" x2="500.6" y2="499.8" stroke="#222" stroke-width="0.6"/>
<text x="500.6" y="506" font-size="6.5" text-anchor="middle" fill="#333" font-weight="normal" >10</text>
<line x1="409.7" y1="400.9" x2="411.5" y2="400.9" stroke="#222" stroke-width="0.6"/>
<text x="409.1" y="403.2" font-size="6.5" text-anchor="end" fill="#333" font-weight="normal" >10</text>
<line x1="409.7" y1="425.2" x2="411.5" y2="425.2" stroke="#222" stroke-width="0.6"/>
<text x="409.1" y="427.6" font-size="6.5" text-anchor="end" fill="#333" font-weight="normal" >5</text>
<line x1="409.7" y1="449.6" x2="411.5" y2="449.6" stroke="#222" stroke-width="0.6"/>
<text x="409.1" y="451.9" font-size="6.5" text-anchor="end" fill="#333" font-weight="normal" >0</text>
<line x1="409.7" y1="474" x2="411.5" y2="474" stroke="#222" stroke-width="0.6"/>
<text x="409.1" y="476.3" font-size="6.5" text-anchor="end" fill="#333" font-weight="normal" >−5</text>
<line x1="409.7" y1="498.3" x2="411.5" y2="498.3" stroke="#222" stroke-width="0.6"/>
<text x="409.1" y="500.6" font-size="6.5" text-anchor="end" fill="#333" font-weight="normal" >−10</text>
<text x="0" y="0" font-size="12.8" text-anchor="middle" fill="#111" stroke="#111" stroke-width="0.25" textLength="50.4" lengthAdjust="spacingAndGlyphs" transform="translate(394.5 445.6) rotate(-90) scale(1 1.12)">UMAP_2</text>
<text x="463.8" y="521.3" font-size="12.3" text-anchor="middle" fill="#111" font-weight="normal"  textLength="50.2" lengthAdjust="spacingAndGlyphs" stroke="#111" stroke-width="0.25">UMAP_ </text>
<path d="M0.335 0V-0.69H0.262L0.215 -0.628L0.158 -0.578L0.098 -0.545V-0.468L0.168 -0.5L0.245 -0.555V0Z" fill="#111" stroke="#111" stroke-width="0.0203" transform="translate(481.92 521.3) scale(12.55 12.3)"/>
<path d="M435 432.4 C433.4 432.2 431.4 432.6 429.7 433.3 C428 434 426.2 434.9 424.7 436.5 C423.1 438 421.1 440.6 420.2 442.6 C419.3 444.7 419 446.8 419.2 448.9 C419.4 451 419.9 453.2 421.2 455.2 C422.6 457.2 425.3 459.3 427.3 460.8 C429.3 462.3 431.8 463.6 433.4 464 C435 464.4 435.9 463.8 436.8 463.2 C437.8 462.7 439.2 461.7 439 460.8 C438.9 459.9 436.7 459 435.8 457.6 C434.9 456.3 433.8 454.4 433.4 452.5 C432.9 450.7 432.8 448.3 433 446.4 C433.2 444.6 433.8 443 434.6 441.3 C435.4 439.7 436.8 437.7 437.6 436.5 C438.4 435.2 439.9 434.7 439.4 434 C439 433.3 436.6 432.5 435 432.4Z" fill="#c4c4c4" stroke="#c4c4c4" stroke-width="2"/>
<path d="M453.7 447.4 C453.7 446.4 453.5 445.3 453.2 444.4 C453 443.6 452.5 442.8 452 442.3 C451.5 441.8 450.8 441.5 450.3 441.5 C449.7 441.5 449 441.8 448.5 442.3 C448 442.8 447.6 443.6 447.3 444.4 C447 445.3 446.8 446.4 446.8 447.4 C446.8 448.3 447 449.4 447.3 450.3 C447.6 451.1 448 451.9 448.5 452.4 C449 452.9 449.7 453.2 450.3 453.2 C450.8 453.2 451.5 452.9 452 452.4 C452.5 451.9 453 451.1 453.2 450.3 C453.5 449.4 453.7 448.3 453.7 447.4Z" fill="#c4c4c4" stroke="#c4c4c4" stroke-width="2"/>
<path d="M439.4 434 C439.4 433.4 438.8 432.1 439.9 431.6 C440.9 431 444.4 431.3 445.5 430.6 C446.7 430 446.3 427.8 446.7 427.7 C447.1 427.6 446.9 429.6 448 430.1 C449 430.6 451.4 431.3 453.2 430.6 C455 429.9 457.6 427.4 458.9 425.7 C460.2 424 460.1 421.8 460.9 420.4 C461.8 419 462.6 417.7 464 417.5 C465.3 417.2 467.6 417.8 469 418.9 C470.5 420.1 471.8 422.4 472.7 424.3 C473.5 426.1 473.5 428.1 473.9 430.1 C474.2 432.1 474.9 434.7 474.7 436.2 C474.5 437.7 474.1 438.5 472.7 438.9 C471.2 439.3 468.2 438.7 466.2 438.4 C464.2 438.1 462.1 436.7 460.7 437.2 C459.4 437.8 459.1 440.7 458.1 441.8 C457.1 442.9 455.7 444 454.8 443.8 C454 443.5 453.6 441.5 452.8 440.3 C452.1 439.2 451.5 437.7 450.4 436.9 C449.2 436.1 447.7 435.7 445.9 435.5 C444.2 435.2 440.9 435.7 439.9 435.5 C438.8 435.2 439.4 434.7 439.4 434Z" fill="#c4c4c4" stroke="#c4c4c4" stroke-width="2"/>
<path d="M461.9 417 C462.4 418.1 464.2 418.1 464.8 417 C465.3 415.8 464.5 411.5 465.2 410.2 C465.8 408.8 467.4 409.6 468.6 408.7 C469.8 407.8 471.9 405.8 472.2 404.8 C472.6 403.8 471 403.8 470.6 402.8 C470.2 401.9 470.2 400 469.8 399 C469.4 397.9 468.9 396.8 468.2 396.8 C467.5 396.7 466.6 398.3 465.4 398.7 C464.1 399.1 462.2 398.6 460.9 399 C459.6 399.3 458.3 400.1 457.7 400.9 C457 401.7 456.6 402.8 457.1 403.8 C457.5 404.9 459.7 406.2 460.5 407.2 C461.3 408.3 461.7 408.5 461.9 410.2 C462.2 411.8 461.4 415.8 461.9 417Z" fill="#c4c4c4" stroke="#c4c4c4" stroke-width="2"/>
<path d="M460.7 437.2 C462.1 436.7 464.2 438.1 466.2 438.4 C468.2 438.7 471.2 438.2 472.7 438.9 C474.1 439.5 473.3 440.3 474.7 442.3 C476.1 444.3 480.2 448.5 481.2 451 C482.1 453.4 480.9 455.1 480.4 456.9 C479.8 458.7 479.6 460.2 477.9 461.8 C476.2 463.4 471.7 465.8 470.2 466.4 C468.7 467.1 470 465.5 469 465.7 C468 465.8 466 467 464.2 467.1 C462.3 467.3 458.8 467.2 457.7 466.4 C456.6 465.6 457.6 463.3 457.7 462.3 C457.8 461.2 457.8 461.2 458.4 460.3 C458.9 459.4 460.7 458.3 460.7 456.9 C460.8 455.5 459.1 453.9 458.9 452 C458.7 450.2 459.7 447.5 459.5 445.8 C459.4 444.1 457.9 443.2 458.1 441.8 C458.3 440.4 459.4 437.8 460.7 437.2Z" fill="#c4c4c4" stroke="#c4c4c4" stroke-width="2"/>
<path d="M481 449.3 C481.1 448.3 480.3 450.4 481.2 451 C482.1 451.5 484.5 451.6 486.4 452.5 C488.3 453.4 490.6 454.7 492.5 456.4 C494.4 458.2 497.3 460.9 497.8 463 C498.2 465.1 496.6 467.7 495.3 469.1 C494.1 470.5 492.3 471 490.5 471.5 C488.7 472 486.2 471.7 484.4 472 C482.6 472.3 481.6 473.6 479.9 473.3 C478.3 473 475.9 471.2 474.3 470.1 C472.7 468.9 469.6 467.8 470.2 466.4 C470.8 465 476.2 463.4 477.9 461.8 C479.6 460.2 479.8 459 480.4 456.9 C480.9 454.8 480.9 450.2 481 449.3Z" fill="#c4c4c4" stroke="#c4c4c4" stroke-width="2"/>
<path d="M467.8 467.1 C469.1 466.8 470.6 467.7 472.2 468.6 C473.9 469.5 477.2 471.2 477.5 472.5 C477.9 473.8 475.5 474.9 474.3 476.4 C473.1 477.8 471.5 480.1 470.2 481.3 C469 482.4 467.7 483.2 466.7 483.2 C465.7 483.2 464.7 482.3 464.2 481.3 C463.6 480.2 463.1 478.7 463.1 476.9 C463.1 475.1 463.4 472.2 464.2 470.5 C464.9 468.9 466.4 467.5 467.8 467.1Z" fill="#c4c4c4" stroke="#c4c4c4" stroke-width="2"/>
<path d="M492.9 470.1 C493.4 469.3 494.5 469.5 494.9 470.5 C495.4 471.6 495.3 474 495.7 476.4 C496.2 478.7 497.6 482.6 497.8 484.7 C497.9 486.8 497.3 488.2 496.6 489 C495.8 489.9 494.5 490 493.3 489.5 C492.2 489 490.1 487.5 489.7 486.1 C489.3 484.7 490.5 483.1 490.9 481.3 C491.3 479.4 491.8 476.8 492.1 474.9 C492.4 473.1 492.4 470.8 492.9 470.1Z" fill="#c4c4c4" stroke="#c4c4c4" stroke-width="2"/>
<path d="M463.3 409.7 L456.9 412.8 L452 414.5" fill="none" stroke="#c4c4c4" stroke-width="1.6" stroke-linejoin="round"/>
<path d="M456.9 412.8 L457.1 418.4" fill="none" stroke="#c4c4c4" stroke-width="1.6" stroke-linejoin="round"/>
<path d="M448.4 444.7 C447.9 443.4 449.6 438.5 450.8 437.4 C451.9 436.4 454.8 437 455.2 438.4 C455.7 439.8 454.8 444.6 453.6 445.7 C452.5 446.8 448.8 446.1 448.4 444.7Z" fill="#c4c4c4"/>
<path d="M472.2 471 L490.9 471 L491.7 480.8 L473.9 478.8Z" fill="#c4c4c4" fill-opacity="0.55"/>
<path d="M461.6 401.2h0.8M461.8 409.8h0.8M464.3 412h0.8M462.3 418.9h0.8M467.8 419.4h0.8M462.1 419.8h0.8M462.9 420.4h0.8M466 421.2h0.8M461.2 421.6h0.8M461.4 421.6h0.8M462.7 422.2h0.8M466.3 421.5h0.8M467.1 422h0.8M467.1 423.3h0.8M470.6 422.7h0.8M466.4 424.3h0.8M471.1 423.9h0.8M461.5 424.7h0.8M467.1 425h0.8M460.4 426.1h0.8M464.9 425.5h0.8M471.5 426.3h0.8M470 427.5h0.8M472.4 426.7h0.8M456.8 427.9h0.8M462.3 427.8h0.8M463.5 428.4h0.8M469 427.6h0.8M459.9 429.1h0.8M461.1 429.2h0.8M468.7 429.4h0.8M469.1 429.4h0.8M472 429h0.8M473.1 428.7h0.8M463.1 430h0.8M467.5 430.4h0.8M445.1 431.1h0.8M467.3 431h0.8M469 431.3h0.8M471.1 430.8h0.8M443.2 431.8h0.8M447 431.8h0.8M447.4 432.4h0.8M451.3 432.2h0.8M452.2 431.6h0.8M454 431.6h0.8M455.3 432.3h0.8M456 432h0.8M465.6 431.6h0.8M436.4 433.4h0.8M445.3 432.9h0.8M445.6 432.6h0.8M453 433.3h0.8M458.5 433.4h0.8M467.4 433.2h0.8M472.3 433h0.8M428.6 434.3h0.8M430.6 433.9h0.8M431.2 433.7h0.8M431.3 434.3h0.8M432.9 433.8h0.8M433.2 433.8h0.8M434.7 433.5h0.8M436.8 434.2h0.8M437.6 433.7h0.8M451.4 434.4h0.8M452 433.8h0.8M461.8 433.9h0.8M464.7 434.3h0.8M427.8 435h0.8M429.1 434.9h0.8M430.4 435.3h0.8M430.4 435.2h0.8M430.9 435.2h0.8M432.4 434.8h0.8M432.5 434.9h0.8M435.9 435.4h0.8M437.2 435h0.8M443.7 435h0.8M456.6 435h0.8M458.1 434.9h0.8M462.4 435.4h0.8M472.4 435.1h0.8M425.3 436h0.8M429 436.2h0.8M430.1 436.4h0.8M430.3 435.9h0.8M431.3 436.2h0.8M431.5 435.7h0.8M433 436.4h0.8M433.2 436.4h0.8M434.5 436.5h0.8M437.1 436h0.8M451.1 435.9h0.8M460.1 435.6h0.8M461.7 436.4h0.8M466.4 436h0.8M469.2 436.4h0.8M472.5 435.8h0.8M426.2 437.5h0.8M430.6 436.9h0.8M434.2 437.2h0.8M434.5 436.5h0.8M435 437.4h0.8M435 437h0.8M436.7 437.3h0.8M449.5 436.6h0.8M450.1 436.7h0.8M470.8 436.8h0.8M471.2 437.3h0.8M423.8 438.4h0.8M425.1 438.1h0.8M425.9 438.4h0.8M430.7 438h0.8M431.3 437.8h0.8M434.4 438.4h0.8M435.3 437.7h0.8M451.9 438.1h0.8M453.5 438.1h0.8M456.8 438.1h0.8M468.8 437.9h0.8M423.6 438.6h0.8M424.7 439.3h0.8M425.7 438.7h0.8M426.8 438.6h0.8M427 439.5h0.8M427.1 439.3h0.8M429.2 438.9h0.8M430.4 438.8h0.8M430.5 438.8h0.8M430.6 439h0.8M431 439.2h0.8M432.4 439h0.8M432.7 438.7h0.8M432.9 439h0.8M434 439.4h0.8M434.2 438.9h0.8M434.9 439.3h0.8M466.1 439.1h0.8M466.4 439.2h0.8M472 438.6h0.8M422.4 440h0.8M422.6 440h0.8M422.7 439.8h0.8M425.7 440.2h0.8M428.4 439.7h0.8M429.4 439.9h0.8M429.7 439.6h0.8M429.8 440.2h0.8M430.6 440.2h0.8M430.9 440.4h0.8M432 440.3h0.8M432.6 440.4h0.8M433.2 440.4h0.8M434.4 439.9h0.8M455 440.4h0.8M455 440.4h0.8M458.3 440h0.8M459 439.7h0.8M423 441.1h0.8M423.6 441.1h0.8M423.6 440.7h0.8M424.2 441.1h0.8M424.2 441.1h0.8M425 441.4h0.8M428.9 440.9h0.8M430 440.7h0.8M431.7 440.7h0.8M433.6 440.9h0.8M433.7 441.4h0.8M420.3 442.5h0.8M421.3 442.5h0.8M422.1 442.3h0.8M422.3 441.5h0.8M422.4 441.9h0.8M422.8 441.8h0.8M423.1 442h0.8M425.2 441.9h0.8M425.5 441.8h0.8M425.9 441.6h0.8M429.5 441.7h0.8M429.8 441.9h0.8M430.1 442.1h0.8M430.2 441.8h0.8M431 441.6h0.8M431.5 442.5h0.8M449.7 441.9h0.8M450.2 442.3h0.8M473.4 441.6h0.8M421 442.6h0.8M422.1 442.6h0.8M422.6 443.3h0.8M422.6 442.6h0.8M425.3 442.8h0.8M425.6 442.7h0.8M425.9 443.1h0.8M425.9 443.5h0.8M428.1 443h0.8M428.5 443h0.8M429.2 443.4h0.8M429.4 443.5h0.8M429.6 443.4h0.8M430.4 442.7h0.8M432.4 443.1h0.8M450.1 443.1h0.8M451.3 443.3h0.8M458.3 442.9h0.8M469.7 443.4h0.8M420.6 443.6h0.8M421.5 443.7h0.8M421.7 443.9h0.8M424.2 444.4h0.8M425.5 444.1h0.8M426.5 444.4h0.8M429.9 443.8h0.8M431.8 444.4h0.8M448.3 444h0.8M422.3 445.3h0.8M423.6 445h0.8M427.1 445.2h0.8M427.3 444.9h0.8M427.5 444.6h0.8M428.4 444.5h0.8M430 444.8h0.8M431.5 444.7h0.8M432.3 445.4h0.8M432.4 445h0.8M447.3 444.8h0.8M448.1 445.3h0.8M462.1 444.5h0.8M419.9 445.6h0.8M420.8 446.3h0.8M421.9 445.5h0.8M422.5 446.3h0.8M423.9 446.1h0.8M426.8 446.5h0.8M428.1 445.9h0.8M429.8 445.7h0.8M431 446.3h0.8M431.1 445.7h0.8M448.6 445.8h0.8M449 446.1h0.8M449.2 445.8h0.8M449.2 445.6h0.8M449.3 445.9h0.8M450.1 446.4h0.8M465.4 445.8h0.8M466.1 445.5h0.8M467.2 445.7h0.8M468.2 445.7h0.8M469.7 446.2h0.8M421.1 447.2h0.8M421.3 446.9h0.8M421.5 446.5h0.8M422.6 447.4h0.8M423.2 447.1h0.8M425.6 447.2h0.8M427.2 447.3h0.8M427.8 446.9h0.8M427.8 446.7h0.8M427.9 447.4h0.8M427.9 446.6h0.8M428.9 446.8h0.8M447.9 446.8h0.8M451.7 446.8h0.8M452.8 447.5h0.8M463.6 447.4h0.8M419.1 447.8h0.8M420.5 447.7h0.8M422.3 447.6h0.8M422.4 447.9h0.8M422.6 448.3h0.8M423.2 448.1h0.8M424 447.7h0.8M424.6 448.2h0.8M426.7 447.5h0.8M426.8 448.4h0.8M428.7 447.6h0.8M429.5 448.1h0.8M430.3 447.7h0.8M431 447.6h0.8M431.4 447.5h0.8M432 448h0.8M432.6 447.7h0.8M447.3 447.9h0.8M450.2 447.8h0.8M450.4 447.7h0.8M452.4 448.1h0.8M469 448.4h0.8M470.9 448h0.8M472 448.2h0.8M475.9 448.5h0.8M422 448.5h0.8M423.5 448.9h0.8M427.4 449.3h0.8M429.4 449.1h0.8M429.5 449.3h0.8M449.9 449.1h0.8M450.8 448.5h0.8M450.8 449.1h0.8M452 449.4h0.8M459.3 449.3h0.8M460 448.9h0.8M460 448.9h0.8M421.5 449.6h0.8M422.1 449.6h0.8M423 449.7h0.8M423.4 449.8h0.8M423.4 450.3h0.8M423.7 450.2h0.8M424.7 450.3h0.8M426.8 450h0.8M426.8 450.3h0.8M427.5 449.9h0.8M428 450.2h0.8M429.1 449.6h0.8M431.7 449.8h0.8M432.8 449.7h0.8M447.7 449.6h0.8M448.1 450.4h0.8M449.6 450.2h0.8M450.9 449.5h0.8M451.3 450.3h0.8M465.4 450.2h0.8M466.3 449.9h0.8M420.3 450.7h0.8M422 450.9h0.8M423.5 450.9h0.8M423.6 451.3h0.8M423.7 450.9h0.8M424.3 451.4h0.8M425.1 450.8h0.8M425.3 451.1h0.8M428.7 451.4h0.8M429.7 451.1h0.8M430.8 450.7h0.8M447.8 451.1h0.8M459.7 450.5h0.8M473.5 450.9h0.8M423.7 451.6h0.8M425.1 451.8h0.8M425.4 451.6h0.8M426.6 452.3h0.8M427.3 451.8h0.8M430.5 451.5h0.8M432.3 451.6h0.8M432.5 452.3h0.8M477.9 452h0.8M421 452.6h0.8M421 452.5h0.8M423.8 452.9h0.8M424.1 452.8h0.8M425.2 453.3h0.8M426 452.8h0.8M430.8 452.6h0.8M432.2 452.9h0.8M450.3 453h0.8M462.1 453.5h0.8M462.7 452.7h0.8M465 452.9h0.8M422.6 453.8h0.8M425 453.9h0.8M425.3 453.9h0.8M425.6 453.9h0.8M425.9 454.2h0.8M427.5 453.7h0.8M429.5 453.6h0.8M430 453.6h0.8M430.9 454.5h0.8M431 454h0.8M432.2 454.5h0.8M432.8 453.9h0.8M467.9 454h0.8M468.3 454.2h0.8M469.5 454h0.8M421.7 454.8h0.8M422.6 455h0.8M423.3 454.8h0.8M423.6 455h0.8M425.4 455.3h0.8M426.3 454.9h0.8M430.7 454.8h0.8M433.2 454.9h0.8M433.5 455.2h0.8M473 454.6h0.8M480 454.8h0.8M422.3 456.4h0.8M423.2 456.1h0.8M424.4 456.2h0.8M426.1 456.1h0.8M426.8 456h0.8M427.1 455.5h0.8M427.5 456.1h0.8M427.7 456.2h0.8M429.3 456.2h0.8M430.1 456.4h0.8M432.6 456.2h0.8M463.7 456h0.8M463.9 455.9h0.8M471.8 456.1h0.8M473.6 456.2h0.8M424.6 457.1h0.8M424.6 457h0.8M425.9 456.7h0.8M427.1 456.6h0.8M428.6 457.2h0.8M429.3 457.2h0.8M429.5 457.4h0.8M430 456.6h0.8M431.5 457.2h0.8M432.7 456.5h0.8M433.3 456.6h0.8M433.9 456.6h0.8M424.5 457.6h0.8M426.3 458.1h0.8M465 458.2h0.8M426.1 458.6h0.8M427 459.1h0.8M428.1 459.2h0.8M429.5 459.1h0.8M430.1 459.1h0.8M431.6 459.4h0.8M432.8 458.9h0.8M435.5 459.2h0.8M435.7 458.9h0.8M484.4 459.4h0.8M427.6 459.9h0.8M427.8 459.8h0.8M430.2 459.6h0.8M434.7 460.5h0.8M435.5 459.8h0.8M436.5 460.1h0.8M464 460.3h0.8M466.5 460.3h0.8M430.3 460.6h0.8M431.3 460.9h0.8M431.5 460.7h0.8M433.6 461.2h0.8M433.9 461h0.8M435.3 461.4h0.8M435.6 460.6h0.8M437.1 460.7h0.8M437.9 461.1h0.8M459.8 461.2h0.8M471.8 460.9h0.8M431.3 462h0.8M431.4 461.8h0.8M431.6 462.3h0.8M431.6 462.1h0.8M433.2 461.8h0.8M434.4 461.9h0.8M436.2 462.2h0.8M461.9 461.6h0.8M432.2 462.9h0.8M433.3 462.6h0.8M435.6 462.9h0.8M436.2 462.5h0.8M462.3 463.5h0.8M467.4 462.7h0.8M478 463.6h0.8M467.2 464.9h0.8M462.3 465.8h0.8M494.3 466.3h0.8M489.2 469h0.8M480.1 469.9h0.8M468.1 471.3h0.8M473.2 474.5h0.8M470.2 476.2h0.8M469.6 479.8h0.8M466.5 480.9h0.8M466.9 482.2h0.8" stroke="#e07a66" stroke-width="0.8" fill="none"/>
<defs><linearGradient id="cb2" x1="0" y1="0" x2="0" y2="1"><stop offset="0" stop-color="#ee2c18"/><stop offset="1" stop-color="#c6c6c6"/></linearGradient></defs>
<rect x="512" y="424.6" width="7.8" height="39" fill="url(#cb2)" />
<line x1="512" y1="425" x2="513.5" y2="425" stroke="#fff" stroke-width="0.5"/>
<line x1="518.3" y1="425" x2="519.8" y2="425" stroke="#fff" stroke-width="0.5"/>
<text x="523.2" y="427.5" font-size="7" text-anchor="start" fill="#333" font-weight="normal" >5</text>
<line x1="512" y1="432.8" x2="513.5" y2="432.8" stroke="#fff" stroke-width="0.5"/>
<line x1="518.3" y1="432.8" x2="519.8" y2="432.8" stroke="#fff" stroke-width="0.5"/>
<text x="523.2" y="435.3" font-size="7" text-anchor="start" fill="#333" font-weight="normal" >4</text>
<line x1="512" y1="440.6" x2="513.5" y2="440.6" stroke="#fff" stroke-width="0.5"/>
<line x1="518.3" y1="440.6" x2="519.8" y2="440.6" stroke="#fff" stroke-width="0.5"/>
<text x="523.2" y="443.1" font-size="7" text-anchor="start" fill="#333" font-weight="normal" >3</text>
<line x1="512" y1="448.4" x2="513.5" y2="448.4" stroke="#fff" stroke-width="0.5"/>
<line x1="518.3" y1="448.4" x2="519.8" y2="448.4" stroke="#fff" stroke-width="0.5"/>
<text x="523.2" y="450.9" font-size="7" text-anchor="start" fill="#333" font-weight="normal" >2</text>
<line x1="512" y1="456.2" x2="513.5" y2="456.2" stroke="#fff" stroke-width="0.5"/>
<line x1="518.3" y1="456.2" x2="519.8" y2="456.2" stroke="#fff" stroke-width="0.5"/>
<text x="523.2" y="458.7" font-size="7" text-anchor="start" fill="#333" font-weight="normal" > </text>
<path d="M0.335 0V-0.69H0.262L0.215 -0.628L0.158 -0.578L0.098 -0.545V-0.468L0.168 -0.5L0.245 -0.555V0Z" fill="#333" transform="translate(523.20 458.7) scale(7.00 7)"/>
<line x1="512" y1="464" x2="513.5" y2="464" stroke="#fff" stroke-width="0.5"/>
<line x1="518.3" y1="464" x2="519.8" y2="464" stroke="#fff" stroke-width="0.5"/>
<text x="523.2" y="466.5" font-size="7" text-anchor="start" fill="#333" font-weight="normal" >0</text>
<text x="614" y="381.9" font-size="12" text-anchor="middle" fill="#111" font-weight="normal" font-style="italic"  stroke="#111" stroke-width="0.25">Mfap4</text>
<line x1="564.7" y1="391" x2="564.7" y2="498" stroke="#222" stroke-width="0.9"/>
<line x1="564.7" y1="498" x2="657.5" y2="498" stroke="#222" stroke-width="0.9"/>
<line x1="572.5" y1="498" x2="572.5" y2="499.8" stroke="#222" stroke-width="0.6"/>
<text x="572.5" y="506" font-size="6.5" text-anchor="middle" fill="#333" font-weight="normal" >−10</text>
<line x1="592.8" y1="498" x2="592.8" y2="499.8" stroke="#222" stroke-width="0.6"/>
<text x="592.8" y="506" font-size="6.5" text-anchor="middle" fill="#333" font-weight="normal" >−5</text>
<line x1="613.1" y1="498" x2="613.1" y2="499.8" stroke="#222" stroke-width="0.6"/>
<text x="613.1" y="506" font-size="6.5" text-anchor="middle" fill="#333" font-weight="normal" >0</text>
<line x1="633.4" y1="498" x2="633.4" y2="499.8" stroke="#222" stroke-width="0.6"/>
<text x="633.4" y="506" font-size="6.5" text-anchor="middle" fill="#333" font-weight="normal" >5</text>
<line x1="653.7" y1="498" x2="653.7" y2="499.8" stroke="#222" stroke-width="0.6"/>
<text x="653.7" y="506" font-size="6.5" text-anchor="middle" fill="#333" font-weight="normal" >10</text>
<line x1="562.9" y1="400.9" x2="564.7" y2="400.9" stroke="#222" stroke-width="0.6"/>
<text x="562.3" y="403.2" font-size="6.5" text-anchor="end" fill="#333" font-weight="normal" >10</text>
<line x1="562.9" y1="425.2" x2="564.7" y2="425.2" stroke="#222" stroke-width="0.6"/>
<text x="562.3" y="427.6" font-size="6.5" text-anchor="end" fill="#333" font-weight="normal" >5</text>
<line x1="562.9" y1="449.6" x2="564.7" y2="449.6" stroke="#222" stroke-width="0.6"/>
<text x="562.3" y="451.9" font-size="6.5" text-anchor="end" fill="#333" font-weight="normal" >0</text>
<line x1="562.9" y1="474" x2="564.7" y2="474" stroke="#222" stroke-width="0.6"/>
<text x="562.3" y="476.3" font-size="6.5" text-anchor="end" fill="#333" font-weight="normal" >−5</text>
<line x1="562.9" y1="498.3" x2="564.7" y2="498.3" stroke="#222" stroke-width="0.6"/>
<text x="562.3" y="500.6" font-size="6.5" text-anchor="end" fill="#333" font-weight="normal" >−10</text>
<text x="0" y="0" font-size="12.8" text-anchor="middle" fill="#111" stroke="#111" stroke-width="0.25" textLength="50.4" lengthAdjust="spacingAndGlyphs" transform="translate(550.2 444.4) rotate(-90) scale(1 1.12)">UMAP_2</text>
<text x="616.5" y="521.3" font-size="12.3" text-anchor="middle" fill="#111" font-weight="normal"  textLength="50.2" lengthAdjust="spacingAndGlyphs" stroke="#111" stroke-width="0.25">UMAP_ </text>
<path d="M0.335 0V-0.69H0.262L0.215 -0.628L0.158 -0.578L0.098 -0.545V-0.468L0.168 -0.5L0.245 -0.555V0Z" fill="#111" stroke="#111" stroke-width="0.0203" transform="translate(634.62 521.3) scale(12.55 12.3)"/>
<path d="M587.9 432.4 C586.3 432.2 584.4 432.6 582.6 433.3 C580.9 434 579.2 434.9 577.6 436.5 C576 438 574 440.6 573.1 442.6 C572.2 444.7 571.9 446.8 572.1 448.9 C572.3 451 572.8 453.2 574.1 455.2 C575.5 457.2 578.2 459.3 580.2 460.8 C582.2 462.3 584.7 463.6 586.3 464 C587.9 464.4 588.8 463.8 589.8 463.2 C590.7 462.7 592.2 461.7 592 460.8 C591.8 459.9 589.7 459 588.7 457.6 C587.8 456.3 586.8 454.4 586.3 452.5 C585.8 450.7 585.7 448.3 585.9 446.4 C586.1 444.6 586.7 443 587.5 441.3 C588.3 439.7 589.8 437.7 590.6 436.5 C591.4 435.2 592.8 434.7 592.4 434 C592 433.3 589.6 432.5 587.9 432.4Z" fill="#c4c4c4" stroke="#c4c4c4" stroke-width="2"/>
<path d="M606.7 447.4 C606.7 446.4 606.5 445.3 606.2 444.4 C605.9 443.6 605.5 442.8 605 442.3 C604.5 441.8 603.8 441.5 603.2 441.5 C602.7 441.5 602 441.8 601.5 442.3 C601 442.8 600.5 443.6 600.2 444.4 C600 445.3 599.8 446.4 599.8 447.4 C599.8 448.3 600 449.4 600.2 450.3 C600.5 451.1 601 451.9 601.5 452.4 C602 452.9 602.7 453.2 603.2 453.2 C603.8 453.2 604.5 452.9 605 452.4 C605.5 451.9 605.9 451.1 606.2 450.3 C606.5 449.4 606.7 448.3 606.7 447.4Z" fill="#c4c4c4" stroke="#c4c4c4" stroke-width="2"/>
<path d="M592.4 434 C592.4 433.4 591.8 432.1 592.8 431.6 C593.8 431 597.3 431.3 598.5 430.6 C599.6 430 599.3 427.8 599.7 427.7 C600.1 427.6 599.8 429.6 600.9 430.1 C602 430.6 604.4 431.3 606.2 430.6 C608 429.9 610.6 427.4 611.9 425.7 C613.2 424 613.1 421.8 613.9 420.4 C614.8 419 615.6 417.7 617 417.5 C618.4 417.2 620.6 417.8 622 418.9 C623.5 420.1 624.9 422.4 625.7 424.3 C626.5 426.1 626.6 428.1 626.9 430.1 C627.2 432.1 627.9 434.7 627.7 436.2 C627.5 437.7 627.1 438.5 625.7 438.9 C624.3 439.3 621.2 438.7 619.2 438.4 C617.2 438.1 615.1 436.7 613.7 437.2 C612.4 437.8 612.1 440.7 611.1 441.8 C610.1 442.9 608.7 444 607.8 443.8 C606.9 443.5 606.5 441.5 605.8 440.3 C605 439.2 604.5 437.7 603.4 436.9 C602.2 436.1 600.6 435.7 598.9 435.5 C597.1 435.2 593.9 435.7 592.8 435.5 C591.7 435.2 592.4 434.7 592.4 434Z" fill="#c4c4c4" stroke="#c4c4c4" stroke-width="2"/>
<path d="M614.9 417 C615.4 418.1 617.2 418.1 617.8 417 C618.3 415.8 617.5 411.5 618.2 410.2 C618.8 408.8 620.4 409.6 621.6 408.7 C622.8 407.8 624.9 405.8 625.3 404.8 C625.6 403.8 624.1 403.8 623.7 402.8 C623.3 401.9 623.2 400 622.8 399 C622.4 397.9 622 396.8 621.2 396.8 C620.5 396.7 619.6 398.3 618.4 398.7 C617.2 399.1 615.2 398.6 613.9 399 C612.6 399.3 611.3 400.1 610.7 400.9 C610 401.7 609.6 402.8 610.1 403.8 C610.5 404.9 612.7 406.2 613.5 407.2 C614.3 408.3 614.7 408.5 614.9 410.2 C615.2 411.8 614.5 415.8 614.9 417Z" fill="#c4c4c4" stroke="#c4c4c4" stroke-width="2"/>
<path d="M613.7 437.2 C615.1 436.7 617.2 438.1 619.2 438.4 C621.2 438.7 624.3 438.2 625.7 438.9 C627.1 439.5 626.3 440.3 627.7 442.3 C629.1 444.3 633.3 448.5 634.2 451 C635.2 453.4 633.9 455.1 633.4 456.9 C632.9 458.7 632.7 460.2 631 461.8 C629.3 463.4 624.7 465.8 623.2 466.4 C621.8 467.1 623 465.5 622 465.7 C621 465.8 619.1 467 617.2 467.1 C615.3 467.3 611.7 467.2 610.7 466.4 C609.6 465.6 610.5 463.3 610.7 462.3 C610.8 461.2 610.8 461.2 611.4 460.3 C611.9 459.4 613.7 458.3 613.7 456.9 C613.8 455.5 612.1 453.9 611.9 452 C611.7 450.2 612.7 447.5 612.5 445.8 C612.4 444.1 610.9 443.2 611.1 441.8 C611.3 440.4 612.4 437.8 613.7 437.2Z" fill="#c4c4c4" stroke="#c4c4c4" stroke-width="2"/>
<path d="M634 449.3 C634.2 448.3 633.3 450.4 634.2 451 C635.1 451.5 637.6 451.6 639.5 452.5 C641.4 453.4 643.7 454.7 645.6 456.4 C647.5 458.2 650.4 460.9 650.9 463 C651.3 465.1 649.6 467.7 648.4 469.1 C647.2 470.5 645.4 471 643.6 471.5 C641.7 472 639.2 471.7 637.5 472 C635.7 472.3 634.7 473.6 633 473.3 C631.3 473 628.9 471.2 627.3 470.1 C625.7 468.9 622.6 467.8 623.2 466.4 C623.9 465 629.3 463.4 631 461.8 C632.7 460.2 632.9 459 633.4 456.9 C633.9 454.8 633.9 450.2 634 449.3Z" fill="#c4c4c4" stroke="#c4c4c4" stroke-width="2"/>
<path d="M620.8 467.1 C622.2 466.8 623.7 467.7 625.3 468.6 C626.9 469.5 630.2 471.2 630.6 472.5 C630.9 473.8 628.5 474.9 627.3 476.4 C626.1 477.8 624.5 480.1 623.2 481.3 C622 482.4 620.7 483.2 619.7 483.2 C618.7 483.2 617.8 482.3 617.2 481.3 C616.6 480.2 616.1 478.7 616.1 476.9 C616.1 475.1 616.4 472.2 617.2 470.5 C617.9 468.9 619.5 467.5 620.8 467.1Z" fill="#c4c4c4" stroke="#c4c4c4" stroke-width="2"/>
<path d="M646 470.1 C646.5 469.3 647.5 469.5 648 470.5 C648.5 471.6 648.4 474 648.8 476.4 C649.3 478.7 650.7 482.6 650.9 484.7 C651 486.8 650.4 488.2 649.6 489 C648.9 489.9 647.5 490 646.4 489.5 C645.2 489 643.1 487.5 642.7 486.1 C642.3 484.7 643.6 483.1 644 481.3 C644.4 479.4 644.8 476.8 645.2 474.9 C645.5 473.1 645.5 470.8 646 470.1Z" fill="#c4c4c4" stroke="#c4c4c4" stroke-width="2"/>
<path d="M616.3 409.7 L609.9 412.8 L605 414.5" fill="none" stroke="#c4c4c4" stroke-width="1.6" stroke-linejoin="round"/>
<path d="M609.9 412.8 L610.1 418.4" fill="none" stroke="#c4c4c4" stroke-width="1.6" stroke-linejoin="round"/>
<path d="M601.3 444.7 C600.9 443.4 602.6 438.5 603.8 437.4 C604.9 436.4 607.8 437 608.2 438.4 C608.7 439.8 607.8 444.6 606.6 445.7 C605.5 446.8 601.8 446.1 601.3 444.7Z" fill="#c4c4c4"/>
<path d="M625.3 471 L644 471 L644.8 480.8 L626.9 478.8Z" fill="#c4c4c4" fill-opacity="0.55"/>
<path d="M614.7 399.1h0.8M614.9 399.7h0.8M611.5 402.5h0.8M620.9 403.1h0.8M617.5 413.4h0.8M620.3 422.4h0.8M620.8 422.7h0.8M620.9 423.3h0.8M613.7 424.7h0.8M611.3 426.9h0.8M612.6 426.7h0.8M625.3 427.3h0.8M612.5 428h0.8M617.6 429.3h0.8M618.7 429.9h0.8M603.8 431.1h0.8M583.2 433.1h0.8M584.6 433.2h0.8M586.5 433.5h0.8M587.1 433.4h0.8M588.8 433.2h0.8M592.6 433.3h0.8M593.1 432.8h0.8M605.3 433.1h0.8M605.3 432.9h0.8M606.8 432.9h0.8M609.8 432.9h0.8M613.4 432.6h0.8M613.8 433.5h0.8M615.2 432.6h0.8M615.4 433h0.8M617.9 433h0.8M619.8 432.6h0.8M625.4 432.9h0.8M582.3 433.7h0.8M582.5 433.7h0.8M583 433.9h0.8M584 433.6h0.8M584 433.9h0.8M584.2 434.4h0.8M584.9 434h0.8M585.1 433.8h0.8M585.1 434.2h0.8M585.6 434.4h0.8M588 433.9h0.8M588.2 434.4h0.8M588.3 433.9h0.8M590.1 433.9h0.8M590.9 433.6h0.8M591 434.3h0.8M596.3 434h0.8M597.6 433.6h0.8M597.8 434.5h0.8M597.9 433.6h0.8M601.6 434h0.8M604.4 433.7h0.8M613 433.6h0.8M613.3 433.5h0.8M620.6 434.2h0.8M621.7 434.3h0.8M621.9 434h0.8M623.5 434.3h0.8M626.3 433.5h0.8M626.5 433.6h0.8M626.5 433.6h0.8M581.4 435.4h0.8M581.9 435h0.8M582.2 435.3h0.8M583.1 435.1h0.8M583.6 434.6h0.8M585.3 435.3h0.8M585.6 435.4h0.8M587.4 435.2h0.8M590 434.6h0.8M595.4 435.2h0.8M595.4 434.8h0.8M597.6 435.2h0.8M598.2 435h0.8M602.3 434.8h0.8M602.3 434.6h0.8M603.4 435.4h0.8M609.1 435.1h0.8M612.1 435.3h0.8M612.1 434.8h0.8M620.4 434.8h0.8M623.3 434.8h0.8M578.6 435.8h0.8M579.4 435.6h0.8M580.5 436.2h0.8M580.6 435.9h0.8M580.7 435.8h0.8M580.8 435.8h0.8M582.3 436.3h0.8M584 435.8h0.8M586.3 436.3h0.8M586.4 436.5h0.8M586.4 435.8h0.8M586.9 435.7h0.8M587.4 436h0.8M589.7 436.4h0.8M589.7 435.8h0.8M590 436.2h0.8M603.1 436.4h0.8M606.1 436.2h0.8M607.5 436.4h0.8M608.1 436h0.8M611.8 435.6h0.8M617.4 436.5h0.8M619.3 435.6h0.8M619.3 436h0.8M622.7 436.4h0.8M625.4 436h0.8M576.7 437.5h0.8M578.3 437.3h0.8M578.4 437.5h0.8M578.6 437.3h0.8M579.2 436.6h0.8M580.2 436.6h0.8M580.5 436.9h0.8M581.3 436.6h0.8M582.6 436.5h0.8M583.3 437.4h0.8M583.9 437h0.8M584.7 437.4h0.8M585 436.9h0.8M585.6 436.8h0.8M585.6 437.4h0.8M586.4 436.5h0.8M586.6 437.1h0.8M586.7 437h0.8M586.8 436.6h0.8M588.1 436.5h0.8M589 436.9h0.8M589 437.3h0.8M589.2 437h0.8M589.3 437.3h0.8M604.2 437.2h0.8M606.1 437h0.8M611.8 436.6h0.8M621.9 436.8h0.8M622.8 437.3h0.8M624 436.5h0.8M625.1 437h0.8M625.7 437.1h0.8M626.2 437.5h0.8M577.7 438.4h0.8M579 437.6h0.8M580.9 438.4h0.8M581.5 437.6h0.8M582.9 438.3h0.8M583.5 438.2h0.8M584 437.7h0.8M584 438.2h0.8M584.1 438.1h0.8M585 438.4h0.8M586.2 438.5h0.8M588 438.4h0.8M588.7 438.1h0.8M605.7 438.4h0.8M609.4 437.6h0.8M622.3 437.9h0.8M623 438.1h0.8M625.8 437.8h0.8M575.1 439.4h0.8M579 439.5h0.8M579.9 439h0.8M579.9 439.2h0.8M580.3 438.8h0.8M581.1 439h0.8M582.3 439.2h0.8M582.7 439.4h0.8M583.7 438.8h0.8M583.9 438.7h0.8M584.5 438.8h0.8M585.1 438.7h0.8M585.6 438.9h0.8M606 438.8h0.8M606.1 439.1h0.8M606.2 438.8h0.8M606.4 439.4h0.8M608.6 439h0.8M611.1 439.2h0.8M611.8 439.3h0.8M612 439.2h0.8M576.9 440h0.8M577.8 440h0.8M578.3 440.2h0.8M578.8 439.7h0.8M579.4 439.9h0.8M580 439.8h0.8M581.6 439.7h0.8M582 440.4h0.8M582.8 439.8h0.8M583.2 439.7h0.8M584 440.3h0.8M585.1 439.7h0.8M585.2 439.9h0.8M586.1 439.7h0.8M586.5 439.8h0.8M586.9 439.9h0.8M587.1 440.1h0.8M587.7 439.9h0.8M607.6 440.3h0.8M607.6 439.6h0.8M608.4 440.4h0.8M609.2 440.3h0.8M616.4 439.6h0.8M574.9 441.2h0.8M575.2 440.9h0.8M575.9 441.2h0.8M576.5 440.6h0.8M577.7 440.9h0.8M578.6 441.1h0.8M579.5 440.6h0.8M579.5 441.3h0.8M579.6 441h0.8M581.4 441.4h0.8M581.5 441.5h0.8M583.3 441.5h0.8M585.8 440.9h0.8M587.4 440.7h0.8M607.1 441.3h0.8M607.2 441.3h0.8M608.3 441.1h0.8M608.8 440.5h0.8M608.8 441h0.8M611.8 441h0.8M573.6 441.8h0.8M574.7 441.7h0.8M575.6 442.3h0.8M578.4 442.2h0.8M578.7 442.5h0.8M579.9 441.9h0.8M581.9 442.3h0.8M583.4 441.7h0.8M585.4 442.1h0.8M602.3 441.9h0.8M608.8 442.1h0.8M611.1 441.6h0.8M616.5 441.5h0.8M572.9 443.2h0.8M572.9 442.5h0.8M573.5 443.1h0.8M573.9 443.4h0.8M574.2 443h0.8M574.4 442.8h0.8M575.4 442.9h0.8M576.4 442.8h0.8M577.2 442.5h0.8M577.4 442.6h0.8M578.3 443.2h0.8M579.2 443.1h0.8M580.7 443.4h0.8M584.1 443.1h0.8M585.1 442.6h0.8M585.7 443.4h0.8M586.6 442.6h0.8M601.4 443.4h0.8M603.9 442.5h0.8M608.5 442.6h0.8M608.5 443.1h0.8M614.1 443.3h0.8M575.4 444.3h0.8M576.4 443.7h0.8M578.6 444.3h0.8M578.7 444.5h0.8M581.2 444.3h0.8M581.4 443.8h0.8M581.5 444.4h0.8M581.9 444.2h0.8M582.4 443.6h0.8M582.9 444.3h0.8M583.6 444h0.8M584.3 443.8h0.8M584.3 443.8h0.8M584.6 443.5h0.8M584.7 443.7h0.8M584.8 443.9h0.8M585.2 444h0.8M585.3 444.1h0.8M585.5 444.4h0.8M585.8 443.6h0.8M585.9 443.5h0.8M586.3 443.9h0.8M601.7 443.6h0.8M602 444.2h0.8M607.7 443.5h0.8M614.4 444.3h0.8M624.4 444.5h0.8M574 445h0.8M574.2 445h0.8M575.8 444.5h0.8M575.9 444.9h0.8M577.3 444.8h0.8M577.6 444.7h0.8M578.4 444.6h0.8M578.5 444.6h0.8M578.8 444.8h0.8M579.3 445.2h0.8M579.7 444.8h0.8M579.9 445.2h0.8M580.7 444.6h0.8M581 445h0.8M582.3 444.7h0.8M583 444.6h0.8M584.1 444.6h0.8M584.4 445.4h0.8M585 445.1h0.8M585.2 445h0.8M599.8 445.3h0.8M601.6 445.1h0.8M604.1 444.8h0.8M604.7 445.1h0.8M604.8 445.3h0.8M604.9 444.6h0.8M605.1 445.3h0.8M613.1 445.4h0.8M617.6 445h0.8M624.3 444.5h0.8M573 446.2h0.8M573.2 445.9h0.8M573.9 445.6h0.8M573.9 446h0.8M575 446.2h0.8M575.1 445.7h0.8M575.2 446.1h0.8M576 445.9h0.8M576.5 446h0.8M576.5 446.4h0.8M578.1 446.4h0.8M582.9 445.6h0.8M583.1 446.4h0.8M584.4 446.4h0.8M584.6 445.8h0.8M584.8 445.7h0.8M599.8 446.5h0.8M601.3 445.8h0.8M601.3 446.2h0.8M605.3 446.1h0.8M572.4 447.2h0.8M572.4 446.5h0.8M572.4 447.2h0.8M572.8 446.9h0.8M574.4 446.6h0.8M575 447.5h0.8M575.6 447.4h0.8M577.5 447.2h0.8M577.5 446.5h0.8M577.6 447h0.8M578.8 446.9h0.8M578.8 446.6h0.8M579.7 447.1h0.8M580.7 446.8h0.8M582.1 447.1h0.8M582.5 446.8h0.8M582.9 447.1h0.8M584.3 446.5h0.8M585 447h0.8M600.5 446.8h0.8M601.8 446.6h0.8M603.7 447.1h0.8M612.3 447.4h0.8M613.8 447h0.8M618 447.3h0.8M619.2 446.8h0.8M573.8 448.5h0.8M573.9 447.7h0.8M574.2 448.3h0.8M574.5 447.5h0.8M575.4 448.4h0.8M576.1 447.7h0.8M578 447.6h0.8M579 448h0.8M579.9 447.8h0.8M580.3 448h0.8M580.6 448.4h0.8M580.9 447.7h0.8M581.3 448.3h0.8M583.2 447.7h0.8M584.1 447.6h0.8M599.6 448.4h0.8M600.9 448.1h0.8M601.2 447.8h0.8M602.4 448.4h0.8M602.6 448h0.8M602.7 447.7h0.8M602.9 447.9h0.8M603.5 448.4h0.8M604.1 447.5h0.8M604.6 448.3h0.8M605.5 447.8h0.8M605.5 447.7h0.8M612.5 448.3h0.8M616.6 448.1h0.8M624.7 447.8h0.8M572.1 448.6h0.8M572.7 448.7h0.8M573.4 449.5h0.8M574.6 448.8h0.8M575.4 448.5h0.8M575.7 448.7h0.8M575.7 449.3h0.8M575.9 448.7h0.8M576.1 449.1h0.8M576.6 449.3h0.8M577.3 448.6h0.8M577.4 449.1h0.8M578.1 449.2h0.8M578.7 448.5h0.8M579.3 449h0.8M579.9 449.3h0.8M580.8 448.6h0.8M581.4 449.4h0.8M583.1 449.3h0.8M584.3 448.5h0.8M585.3 448.8h0.8M585.6 449.2h0.8M601.2 449.2h0.8M605.8 449.1h0.8M606 448.7h0.8M611.8 449.5h0.8M612.6 448.8h0.8M615.1 448.9h0.8M616.8 449h0.8M572.5 450h0.8M572.9 450.2h0.8M573 449.7h0.8M573.1 450h0.8M573.5 449.9h0.8M573.8 449.9h0.8M573.9 450.4h0.8M574.7 450.1h0.8M574.9 450.2h0.8M576 450h0.8M577.2 450h0.8M579.7 450.2h0.8M579.9 450h0.8M582.4 450.3h0.8M582.4 450.2h0.8M582.5 449.7h0.8M583.5 450h0.8M585 449.9h0.8M585.4 449.6h0.8M599.8 449.6h0.8M600.1 449.9h0.8M600.4 450h0.8M602.4 450h0.8M603.2 449.8h0.8M603.4 450.4h0.8M605.2 450.4h0.8M605.5 449.7h0.8M612.4 450.3h0.8M614.3 449.7h0.8M627.5 450.3h0.8M572.4 450.7h0.8M573 451.5h0.8M574.2 451.3h0.8M575.3 450.8h0.8M576.4 451h0.8M576.5 451.4h0.8M576.9 451.5h0.8M578.7 451.2h0.8M580.3 451.2h0.8M581 451.2h0.8M583.1 451h0.8M584.2 450.9h0.8M584.4 450.9h0.8M584.5 450.9h0.8M585.7 451.3h0.8M600.7 450.9h0.8M601.8 450.7h0.8M605 450.5h0.8M605.1 451h0.8M618 450.8h0.8M620.9 450.8h0.8M573.8 451.7h0.8M574 451.9h0.8M574.7 451.9h0.8M575.9 451.8h0.8M576.1 451.7h0.8M576.1 451.8h0.8M576.5 451.6h0.8M576.8 452.3h0.8M577.7 452h0.8M578.1 452.1h0.8M578.8 451.7h0.8M579.3 451.8h0.8M580.1 451.6h0.8M581 451.5h0.8M581.3 452h0.8M581.5 451.6h0.8M581.6 451.9h0.8M581.9 452h0.8M582 451.7h0.8M583.1 452.2h0.8M583.5 452h0.8M583.6 452.3h0.8M583.9 452.1h0.8M584.1 452.2h0.8M584.3 452.4h0.8M584.4 451.8h0.8M585.2 451.7h0.8M601.3 451.6h0.8M601.9 451.7h0.8M602.9 452.1h0.8M603 452.1h0.8M603.5 452.2h0.8M612.1 452.5h0.8M614 452.3h0.8M616.6 451.7h0.8M618.2 452.2h0.8M635.3 451.5h0.8M573.3 453.4h0.8M574.5 453.1h0.8M575.6 453.2h0.8M576.9 452.9h0.8M577.7 453.4h0.8M578.2 453.3h0.8M579 452.7h0.8M579.2 452.7h0.8M581.4 452.9h0.8M582 453h0.8M582.1 453.1h0.8M583.1 453.1h0.8M584 452.5h0.8M585.7 452.8h0.8M602.9 452.8h0.8M615.9 453.5h0.8M618.4 453.5h0.8M622.8 452.6h0.8M623.3 453.3h0.8M625.3 453.3h0.8M632.2 453.3h0.8M637.9 452.9h0.8M574.4 454.2h0.8M575.3 453.8h0.8M576.1 454.5h0.8M576.5 454.2h0.8M576.8 454.3h0.8M577.4 453.8h0.8M578 454.2h0.8M578.3 453.6h0.8M578.5 454.2h0.8M579.4 454.5h0.8M580.3 453.6h0.8M580.6 453.6h0.8M580.9 454.1h0.8M581.8 453.6h0.8M581.8 454.1h0.8M583.6 454.2h0.8M585.1 454.3h0.8M585.2 453.9h0.8M585.9 453.7h0.8M614.4 453.6h0.8M575.3 454.8h0.8M575.7 455.2h0.8M578.9 454.9h0.8M579.3 455.2h0.8M579.4 455.4h0.8M580.1 455.2h0.8M580.2 454.6h0.8M583 455.2h0.8M586 455.1h0.8M586.2 455.2h0.8M586.5 454.8h0.8M616.4 455.3h0.8M618.4 454.6h0.8M625.9 455h0.8M578.9 456.4h0.8M581.9 456.1h0.8M582 455.7h0.8M582.2 455.5h0.8M585.1 455.7h0.8M587 456.2h0.8M613.1 455.7h0.8M617 456.4h0.8M633.7 455.9h0.8M637.5 456.5h0.8M576.2 456.7h0.8M578.8 457.2h0.8M580.6 456.7h0.8M581.2 457.5h0.8M582.1 456.7h0.8M582.7 457.1h0.8M582.8 457.1h0.8M583.3 456.8h0.8M584.2 456.9h0.8M585.1 457h0.8M587.9 457.2h0.8M616.1 457.2h0.8M635.6 457.4h0.8M577.1 458.2h0.8M577.7 457.8h0.8M578.2 458.3h0.8M579 457.6h0.8M580.3 457.9h0.8M580.5 458.1h0.8M580.7 458.2h0.8M581.9 457.7h0.8M583.5 457.9h0.8M585 458.5h0.8M585.6 457.6h0.8M587.7 457.8h0.8M588.2 458.3h0.8M614.3 457.9h0.8M623.1 458.4h0.8M578 459h0.8M579.6 459.1h0.8M580.6 459.3h0.8M580.9 459.4h0.8M583.1 458.7h0.8M583.4 459.2h0.8M584.4 459.1h0.8M584.5 459.2h0.8M584.5 459.4h0.8M584.7 459.3h0.8M586.1 459.1h0.8M586.2 459.4h0.8M586.3 459.1h0.8M586.5 459.3h0.8M587.8 458.8h0.8M588.6 459h0.8M589.3 459.4h0.8M589.7 459.3h0.8M624 458.9h0.8M581 460h0.8M581.1 460.2h0.8M581.2 459.6h0.8M581.5 460.2h0.8M582 460.1h0.8M582.9 459.8h0.8M584.2 459.9h0.8M584.4 459.9h0.8M585 460h0.8M587.4 459.7h0.8M589.5 460.2h0.8M590 460.2h0.8M611.4 460.3h0.8M636.6 459.8h0.8M647.1 459.7h0.8M583.1 460.9h0.8M583.4 460.8h0.8M587.3 461.3h0.8M587.4 460.6h0.8M587.9 461.3h0.8M588.4 461.2h0.8M589.7 460.6h0.8M590.7 460.8h0.8M611 461.4h0.8M612.6 460.7h0.8M616.6 460.7h0.8M620.3 460.7h0.8M630.9 461.4h0.8M585.9 462h0.8M586.1 461.6h0.8M586.3 461.7h0.8M587.1 462.2h0.8M588.7 462.4h0.8M589.3 462.3h0.8M589.4 461.8h0.8M589.5 462.4h0.8M590.3 462h0.8M610.9 462h0.8M614.7 461.6h0.8M635.8 461.6h0.8M649.4 462.1h0.8M584.5 463h0.8M584.8 462.6h0.8M584.9 462.9h0.8M585.4 462.8h0.8M587.7 462.8h0.8M588 462.6h0.8M588.4 462.9h0.8M588.5 463.4h0.8M589 463.3h0.8M611 463h0.8M615 462.6h0.8M622.5 462.8h0.8M613.2 464.1h0.8M614.7 464.2h0.8M617.3 464.3h0.8M624.2 463.9h0.8M641.6 464.4h0.8M645.2 464h0.8M613.7 465h0.8M617.8 465h0.8M642.9 464.6h0.8M616.6 466.1h0.8M616.4 466.9h0.8M636.6 467.2h0.8M646.8 469.4h0.8M642.4 469.6h0.8M621.7 470.8h0.8M626.2 472.9h0.8M618.4 474.2h0.8M646.5 473.6h0.8M646.6 475.3h0.8M616.5 476.2h0.8M644.2 478.6h0.8M643.8 480.5h0.8M646.3 485.5h0.8M650.3 484.8h0.8M644.6 485.6h0.8M645.2 486.2h0.8M646 486.4h0.8M647.1 486.2h0.8M647.4 487.1h0.8M648.7 488.4h0.8" stroke="#e63a20" stroke-width="0.8" fill="none"/>
<defs><linearGradient id="cb3" x1="0" y1="0" x2="0" y2="1"><stop offset="0" stop-color="#ee2c18"/><stop offset="0.45" stop-color="#d98a7e"/><stop offset="0.6" stop-color="#c6c6c6"/><stop offset="1" stop-color="#c4c4c4"/></linearGradient></defs>
<rect x="664.7" y="424.6" width="7.8" height="39" fill="url(#cb3)" />
<line x1="664.7" y1="425" x2="666.2" y2="425" stroke="#fff" stroke-width="0.5"/>
<line x1="671" y1="425" x2="672.5" y2="425" stroke="#fff" stroke-width="0.5"/>
<text x="675.9" y="427.5" font-size="7" text-anchor="start" fill="#333" font-weight="normal" >4</text>
<line x1="664.7" y1="434.8" x2="666.2" y2="434.8" stroke="#fff" stroke-width="0.5"/>
<line x1="671" y1="434.8" x2="672.5" y2="434.8" stroke="#fff" stroke-width="0.5"/>
<text x="675.9" y="437.2" font-size="7" text-anchor="start" fill="#333" font-weight="normal" >3</text>
<line x1="664.7" y1="444.5" x2="666.2" y2="444.5" stroke="#fff" stroke-width="0.5"/>
<line x1="671" y1="444.5" x2="672.5" y2="444.5" stroke="#fff" stroke-width="0.5"/>
<text x="675.9" y="447" font-size="7" text-anchor="start" fill="#333" font-weight="normal" >2</text>
<line x1="664.7" y1="454.2" x2="666.2" y2="454.2" stroke="#fff" stroke-width="0.5"/>
<line x1="671" y1="454.2" x2="672.5" y2="454.2" stroke="#fff" stroke-width="0.5"/>
<text x="675.9" y="456.8" font-size="7" text-anchor="start" fill="#333" font-weight="normal" > </text>
<path d="M0.335 0V-0.69H0.262L0.215 -0.628L0.158 -0.578L0.098 -0.545V-0.468L0.168 -0.5L0.245 -0.555V0Z" fill="#333" transform="translate(675.90 456.8) scale(7.00 7)"/>
<line x1="664.7" y1="464" x2="666.2" y2="464" stroke="#fff" stroke-width="0.5"/>
<line x1="671" y1="464" x2="672.5" y2="464" stroke="#fff" stroke-width="0.5"/>
<text x="675.9" y="466.5" font-size="7" text-anchor="start" fill="#333" font-weight="normal" >0</text>
<text x="86.7" y="533.2" font-size="12.4" text-anchor="start" fill="#111" font-weight="normal" font-style="italic"  textLength="159" lengthAdjust="spacingAndGlyphs" stroke="#111" stroke-width="0.25">The tendon of wildtype mice</text>
<text x="282.3" y="533.2" font-size="12.4" font-style="italic" fill="#111" textLength="148.7" lengthAdjust="spacingAndGlyphs">The tendon of <tspan>Fgf7</tspan><tspan font-size="6.5" dy="-4.5">-/-</tspan><tspan dy="4.5"> mice</tspan></text>
<text x="255.3" y="564.2" font-size="12.3" text-anchor="middle" fill="#111" font-weight="normal" font-style="italic"  stroke="#111" stroke-width="0.25">VS</text>
<g transform="translate(130.3 538.5) scale(1.0)" stroke="#333" stroke-width="0.7" stroke-linejoin="round"><path d="M7 11.5 C9 10.5 11 9.5 12.5 7.5 C14 5.5 15.5 5.2 17.5 5.5 C19.5 6 21 7.3 22.5 9.5" fill="none" stroke-width="1.6"/><path d="M7 11.5 C9 10.5 11 9.5 12.5 7.5 C14 5.5 15.5 5.2 17.5 5.5 C19.5 6 21 7.3 22.5 9.5" fill="none" stroke="#aaa" stroke-width="0.6" stroke-dasharray="0.6 0.6"/><path d="M21 9.8 C18 9.8 15.5 12.5 15.2 16 C15 18 15.8 19.5 14.8 21.5 C14.3 24 15.5 26 17.5 28 C19 30 20.5 32 21.3 33.5 C22 35 23 35.3 24 33.5 C25 32 26.5 30 28 28 C30 26 31.5 24 31 21.5 C30.3 19.5 29.8 18 29.5 16 C29.2 12.5 24 9.8 21 9.8Z" fill="#dcdcdc"/><path d="M15.3 19.5 C17 18 19.5 18.2 20.5 20.5 M25.5 20.5 C26.5 18.2 29 18 30.3 19.5" fill="none"/><ellipse cx="20.4" cy="28.6" rx="0.6" ry="1" fill="#111" stroke="none"/><ellipse cx="25.3" cy="28.6" rx="0.6" ry="1" fill="#111" stroke="none"/><circle cx="22.8" cy="33.3" r="0.7" fill="#111" stroke="none"/><path d="M21 31 L16.5 31.5 M21 32 L17 34.5 M21.5 32.5 L19 35.8 M24.5 31 L29 31.5 M24.5 32 L28.5 34.5 M24 32.5 L26.5 35.8" fill="none" stroke-width="0.45"/></g>
<g transform="translate(339.2 541.5) scale(1.0)" stroke="#333" stroke-width="0.7" stroke-linejoin="round"><path d="M7 11.5 C9 10.5 11 9.5 12.5 7.5 C14 5.5 15.5 5.2 17.5 5.5 C19.5 6 21 7.3 22.5 9.5" fill="none" stroke-width="1.6"/><path d="M7 11.5 C9 10.5 11 9.5 12.5 7.5 C14 5.5 15.5 5.2 17.5 5.5 C19.5 6 21 7.3 22.5 9.5" fill="none" stroke="#aaa" stroke-width="0.6" stroke-dasharray="0.6 0.6"/><path d="M21 9.8 C18 9.8 15.5 12.5 15.2 16 C15 18 15.8 19.5 14.8 21.5 C14.3 24 15.5 26 17.5 28 C19 30 20.5 32 21.3 33.5 C22 35 23 35.3 24 33.5 C25 32 26.5 30 28 28 C30 26 31.5 24 31 21.5 C30.3 19.5 29.8 18 29.5 16 C29.2 12.5 24 9.8 21 9.8Z" fill="#dcdcdc"/><path d="M15.3 19.5 C17 18 19.5 18.2 20.5 20.5 M25.5 20.5 C26.5 18.2 29 18 30.3 19.5" fill="none"/><ellipse cx="20.4" cy="28.6" rx="0.6" ry="1" fill="#111" stroke="none"/><ellipse cx="25.3" cy="28.6" rx="0.6" ry="1" fill="#111" stroke="none"/><circle cx="22.8" cy="33.3" r="0.7" fill="#111" stroke="none"/><path d="M21 31 L16.5 31.5 M21 32 L17 34.5 M21.5 32.5 L19 35.8 M24.5 31 L29 31.5 M24.5 32 L28.5 34.5 M24 32.5 L26.5 35.8" fill="none" stroke-width="0.45"/></g>
<text x="61.8" y="593" font-size="12.7" text-anchor="middle" fill="#111" font-weight="normal"  stroke="#111" stroke-width="0.25">20x</text>
<text x="139.6" y="593" font-size="12.7" text-anchor="middle" fill="#3b4fd0" font-weight="normal"  stroke="#3b4fd0" stroke-width="0.25">DAPI</text>
<text x="217.8" y="593" font-size="12.7" text-anchor="middle" fill="#dd2a2a" font-weight="normal"  stroke="#dd2a2a" stroke-width="0.25">LOX</text>
<text x="300.7" y="593" font-size="12.7" text-anchor="middle" fill="#69c23c" font-weight="normal"  stroke="#69c23c" stroke-width="0.25">UTS2R</text>
<text x="387.3" y="593" font-size="12.7" text-anchor="middle" fill="#111" font-weight="normal"  stroke="#111" stroke-width="0.25">Merge</text>
<text x="483.5" y="593" font-size="12.7" text-anchor="middle" fill="#111" font-weight="normal"  stroke="#111" stroke-width="0.25">H&E</text>
<text x="0" y="0" font-size="12.7" text-anchor="middle" fill="#111" stroke="#111" stroke-width="0.25" textLength="48.8" lengthAdjust="spacingAndGlyphs" transform="translate(12.6 636.2) rotate(-90) scale(1 1.0)">Wildtype</text>
<text x="0" y="0" font-size="13.5" font-style="italic" text-anchor="middle" fill="#111" stroke="#111" stroke-width="0.25" textLength="37" lengthAdjust="spacingAndGlyphs" transform="translate(12.8 717.5) rotate(-90)">Fgf7<tspan font-size="7.5" dy="-5.5">-/-</tspan></text>
<defs><g id="dapi1"><path d="M0 76.8 L30 0 L46 0 L16 76.8Z" fill="#0a0a30" fill-opacity="0.3"/><path d="M6.8 3.4L9.8 0.4M5.6 20.2L10.4 13.6M0.2 29.7L3.2 24.9M7.4 40.5L10.4 34.5M20 33.9L23.5 27.3M25.3 23.7L28.9 19M25.3 11.2L27.7 8.2M34.9 4L37.9 1M26.5 50.1L30.1 44.1M27.1 72.3L31.3 65.7M39.7 72.3L44.5 65.1M42.1 42.3L49.3 32.7M50.5 27.9L56.5 19M53.5 52.5L61.3 40.5M63.1 35.1L70.3 26.1M54.7 75.8L61.9 67.5M0.2 75.8L7.4 65.1" stroke="#2222ff" stroke-width="2.4" stroke-linecap="round" fill="none" stroke-opacity="1.0"/><path d="M11.6 30.3L13.1 28.9" stroke="#2222ff" stroke-width="2.2" stroke-linecap="round" fill="none" stroke-opacity="1.0"/><path d="M28.9 16L33.7 8.8M35.5 21.4L40.3 15.4" stroke="#2222ff" stroke-width="3.0" stroke-linecap="round" fill="none" stroke-opacity="1.0"/><path d="M52.9 10L56.5 2.2M66.1 49.5L72.1 41.7" stroke="#2222ff" stroke-width="2.8" stroke-linecap="round" fill="none" stroke-opacity="1.0"/><path d="M55.3 66.3L66.1 51.9" stroke="#2222ff" stroke-width="2.7" stroke-linecap="round" fill="none" stroke-opacity="1.0"/><path d="M68.5 2.8L69.7 1M69.7 77L72.7 75.2" stroke="#2222ff" stroke-width="2" stroke-linecap="round" fill="none" stroke-opacity="1.0"/></g><g id="lox1"><path d="M33.6 8.9L36.6 3.7M21.4 31.7L26.1 23.5M28.4 43.4L36 31.7M40.1 46.9L46.5 36.4M50 53.9L57 43.4M60.5 23.5L66.4 14.2M53.5 6L57 0.8M64 57.4L69.9 48.1M15 76.1L19.6 67.9M31.3 64.4L36 59.7M45.3 70.3L50 62.1M52.3 76.1L53.5 73.8M5.6 20L11.5 13M66.4 10.7L68.7 4.8" stroke="#e02a1a" stroke-width="1.1" stroke-linecap="butt" fill="none" stroke-dasharray="1.1 1" stroke-opacity="0.8"/><path d="M57 45.7L73.4 21.2" stroke="#e02a1a" stroke-width="1.4" stroke-linecap="butt" fill="none" stroke-dasharray="1.1 1" stroke-opacity="0.8"/><path d="M33 10.8l0.2 -0.3M72.1 74.7l0.2 -0.4M75 8l0.5 -0.7M15.8 62.9l0.6 -0.8M45.5 14.3l0.5 -0.7M13.6 36.8l0.5 -0.7M5 34.5l0.5 -0.7M77 76.7l0.4 -0.6M33.1 76.7l0.7 -1M32.4 30l0.4 -0.5M19.3 59.5l0.6 -0.9M75.8 62.1l0.3 -0.4M36.2 3.1l0.7 -1" stroke="#901010" stroke-width="0.7" stroke-linecap="round" fill="none" stroke-opacity="0.7"/><path d="M2.8 47.6l0.4 -0.6M62 67.1l0.7 -1M24.9 19.6l0.7 -1M11.6 6.2l0.4 -0.5M-2.2 75.4l0.4 -0.6" stroke="#601010" stroke-width="0.7" stroke-linecap="round" fill="none" stroke-opacity="0.7"/><path d="M19.3 47.7l0.6 -0.9M15.7 5l0.5 -0.7M27 62.8l0.2 -0.3M14.9 33.1l0.6 -0.8M73.7 76.4l0.4 -0.5M43.7 79.1l0.5 -0.7M45.7 29l0.6 -0.9M34.3 52.7l0.6 -0.9" stroke="#601010" stroke-width="0.8" stroke-linecap="round" fill="none" stroke-opacity="0.7"/><path d="M46.8 46.9l0.6 -0.9M52.5 71.9l0.4 -0.6M45.2 77.4l0.3 -0.5M62.9 20l0.6 -0.8M42.2 76l0.7 -0.9M3.8 43.5l0.6 -0.9M25.2 49.5l0.7 -0.9M-2.9 41.8l0.6 -0.9M56.9 70.7l0.6 -0.9M15.2 17.5l0.4 -0.6M20.8 0.5l0.7 -1" stroke="#901010" stroke-width="0.8" stroke-linecap="round" fill="none" stroke-opacity="0.7"/><path d="M43.8 64l0.3 -0.4" stroke="#601010" stroke-width="0.9" stroke-linecap="round" fill="none" stroke-opacity="0.7"/><path d="M35.7 28l0.7 -1M71.9 3l0.6 -0.8M30.7 9.2l0.7 -1" stroke="#601010" stroke-width="0.6" stroke-linecap="round" fill="none" stroke-opacity="0.7"/><path d="M6.2 26.4l0.5 -0.7M55.1 48l0.5 -0.7M73.2 75.1l0.6 -0.9M61.9 45.1l0.7 -0.9M56.1 3.5l0.5 -0.8" stroke="#901010" stroke-width="0.6" stroke-linecap="round" fill="none" stroke-opacity="0.7"/><path d="M71.5 74.8l0.2 -0.3M38.9 12.8l0.5 -0.7M60.9 31.2l0.3 -0.4M36 41.2l0.4 -0.6" stroke="#901010" stroke-width="0.9" stroke-linecap="round" fill="none" stroke-opacity="0.7"/><path d="M69.2 76.5l0.6 -0.9M74.2 59.2l0.7 -1M75.8 70.9l0.7 -1M65 65.1l0.7 -1M61.1 70l0.8 -1.1" stroke="#a01818" stroke-width="0.7" stroke-linecap="round" fill="none" stroke-opacity="0.6"/><path d="M37.9 44.1l0.6 -0.9" stroke="#a01818" stroke-width="0.9" stroke-linecap="round" fill="none" stroke-opacity="0.6"/><path d="M59.7 69.8l0.8 -1.1M42.8 65.9l0.6 -0.9M53.7 64.5l0.6 -0.8M47.2 67.4l0.7 -1M37.1 51.5l0.8 -1.1M48.1 70l0.8 -1.1" stroke="#c02020" stroke-width="0.8" stroke-linecap="round" fill="none" stroke-opacity="0.6"/><path d="M69 70.8l0.6 -0.9M49 44.6l0.8 -1.1M57.2 55.6l0.4 -0.5M71.4 57.7l0.5 -0.7M61.7 70.4l0.9 -1.3M53 45l0.6 -0.9M78.6 69.5l0.4 -0.6" stroke="#a01818" stroke-width="0.6" stroke-linecap="round" fill="none" stroke-opacity="0.6"/><path d="M59.5 56.6l0.4 -0.5" stroke="#c02020" stroke-width="0.9" stroke-linecap="round" fill="none" stroke-opacity="0.6"/><path d="M54.4 61l0.8 -1.1M65.7 62.1l0.5 -0.8M40.8 72.3l0.5 -0.8M70.7 55.6l0.4 -0.6M39.2 75.4l0.9 -1.3" stroke="#c02020" stroke-width="0.7" stroke-linecap="round" fill="none" stroke-opacity="0.6"/><path d="M39.3 66.6l0.4 -0.6M72 55.8l0.6 -0.9M50.8 64.2l0.4 -0.6M63 65.5l0.8 -1.1M49.1 53.1l0.5 -0.7" stroke="#a01818" stroke-width="0.8" stroke-linecap="round" fill="none" stroke-opacity="0.6"/></g><g id="uts1"><path d="M41.2 67.8l2.2 -3.8M52.8 54.9l1.4 -2.4" stroke="#123a10" stroke-width="0.8" stroke-linecap="round" fill="none" stroke-opacity="0.8"/><path d="M63.3 46.4l2.2 -3.8M61.8 42.9l1.8 -3.1M71.5 49.3l1.6 -2.8M27.5 42.6l1.3 -2.2M54.5 51.6l1.2 -2.1" stroke="#0e2a0c" stroke-width="0.9" stroke-linecap="round" fill="none" stroke-opacity="0.8"/><path d="M51.5 40.4l1.8 -3.1" stroke="#123a10" stroke-width="1.0" stroke-linecap="round" fill="none" stroke-opacity="0.8"/><path d="M33 63.9l2.1 -3.6" stroke="#0e2a0c" stroke-width="0.6" stroke-linecap="round" fill="none" stroke-opacity="0.8"/><path d="M49.6 57.4l1.7 -2.9" stroke="#0e2a0c" stroke-width="0.7" stroke-linecap="round" fill="none" stroke-opacity="0.8"/><path d="M36 62.2l2.1 -3.6" stroke="#123a10" stroke-width="0.6" stroke-linecap="round" fill="none" stroke-opacity="0.8"/><path d="M45.1 67.5l1.7 -3" stroke="#123a10" stroke-width="0.9" stroke-linecap="round" fill="none" stroke-opacity="0.8"/></g><g id="dapi2"><path d="M27.7 0.9L27.1 5.7" stroke="#2020ff" stroke-width="3.4" stroke-linecap="round" fill="none" stroke-opacity="1.0"/><path d="M16.4 5.1L15.5 11.1M26.5 12.3L26.5 13.5" stroke="#2020ff" stroke-width="2" stroke-linecap="round" fill="none" stroke-opacity="1.0"/><path d="M11 20.7L10.1 28.4M0.2 51.8L-0 61.4M37.9 56.6L37.1 67.4M66.7 6.3L65.5 14.1M64.5 17.1L63.7 23.6M63.7 26.6L63.1 36.2" stroke="#2020ff" stroke-width="2.6" stroke-linecap="round" fill="none" stroke-opacity="1.0"/><path d="M25.9 24.2L23.5 37.4" stroke="#2020ff" stroke-width="4.2" stroke-linecap="round" fill="none" stroke-opacity="1.0"/><path d="M9.5 32.6L8.8 39.2M49.9 29L49.3 38M48.9 43.4L48.7 51.2M71.5 28.4L70.3 35" stroke="#2020ff" stroke-width="2.8" stroke-linecap="round" fill="none" stroke-opacity="1.0"/><path d="M17.6 38.6L17 46.4" stroke="#2020ff" stroke-width="2.4" stroke-linecap="round" fill="none" stroke-opacity="1.0"/><path d="M5 59L4.4 66.2M60.1 71L62.5 75.7" stroke="#2020ff" stroke-width="4" stroke-linecap="round" fill="none" stroke-opacity="1.0"/><path d="M4.4 67.4L4.4 75.7" stroke="#2020ff" stroke-width="5" stroke-linecap="round" fill="none" stroke-opacity="1.0"/><path d="M38.5 69.8L38.3 75.7M54.7 20.1L53.8 27.8M53.1 32.6L52.7 41M52.7 43.4L52.3 51.2M52.3 55.4L51.7 61.4M74.4 6.9L75 9.9M63.1 45.2L62.2 52.4M69.7 54.2L68.7 62" stroke="#2020ff" stroke-width="3" stroke-linecap="round" fill="none" stroke-opacity="1.0"/><path d="M73.8 13.5L72.7 19.5" stroke="#2020ff" stroke-width="3.2" stroke-linecap="round" fill="none" stroke-opacity="1.0"/><path d="M21.2 55.4L20.6 61.4M20.6 68.6L20.6 74.5M39.7 39.8L39.1 49.4M51.7 65L51.1 74.5M51.1 0.9L51.1 3.9" stroke="#1a1a90" stroke-width="2.5" stroke-linecap="round" fill="none" stroke-opacity="0.8"/></g><g id="lox2"><rect x="0" y="0" width="22" height="76.5" fill="#400404" fill-opacity="0.55"/><path d="M3 54.7l1.5 -14" stroke="#c01a12" stroke-width="0.7" stroke-linecap="round" fill="none" stroke-opacity="0.64" stroke-dasharray="1.6 1.2"/><path d="M51.6 20.6l7.2 -39.5M65.7 76.8l6.9 -36.5" stroke="#c01a12" stroke-width="0.9" stroke-linecap="round" fill="none" stroke-opacity="0.35" stroke-dasharray="1.6 1.2"/><path d="M19.7 83.5l6 -37.2" stroke="#e0281c" stroke-width="0.5" stroke-linecap="round" fill="none" stroke-opacity="0.35" stroke-dasharray="1.6 1.2"/><path d="M29 53.2l2.5 -12.3" stroke="#e0281c" stroke-width="1.0" stroke-linecap="round" fill="none" stroke-opacity="0.68" stroke-dasharray="1.6 1.2"/><path d="M49.9 46.1l7.5 -40.8" stroke="#c01a12" stroke-width="0.6" stroke-linecap="round" fill="none" stroke-opacity="0.68" stroke-dasharray="1.6 1.2"/><path d="M71.9 25.5l4.5 -36.1" stroke="#c01a12" stroke-width="1.0" stroke-linecap="round" fill="none" stroke-opacity="0.3" stroke-dasharray="1.6 1.2"/><path d="M16.4 53.5l4.2 -23.2" stroke="#901010" stroke-width="0.8" stroke-linecap="round" fill="none" stroke-opacity="0.32" stroke-dasharray="1.6 1.2"/><path d="M42.5 90.5l5.8 -41.8" stroke="#c01a12" stroke-width="1.1" stroke-linecap="round" fill="none" stroke-opacity="0.7" stroke-dasharray="1.6 1.2"/><path d="M8.5 81.4l6.2 -35.8" stroke="#e0281c" stroke-width="0.6" stroke-linecap="round" fill="none" stroke-opacity="0.65" stroke-dasharray="1.6 1.2"/><path d="M18.2 47.1l5.8 -27.7" stroke="#901010" stroke-width="0.9" stroke-linecap="round" fill="none" stroke-opacity="0.65" stroke-dasharray="1.6 1.2"/><path d="M25.5 47.1l6 -37.7" stroke="#901010" stroke-width="0.9" stroke-linecap="round" fill="none" stroke-opacity="0.34" stroke-dasharray="1.6 1.2"/><path d="M19 89.9l8.3 -39.6" stroke="#e0281c" stroke-width="0.5" stroke-linecap="round" fill="none" stroke-opacity="0.43" stroke-dasharray="1.6 1.2"/><path d="M-4.2 33.9l4.1 -25.8" stroke="#c01a12" stroke-width="0.6" stroke-linecap="round" fill="none" stroke-opacity="0.56" stroke-dasharray="1.6 1.2"/><path d="M54.4 84l5.5 -28.5" stroke="#901010" stroke-width="0.7" stroke-linecap="round" fill="none" stroke-opacity="0.41" stroke-dasharray="1.6 1.2"/><path d="M20.8 70.5l4.4 -21.2" stroke="#e0281c" stroke-width="0.5" stroke-linecap="round" fill="none" stroke-opacity="0.58" stroke-dasharray="1.6 1.2"/><path d="M61.4 11.5l5.2 -24.6" stroke="#901010" stroke-width="0.8" stroke-linecap="round" fill="none" stroke-opacity="0.45" stroke-dasharray="1.6 1.2"/><path d="M10 91l6.9 -37.9" stroke="#e0281c" stroke-width="0.7" stroke-linecap="round" fill="none" stroke-opacity="0.35" stroke-dasharray="1.6 1.2"/><path d="M11.5 14.1L7.4 45.6" stroke="#e8281a" stroke-width="2.2" stroke-linecap="butt" fill="none" stroke-dasharray="2.5 0.8" stroke-opacity="0.8"/><path d="M19 28.1L17.3 45.6M23.1 32.8L22 43.3" stroke="#e8281a" stroke-width="1.4" stroke-linecap="butt" fill="none" stroke-dasharray="2.5 0.8" stroke-opacity="0.8"/><path d="M26.6 3.6L27.2 8.2" stroke="#e8281a" stroke-width="2.4" stroke-linecap="butt" fill="none" stroke-dasharray="2.5 0.8" stroke-opacity="0.8"/><path d="M39.5 26.9L37.2 74.8" stroke="#e8281a" stroke-width="1.1" stroke-linecap="butt" fill="none" stroke-dasharray="2.5 0.8" stroke-opacity="0.8"/><path d="M50 24.6L47.7 62M53.5 38.6L52.3 53.8M64 14.1L60.5 73.7M29 59.6L26.6 74.8M12.6 51.5L10.3 69M16.1 8.2L13.8 33.9" stroke="#e8281a" stroke-width="1.2" stroke-linecap="butt" fill="none" stroke-dasharray="2.5 0.8" stroke-opacity="0.8"/><path d="M72.2 18.8L67.5 73.7" stroke="#e8281a" stroke-width="1.3" stroke-linecap="butt" fill="none" stroke-dasharray="2.5 0.8" stroke-opacity="0.8"/><path d="M69.9 31.6L68.7 37.5" stroke="#e8281a" stroke-width="1.6" stroke-linecap="butt" fill="none" stroke-dasharray="2.5 0.8" stroke-opacity="0.8"/><path d="M2.1 1.2L1.5 76" stroke="#e8281a" stroke-width="4" stroke-linecap="butt" fill="none" stroke-dasharray="2.5 0.8" stroke-opacity="0.8"/><path d="M49 21.3l0.2 -1.3" stroke="#c81a12" stroke-width="0.7" stroke-linecap="round" fill="none" stroke-opacity="0.53"/><path d="M32.5 54.1l0.2 -1.1" stroke="#e02a1a" stroke-width="0.8" stroke-linecap="round" fill="none" stroke-opacity="0.57"/><path d="M48.4 65.2l0.1 -0.6" stroke="#c81a12" stroke-width="0.8" stroke-linecap="round" fill="none" stroke-opacity="0.78"/><path d="M25 68.1l0.2 -1.1M50 26.2l0.2 -1.1" stroke="#c81a12" stroke-width="0.9" stroke-linecap="round" fill="none" stroke-opacity="0.74"/><path d="M19.2 2.9l0.2 -1.4" stroke="#901010" stroke-width="1.0" stroke-linecap="round" fill="none" stroke-opacity="0.54"/><path d="M13.1 20.7l0.2 -1.1" stroke="#c81a12" stroke-width="0.9" stroke-linecap="round" fill="none" stroke-opacity="0.66"/><path d="M68.8 32.3l0.2 -1.1" stroke="#c81a12" stroke-width="0.9" stroke-linecap="round" fill="none" stroke-opacity="0.76"/><path d="M-2.6 68.5l0.1 -0.7" stroke="#e02a1a" stroke-width="0.8" stroke-linecap="round" fill="none" stroke-opacity="0.62"/><path d="M19.2 6.2l0.1 -0.9" stroke="#901010" stroke-width="0.8" stroke-linecap="round" fill="none" stroke-opacity="0.8"/><path d="M74.4 1.5l0.2 -1" stroke="#c81a12" stroke-width="0.9" stroke-linecap="round" fill="none" stroke-opacity="0.86"/><path d="M37.1 41.7l0.1 -0.6" stroke="#e02a1a" stroke-width="0.8" stroke-linecap="round" fill="none" stroke-opacity="0.59"/><path d="M42.1 19.8l0.2 -1.3" stroke="#c81a12" stroke-width="0.7" stroke-linecap="round" fill="none" stroke-opacity="0.44"/><path d="M19.2 39.9l0.1 -0.6" stroke="#c81a12" stroke-width="0.8" stroke-linecap="round" fill="none" stroke-opacity="0.44"/><path d="M47.6 78.8l0.1 -0.6M22.8 27.8l0.2 -1.1" stroke="#901010" stroke-width="0.7" stroke-linecap="round" fill="none" stroke-opacity="0.45"/><path d="M0.7 6.5l0.1 -0.7" stroke="#c81a12" stroke-width="0.9" stroke-linecap="round" fill="none" stroke-opacity="0.8"/><path d="M46.4 73.2l0.2 -1.2" stroke="#c81a12" stroke-width="1.0" stroke-linecap="round" fill="none" stroke-opacity="0.89"/><path d="M2.6 64l0.1 -0.8" stroke="#901010" stroke-width="0.9" stroke-linecap="round" fill="none" stroke-opacity="0.75"/><path d="M20.9 61.1l0.1 -0.6M30.6 1.7l0.2 -1.1" stroke="#901010" stroke-width="0.7" stroke-linecap="round" fill="none" stroke-opacity="0.67"/><path d="M7.3 51.3l0.2 -1.1M44.2 62.9l0.1 -0.6" stroke="#901010" stroke-width="0.8" stroke-linecap="round" fill="none" stroke-opacity="0.67"/><path d="M70.3 42.6l0.2 -1.1" stroke="#c81a12" stroke-width="0.9" stroke-linecap="round" fill="none" stroke-opacity="0.61"/><path d="M8.2 49.1l0.2 -1.2M4.3 34.6l0.1 -0.7M30.6 0.4l0.2 -1" stroke="#c81a12" stroke-width="0.9" stroke-linecap="round" fill="none" stroke-opacity="0.6"/><path d="M54.3 58.6l0.2 -1.4" stroke="#c81a12" stroke-width="0.7" stroke-linecap="round" fill="none" stroke-opacity="0.46"/><path d="M32.7 6.6l0.1 -0.7" stroke="#901010" stroke-width="0.9" stroke-linecap="round" fill="none" stroke-opacity="0.49"/><path d="M1 17.6l0.2 -1.1" stroke="#e02a1a" stroke-width="0.7" stroke-linecap="round" fill="none" stroke-opacity="0.69"/><path d="M43.8 19.4l0.1 -0.9" stroke="#c81a12" stroke-width="0.8" stroke-linecap="round" fill="none" stroke-opacity="0.81"/><path d="M10 75.9l0.2 -1.2M16.1 54.9l0.2 -1" stroke="#e02a1a" stroke-width="0.8" stroke-linecap="round" fill="none" stroke-opacity="0.86"/><path d="M57.8 12.4l0.2 -1.3" stroke="#c81a12" stroke-width="0.9" stroke-linecap="round" fill="none" stroke-opacity="0.77"/><path d="M-1.9 -1.8l0.2 -1.1" stroke="#901010" stroke-width="0.9" stroke-linecap="round" fill="none" stroke-opacity="0.62"/><path d="M38.5 24l0.2 -1M11.2 54l0.2 -1.5M8.5 55.4l0.2 -1.1M3.3 49.1l0.2 -1" stroke="#c81a12" stroke-width="0.8" stroke-linecap="round" fill="none" stroke-opacity="0.74"/><path d="M2.3 53l0.1 -0.6" stroke="#e02a1a" stroke-width="0.9" stroke-linecap="round" fill="none" stroke-opacity="0.73"/><path d="M-1.3 24.3l0.1 -0.7" stroke="#e02a1a" stroke-width="1.0" stroke-linecap="round" fill="none" stroke-opacity="0.44"/><path d="M38.1 7l0.2 -1.2" stroke="#901010" stroke-width="0.8" stroke-linecap="round" fill="none" stroke-opacity="0.4"/><path d="M5 37.6l0.2 -1.3" stroke="#c81a12" stroke-width="0.8" stroke-linecap="round" fill="none" stroke-opacity="0.63"/><path d="M47.3 16.2l0.2 -1.5" stroke="#c81a12" stroke-width="0.9" stroke-linecap="round" fill="none" stroke-opacity="0.87"/><path d="M3.9 37.8l0.1 -0.6" stroke="#901010" stroke-width="0.9" stroke-linecap="round" fill="none" stroke-opacity="0.58"/><path d="M21.2 55.8l0.2 -1.1" stroke="#901010" stroke-width="0.9" stroke-linecap="round" fill="none" stroke-opacity="0.65"/><path d="M37.5 8.4l0.2 -1.5" stroke="#901010" stroke-width="0.9" stroke-linecap="round" fill="none" stroke-opacity="0.59"/><path d="M75.8 49.8l0.2 -1.2M6.8 67.6l0.2 -1M46.2 43l0.1 -0.8" stroke="#c81a12" stroke-width="0.9" stroke-linecap="round" fill="none" stroke-opacity="0.7"/><path d="M0.7 41.6l0.1 -0.9M14.7 16l0.1 -0.8" stroke="#901010" stroke-width="0.9" stroke-linecap="round" fill="none" stroke-opacity="0.44"/><path d="M19.4 47l0.1 -0.6" stroke="#e02a1a" stroke-width="1.0" stroke-linecap="round" fill="none" stroke-opacity="0.8"/><path d="M10.4 12.7l0.1 -0.8" stroke="#e02a1a" stroke-width="0.9" stroke-linecap="round" fill="none" stroke-opacity="0.85"/><path d="M2.8 35.6l0.1 -0.6" stroke="#e02a1a" stroke-width="0.7" stroke-linecap="round" fill="none" stroke-opacity="0.66"/><path d="M48.8 41.5l0.1 -0.8" stroke="#901010" stroke-width="0.9" stroke-linecap="round" fill="none" stroke-opacity="0.71"/><path d="M61.3 46.7l0.1 -0.6" stroke="#901010" stroke-width="0.9" stroke-linecap="round" fill="none" stroke-opacity="0.7"/><path d="M12.4 26.9l0.2 -1.3" stroke="#e02a1a" stroke-width="0.7" stroke-linecap="round" fill="none" stroke-opacity="0.9"/><path d="M65.9 78.9l0.2 -1.2" stroke="#c81a12" stroke-width="0.8" stroke-linecap="round" fill="none" stroke-opacity="0.5"/><path d="M25.1 55l0.2 -1" stroke="#e02a1a" stroke-width="0.8" stroke-linecap="round" fill="none" stroke-opacity="0.85"/><path d="M74.6 8.9l0.1 -0.5" stroke="#e02a1a" stroke-width="0.8" stroke-linecap="round" fill="none" stroke-opacity="0.79"/><path d="M22.3 79.1l0.1 -0.6M8.3 23.6l0.1 -0.8" stroke="#e02a1a" stroke-width="0.9" stroke-linecap="round" fill="none" stroke-opacity="0.75"/><path d="M48.2 62.8l0.2 -1.4" stroke="#c81a12" stroke-width="0.8" stroke-linecap="round" fill="none" stroke-opacity="0.52"/><path d="M9.2 20.5l0.2 -1.1" stroke="#901010" stroke-width="0.9" stroke-linecap="round" fill="none" stroke-opacity="0.81"/><path d="M60.5 14.7l0.1 -0.9" stroke="#c81a12" stroke-width="0.7" stroke-linecap="round" fill="none" stroke-opacity="0.41"/><path d="M11 51.6l0.1 -0.9" stroke="#e02a1a" stroke-width="0.7" stroke-linecap="round" fill="none" stroke-opacity="0.47"/><path d="M27.2 66.7l0.1 -0.6M15.8 50.4l0.2 -1.5M68.7 30.5l0.1 -0.9" stroke="#e02a1a" stroke-width="0.8" stroke-linecap="round" fill="none" stroke-opacity="0.61"/><path d="M52.6 21.2l0.2 -1.3" stroke="#c81a12" stroke-width="1.0" stroke-linecap="round" fill="none" stroke-opacity="0.87"/><path d="M30.2 55.7l0.1 -0.6M19.8 52.7l0.2 -1.2" stroke="#901010" stroke-width="0.9" stroke-linecap="round" fill="none" stroke-opacity="0.73"/><path d="M32.4 43.6l0.1 -0.9" stroke="#c81a12" stroke-width="1.0" stroke-linecap="round" fill="none" stroke-opacity="0.78"/><path d="M56.7 11.2l0.1 -0.7" stroke="#c81a12" stroke-width="0.7" stroke-linecap="round" fill="none" stroke-opacity="0.54"/><path d="M5.8 55.4l0.2 -1.4" stroke="#c81a12" stroke-width="0.7" stroke-linecap="round" fill="none" stroke-opacity="0.83"/><path d="M20.8 71l0.2 -1.2M69.5 17.9l0.1 -0.6" stroke="#c81a12" stroke-width="0.9" stroke-linecap="round" fill="none" stroke-opacity="0.82"/><path d="M8.8 6.8l0.1 -0.5" stroke="#901010" stroke-width="1.0" stroke-linecap="round" fill="none" stroke-opacity="0.85"/><path d="M14.4 75.4l0.1 -0.6" stroke="#901010" stroke-width="1.0" stroke-linecap="round" fill="none" stroke-opacity="0.51"/><path d="M30.8 34.2l0.1 -0.6" stroke="#e02a1a" stroke-width="0.8" stroke-linecap="round" fill="none" stroke-opacity="0.81"/><path d="M0.9 28.6l0.1 -0.6" stroke="#e02a1a" stroke-width="0.8" stroke-linecap="round" fill="none" stroke-opacity="0.65"/><path d="M35.1 34.9l0.1 -0.6" stroke="#901010" stroke-width="0.8" stroke-linecap="round" fill="none" stroke-opacity="0.83"/><path d="M44.3 15.3l0.1 -0.7" stroke="#901010" stroke-width="0.9" stroke-linecap="round" fill="none" stroke-opacity="0.85"/><path d="M22.8 44.7l0.2 -1.3" stroke="#e02a1a" stroke-width="0.7" stroke-linecap="round" fill="none" stroke-opacity="0.87"/><path d="M25.1 44.3l0.1 -0.6" stroke="#901010" stroke-width="0.8" stroke-linecap="round" fill="none" stroke-opacity="0.52"/><path d="M13.7 30l0.2 -1.3" stroke="#901010" stroke-width="0.9" stroke-linecap="round" fill="none" stroke-opacity="0.86"/><path d="M49.3 62.4l0.1 -0.9M-1.1 47.7l0.2 -1.5M9.3 56.6l0.2 -1.3" stroke="#c81a12" stroke-width="0.8" stroke-linecap="round" fill="none" stroke-opacity="0.46"/><path d="M67.2 31.9l0.1 -0.5" stroke="#901010" stroke-width="0.7" stroke-linecap="round" fill="none" stroke-opacity="0.8"/><path d="M1.3 -1.9l0.1 -0.7M6.3 28.3l0.2 -1.1" stroke="#e02a1a" stroke-width="0.9" stroke-linecap="round" fill="none" stroke-opacity="0.53"/><path d="M-2.6 70.2l0.1 -0.9" stroke="#c81a12" stroke-width="0.8" stroke-linecap="round" fill="none" stroke-opacity="0.75"/><path d="M21.2 3.4l0.2 -1" stroke="#c81a12" stroke-width="0.9" stroke-linecap="round" fill="none" stroke-opacity="0.62"/><path d="M9.1 19.2l0.2 -1.5M10.1 64.1l0.1 -0.7" stroke="#901010" stroke-width="1.0" stroke-linecap="round" fill="none" stroke-opacity="0.74"/><path d="M32.9 66.5l0.1 -0.5" stroke="#901010" stroke-width="0.7" stroke-linecap="round" fill="none" stroke-opacity="0.62"/><path d="M53.6 25.9l0.2 -1.5" stroke="#e02a1a" stroke-width="0.8" stroke-linecap="round" fill="none" stroke-opacity="0.68"/><path d="M68.6 24.2l0.2 -1.4" stroke="#e02a1a" stroke-width="0.8" stroke-linecap="round" fill="none" stroke-opacity="0.55"/><path d="M-0.7 27.9l0.1 -0.9" stroke="#c81a12" stroke-width="1.0" stroke-linecap="round" fill="none" stroke-opacity="0.6"/><path d="M68.7 66.1l0.1 -0.7" stroke="#e02a1a" stroke-width="0.7" stroke-linecap="round" fill="none" stroke-opacity="0.77"/><path d="M66.9 23.6l0.2 -1.1" stroke="#901010" stroke-width="0.8" stroke-linecap="round" fill="none" stroke-opacity="0.73"/><path d="M60.7 10.3l0.1 -0.8" stroke="#901010" stroke-width="0.9" stroke-linecap="round" fill="none" stroke-opacity="0.6"/><path d="M53.4 48.9l0.2 -1.2M46.5 45.1l0.2 -1.4" stroke="#e02a1a" stroke-width="0.9" stroke-linecap="round" fill="none" stroke-opacity="0.6"/><path d="M6.3 51.2l0.2 -1.4" stroke="#c81a12" stroke-width="0.8" stroke-linecap="round" fill="none" stroke-opacity="0.89"/><path d="M3.7 73.5l0.2 -1.1" stroke="#e02a1a" stroke-width="1.0" stroke-linecap="round" fill="none" stroke-opacity="0.6"/><path d="M42 38.7l0.2 -1.1" stroke="#e02a1a" stroke-width="1.0" stroke-linecap="round" fill="none" stroke-opacity="0.55"/><path d="M43.4 63.7l0.1 -0.6" stroke="#e02a1a" stroke-width="0.9" stroke-linecap="round" fill="none" stroke-opacity="0.77"/><path d="M51.4 73l0.2 -1" stroke="#901010" stroke-width="0.9" stroke-linecap="round" fill="none" stroke-opacity="0.67"/><path d="M75.7 42l0.2 -1.1" stroke="#e02a1a" stroke-width="0.7" stroke-linecap="round" fill="none" stroke-opacity="0.86"/><path d="M10.6 20.8l0.1 -0.8" stroke="#c81a12" stroke-width="0.9" stroke-linecap="round" fill="none" stroke-opacity="0.88"/><path d="M22.2 33.5l0.2 -1.4" stroke="#e02a1a" stroke-width="0.8" stroke-linecap="round" fill="none" stroke-opacity="0.87"/><path d="M68.8 26.6l0.2 -1.4M59.7 14.7l0.2 -1.1" stroke="#e02a1a" stroke-width="0.7" stroke-linecap="round" fill="none" stroke-opacity="0.51"/><path d="M41.7 66.8l0.2 -1.4" stroke="#901010" stroke-width="0.9" stroke-linecap="round" fill="none" stroke-opacity="0.41"/><path d="M5.5 31.1l0.1 -0.7" stroke="#c81a12" stroke-width="0.9" stroke-linecap="round" fill="none" stroke-opacity="0.64"/><path d="M48.7 37.1l0.2 -1.2M4.4 8.7l0.1 -0.6" stroke="#e02a1a" stroke-width="0.9" stroke-linecap="round" fill="none" stroke-opacity="0.57"/><path d="M61.3 57.7l0.2 -1.2" stroke="#901010" stroke-width="1.0" stroke-linecap="round" fill="none" stroke-opacity="0.66"/><path d="M42.4 4.6l0.1 -0.9" stroke="#c81a12" stroke-width="0.8" stroke-linecap="round" fill="none" stroke-opacity="0.84"/><path d="M56.1 22.1l0.2 -1.3M32.8 60.5l0.1 -0.6" stroke="#e02a1a" stroke-width="0.9" stroke-linecap="round" fill="none" stroke-opacity="0.72"/><path d="M25.7 72.6l0.2 -1.4" stroke="#e02a1a" stroke-width="0.8" stroke-linecap="round" fill="none" stroke-opacity="0.5"/><path d="M66.7 3.3l0.1 -0.8" stroke="#901010" stroke-width="0.9" stroke-linecap="round" fill="none" stroke-opacity="0.68"/><path d="M-0.2 36.9l0.1 -0.8" stroke="#e02a1a" stroke-width="0.9" stroke-linecap="round" fill="none" stroke-opacity="0.82"/><path d="M75.1 1.2l0.2 -1.1" stroke="#c81a12" stroke-width="0.9" stroke-linecap="round" fill="none" stroke-opacity="0.44"/><path d="M3.3 79.7l0.1 -0.7" stroke="#e02a1a" stroke-width="1.0" stroke-linecap="round" fill="none" stroke-opacity="0.83"/><path d="M4.2 79.6l0.1 -0.7" stroke="#901010" stroke-width="1.0" stroke-linecap="round" fill="none" stroke-opacity="0.9"/><path d="M30.2 69.4l0.2 -1.2" stroke="#c81a12" stroke-width="1.0" stroke-linecap="round" fill="none" stroke-opacity="0.76"/><path d="M26.4 4.6l0.1 -0.8M50.2 45.2l0.2 -1.1" stroke="#901010" stroke-width="0.8" stroke-linecap="round" fill="none" stroke-opacity="0.82"/><path d="M49.3 19.6l0.1 -0.7" stroke="#c81a12" stroke-width="0.8" stroke-linecap="round" fill="none" stroke-opacity="0.79"/><path d="M62.5 41l0.2 -1.1" stroke="#901010" stroke-width="0.9" stroke-linecap="round" fill="none" stroke-opacity="0.84"/><path d="M16.4 55.2l0.2 -1.2" stroke="#c81a12" stroke-width="0.8" stroke-linecap="round" fill="none" stroke-opacity="0.55"/><path d="M63.4 55.1l0.2 -1.3M46.1 45.2l0.1 -0.7" stroke="#e02a1a" stroke-width="0.8" stroke-linecap="round" fill="none" stroke-opacity="0.77"/><path d="M5.8 9.2l0.1 -0.8M38.6 39.5l0.1 -0.6M-0.3 74.7l0.1 -0.6" stroke="#e02a1a" stroke-width="0.9" stroke-linecap="round" fill="none" stroke-opacity="0.43"/><path d="M57.7 63.6l0.1 -0.8M52.9 28.3l0.2 -1.1" stroke="#901010" stroke-width="0.8" stroke-linecap="round" fill="none" stroke-opacity="0.47"/><path d="M6.1 61l0.1 -0.9" stroke="#e02a1a" stroke-width="0.8" stroke-linecap="round" fill="none" stroke-opacity="0.89"/><path d="M28.1 21.4l0.2 -1" stroke="#901010" stroke-width="0.7" stroke-linecap="round" fill="none" stroke-opacity="0.47"/><path d="M52.7 41.3l0.2 -1.4" stroke="#e02a1a" stroke-width="0.7" stroke-linecap="round" fill="none" stroke-opacity="0.61"/><path d="M31.6 25l0.2 -1.2" stroke="#e02a1a" stroke-width="0.7" stroke-linecap="round" fill="none" stroke-opacity="0.7"/><path d="M21.1 41.9l0.1 -0.6" stroke="#c81a12" stroke-width="0.9" stroke-linecap="round" fill="none" stroke-opacity="0.52"/><path d="M3.6 11.6l0.2 -1.4" stroke="#c81a12" stroke-width="0.9" stroke-linecap="round" fill="none" stroke-opacity="0.47"/><path d="M-1 29.6l0.1 -0.7" stroke="#c81a12" stroke-width="0.8" stroke-linecap="round" fill="none" stroke-opacity="0.77"/><path d="M48.7 29.4l0.2 -1.3M42.7 12.7l0.2 -1.4" stroke="#e02a1a" stroke-width="0.7" stroke-linecap="round" fill="none" stroke-opacity="0.73"/><path d="M63.4 67.2l0.2 -1.4" stroke="#e02a1a" stroke-width="0.7" stroke-linecap="round" fill="none" stroke-opacity="0.79"/><path d="M47.9 49.2l0.1 -0.7" stroke="#901010" stroke-width="1.0" stroke-linecap="round" fill="none" stroke-opacity="0.7"/><path d="M34.3 9.8l0.1 -0.9" stroke="#c81a12" stroke-width="0.7" stroke-linecap="round" fill="none" stroke-opacity="0.72"/><path d="M20.7 13.3l0.2 -1.3" stroke="#901010" stroke-width="0.7" stroke-linecap="round" fill="none" stroke-opacity="0.74"/><path d="M19.6 74.7l0.2 -1" stroke="#901010" stroke-width="1.0" stroke-linecap="round" fill="none" stroke-opacity="0.76"/><path d="M19.6 27.1l0.2 -1.4" stroke="#901010" stroke-width="0.8" stroke-linecap="round" fill="none" stroke-opacity="0.76"/><path d="M7.3 50.1l0.2 -0.9" stroke="#901010" stroke-width="0.9" stroke-linecap="round" fill="none" stroke-opacity="0.51"/><path d="M60.8 21.1l0.1 -0.9" stroke="#c81a12" stroke-width="0.8" stroke-linecap="round" fill="none" stroke-opacity="0.58"/><path d="M5.7 22l0.2 -1.1M39.6 12.9l0.1 -0.7" stroke="#e02a1a" stroke-width="0.9" stroke-linecap="round" fill="none" stroke-opacity="0.64"/><path d="M25.3 -2.4l0.2 -1.1" stroke="#901010" stroke-width="1.0" stroke-linecap="round" fill="none" stroke-opacity="0.78"/><path d="M4.8 70.1l0.2 -1.2" stroke="#e02a1a" stroke-width="0.9" stroke-linecap="round" fill="none" stroke-opacity="0.88"/><path d="M11.6 41.9l0.2 -1" stroke="#e02a1a" stroke-width="0.9" stroke-linecap="round" fill="none" stroke-opacity="0.65"/><path d="M51.1 8.8l0.1 -0.7M15.4 55.9l0.1 -0.8" stroke="#c81a12" stroke-width="1.0" stroke-linecap="round" fill="none" stroke-opacity="0.77"/><path d="M3.4 67.7l0.1 -0.8" stroke="#e02a1a" stroke-width="0.9" stroke-linecap="round" fill="none" stroke-opacity="0.83"/><path d="M2.5 40.6l0.2 -1.2M11.1 -0.4l0.1 -0.8" stroke="#c81a12" stroke-width="0.9" stroke-linecap="round" fill="none" stroke-opacity="0.43"/><path d="M46.2 56l0.1 -0.8" stroke="#901010" stroke-width="0.9" stroke-linecap="round" fill="none" stroke-opacity="0.8"/><path d="M19.6 9.7l0.2 -1.5" stroke="#c81a12" stroke-width="0.8" stroke-linecap="round" fill="none" stroke-opacity="0.69"/><path d="M27.7 9.9l0.1 -0.7" stroke="#c81a12" stroke-width="1.0" stroke-linecap="round" fill="none" stroke-opacity="0.41"/><path d="M48.2 48.6l0.2 -1" stroke="#e02a1a" stroke-width="0.7" stroke-linecap="round" fill="none" stroke-opacity="0.41"/><path d="M5.5 72.2l0.2 -1.4" stroke="#c81a12" stroke-width="0.7" stroke-linecap="round" fill="none" stroke-opacity="0.75"/><path d="M51.4 -0.8l0.2 -1.2" stroke="#e02a1a" stroke-width="0.8" stroke-linecap="round" fill="none" stroke-opacity="0.67"/><path d="M7.9 6.1l0.1 -0.9M-0.5 16.6l0.1 -0.7" stroke="#c81a12" stroke-width="0.8" stroke-linecap="round" fill="none" stroke-opacity="0.73"/><path d="M58.9 68.7l0.2 -1.3" stroke="#c81a12" stroke-width="0.8" stroke-linecap="round" fill="none" stroke-opacity="0.9"/><path d="M58.4 70.9l0.2 -1.4" stroke="#e02a1a" stroke-width="0.8" stroke-linecap="round" fill="none" stroke-opacity="0.7"/><path d="M8.6 9.1l0.2 -1" stroke="#e02a1a" stroke-width="0.9" stroke-linecap="round" fill="none" stroke-opacity="0.58"/><path d="M12.3 43.4l0.2 -1.2" stroke="#e02a1a" stroke-width="0.9" stroke-linecap="round" fill="none" stroke-opacity="0.8"/><path d="M29 18.6l0.1 -0.7" stroke="#901010" stroke-width="0.8" stroke-linecap="round" fill="none" stroke-opacity="0.78"/><path d="M27.4 1.7l0.2 -1" stroke="#c81a12" stroke-width="0.7" stroke-linecap="round" fill="none" stroke-opacity="0.79"/><path d="M-1.8 43.9l0.2 -0.9" stroke="#c81a12" stroke-width="0.7" stroke-linecap="round" fill="none" stroke-opacity="0.8"/><path d="M67 23.1l0.1 -0.8" stroke="#901010" stroke-width="0.9" stroke-linecap="round" fill="none" stroke-opacity="0.69"/><path d="M-3 72.9l0.1 -0.6" stroke="#901010" stroke-width="0.8" stroke-linecap="round" fill="none" stroke-opacity="0.88"/><path d="M65.8 21.9l0.2 -1.5" stroke="#901010" stroke-width="0.7" stroke-linecap="round" fill="none" stroke-opacity="0.66"/><path d="M12.6 10.5l0.1 -0.7" stroke="#c81a12" stroke-width="0.7" stroke-linecap="round" fill="none" stroke-opacity="0.59"/><path d="M4.4 24l0.2 -1.4" stroke="#901010" stroke-width="0.8" stroke-linecap="round" fill="none" stroke-opacity="0.41"/><path d="M17.1 75.2l0.2 -1.4" stroke="#e02a1a" stroke-width="0.8" stroke-linecap="round" fill="none" stroke-opacity="0.72"/><path d="M40.2 59.7l0.2 -1.1" stroke="#e02a1a" stroke-width="1.0" stroke-linecap="round" fill="none" stroke-opacity="0.46"/><path d="M76.4 3.5l0.1 -0.5M23 69l0.1 -0.7" stroke="#c81a12" stroke-width="0.8" stroke-linecap="round" fill="none" stroke-opacity="0.48"/><path d="M42.1 76.6l0.2 -1.3" stroke="#e02a1a" stroke-width="0.9" stroke-linecap="round" fill="none" stroke-opacity="0.81"/><path d="M52.1 51.9l0.2 -1.3" stroke="#c81a12" stroke-width="0.9" stroke-linecap="round" fill="none" stroke-opacity="0.65"/><path d="M5.3 60.4l0.2 -1.4M59.1 44l0.1 -0.8" stroke="#901010" stroke-width="0.8" stroke-linecap="round" fill="none" stroke-opacity="0.58"/><path d="M12.3 67.3l0.2 -1.4" stroke="#c81a12" stroke-width="0.9" stroke-linecap="round" fill="none" stroke-opacity="0.51"/><path d="M35.2 28.8l0.2 -1.4" stroke="#e02a1a" stroke-width="0.9" stroke-linecap="round" fill="none" stroke-opacity="0.66"/><path d="M44.3 -2.4l0.1 -0.9" stroke="#901010" stroke-width="0.7" stroke-linecap="round" fill="none" stroke-opacity="0.44"/><path d="M6.2 72.1l0.2 -1.3" stroke="#901010" stroke-width="0.7" stroke-linecap="round" fill="none" stroke-opacity="0.72"/><path d="M35.9 79l0.1 -0.8" stroke="#c81a12" stroke-width="0.9" stroke-linecap="round" fill="none" stroke-opacity="0.54"/><path d="M5.4 67l0.1 -0.8" stroke="#e02a1a" stroke-width="0.9" stroke-linecap="round" fill="none" stroke-opacity="0.55"/><path d="M56.3 61.6l0.2 -1.3M38.1 10l0.1 -0.8M11.8 22.9l0.1 -0.7" stroke="#c81a12" stroke-width="0.9" stroke-linecap="round" fill="none" stroke-opacity="0.72"/><path d="M32 45.8l0.1 -0.6" stroke="#e02a1a" stroke-width="1.0" stroke-linecap="round" fill="none" stroke-opacity="0.51"/><path d="M42.6 69.7l0.2 -1" stroke="#c81a12" stroke-width="1.0" stroke-linecap="round" fill="none" stroke-opacity="0.73"/><path d="M17.5 20.1l0.2 -1" stroke="#901010" stroke-width="0.9" stroke-linecap="round" fill="none" stroke-opacity="0.64"/><path d="M13.1 58.9l0.2 -1.2" stroke="#c81a12" stroke-width="0.8" stroke-linecap="round" fill="none" stroke-opacity="0.54"/><path d="M4.9 65l0.1 -0.9" stroke="#c81a12" stroke-width="1.0" stroke-linecap="round" fill="none" stroke-opacity="0.86"/><path d="M0 39.9l0.1 -0.9" stroke="#c81a12" stroke-width="1.0" stroke-linecap="round" fill="none" stroke-opacity="0.54"/><path d="M46 68.5l0.1 -0.6" stroke="#901010" stroke-width="0.7" stroke-linecap="round" fill="none" stroke-opacity="0.63"/><path d="M68.8 68.5l0.2 -1" stroke="#c81a12" stroke-width="1.0" stroke-linecap="round" fill="none" stroke-opacity="0.47"/><path d="M37 73.7l0.1 -0.7" stroke="#901010" stroke-width="0.9" stroke-linecap="round" fill="none" stroke-opacity="0.77"/><path d="M46 22.2l0.2 -1.2M58.9 64.8l0.2 -1.1" stroke="#c81a12" stroke-width="0.8" stroke-linecap="round" fill="none" stroke-opacity="0.85"/><path d="M77.6 28l0.1 -0.8" stroke="#901010" stroke-width="0.9" stroke-linecap="round" fill="none" stroke-opacity="0.66"/><path d="M7.3 52.7l0.2 -1.2" stroke="#901010" stroke-width="0.8" stroke-linecap="round" fill="none" stroke-opacity="0.87"/><path d="M65.6 10.2l0.2 -1" stroke="#c81a12" stroke-width="0.8" stroke-linecap="round" fill="none" stroke-opacity="0.82"/><path d="M-2.8 44.3l0.2 -1.3" stroke="#901010" stroke-width="0.9" stroke-linecap="round" fill="none" stroke-opacity="0.89"/><path d="M45.4 6l0.2 -1.2" stroke="#e02a1a" stroke-width="0.9" stroke-linecap="round" fill="none" stroke-opacity="0.63"/><path d="M0.9 1l0.2 -1.1" stroke="#901010" stroke-width="0.8" stroke-linecap="round" fill="none" stroke-opacity="0.53"/><path d="M5.6 53.9l0.1 -0.9" stroke="#901010" stroke-width="0.8" stroke-linecap="round" fill="none" stroke-opacity="0.43"/><path d="M27 47.1l0.1 -0.9" stroke="#901010" stroke-width="0.7" stroke-linecap="round" fill="none" stroke-opacity="0.75"/><path d="M3 18.2l0.2 -1.3" stroke="#901010" stroke-width="1.0" stroke-linecap="round" fill="none" stroke-opacity="0.43"/><path d="M52 76.8l0.2 -1.3" stroke="#e02a1a" stroke-width="0.9" stroke-linecap="round" fill="none" stroke-opacity="0.86"/><path d="M21.5 16.7l0.2 -1.3" stroke="#c81a12" stroke-width="0.9" stroke-linecap="round" fill="none" stroke-opacity="0.71"/><path d="M0.4 69.8l0.2 -1.3" stroke="#c81a12" stroke-width="0.8" stroke-linecap="round" fill="none" stroke-opacity="0.68"/><path d="M25.2 46.4l0.1 -0.9" stroke="#901010" stroke-width="1.0" stroke-linecap="round" fill="none" stroke-opacity="0.47"/><path d="M49.5 37.9l0.2 -1.2" stroke="#e02a1a" stroke-width="1.0" stroke-linecap="round" fill="none" stroke-opacity="0.47"/><path d="M2.1 22.7l0.1 -0.8" stroke="#901010" stroke-width="1.0" stroke-linecap="round" fill="none" stroke-opacity="0.49"/><path d="M1.8 8.8l0.2 -1.2" stroke="#901010" stroke-width="0.8" stroke-linecap="round" fill="none" stroke-opacity="0.57"/><path d="M22.1 54.6l0.2 -1.2" stroke="#e02a1a" stroke-width="0.7" stroke-linecap="round" fill="none" stroke-opacity="0.85"/><path d="M25.3 66.7l0.1 -0.8" stroke="#901010" stroke-width="0.7" stroke-linecap="round" fill="none" stroke-opacity="0.88"/><path d="M16.3 4.7l0.2 -1.2" stroke="#c81a12" stroke-width="0.7" stroke-linecap="round" fill="none" stroke-opacity="0.71"/><ellipse cx="4.8" cy="67" rx="3.6" ry="7.5" fill="#ff2a1a"/></g><g id="uts2"><defs><linearGradient id="ug2" x1="0" y1="0" x2="1" y2="0"><stop offset="0" stop-color="#123e0c"/><stop offset="0.4" stop-color="#0a2607"/><stop offset="0.55" stop-color="#030c03"/><stop offset="1" stop-color="#020602"/></linearGradient></defs><rect x="0" y="0" width="76" height="76.4" fill="url(#ug2)"/><path d="M-3.5 96.9l6.9 -36.4" stroke="#39b026" stroke-width="1.2" stroke-linecap="round" fill="none" stroke-opacity="0.24"/><path d="M10.8 42.5l11.5 -38" stroke="#2a8a1a" stroke-width="1.0" stroke-linecap="round" fill="none" stroke-opacity="0.22"/><path d="M64 75.9l5.2 -24.1" stroke="#2a8a1a" stroke-width="0.6" stroke-linecap="round" fill="none" stroke-opacity="0.47"/><path d="M45.3 30.5l4.5 -20.1" stroke="#39b026" stroke-width="0.8" stroke-linecap="round" fill="none" stroke-opacity="0.36"/><path d="M67.1 42l3 -12" stroke="#4ed030" stroke-width="0.9" stroke-linecap="round" fill="none" stroke-opacity="0.39"/><path d="M22.2 15.3l5.2 -16.6" stroke="#4ed030" stroke-width="1.5" stroke-linecap="round" fill="none" stroke-opacity="0.34"/><path d="M14.6 48.6l4.6 -24.3" stroke="#4ed030" stroke-width="1.1" stroke-linecap="round" fill="none" stroke-opacity="0.4"/><path d="M34.8 23.3l3.9 -14.4" stroke="#39b026" stroke-width="0.6" stroke-linecap="round" fill="none" stroke-opacity="0.52"/><path d="M7.1 39.5l4.2 -19.2" stroke="#2a8a1a" stroke-width="0.6" stroke-linecap="round" fill="none" stroke-opacity="0.31"/><path d="M0 26.5l10 -34.7" stroke="#2a8a1a" stroke-width="1.3" stroke-linecap="round" fill="none" stroke-opacity="0.36"/><path d="M58.9 35.1l2.3 -13.3" stroke="#2a8a1a" stroke-width="1.3" stroke-linecap="round" fill="none" stroke-opacity="0.52"/><path d="M1.1 22.5l10.3 -33.8" stroke="#4ed030" stroke-width="0.9" stroke-linecap="round" fill="none" stroke-opacity="0.25"/><path d="M32.7 80.1l7.1 -32.5" stroke="#2a8a1a" stroke-width="1.4" stroke-linecap="round" fill="none" stroke-opacity="0.51"/><path d="M54.7 87l7.2 -28.1" stroke="#1e6a14" stroke-width="1.2" stroke-linecap="round" fill="none" stroke-opacity="0.22"/><path d="M23 59.2l4.1 -13.4" stroke="#2a8a1a" stroke-width="1.6" stroke-linecap="round" fill="none" stroke-opacity="0.23"/><path d="M31.7 29.9l5.3 -18.2" stroke="#4ed030" stroke-width="0.6" stroke-linecap="round" fill="none" stroke-opacity="0.23"/><path d="M37.2 88.3l9.2 -31.9" stroke="#1e6a14" stroke-width="0.8" stroke-linecap="round" fill="none" stroke-opacity="0.52"/><path d="M9.1 80.8l3 -14.1" stroke="#4ed030" stroke-width="1.3" stroke-linecap="round" fill="none" stroke-opacity="0.5"/><path d="M33.5 72.8l8.2 -34" stroke="#1e6a14" stroke-width="0.6" stroke-linecap="round" fill="none" stroke-opacity="0.27"/><path d="M-1.2 75.5l7.5 -23.7" stroke="#2a8a1a" stroke-width="1.0" stroke-linecap="round" fill="none" stroke-opacity="0.21"/><path d="M7.2 75.5l7.6 -28.6" stroke="#4ed030" stroke-width="1.3" stroke-linecap="round" fill="none" stroke-opacity="0.36"/><path d="M0.8 24.1l5.8 -31.6" stroke="#2a8a1a" stroke-width="0.8" stroke-linecap="round" fill="none" stroke-opacity="0.35"/><path d="M3.7 73.3l4.9 -17.1" stroke="#1e6a14" stroke-width="0.8" stroke-linecap="round" fill="none" stroke-opacity="0.22"/><path d="M49.8 86.2l8.3 -34.3" stroke="#4ed030" stroke-width="0.6" stroke-linecap="round" fill="none" stroke-opacity="0.29"/><path d="M63.3 33.8l2.7 -14.3" stroke="#2a8a1a" stroke-width="1.5" stroke-linecap="round" fill="none" stroke-opacity="0.24"/><path d="M23.8 67l8.1 -25.3" stroke="#50d034" stroke-width="1.0" stroke-linecap="round" fill="none" stroke-opacity="0.35"/><path d="M-5.6 76.3l9 -23.8" stroke="#62e040" stroke-width="1.0" stroke-linecap="round" fill="none" stroke-opacity="0.3"/><path d="M1.9 22l6.2 -19.9" stroke="#3cb026" stroke-width="1.1" stroke-linecap="round" fill="none" stroke-opacity="0.38"/><path d="M28 70.9l2.7 -13.3" stroke="#3cb026" stroke-width="1.1" stroke-linecap="round" fill="none" stroke-opacity="0.41"/><path d="M27.4 71l8.1 -25.3" stroke="#62e040" stroke-width="1.4" stroke-linecap="round" fill="none" stroke-opacity="0.45"/><path d="M9.7 62.5l5.6 -14.9" stroke="#50d034" stroke-width="1.2" stroke-linecap="round" fill="none" stroke-opacity="0.49"/><path d="M2.5 53.8l4.9 -14.1" stroke="#62e040" stroke-width="1.0" stroke-linecap="round" fill="none" stroke-opacity="0.33"/><path d="M11.6 44.1l2.2 -8.5" stroke="#50d034" stroke-width="1.3" stroke-linecap="round" fill="none" stroke-opacity="0.63"/><path d="M11 64.7l3.3 -15.3" stroke="#3cb026" stroke-width="1.2" stroke-linecap="round" fill="none" stroke-opacity="0.42"/><path d="M13.3 63.5l8.5 -24.3" stroke="#62e040" stroke-width="0.9" stroke-linecap="round" fill="none" stroke-opacity="0.48"/><path d="M35.8 15.1l5.3 -20.5M30.2 15.1l2.7 -13.3" stroke="#62e040" stroke-width="1.4" stroke-linecap="round" fill="none" stroke-opacity="0.31"/><path d="M8.3 63.7l10.2 -27.5M33.4 20.2l5.4 -21.3" stroke="#62e040" stroke-width="0.9" stroke-linecap="round" fill="none" stroke-opacity="0.37"/><path d="M6.4 58.3l2.6 -10.7" stroke="#3cb026" stroke-width="1.2" stroke-linecap="round" fill="none" stroke-opacity="0.63"/><path d="M26.4 72.2l0.3 -1.1" stroke="#3cb026" stroke-width="0.9" stroke-linecap="round" fill="none" stroke-opacity="0.34"/><path d="M34.4 23l0.5 -1.6" stroke="#3cb026" stroke-width="0.9" stroke-linecap="round" fill="none" stroke-opacity="0.7"/><path d="M37 -2.2l0.4 -1.3M3.4 50.6l0.3 -1" stroke="#3cb026" stroke-width="0.9" stroke-linecap="round" fill="none" stroke-opacity="0.33"/><path d="M4.2 14.4l0.3 -1.2" stroke="#2a8a1a" stroke-width="0.9" stroke-linecap="round" fill="none" stroke-opacity="0.56"/><path d="M5.9 72.2l0.4 -1.2" stroke="#3cb026" stroke-width="1.0" stroke-linecap="round" fill="none" stroke-opacity="0.35"/><path d="M62.7 24l0.5 -1.9" stroke="#2a8a1a" stroke-width="0.9" stroke-linecap="round" fill="none" stroke-opacity="0.64"/><path d="M11.5 9l0.4 -1.5M51.8 62l0.5 -1.6" stroke="#3cb026" stroke-width="0.9" stroke-linecap="round" fill="none" stroke-opacity="0.62"/><path d="M21.2 58.2l0.4 -1.2" stroke="#2a8a1a" stroke-width="1.0" stroke-linecap="round" fill="none" stroke-opacity="0.58"/><path d="M-1.9 20.1l0.5 -1.7" stroke="#3cb026" stroke-width="1.0" stroke-linecap="round" fill="none" stroke-opacity="0.39"/><path d="M33.7 39.9l0.5 -1.9M28.7 63l0.4 -1.4" stroke="#3cb026" stroke-width="0.8" stroke-linecap="round" fill="none" stroke-opacity="0.32"/><path d="M75.4 29.9l0.4 -1.3" stroke="#3cb026" stroke-width="0.9" stroke-linecap="round" fill="none" stroke-opacity="0.49"/><path d="M15.6 43.6l0.3 -1.1" stroke="#2a8a1a" stroke-width="0.7" stroke-linecap="round" fill="none" stroke-opacity="0.58"/><path d="M-3.1 38.2l0.4 -1.3" stroke="#2a8a1a" stroke-width="1.2" stroke-linecap="round" fill="none" stroke-opacity="0.59"/><path d="M39 56.1l0.3 -1" stroke="#3cb026" stroke-width="1.0" stroke-linecap="round" fill="none" stroke-opacity="0.47"/><path d="M2 41l0.2 -0.7M44.5 20.7l0.3 -1" stroke="#3cb026" stroke-width="1.0" stroke-linecap="round" fill="none" stroke-opacity="0.52"/><path d="M3.3 56.2l0.5 -1.8" stroke="#3cb026" stroke-width="0.8" stroke-linecap="round" fill="none" stroke-opacity="0.69"/><path d="M9.1 56.6l0.5 -1.8M21.8 27.1l0.2 -0.8" stroke="#3cb026" stroke-width="1.0" stroke-linecap="round" fill="none" stroke-opacity="0.34"/><path d="M43.5 19.5l0.4 -1.5M0.6 43.8l0.5 -1.6" stroke="#3cb026" stroke-width="1.0" stroke-linecap="round" fill="none" stroke-opacity="0.42"/><path d="M7.2 76.4l0.2 -0.8M43.3 58.3l0.3 -1" stroke="#3cb026" stroke-width="0.9" stroke-linecap="round" fill="none" stroke-opacity="0.32"/><path d="M40.3 61.6l0.5 -1.7M20.7 46.9l0.4 -1.3M18.9 -2.6l0.2 -0.7M50 71.7l0.2 -0.7" stroke="#3cb026" stroke-width="0.8" stroke-linecap="round" fill="none" stroke-opacity="0.37"/><path d="M32.4 64.3l0.4 -1.5" stroke="#2a8a1a" stroke-width="1.1" stroke-linecap="round" fill="none" stroke-opacity="0.65"/><path d="M33.1 11.5l0.4 -1.5M-1.8 64.7l0.5 -1.8M32 3.7l0.5 -1.7" stroke="#2a8a1a" stroke-width="0.9" stroke-linecap="round" fill="none" stroke-opacity="0.6"/><path d="M8.9 61.4l0.5 -1.6" stroke="#2a8a1a" stroke-width="0.8" stroke-linecap="round" fill="none" stroke-opacity="0.41"/><path d="M-0.9 56.3l0.2 -0.8M29.3 21.8l0.4 -1.4" stroke="#3cb026" stroke-width="1.0" stroke-linecap="round" fill="none" stroke-opacity="0.68"/><path d="M31.4 35.6l0.4 -1.3M25.3 57.6l0.3 -1" stroke="#3cb026" stroke-width="0.8" stroke-linecap="round" fill="none" stroke-opacity="0.33"/><path d="M9.5 46.7l0.2 -0.7" stroke="#3cb026" stroke-width="0.7" stroke-linecap="round" fill="none" stroke-opacity="0.33"/><path d="M-1.1 36.9l0.3 -0.9" stroke="#3cb026" stroke-width="1.2" stroke-linecap="round" fill="none" stroke-opacity="0.52"/><path d="M11.3 79.1l0.2 -0.6M23.3 12l0.4 -1.5" stroke="#2a8a1a" stroke-width="1.1" stroke-linecap="round" fill="none" stroke-opacity="0.45"/><path d="M27 78.5l0.5 -1.6M-0.6 28l0.5 -1.8" stroke="#2a8a1a" stroke-width="1.1" stroke-linecap="round" fill="none" stroke-opacity="0.46"/><path d="M3.4 28.8l0.4 -1.6" stroke="#2a8a1a" stroke-width="1.2" stroke-linecap="round" fill="none" stroke-opacity="0.67"/><path d="M19.7 19.5l0.5 -1.7" stroke="#3cb026" stroke-width="1.1" stroke-linecap="round" fill="none" stroke-opacity="0.6"/><path d="M58.8 34.1l0.5 -1.6" stroke="#2a8a1a" stroke-width="1.1" stroke-linecap="round" fill="none" stroke-opacity="0.54"/><path d="M42.9 38.9l0.5 -1.8" stroke="#3cb026" stroke-width="1.1" stroke-linecap="round" fill="none" stroke-opacity="0.3"/><path d="M41.6 65.8l0.5 -1.7" stroke="#3cb026" stroke-width="0.7" stroke-linecap="round" fill="none" stroke-opacity="0.43"/><path d="M32 55.9l0.3 -1.1M31.1 53.5l0.4 -1.5" stroke="#3cb026" stroke-width="0.8" stroke-linecap="round" fill="none" stroke-opacity="0.34"/><path d="M2.6 24.1l0.3 -1.1" stroke="#2a8a1a" stroke-width="1.2" stroke-linecap="round" fill="none" stroke-opacity="0.66"/><path d="M15.2 -1.6l0.3 -1.1" stroke="#2a8a1a" stroke-width="0.8" stroke-linecap="round" fill="none" stroke-opacity="0.63"/><path d="M1.5 36.2l0.4 -1.6" stroke="#2a8a1a" stroke-width="0.9" stroke-linecap="round" fill="none" stroke-opacity="0.47"/><path d="M8.6 14.3l0.5 -1.9M45.1 6.3l0.5 -1.8" stroke="#2a8a1a" stroke-width="0.8" stroke-linecap="round" fill="none" stroke-opacity="0.57"/><path d="M38.4 14.5l0.2 -0.7" stroke="#3cb026" stroke-width="1.1" stroke-linecap="round" fill="none" stroke-opacity="0.51"/><path d="M42 55.9l0.5 -1.9" stroke="#3cb026" stroke-width="1.0" stroke-linecap="round" fill="none" stroke-opacity="0.43"/><path d="M22.6 40.1l0.3 -1" stroke="#3cb026" stroke-width="0.7" stroke-linecap="round" fill="none" stroke-opacity="0.61"/><path d="M43.7 66.1l0.3 -1.2M51.5 69.4l0.4 -1.3" stroke="#2a8a1a" stroke-width="1.0" stroke-linecap="round" fill="none" stroke-opacity="0.47"/><path d="M8.5 11.3l0.5 -1.7M31.3 42.4l0.3 -0.9" stroke="#2a8a1a" stroke-width="0.9" stroke-linecap="round" fill="none" stroke-opacity="0.33"/><path d="M11.3 77.9l0.6 -1.9" stroke="#3cb026" stroke-width="1.0" stroke-linecap="round" fill="none" stroke-opacity="0.38"/><path d="M5.5 60.1l0.5 -1.7" stroke="#2a8a1a" stroke-width="0.8" stroke-linecap="round" fill="none" stroke-opacity="0.32"/><path d="M21.9 -0.1l0.5 -1.6" stroke="#3cb026" stroke-width="0.9" stroke-linecap="round" fill="none" stroke-opacity="0.57"/><path d="M0.3 45.7l0.4 -1.3" stroke="#2a8a1a" stroke-width="0.8" stroke-linecap="round" fill="none" stroke-opacity="0.44"/><path d="M43.1 5.4l0.5 -1.6" stroke="#2a8a1a" stroke-width="0.8" stroke-linecap="round" fill="none" stroke-opacity="0.65"/><path d="M6.7 54.5l0.2 -0.8M22 34.5l0.4 -1.4" stroke="#2a8a1a" stroke-width="1.1" stroke-linecap="round" fill="none" stroke-opacity="0.4"/><path d="M71.9 48.7l0.3 -1" stroke="#2a8a1a" stroke-width="1.2" stroke-linecap="round" fill="none" stroke-opacity="0.55"/><path d="M12 27.6l0.2 -0.6" stroke="#2a8a1a" stroke-width="1.1" stroke-linecap="round" fill="none" stroke-opacity="0.48"/><path d="M27.5 21.2l0.4 -1.3" stroke="#3cb026" stroke-width="0.8" stroke-linecap="round" fill="none" stroke-opacity="0.56"/><path d="M33.1 73.9l0.2 -0.8" stroke="#2a8a1a" stroke-width="0.7" stroke-linecap="round" fill="none" stroke-opacity="0.56"/><path d="M39.7 -2.4l0.3 -1" stroke="#3cb026" stroke-width="1.0" stroke-linecap="round" fill="none" stroke-opacity="0.64"/><path d="M1.8 49.8l0.2 -0.6" stroke="#3cb026" stroke-width="0.9" stroke-linecap="round" fill="none" stroke-opacity="0.35"/><path d="M0.2 42.2l0.4 -1.4" stroke="#3cb026" stroke-width="0.8" stroke-linecap="round" fill="none" stroke-opacity="0.68"/><path d="M20.2 51.7l0.4 -1.5" stroke="#3cb026" stroke-width="0.7" stroke-linecap="round" fill="none" stroke-opacity="0.7"/><path d="M66.6 25.1l0.3 -1" stroke="#3cb026" stroke-width="1.1" stroke-linecap="round" fill="none" stroke-opacity="0.58"/><path d="M32.6 17.5l0.5 -1.8" stroke="#2a8a1a" stroke-width="1.0" stroke-linecap="round" fill="none" stroke-opacity="0.51"/><path d="M36.7 19.4l0.3 -1.1M34.7 54.5l0.5 -1.9" stroke="#2a8a1a" stroke-width="1.1" stroke-linecap="round" fill="none" stroke-opacity="0.66"/><path d="M12 60.2l0.4 -1.3" stroke="#3cb026" stroke-width="1.1" stroke-linecap="round" fill="none" stroke-opacity="0.35"/><path d="M47.9 17l0.2 -0.8" stroke="#2a8a1a" stroke-width="1.1" stroke-linecap="round" fill="none" stroke-opacity="0.51"/><path d="M9.4 0.9l0.2 -0.8" stroke="#2a8a1a" stroke-width="0.8" stroke-linecap="round" fill="none" stroke-opacity="0.3"/><path d="M25.5 77.2l0.5 -1.8" stroke="#2a8a1a" stroke-width="1.0" stroke-linecap="round" fill="none" stroke-opacity="0.65"/><path d="M9.8 48.6l0.4 -1.6" stroke="#3cb026" stroke-width="1.2" stroke-linecap="round" fill="none" stroke-opacity="0.49"/><path d="M8.3 62.4l0.3 -1.2" stroke="#3cb026" stroke-width="0.7" stroke-linecap="round" fill="none" stroke-opacity="0.3"/><path d="M7.7 65.7l0.4 -1.6" stroke="#3cb026" stroke-width="1.0" stroke-linecap="round" fill="none" stroke-opacity="0.32"/><path d="M28.6 23.9l0.5 -1.6" stroke="#3cb026" stroke-width="1.0" stroke-linecap="round" fill="none" stroke-opacity="0.61"/><path d="M22.2 79.3l0.5 -1.8" stroke="#2a8a1a" stroke-width="0.7" stroke-linecap="round" fill="none" stroke-opacity="0.69"/><path d="M5.3 53.8l0.5 -1.7" stroke="#2a8a1a" stroke-width="1.1" stroke-linecap="round" fill="none" stroke-opacity="0.63"/><path d="M12.4 49.8l0.4 -1.5" stroke="#2a8a1a" stroke-width="0.8" stroke-linecap="round" fill="none" stroke-opacity="0.64"/><path d="M39.6 71.3l0.2 -0.6" stroke="#2a8a1a" stroke-width="0.9" stroke-linecap="round" fill="none" stroke-opacity="0.63"/><path d="M17.1 70.2l0.2 -0.6" stroke="#2a8a1a" stroke-width="0.8" stroke-linecap="round" fill="none" stroke-opacity="0.37"/><path d="M8.5 40.6l0.5 -1.6" stroke="#3cb026" stroke-width="0.8" stroke-linecap="round" fill="none" stroke-opacity="0.55"/><path d="M15.9 64.3l0.2 -0.7" stroke="#3cb026" stroke-width="1.2" stroke-linecap="round" fill="none" stroke-opacity="0.66"/><path d="M50.1 -1.4l0.5 -1.7" stroke="#2a8a1a" stroke-width="0.7" stroke-linecap="round" fill="none" stroke-opacity="0.53"/><path d="M78.1 41.3l0.5 -1.9" stroke="#2a8a1a" stroke-width="1.1" stroke-linecap="round" fill="none" stroke-opacity="0.56"/><path d="M38.7 19.1l0.5 -1.7M0.9 67.2l0.3 -0.9" stroke="#2a8a1a" stroke-width="1.0" stroke-linecap="round" fill="none" stroke-opacity="0.44"/><path d="M20.3 33.2l0.2 -0.8" stroke="#2a8a1a" stroke-width="1.1" stroke-linecap="round" fill="none" stroke-opacity="0.69"/><path d="M63.1 62.9l0.3 -1.1" stroke="#3cb026" stroke-width="1.1" stroke-linecap="round" fill="none" stroke-opacity="0.48"/><path d="M-2.9 13.9l0.4 -1.5" stroke="#3cb026" stroke-width="1.0" stroke-linecap="round" fill="none" stroke-opacity="0.59"/><path d="M17.6 75.2l0.5 -1.6" stroke="#3cb026" stroke-width="0.9" stroke-linecap="round" fill="none" stroke-opacity="0.68"/><path d="M14.2 75.4l0.2 -0.6" stroke="#2a8a1a" stroke-width="0.8" stroke-linecap="round" fill="none" stroke-opacity="0.35"/><path d="M10.4 3.7l0.2 -0.6" stroke="#2a8a1a" stroke-width="0.7" stroke-linecap="round" fill="none" stroke-opacity="0.38"/><path d="M9 30.2l0.4 -1.5" stroke="#3cb026" stroke-width="0.7" stroke-linecap="round" fill="none" stroke-opacity="0.69"/><path d="M-0.5 27.9l0.2 -0.8" stroke="#2a8a1a" stroke-width="1.1" stroke-linecap="round" fill="none" stroke-opacity="0.57"/><path d="M3.4 77.2l0.5 -1.9" stroke="#2a8a1a" stroke-width="0.8" stroke-linecap="round" fill="none" stroke-opacity="0.51"/><path d="M43.4 44.8l0.5 -1.9" stroke="#2a8a1a" stroke-width="1.2" stroke-linecap="round" fill="none" stroke-opacity="0.6"/><path d="M-3.2 20.9l0.4 -1.5" stroke="#3cb026" stroke-width="1.1" stroke-linecap="round" fill="none" stroke-opacity="0.54"/><path d="M-0.5 30.4l0.2 -0.8" stroke="#2a8a1a" stroke-width="1.0" stroke-linecap="round" fill="none" stroke-opacity="0.69"/><path d="M-1.8 6.9l0.3 -1.1" stroke="#2a8a1a" stroke-width="1.2" stroke-linecap="round" fill="none" stroke-opacity="0.65"/><path d="M-2.3 16.2l0.5 -1.9" stroke="#2a8a1a" stroke-width="0.7" stroke-linecap="round" fill="none" stroke-opacity="0.6"/><path d="M60.2 33.9l0.4 -1.5" stroke="#2a8a1a" stroke-width="1.0" stroke-linecap="round" fill="none" stroke-opacity="0.35"/><path d="M8.2 56.5l0.2 -0.8" stroke="#3cb026" stroke-width="0.7" stroke-linecap="round" fill="none" stroke-opacity="0.48"/><path d="M34.1 51.3l0.2 -0.9M43.6 30.3l0.3 -1.2M20 49.2l0.4 -1.2" stroke="#2a8a1a" stroke-width="0.9" stroke-linecap="round" fill="none" stroke-opacity="0.69"/><path d="M-2.1 70.1l0.4 -1.5" stroke="#2a8a1a" stroke-width="1.0" stroke-linecap="round" fill="none" stroke-opacity="0.59"/><path d="M-1 14.1l0.4 -1.4" stroke="#3cb026" stroke-width="0.8" stroke-linecap="round" fill="none" stroke-opacity="0.49"/><path d="M-1.5 67.2l0.4 -1.5" stroke="#3cb026" stroke-width="0.9" stroke-linecap="round" fill="none" stroke-opacity="0.42"/><path d="M16.3 77.7l0.5 -1.7" stroke="#2a8a1a" stroke-width="0.7" stroke-linecap="round" fill="none" stroke-opacity="0.57"/><path d="M52.9 30.5l0.3 -1" stroke="#2a8a1a" stroke-width="0.8" stroke-linecap="round" fill="none" stroke-opacity="0.62"/><path d="M1.1 31.8l0.3 -1" stroke="#3cb026" stroke-width="0.9" stroke-linecap="round" fill="none" stroke-opacity="0.63"/><path d="M17.4 72.9l0.2 -0.6" stroke="#3cb026" stroke-width="1.1" stroke-linecap="round" fill="none" stroke-opacity="0.5"/><path d="M3 54.9l0.5 -1.8" stroke="#2a8a1a" stroke-width="1.0" stroke-linecap="round" fill="none" stroke-opacity="0.45"/><path d="M0.1 23.7l0.4 -1.4" stroke="#2a8a1a" stroke-width="0.9" stroke-linecap="round" fill="none" stroke-opacity="0.37"/><path d="M25 61.6l0.2 -0.6" stroke="#2a8a1a" stroke-width="1.0" stroke-linecap="round" fill="none" stroke-opacity="0.42"/><path d="M-2 72.2l0.2 -0.8" stroke="#2a8a1a" stroke-width="0.7" stroke-linecap="round" fill="none" stroke-opacity="0.35"/><path d="M61.3 66.1l0.2 -0.7" stroke="#3cb026" stroke-width="0.8" stroke-linecap="round" fill="none" stroke-opacity="0.44"/><path d="M30.2 30.9l0.2 -0.6" stroke="#3cb026" stroke-width="1.1" stroke-linecap="round" fill="none" stroke-opacity="0.4"/><path d="M2.4 50.6l0.3 -0.9" stroke="#3cb026" stroke-width="1.0" stroke-linecap="round" fill="none" stroke-opacity="0.37"/><path d="M15.9 77.3l0.3 -0.9" stroke="#3cb026" stroke-width="1.2" stroke-linecap="round" fill="none" stroke-opacity="0.63"/><path d="M33.9 67.3l0.2 -0.6" stroke="#2a8a1a" stroke-width="1.1" stroke-linecap="round" fill="none" stroke-opacity="0.62"/><path d="M24.5 51.5l0.2 -0.7" stroke="#3cb026" stroke-width="0.8" stroke-linecap="round" fill="none" stroke-opacity="0.54"/><path d="M38.5 -0.2l0.5 -1.9" stroke="#2a8a1a" stroke-width="0.9" stroke-linecap="round" fill="none" stroke-opacity="0.42"/><path d="M19.7 55.6l0.5 -1.6" stroke="#2a8a1a" stroke-width="1.0" stroke-linecap="round" fill="none" stroke-opacity="0.63"/><path d="M10.7 24.1l0.2 -0.7" stroke="#3cb026" stroke-width="1.1" stroke-linecap="round" fill="none" stroke-opacity="0.44"/><path d="M-2 7.4l0.4 -1.5" stroke="#3cb026" stroke-width="1.2" stroke-linecap="round" fill="none" stroke-opacity="0.36"/></g></defs>
<defs><clipPath id="fc00"><rect x="17.1" y="597" width="76.4" height="76.8"/></clipPath></defs>
<g clip-path="url(#fc00)">
<rect x="17.1" y="597" width="76.4" height="76.8" fill="#000" />
<path d="M35.1 673.8 L69.1 673.8 L93.5 619.0 L93.5 597.0 L75.1 597.0Z" fill="#0c0c4a" fill-opacity="0.45"/>
<path d="M37.4 607.1l2.1 -4.3M36.2 600.3l2.2 -4.5M24.1 632.8l1.1 -2.3M78.5 623.6l2.2 -4.4M40 665.1l1.6 -3.3M64.9 652.8l2.2 -4.6M30.1 630.6l2.2 -4.6M83.9 601.2l2.8 -5.7M13.4 602.6l1.8 -3.7" stroke="#2c2cf0" stroke-width="0.9" stroke-linecap="round" fill="none" stroke-opacity="0.95"/><path d="M52.8 636.9l2.2 -4.6M27.6 661.1l1.4 -2.9M63.4 653.6l2.8 -5.8M41.5 611.9l1.7 -3.5M34.2 630.6l1.9 -3.8M69.9 607l2.7 -5.5M28.1 670.5l1.4 -3M88 621.3l2.6 -5.4M77.2 622.6l1.9 -3.9M22.4 666l2.4 -4.9M28.6 675.1l2.5 -5.1M50 672l1.3 -2.7M60.6 613.9l2.2 -4.5M78.9 647.3l2.8 -5.8M42.3 649.5l2.5 -5M74.5 662l1.6 -3.3M59.9 601.3l1.2 -2.5M18.3 627.4l2.5 -5.1M90.2 600.3l1.3 -2.7M92 601.8l1.9 -3.9M34.2 642.6l1.6 -3.3M69.3 624l2.9 -6M15 616.9l2 -4.1M16.5 613.5l2.1 -4.3M27.7 667l2.1 -4.4M81.4 632.5l2.6 -5.4M25.5 656l1.7 -3.5M60.4 647.4l2.6 -5.4M79.9 647.2l2.4 -5M24.2 643.4l2.8 -5.8M47.1 607.5l2.1 -4.3M22.5 661.3l1.5 -3.2M46 674.1l1.2 -2.5M49 650.1l1.2 -2.4M42.8 657.4l1.5 -3M74.5 644l2 -4.1M79.5 600.3l2.3 -4.7M20.2 610.7l2.9 -6M95 596.5l1.7 -3.5M72.3 648.6l2 -4.1M62.3 660.8l2.5 -5" stroke="#3a3aff" stroke-width="0.8" stroke-linecap="round" fill="none" stroke-opacity="0.95"/><path d="M93.2 604.3l1.6 -3.3M88.7 620.3l2.9 -5.9M77.4 618.8l1.2 -2.5M66.8 600.6l3 -6.2M34.3 601.2l1.6 -3.2M22.5 652l2.6 -5.3M54 602.9l1.5 -3.2M51.8 613.7l1.4 -2.8M39.1 679.3l2.6 -5.4M89.6 629.4l2.7 -5.6M40.1 624l1.2 -2.4M66.5 669.3l2.5 -5.1M77.6 631.1l3 -6.2M22 640.2l1.3 -2.8M64.4 655.8l3 -6.2M84.2 625.9l2.4 -5M46.6 610.5l1.5 -3M61.4 664.2l2.4 -4.9" stroke="#2c2cf0" stroke-width="0.8" stroke-linecap="round" fill="none" stroke-opacity="0.95"/><path d="M88.3 630.4l2.9 -5.9M13.5 664.3l1.5 -3.1M18.9 631.2l2.9 -6M57.9 663.4l2.9 -6M63.9 612.9l1.6 -3.3M14.6 672l2.9 -5.9M57 662.1l1.8 -3.6M87.8 629.7l2.6 -5.3M17.1 653.5l2.6 -5.3M74.9 600.8l1.3 -2.6M92.7 612.7l1.6 -3.3M50.2 651.8l2 -4.2M72.2 620l1.3 -2.6M15 606l2.7 -5.5M28.5 626.3l1.8 -3.7M74.2 673l1.5 -3.1M76.4 633.6l3 -6.2M80.4 650.6l1.2 -2.4M72.7 601.3l2 -4.1M30.5 598.2l2.9 -6" stroke="#4a3cff" stroke-width="0.8" stroke-linecap="round" fill="none" stroke-opacity="0.95"/><path d="M58.8 648.5l1.4 -2.9M80.8 612.9l2.6 -5.4M24.1 674.9l2.4 -5M89.2 597.7l1.5 -3M66.1 595.7l1.2 -2.5M54.1 640.7l1.1 -2.3M23.1 635.1l2.5 -5.2M53 655.3l1.8 -3.6M43.8 643.1l2.9 -6M63.9 660.8l2.6 -5.3" stroke="#5a4aff" stroke-width="0.7" stroke-linecap="round" fill="none" stroke-opacity="0.95"/><path d="M31.3 603.4l2.9 -5.9M48.4 668.2l1.9 -4M48 617l1.4 -2.9M46.6 674.8l2 -4M32.8 618.7l1.3 -2.6M17 629l2.1 -4.2M60 603.9l2.8 -5.7M45.5 615.7l1.9 -4M68.1 614.4l2.1 -4.3M84.3 636.6l1.6 -3.3M14.9 598.7l1.3 -2.7M95 602.9l2.3 -4.7" stroke="#3a3aff" stroke-width="0.7" stroke-linecap="round" fill="none" stroke-opacity="0.95"/><path d="M25.4 652.2l1.5 -3.1M22.5 647.7l3 -6.1M22.4 653.1l3 -6.1M49.6 644.1l2.9 -6M73.5 612.3l1.4 -2.8M42.6 601.8l2.9 -5.9M18.8 637.3l1.8 -3.6M30.4 674.4l2.1 -4.3M79.6 637.6l2.7 -5.6M86.3 602.5l2 -4.2" stroke="#4a3cff" stroke-width="0.9" stroke-linecap="round" fill="none" stroke-opacity="0.95"/><path d="M70.5 661.6l2.9 -5.9M19.8 676.2l1.6 -3.2M94.3 601.8l1.8 -3.8M78 642.3l2.7 -5.6M41 639.9l1.6 -3.3M23 659.8l1.3 -2.6M49.5 614.7l2.5 -5.1M75 641.7l1.5 -3.1M52.5 596.9l1.9 -3.8M48.4 613.2l1.3 -2.7M44.8 630.4l1.9 -3.9" stroke="#4a3cff" stroke-width="0.7" stroke-linecap="round" fill="none" stroke-opacity="0.95"/><path d="M58 623.1l2 -4M57.1 669.5l2.3 -4.6M49 653.5l2 -4.2M58.1 606.2l2.4 -5M30.4 635.5l1.2 -2.4M20.5 630.6l1.2 -2.5M66.2 642.1l1.6 -3.3M85.8 612.4l1.7 -3.5M81.2 603.3l2.5 -5M39.4 662.9l1.5 -3M75.2 666.1l1.4 -2.9M81.5 603.7l2.1 -4.4M74.1 647.3l1.9 -3.9M14.8 612.6l1.2 -2.5M37.6 617.8l1.9 -3.9M75.5 628.4l2.9 -5.9M14.1 664.6l1.1 -2.3" stroke="#5a4aff" stroke-width="0.8" stroke-linecap="round" fill="none" stroke-opacity="0.95"/><path d="M30.1 654l1.3 -2.7M66.2 672l1.5 -3.1M50.2 653.3l3 -6.1M85.9 603.5l1.4 -2.9M48.8 633.1l2.4 -5M56.7 624.9l1.5 -3M62.8 649.5l1.4 -2.8M90.5 600l2.7 -5.6M87.4 637.6l1.7 -3.5" stroke="#2c2cf0" stroke-width="0.7" stroke-linecap="round" fill="none" stroke-opacity="0.95"/><path d="M15.8 636.4l2.2 -4.4M71.3 651.9l2.2 -4.6M34.7 606.4l2.4 -4.9M59.9 611.5l2.9 -5.8M48.2 671.6l1.5 -3M30.3 640.8l2 -4.2M43 597.5l1.5 -3.1M42 618.7l1.5 -3.2M36.6 662.3l2.2 -4.5M31 629.9l1.4 -2.9M68.3 653.4l1.3 -2.6M58.7 653.4l2.9 -5.9M65.4 653.7l2.9 -5.9" stroke="#5a4aff" stroke-width="0.9" stroke-linecap="round" fill="none" stroke-opacity="0.95"/><path d="M67.2 652.6l1.3 -2.7M49.4 636.4l1.2 -2.4M76.9 643.9l2.1 -4.2M94.4 614.7l2.8 -5.8M53.5 630.2l2.3 -4.7M50.5 620.6l1.7 -3.5M66.9 621.9l1.6 -3.2M93.3 622l1.5 -3M54.4 618.2l1.8 -3.8M42.3 664.7l1.6 -3.4M46.4 601.6l2.3 -4.6M90.6 619.7l3 -6.1M57.4 627.1l2.3 -4.8M72.6 672l2.7 -5.6M90.6 627.7l1.4 -2.8" stroke="#3a3aff" stroke-width="0.9" stroke-linecap="round" fill="none" stroke-opacity="0.95"/>
<path d="M53.7 608.1l3.3 -6.8M14.1 641.4l1.7 -3.4M65.6 614.7l2.5 -5.2" stroke="#c03ad8" stroke-width="0.9" stroke-linecap="round" fill="none" stroke-opacity="0.85"/><path d="M91.6 622.2l2.4 -5M13.5 660.9l3.4 -6.9M18.8 676.9l2.5 -5.2M34.3 655.8l3.4 -6.9M20.1 643.7l1.9 -3.9M58.8 646.7l2.7 -5.6M38 604.1l2.4 -4.9M22 632.3l2.9 -5.9M89.5 605.6l3.2 -6.5" stroke="#d03070" stroke-width="0.7" stroke-linecap="round" fill="none" stroke-opacity="0.85"/><path d="M33.4 635.7l1.8 -3.6M67.9 628.9l2.8 -5.7M29.1 642.7l3.3 -6.8M24.4 616.7l3.3 -6.7M39.9 635.2l2.4 -4.9" stroke="#a02060" stroke-width="0.8" stroke-linecap="round" fill="none" stroke-opacity="0.85"/><path d="M65.9 610.6l1.9 -4M62 621.5l1.5 -3M24.9 606l2.2 -4.5M72.7 597.3l3 -6.2" stroke="#a02060" stroke-width="0.6" stroke-linecap="round" fill="none" stroke-opacity="0.85"/><path d="M42.1 656.3l1.7 -3.6M56.1 614.4l1.9 -3.8M29.4 605.3l3.4 -7.1M35.7 653.8l3.2 -6.5M33.5 610.6l2.1 -4.2" stroke="#c03ad8" stroke-width="0.8" stroke-linecap="round" fill="none" stroke-opacity="0.85"/><path d="M32.4 622.8l2.8 -5.7M31 676.3l2.7 -5.6M40.5 649.6l1.9 -4M29.1 657.3l3.2 -6.5M66.1 635.5l3.4 -7M73.5 609.9l2.9 -5.9M71.8 658.5l2.2 -4.5M20.9 666.2l2.2 -4.5M34.9 629.9l3.4 -6.9" stroke="#a02060" stroke-width="0.7" stroke-linecap="round" fill="none" stroke-opacity="0.85"/><path d="M75.3 638.3l1.8 -3.7" stroke="#d03070" stroke-width="0.9" stroke-linecap="round" fill="none" stroke-opacity="0.85"/><path d="M61.4 651.7l2.2 -4.6M83 626.6l1.6 -3.2M74.4 671.5l2.2 -4.5M78.1 652.5l3.3 -6.8" stroke="#d03070" stroke-width="0.8" stroke-linecap="round" fill="none" stroke-opacity="0.85"/><path d="M77.5 612l1.5 -3.2" stroke="#c03ad8" stroke-width="0.6" stroke-linecap="round" fill="none" stroke-opacity="0.85"/><path d="M47.1 609.3l3 -6.1M63.6 639.5l2.6 -5.3" stroke="#c03ad8" stroke-width="0.7" stroke-linecap="round" fill="none" stroke-opacity="0.85"/><path d="M17.1 658.3l1.5 -3.2M36.4 650.3l1.7 -3.5M35.8 664.6l2.1 -4.3" stroke="#d03070" stroke-width="0.6" stroke-linecap="round" fill="none" stroke-opacity="0.85"/>
<path d="M59.6 645.0 l4 -7" stroke="#e050e0" stroke-width="1.5" stroke-linecap="round"/>
</g>
<defs><clipPath id="fc01"><rect x="100.2" y="597" width="76.4" height="76.8"/></clipPath></defs>
<g clip-path="url(#fc01)">
<rect x="100.2" y="597" width="76.4" height="76.8" fill="#000" />
<rect x="100.2" y="597.0" width="76.4" height="76.8" fill="#020212"/>
<use href="#dapi1" transform="translate(100.2 597.0)"/>
</g>
<defs><clipPath id="fc02"><rect x="181.4" y="597" width="76.4" height="76.8"/></clipPath></defs>
<g clip-path="url(#fc02)">
<rect x="181.4" y="597" width="76.4" height="76.8" fill="#000" />
<use href="#lox1" transform="translate(181.4 597.0)"/>
</g>
<defs><clipPath id="fc03"><rect x="263.6" y="597" width="76.4" height="76.8"/></clipPath></defs>
<g clip-path="url(#fc03)">
<rect x="263.6" y="597" width="76.4" height="76.8" fill="#000" />
<use href="#uts1" transform="translate(263.6 597.0)"/>
</g>
<defs><clipPath id="fc04"><rect x="346" y="597" width="76.4" height="76.8"/></clipPath></defs>
<g clip-path="url(#fc04)">
<rect x="346" y="597" width="76.4" height="76.8" fill="#000" />
<use href="#uts1" transform="translate(346.0 597.0)"/>
<use href="#lox1" transform="translate(346.0 597.0)" style="mix-blend-mode:screen"/>
<use href="#dapi1" transform="translate(346.0 597.0)" style="mix-blend-mode:screen"/>
<rect x="399.2" y="669.6" width="22.4" height="3.2" fill="#fff" />
<text x="410.5" y="667.8" font-size="5" text-anchor="middle" fill="#ddd" font-weight="normal" >100μm</text>
</g>
<defs><clipPath id="fc10"><rect x="17.1" y="679.1" width="76.4" height="76.5"/></clipPath></defs>
<g clip-path="url(#fc10)">
<rect x="17.1" y="679.1" width="76.4" height="76.5" fill="#000" />
<path d="M17.1 679.1 L67.1 679.1 L65.1 755.6 L17.1 755.6Z" fill="#0a0c52"/>
<defs><linearGradient id="t20" x1="0" y1="0" x2="1" y2="0"><stop offset="0" stop-color="#2e6a2a" stop-opacity="0.8"/><stop offset="0.22" stop-color="#1a2a60" stop-opacity="0.3"/><stop offset="0.7" stop-color="#0a0c52" stop-opacity="0"/><stop offset="0.82" stop-color="#2c6430" stop-opacity="0.7"/><stop offset="1" stop-color="#3a7a3a" stop-opacity="0.8"/></linearGradient></defs>
<path d="M17.1 679.1 L67.1 679.1 L65.1 755.6 L17.1 755.6Z" fill="url(#t20)"/>
<ellipse cx="59.1" cy="684.1" rx="7" ry="4.5" fill="#5a8a70" fill-opacity="0.35"/>
<path d="M27.6 718.5l0.2 -5M55.9 691.7l0.1 -5.4M18.8 716.8l0 -5.5M26.8 720.2l0.1 -3.8M53.4 715.3l0.2 -6.1M52.8 747.6l0.2 -4.4M50.4 681.2l0.4 -7.7M32.2 746.8l0.2 -4.8M15.7 751.6l0.2 -3.9M53 688.2l0.5 -8.7M16 747.8l0.3 -5.4M64.4 681.4l0.1 -9M46 749.6l0 -3.7M46.9 756.9l0.1 -8.9M37.8 679.9l0 -4.1M54.7 724.6l0.2 -3.1M29.9 749.5l0.3 -7.8M58.2 707.1l0.2 -6.4M47.5 705.3l0.5 -6.8M16.8 691.7l0.4 -6.7M29.6 709.1l0 -3.5M23.6 684.9l0 -8.6" stroke="#5050ff" stroke-width="0.8" stroke-linecap="round" fill="none" stroke-opacity="0.95"/><path d="M26.9 684.6l0 -3.2M19.5 680.1l0 -6.4M20.1 701.5l0.4 -9M61.7 692.5l0.6 -8.8M26.5 710.9l0 -4.2M60.3 701.2l0.3 -5.6M39.5 689.2l0.2 -7.6M48.8 746.7l0.3 -4.3M51.2 743.6l0.2 -3.2M60.3 699.9l0.1 -8.1M54.5 689.3l0.5 -7.9M43.5 695.1l0.1 -3.9M63.2 699l0.2 -4.3M47 753.2l0 -5.5M17.8 718.2l0.3 -5.2M64.8 685.5l0.5 -8.9M30.5 717.2l0.1 -4.4M28 735.3l0.3 -4.2M42.3 706.4l0.1 -6.1M29.7 688.8l0.2 -8.1" stroke="#4040ff" stroke-width="0.8" stroke-linecap="round" fill="none" stroke-opacity="0.95"/><path d="M16.4 754.8l0 -5.7M21.2 725.5l0 -7.2M42.4 694l0.1 -8.2M46.7 726.4l0.3 -8.1M34.9 689.8l0.2 -3.2M40.3 679.4l0.2 -5.4M54 737.3l0.3 -4.9M65 750.3l0.1 -5.6M35.4 706.9l0.4 -6.4M59.6 685.1l0.1 -8.6M34.4 700.3l0.2 -8.6" stroke="#5050ff" stroke-width="0.6" stroke-linecap="round" fill="none" stroke-opacity="0.95"/><path d="M26.5 712.8l0.3 -6.3M43.2 693.1l0.3 -6.2M29.2 737.8l0.2 -8.6M42 724.3l0.3 -6.5M21.4 712.2l0.4 -8.8M58.4 748.1l0.2 -7.5M52 759.7l0.2 -3.4M41.6 736.7l0 -6.4M62 746.5l0.1 -5M25.7 707.1l0.1 -5.5M27.7 721.7l0.2 -8.9M35.7 715.9l0.2 -8M36.3 698.2l0.2 -8.5M22.3 683.8l0 -6.3M50.9 759.7l0.1 -4.5M58.1 760.4l0.2 -3.7M16.3 751.5l0.1 -4.1M59.1 755.1l0.2 -8.3M27.6 756l0.3 -8.2M25.5 744.9l0.5 -8.9" stroke="#3a30f0" stroke-width="0.7" stroke-linecap="round" fill="none" stroke-opacity="0.95"/><path d="M38.8 725.8l0.3 -4.6M58.4 731.2l0 -6.4M44.6 699.4l0.3 -7.9M25.5 694.1l0 -4.8M41.9 729l0.3 -8.6M38.4 757.3l0.2 -4.2M49.3 749.2l0.2 -4.7M34.3 747.1l0.2 -4.1M63.3 718.9l0.2 -6.5M47.2 759.9l0.3 -6.6M28 698.9l0.4 -6.3M15 744.1l0.2 -6.9M25.6 729.5l0.1 -5.3M46.1 723.8l0.4 -6" stroke="#5050ff" stroke-width="0.9" stroke-linecap="round" fill="none" stroke-opacity="0.95"/><path d="M64 714l0.2 -7.8M46.9 693.8l0.1 -4.4M29.3 713.9l0.4 -6.7M19.1 743.9l0.2 -5.4M53.3 696.2l0 -3.4M14.2 732l0.4 -8.2M27.1 749.1l0.1 -4.5M56.2 719.7l0 -3.3M49 712.3l0.1 -5.1" stroke="#4040ff" stroke-width="0.9" stroke-linecap="round" fill="none" stroke-opacity="0.95"/><path d="M36.5 738l0.2 -8.8M64.7 692.9l0.1 -6.3M44.6 719l0.2 -6.2M23.3 735.4l0 -6.6M49.8 697.2l0.2 -4.8M30.6 688.2l0.1 -7.2M20 682.7l0.1 -7.1M21.6 693.9l0.2 -4.2M45.3 740.5l0.1 -3.1M52.5 744.8l0 -8.9M55.1 739.1l0.3 -5" stroke="#3a30f0" stroke-width="0.9" stroke-linecap="round" fill="none" stroke-opacity="0.95"/><path d="M15.5 685.5l0.2 -3.3M14.6 741.3l0.2 -6.8M26.6 700.4l0.3 -6.2M38.1 701.7l0.1 -4.1M30.5 681l0.1 -6.9M37.2 689.8l0 -6.3M41.8 744.9l0.1 -4.6M60.7 744.7l0.4 -7.5M32.9 695.2l0.3 -5.4M59.5 693.4l0.1 -7.9M37.1 746.1l0 -8M51.3 723.8l0.1 -5.6M58.4 692l0.2 -3.2" stroke="#4040ff" stroke-width="0.6" stroke-linecap="round" fill="none" stroke-opacity="0.95"/><path d="M64.2 692.1l0 -8.4M57 755.5l0.4 -6.4M36.9 741l0.2 -4.6M40.2 734.2l0.1 -7.6M17.2 704.1l0 -6.8M48.5 731.1l0.3 -6.2M17 697.2l0.1 -7.6M24.2 744.4l0.1 -5.8M30.7 739.8l0.3 -5.5M27.2 757.8l0.3 -4.9M37.3 692.7l0.4 -7.6M52.1 742.8l0.4 -7.4M45.1 707.9l0 -6.3M35.7 721.8l0.1 -3.3M23.9 755.8l0.1 -4.7M24.6 679.4l0.2 -3.1M27.5 706.3l0.1 -3.9M27.6 716.7l0.2 -4.4M53 749l0.1 -7.3M49.3 721.3l0 -8.8M53.5 692.2l0.5 -7.4M54.4 721.8l0 -4.8M53.6 679.6l0.1 -5.2M18 761l0.4 -6.2M42.1 727.5l0.3 -4.6M29.2 715.6l0.3 -8.1M29.4 753l0.1 -5.6M36.3 726.4l0.4 -7.8M25.1 737.8l0.1 -8.6M43.1 681.4l0.1 -7.7M53.6 722.2l0.5 -8.2M46.8 757.2l0.2 -5.4M40.5 706.8l0.2 -3.5" stroke="#5050ff" stroke-width="0.7" stroke-linecap="round" fill="none" stroke-opacity="0.95"/><path d="M23.7 720.3l0 -3.1M18 744.2l0.1 -5.6M61.3 698.1l0.1 -4.5M21.6 731.5l0 -3.9M25.3 755.2l0.3 -6.8M35.5 742.6l0.4 -5.6M43.4 751.9l0.1 -4.5M44.2 741.8l0.1 -4.2M54.6 761.4l0.3 -5.9M38.5 683.7l0.1 -8.9M35.3 690.5l0 -4M46.5 735.8l0 -3.2M43.9 719l0.2 -4.8M14.8 700.7l0.2 -3.2M17 682.4l0.5 -8M39.8 708.2l0.2 -6.1M37.6 687l0.5 -7.6M25.1 748.3l0.4 -8.7" stroke="#3a30f0" stroke-width="0.8" stroke-linecap="round" fill="none" stroke-opacity="0.95"/><path d="M48.4 686.4l0.2 -7M64.2 710.4l0.1 -4M46.2 697.2l0.3 -5.6M53.6 682l0 -7.4M14.3 690l0.1 -3.2M23.7 731.9l0.1 -4.1M40.3 758l0.1 -5.5M40.1 758.5l0.2 -8.1M52.5 684.2l0 -6.5" stroke="#3a30f0" stroke-width="0.6" stroke-linecap="round" fill="none" stroke-opacity="0.95"/><path d="M52.7 719.5l0 -4.6M44.7 743.5l0 -5.6M45.6 730l0.2 -8.9M53.9 686l0 -4M38.5 719.8l0.1 -7.4M23.5 745.3l0.4 -6.2M35.3 751.1l0.2 -3.8M52.3 739.5l0.1 -5.3M19.8 760.8l0 -5.5M61.9 719.4l0.2 -8.9M41.3 702.3l0.3 -8.9M56.4 709.5l0.1 -5.4M36.8 739l0.2 -5.7M20.4 743.8l0 -5.7M45.5 683.6l0 -3.4M63.5 731.9l0.3 -5.4M61.8 707.8l0.1 -7.1M30.6 716.4l0.4 -8.4M24.4 697l0.4 -7.1M19.6 740.7l0.2 -7.9" stroke="#4040ff" stroke-width="0.7" stroke-linecap="round" fill="none" stroke-opacity="0.95"/>
<path d="M41.9 691.9l0.2 -5.5M29.6 715.2l0.2 -5.3" stroke="#d040c0" stroke-width="0.8" stroke-linecap="round" fill="none" stroke-opacity="0.85"/><path d="M58.8 750.8l0.1 -5.8M36.3 709.1l0.2 -3.2M43.1 681.7l0.3 -6.6M34.4 704.4l0.3 -4.8M37.7 690.9l0.2 -5M64.4 691.9l0.4 -7.6M59.2 708.3l0.1 -5.4M19.3 755.6l0.4 -7.4M33.4 682.7l0.1 -3.4M61.9 686.2l0.3 -4.8M18.1 736.4l0 -4.8" stroke="#d040c0" stroke-width="0.7" stroke-linecap="round" fill="none" stroke-opacity="0.85"/><path d="M30 746.5l0.3 -4.5M37.9 687.2l0.1 -7.9M25.6 727.9l0.1 -7.4M17.9 760.4l0.3 -5.1M53.5 732.9l0.3 -6.9M40.1 744.2l0.4 -6" stroke="#60c040" stroke-width="0.7" stroke-linecap="round" fill="none" stroke-opacity="0.85"/><path d="M22.6 701.9l0.1 -3.2M48.5 716.4l0.3 -7.6M35.7 705.5l0.3 -5.5M50.6 703.6l0.1 -7.7" stroke="#60c040" stroke-width="0.5" stroke-linecap="round" fill="none" stroke-opacity="0.85"/><path d="M20.6 698.9l0.3 -5.2M39.4 722.9l0 -3.6M52.4 735.8l0 -7.9M45 698.4l0.5 -7.1M22.5 727.3l0 -5M34.4 710.7l0.4 -6.6M19.7 701.6l0.3 -7.3" stroke="#60c040" stroke-width="0.6" stroke-linecap="round" fill="none" stroke-opacity="0.85"/><path d="M31.4 701.1l0 -3M60.7 696.5l0 -5M57.3 719.7l0 -4.3M14.4 727.4l0.4 -6.3M63.4 733.8l0.2 -5M54.9 745.2l0.1 -5.1M47.6 747.7l0.2 -7M55.8 685.6l0 -4.3M54.5 748.1l0.3 -4.9" stroke="#60c040" stroke-width="0.8" stroke-linecap="round" fill="none" stroke-opacity="0.85"/><path d="M25.2 745.4l0.2 -3.6M63.6 688.6l0.3 -4.8" stroke="#d040c0" stroke-width="0.5" stroke-linecap="round" fill="none" stroke-opacity="0.85"/><path d="M49.5 685.1l0.1 -6.1M40.4 703.9l0.2 -5.8M41.3 738.5l0.2 -4.3" stroke="#e04090" stroke-width="0.5" stroke-linecap="round" fill="none" stroke-opacity="0.85"/><path d="M49.8 721.4l0.2 -7.4M52.4 725.2l0 -5.8M23 713.6l0.1 -4.6M54.5 713.6l0.1 -3.8M33.1 748.4l0.2 -6.3M18 721.5l0.2 -6.9" stroke="#50b040" stroke-width="0.7" stroke-linecap="round" fill="none" stroke-opacity="0.85"/><path d="M19.9 705.5l0.1 -4.1M54.2 684.3l0.2 -5.2M48.1 742.9l0.4 -6.6M48.6 702.5l0.1 -3.6M52.2 758.2l0.4 -6.7M42.7 761.5l0.4 -5.8" stroke="#e04090" stroke-width="0.7" stroke-linecap="round" fill="none" stroke-opacity="0.85"/><path d="M29.6 716.6l0.2 -5.8M16.3 682.8l0.3 -5.5M31.9 706.3l0.1 -6.2M38.1 752.9l0 -3.9M38.7 684.1l0.4 -7.5M21.8 678.7l0.2 -3.4" stroke="#e04090" stroke-width="0.6" stroke-linecap="round" fill="none" stroke-opacity="0.85"/><path d="M50.8 693.9l0.2 -3.8M34.8 694.4l0.1 -6.2" stroke="#50b040" stroke-width="0.8" stroke-linecap="round" fill="none" stroke-opacity="0.85"/><path d="M21.8 720.1l0.3 -5.3M21.2 695.8l0.2 -6.3M64.1 697.2l0.4 -5.2" stroke="#e04090" stroke-width="0.8" stroke-linecap="round" fill="none" stroke-opacity="0.85"/><path d="M23.1 707.1l0.4 -6.7M15.4 693.9l0.2 -4.2M35.9 693.6l0.1 -7.8M21.5 724l0.4 -6.1" stroke="#50b040" stroke-width="0.5" stroke-linecap="round" fill="none" stroke-opacity="0.85"/><path d="M22.9 728.4l0.1 -5.9M46.2 724.1l0.2 -4.8M34.3 720.6l0.2 -3.3M18.8 745.7l0.1 -3.6M38.2 698.7l0 -3M41.9 745.4l0.1 -7.3" stroke="#d040c0" stroke-width="0.6" stroke-linecap="round" fill="none" stroke-opacity="0.85"/><path d="M26.7 697.2l0.1 -5.2M48.4 689.4l0.3 -7M22.4 758.3l0.3 -6.5M25.6 753.7l0 -4.4" stroke="#50b040" stroke-width="0.6" stroke-linecap="round" fill="none" stroke-opacity="0.85"/>
</g>
<defs><clipPath id="fc11"><rect x="100.2" y="679.1" width="76.4" height="76.5"/></clipPath></defs>
<g clip-path="url(#fc11)">
<rect x="100.2" y="679.1" width="76.4" height="76.5" fill="#000" />
<rect x="100.2" y="679.1" width="76.4" height="76.5" fill="#06062e"/>
<path d="M127.7 702.3l2.7 -38.8" stroke="#0a0a48" stroke-width="2.6" stroke-linecap="round" fill="none" stroke-opacity="0.6"/><path d="M176.6 794.8l5.5 -78.4M127.3 780.4l4.9 -70.2M157.4 715.8l2.5 -36" stroke="#0a0a48" stroke-width="2.3" stroke-linecap="round" fill="none" stroke-opacity="0.6"/><path d="M99.7 775.1l4.5 -64.1M113 771.8l4.1 -58.1" stroke="#0a0a48" stroke-width="1.6" stroke-linecap="round" fill="none" stroke-opacity="0.6"/><path d="M172.4 724.1l4 -56.9" stroke="#020218" stroke-width="2.9" stroke-linecap="round" fill="none" stroke-opacity="0.6"/><path d="M97.9 725.9l2.5 -36.3" stroke="#0a0a48" stroke-width="1.4" stroke-linecap="round" fill="none" stroke-opacity="0.6"/><path d="M150.1 771.9l4.1 -59M161.1 720.1l3 -42.4" stroke="#0a0a48" stroke-width="2.2" stroke-linecap="round" fill="none" stroke-opacity="0.6"/><path d="M169.5 738.9l3.5 -49.6M96.6 716.5l4.4 -63.6" stroke="#020218" stroke-width="2.6" stroke-linecap="round" fill="none" stroke-opacity="0.6"/><path d="M97.7 759.7l4.8 -69M103.3 727.7l2.2 -31.4M137.4 725.7l5.3 -75.9" stroke="#0a0a48" stroke-width="1.8" stroke-linecap="round" fill="none" stroke-opacity="0.6"/><path d="M146.4 714.1l3.1 -44" stroke="#020218" stroke-width="1.2" stroke-linecap="round" fill="none" stroke-opacity="0.6"/><path d="M136.2 724.7l5.1 -73" stroke="#0a0a48" stroke-width="1.1" stroke-linecap="round" fill="none" stroke-opacity="0.6"/><path d="M107.3 736.4l3 -42.8" stroke="#020218" stroke-width="2.0" stroke-linecap="round" fill="none" stroke-opacity="0.6"/><path d="M164.9 719.9l2.7 -38.3" stroke="#020218" stroke-width="2.3" stroke-linecap="round" fill="none" stroke-opacity="0.6"/><path d="M154.7 714.8l5 -71.9M96.5 741.8l4.4 -63.1M118.6 750.2l4.8 -69.2" stroke="#0a0a48" stroke-width="2.1" stroke-linecap="round" fill="none" stroke-opacity="0.6"/><path d="M107 737.4l2.2 -31.5M108.7 719.2l2.5 -35.5" stroke="#0a0a48" stroke-width="2.8" stroke-linecap="round" fill="none" stroke-opacity="0.6"/><path d="M102.6 766l5.2 -74.8M106.7 769.2l4.4 -63.6" stroke="#0a0a48" stroke-width="1.3" stroke-linecap="round" fill="none" stroke-opacity="0.6"/><path d="M153.2 717.2l3.3 -47.3M112.4 722.8l4.8 -68" stroke="#020218" stroke-width="2.4" stroke-linecap="round" fill="none" stroke-opacity="0.6"/><path d="M119.8 750.7l5.1 -72.7" stroke="#0a0a48" stroke-width="1.5" stroke-linecap="round" fill="none" stroke-opacity="0.6"/><path d="M111.5 733.9l3.9 -56" stroke="#0a0a48" stroke-width="1.7" stroke-linecap="round" fill="none" stroke-opacity="0.6"/><path d="M140 784.5l4.7 -67.5M154.6 743.8l2.3 -33.4" stroke="#0a0a48" stroke-width="2.7" stroke-linecap="round" fill="none" stroke-opacity="0.6"/><path d="M118.1 727.9l5.5 -78.1" stroke="#0a0a48" stroke-width="2.4" stroke-linecap="round" fill="none" stroke-opacity="0.6"/><path d="M97.3 783.2l5.2 -74.5" stroke="#020218" stroke-width="1.5" stroke-linecap="round" fill="none" stroke-opacity="0.6"/><path d="M103.7 754.6l4.5 -63.7" stroke="#020218" stroke-width="2.5" stroke-linecap="round" fill="none" stroke-opacity="0.6"/><path d="M98.6 751.7l5.3 -76.1" stroke="#0a0a48" stroke-width="2.9" stroke-linecap="round" fill="none" stroke-opacity="0.6"/><path d="M142.2 743.4l5.1 -72.6" stroke="#020218" stroke-width="1.1" stroke-linecap="round" fill="none" stroke-opacity="0.6"/><path d="M131.7 714.9l5.3 -75.5" stroke="#020218" stroke-width="1.6" stroke-linecap="round" fill="none" stroke-opacity="0.6"/><path d="M164.1 764.9l4 -56.7" stroke="#020218" stroke-width="2.7" stroke-linecap="round" fill="none" stroke-opacity="0.6"/><path d="M138.6 762.9l3.7 -52.9" stroke="#020218" stroke-width="3.0" stroke-linecap="round" fill="none" stroke-opacity="0.6"/>
<use href="#dapi2" transform="translate(100.2 679.1)"/>
</g>
<defs><clipPath id="fc12"><rect x="181.4" y="679.1" width="76.4" height="76.5"/></clipPath></defs>
<g clip-path="url(#fc12)">
<rect x="181.4" y="679.1" width="76.4" height="76.5" fill="#000" />
<use href="#lox2" transform="translate(181.4 679.1)"/>
</g>
<defs><clipPath id="fc13"><rect x="263.6" y="679.1" width="76.4" height="76.5"/></clipPath></defs>
<g clip-path="url(#fc13)">
<rect x="263.6" y="679.1" width="76.4" height="76.5" fill="#000" />
<use href="#uts2" transform="translate(263.6 679.1)"/>
</g>
<defs><clipPath id="fc14"><rect x="346" y="679.1" width="76.4" height="76.5"/></clipPath></defs>
<g clip-path="url(#fc14)">
<rect x="346" y="679.1" width="76.4" height="76.5" fill="#000" />
<use href="#uts2" transform="translate(346.0 679.1)"/>
<use href="#lox2" transform="translate(346.0 679.1)" style="mix-blend-mode:screen"/>
<use href="#dapi2" transform="translate(346.0 679.1)" style="mix-blend-mode:screen"/>
<rect x="399.2" y="751.4" width="22.4" height="3.2" fill="#fff" />
<text x="410.5" y="749.6" font-size="5" text-anchor="middle" fill="#ddd" font-weight="normal" >100μm</text>
</g>
<rect x="51.4" y="598.1" width="39.5" height="29.4" fill="none" stroke="#c8c8c8" stroke-width="0.9"/>
<rect x="17.9" y="725.3" width="38.9" height="30" fill="none" stroke="#c8c8c8" stroke-width="0.9"/>
<line x1="90.9" y1="598.1" x2="100.2" y2="597.3" stroke="#999" stroke-width="0.6"/>
<line x1="90.9" y1="627.5" x2="100.2" y2="673.7" stroke="#999" stroke-width="0.6"/>
<line x1="56.8" y1="725.3" x2="100.2" y2="679.5" stroke="#aaa" stroke-width="0.6"/>
<rect x="79.8" y="752.9" width="11.7" height="1.6" fill="#ccc" />
<defs><clipPath id="he0"><rect x="428.8" y="597.1" width="110.4" height="76.6"/></clipPath></defs>
<g clip-path="url(#he0)">
<defs><linearGradient id="heg0" x1="0" y1="0" x2="1" y2="1"><stop offset="0" stop-color="#ee9ce4"/><stop offset="0.5" stop-color="#ed98e2"/><stop offset="1" stop-color="#f2aaea"/></linearGradient></defs>
<rect x="428.8" y="597.1" width="110.4" height="76.6" fill="url(#heg0)" />
<path d="M418.7 610.3l23 -27.4" stroke="#f3b4ec" stroke-width="7.7" stroke-linecap="round" fill="none" stroke-opacity="0.5"/><path d="M532.4 663.5l18.6 -22.2" stroke="#f3b4ec" stroke-width="6.2" stroke-linecap="round" fill="none" stroke-opacity="0.5"/><path d="M533.9 638.1l14.6 -17.4" stroke="#f3b4ec" stroke-width="5.2" stroke-linecap="round" fill="none" stroke-opacity="0.5"/><path d="M467.2 622.9l17.7 -21.1" stroke="#e890dc" stroke-width="6.0" stroke-linecap="round" fill="none" stroke-opacity="0.5"/><path d="M509.5 610.2l15.5 -18.5" stroke="#f3b4ec" stroke-width="5.6" stroke-linecap="round" fill="none" stroke-opacity="0.5"/><path d="M448.4 618.1l14.2 -16.9" stroke="#f3b4ec" stroke-width="5.9" stroke-linecap="round" fill="none" stroke-opacity="0.5"/><path d="M455.9 650.8l15.6 -18.6" stroke="#f3b4ec" stroke-width="7.1" stroke-linecap="round" fill="none" stroke-opacity="0.5"/><path d="M449 661.6l22.3 -26.5" stroke="#f3b4ec" stroke-width="5.3" stroke-linecap="round" fill="none" stroke-opacity="0.5"/><path d="M512.2 669l18.8 -22.4" stroke="#f3b4ec" stroke-width="8.0" stroke-linecap="round" fill="none" stroke-opacity="0.5"/><path d="M493.3 672.4l22.5 -26.9" stroke="#e890dc" stroke-width="7.7" stroke-linecap="round" fill="none" stroke-opacity="0.5"/>
<path d="M449.4 657.9l5.4 -7.7M484.5 644.5l11.9 -17M443.4 609.7l5.7 -8.1M476.8 637.8l10.5 -15M439.1 676.9l6.1 -8.7M454.4 615.2l5.7 -8.1M470.6 629.6l2.9 -4.2M453.3 610.9l5.4 -7.8M461.2 658.1l7.7 -11M518.5 624.2l5.4 -7.7M457.6 620.8l9.8 -14M490.8 676.8l9.4 -13.4M507.5 643.9l5.8 -8.2M454.7 617.9l9.9 -14.2M457.7 628.7l10.9 -15.5M467.8 613.6l8.5 -12.1M454.5 649.2l8.1 -11.6M517.4 612.8l4.7 -6.8M470.7 648.8l11.1 -15.8M509.9 609l6.2 -8.8M467.2 654.7l9.7 -13.8M436.5 650.8l8.7 -12.4M458 674.6l6.9 -9.8M428.9 627.8l6.9 -9.9M511 640.5l9.7 -13.9M494.6 666.7l10.6 -15.1M504.4 603.3l3.8 -5.4M464.3 661.4l8.1 -11.6M449.2 606.2l4.4 -6.3M431.5 614.6l5.5 -7.9" stroke="#fff4fc" stroke-width="1" stroke-opacity="0.85" stroke-linecap="round" fill="none"/>
<path d="M448.3 656.7l4.9 -7M485.3 640.7l7.8 -11.2M442.5 608.1l4.7 -6.7M477.4 634.1l6.6 -9.4M438.2 675.6l5.5 -7.8M453.9 613.1l4.1 -5.8M469 629.2l3.6 -5.2M452.1 609.8l5.1 -7.3M459.5 657.7l8.4 -12M518 622.1l3.7 -5.3M457.2 618.7l8.1 -11.6M490.6 674.4l7.2 -10.3M506.4 642.6l5.3 -7.5M454.7 615.2l7.4 -10.6M458.3 625.1l7.2 -10.2M467.4 611.4l6.7 -9.5M453.8 647.5l7.1 -10.1M515.6 612.6l5.7 -8.1M470.7 646.1l8.5 -12.1M509.6 606.7l4.3 -6.1M466.7 652.7l8.1 -11.6M436.7 647.7l5.6 -8M457.6 672.5l5.2 -7.4M428.7 625.4l4.8 -6.9M511.1 637.6l6.9 -9.9M494.6 663.8l7.9 -11.3M502.7 603l4.6 -6.5M463.6 659.6l6.9 -9.9M447.5 605.9l5.3 -7.5M430.2 613.7l5.5 -7.9" stroke="#5e58c8" stroke-width="1.5" stroke-opacity="0.85" stroke-linecap="round" fill="none"/>
<path d="M490.8 619.1 C 508.8 621.1, 523.8 623.1, 539.2 625.1 M520.8 627.1 L536.8 649.1" stroke="#c878bc" stroke-width="0.5" fill="none"/>
<path d="M428.8 609.1 L442.8 597.1" stroke="#fff" stroke-width="3" fill="none" stroke-opacity="0.8"/>
</g>
<defs><clipPath id="he1"><rect x="428.8" y="679.6" width="110.4" height="77.4"/></clipPath></defs>
<g clip-path="url(#he1)">
<rect x="428.8" y="679.6" width="110.4" height="77.4" fill="#ec90d6" />
<path d="M514.7 708.8l14.7 -54.8" stroke="#f6bce6" stroke-width="2.4" stroke-linecap="round" fill="none" stroke-opacity="0.55"/><path d="M461.2 704.1l9.5 -35.4" stroke="#f6bce6" stroke-width="2.2" stroke-linecap="round" fill="none" stroke-opacity="0.55"/><path d="M431.8 763.1l10.5 -39.1M441 767.3l11.1 -41.4" stroke="#e888d0" stroke-width="3.8" stroke-linecap="round" fill="none" stroke-opacity="0.55"/><path d="M429.8 789.3l17.5 -65.5" stroke="#f6bce6" stroke-width="4.3" stroke-linecap="round" fill="none" stroke-opacity="0.55"/><path d="M491.1 706.6l8.8 -32.7M518 733.1l15.1 -56.3" stroke="#f4b0e2" stroke-width="4.6" stroke-linecap="round" fill="none" stroke-opacity="0.55"/><path d="M454.5 762.8l8.7 -32.4M504.8 721.3l9.6 -35.8" stroke="#e888d0" stroke-width="3.6" stroke-linecap="round" fill="none" stroke-opacity="0.55"/><path d="M486.3 777.4l16.1 -60" stroke="#f6bce6" stroke-width="4.8" stroke-linecap="round" fill="none" stroke-opacity="0.55"/><path d="M488.3 786.7l14.9 -55.5" stroke="#e888d0" stroke-width="4.3" stroke-linecap="round" fill="none" stroke-opacity="0.55"/><path d="M518.2 768.7l7.3 -27.3M444.4 704l9.7 -36.2M520.3 713.6l8.1 -30.1" stroke="#e888d0" stroke-width="4.8" stroke-linecap="round" fill="none" stroke-opacity="0.55"/><path d="M435.2 779.9l12.8 -47.9" stroke="#e888d0" stroke-width="3.9" stroke-linecap="round" fill="none" stroke-opacity="0.55"/><path d="M466.6 745.5l13.4 -49.9" stroke="#e888d0" stroke-width="3.2" stroke-linecap="round" fill="none" stroke-opacity="0.55"/><path d="M454.4 703.5l9.7 -36.2" stroke="#e888d0" stroke-width="4.6" stroke-linecap="round" fill="none" stroke-opacity="0.55"/><path d="M535.3 722.4l7.2 -27M458.1 751.2l15.6 -58.2" stroke="#e888d0" stroke-width="4.7" stroke-linecap="round" fill="none" stroke-opacity="0.55"/><path d="M446.6 749.5l10.2 -38" stroke="#f4b0e2" stroke-width="3.5" stroke-linecap="round" fill="none" stroke-opacity="0.55"/><path d="M468.6 761.6l7.6 -28.4" stroke="#e27ec8" stroke-width="2.7" stroke-linecap="round" fill="none" stroke-opacity="0.55"/><path d="M478.6 728.2l11.9 -44.3" stroke="#e888d0" stroke-width="3.1" stroke-linecap="round" fill="none" stroke-opacity="0.55"/><path d="M477.5 731.4l16.4 -61.1M433.1 716.6l10.1 -37.7M469 780.3l16.5 -61.6" stroke="#e27ec8" stroke-width="3.3" stroke-linecap="round" fill="none" stroke-opacity="0.55"/><path d="M524.2 750.4l16.8 -62.7" stroke="#f6bce6" stroke-width="3.8" stroke-linecap="round" fill="none" stroke-opacity="0.55"/><path d="M451.9 697l10.3 -38.4" stroke="#f6bce6" stroke-width="2.3" stroke-linecap="round" fill="none" stroke-opacity="0.55"/><path d="M498.1 756.6l13.5 -50.6" stroke="#f6bce6" stroke-width="4.1" stroke-linecap="round" fill="none" stroke-opacity="0.55"/><path d="M498.5 772.1l8.9 -33.2" stroke="#f6bce6" stroke-width="4.5" stroke-linecap="round" fill="none" stroke-opacity="0.55"/><path d="M519.2 723.9l10 -37.3" stroke="#e27ec8" stroke-width="2.1" stroke-linecap="round" fill="none" stroke-opacity="0.55"/><path d="M531.6 773.3l15 -56.2M440.8 771.8l7.6 -28.2" stroke="#e888d0" stroke-width="2.3" stroke-linecap="round" fill="none" stroke-opacity="0.55"/><path d="M506.5 694.9l8.3 -30.8" stroke="#f4b0e2" stroke-width="3.1" stroke-linecap="round" fill="none" stroke-opacity="0.55"/><path d="M490 725.6l15.6 -58.1" stroke="#e27ec8" stroke-width="4.4" stroke-linecap="round" fill="none" stroke-opacity="0.55"/><path d="M419.9 760.3l17 -63.5M472.2 704.8l14 -52.1" stroke="#f6bce6" stroke-width="4.9" stroke-linecap="round" fill="none" stroke-opacity="0.55"/><path d="M448.1 782.5l15.5 -57.7" stroke="#f6bce6" stroke-width="2.0" stroke-linecap="round" fill="none" stroke-opacity="0.55"/><path d="M446.3 782.9l16.3 -61" stroke="#f4b0e2" stroke-width="2.3" stroke-linecap="round" fill="none" stroke-opacity="0.55"/><path d="M454.1 766.6l12 -44.9" stroke="#e888d0" stroke-width="2.9" stroke-linecap="round" fill="none" stroke-opacity="0.55"/><path d="M433.5 726.4l17.8 -66.5" stroke="#f4b0e2" stroke-width="3.3" stroke-linecap="round" fill="none" stroke-opacity="0.55"/><path d="M452.1 732.3l8.2 -30.6M449.5 714.4l6.8 -25.3" stroke="#f6bce6" stroke-width="2.6" stroke-linecap="round" fill="none" stroke-opacity="0.55"/><path d="M428.1 780.2l16.3 -60.8M447.8 722.5l16.4 -61.1" stroke="#f6bce6" stroke-width="3.3" stroke-linecap="round" fill="none" stroke-opacity="0.55"/><path d="M481.3 763l17.9 -67" stroke="#f4b0e2" stroke-width="4.2" stroke-linecap="round" fill="none" stroke-opacity="0.55"/><path d="M502.2 769.9l7.5 -28.2" stroke="#f4b0e2" stroke-width="3.4" stroke-linecap="round" fill="none" stroke-opacity="0.55"/><path d="M535.6 757.5l11.3 -42" stroke="#e888d0" stroke-width="2.8" stroke-linecap="round" fill="none" stroke-opacity="0.55"/><path d="M420.5 711.3l13.5 -50.2" stroke="#e888d0" stroke-width="3.3" stroke-linecap="round" fill="none" stroke-opacity="0.55"/><path d="M456.7 776.1l9.8 -36.4" stroke="#e27ec8" stroke-width="3.7" stroke-linecap="round" fill="none" stroke-opacity="0.55"/><path d="M517.7 786.3l15.4 -57.3" stroke="#e27ec8" stroke-width="4.8" stroke-linecap="round" fill="none" stroke-opacity="0.55"/><path d="M457.2 766.1l17.6 -65.7" stroke="#f4b0e2" stroke-width="5.0" stroke-linecap="round" fill="none" stroke-opacity="0.55"/><path d="M460.2 741.4l14 -52.1" stroke="#e27ec8" stroke-width="4.5" stroke-linecap="round" fill="none" stroke-opacity="0.55"/><path d="M426.9 767.5l13.4 -50.1M492.1 718.2l10.8 -40.1" stroke="#e27ec8" stroke-width="4.7" stroke-linecap="round" fill="none" stroke-opacity="0.55"/><path d="M445.5 757.2l10 -37.2" stroke="#e27ec8" stroke-width="4.0" stroke-linecap="round" fill="none" stroke-opacity="0.55"/><path d="M505.4 767.6l7.7 -28.8" stroke="#e27ec8" stroke-width="4.2" stroke-linecap="round" fill="none" stroke-opacity="0.55"/><path d="M528.5 736.7l10 -37.3" stroke="#e888d0" stroke-width="4.0" stroke-linecap="round" fill="none" stroke-opacity="0.55"/><path d="M501.1 737l15.4 -57.4" stroke="#e888d0" stroke-width="3.7" stroke-linecap="round" fill="none" stroke-opacity="0.55"/><path d="M444.3 760l16.8 -62.8" stroke="#f6bce6" stroke-width="4.0" stroke-linecap="round" fill="none" stroke-opacity="0.55"/><path d="M440.2 737.2l14 -52.2" stroke="#f4b0e2" stroke-width="3.2" stroke-linecap="round" fill="none" stroke-opacity="0.55"/>
<path d="M492.9 715.7l20 -74.6M482 757.2l8.2 -30.5M501.3 754.1l7.8 -29.2M529.4 742.3l17.2 -64.3" stroke="#ffffff" stroke-width="0.8" stroke-linecap="round" fill="none" stroke-opacity="0.9"/><path d="M527 746.9l9.5 -35.3" stroke="#fbeaf6" stroke-width="0.6" stroke-linecap="round" fill="none" stroke-opacity="0.9"/><path d="M506.8 751.3l13.2 -49.2" stroke="#fbeaf6" stroke-width="1.1" stroke-linecap="round" fill="none" stroke-opacity="0.9"/><path d="M450.5 750.4l8.4 -31.2M508.7 717.6l20.3 -75.7M460 767.5l20.6 -77" stroke="#ffffff" stroke-width="0.9" stroke-linecap="round" fill="none" stroke-opacity="0.9"/><path d="M481.9 736.4l16.8 -62.8M474.7 746.8l8.5 -31.9M456.3 756.9l17.4 -64.8" stroke="#fbeaf6" stroke-width="0.9" stroke-linecap="round" fill="none" stroke-opacity="0.9"/><path d="M425.8 776.7l16.7 -62.3M489.9 729.4l19.5 -72.9M531.9 773.5l20.1 -75.2" stroke="#fbeaf6" stroke-width="1.0" stroke-linecap="round" fill="none" stroke-opacity="0.9"/><path d="M467 729.5l10.2 -38.1" stroke="#ffffff" stroke-width="1.0" stroke-linecap="round" fill="none" stroke-opacity="0.9"/><path d="M447.3 788.2l15.3 -57M470.4 791.9l18.4 -68.8M521.9 742.4l18.6 -69.4M425.7 725.4l15.7 -58.7" stroke="#ffffff" stroke-width="0.7" stroke-linecap="round" fill="none" stroke-opacity="0.9"/><path d="M486.4 786.1l19.7 -73.6M517.6 753.3l9 -33.7M508.8 727.9l8.9 -33.3" stroke="#fbeaf6" stroke-width="0.7" stroke-linecap="round" fill="none" stroke-opacity="0.9"/><path d="M451.9 773l9.7 -36.4M530.4 717.1l13 -48.5" stroke="#fbeaf6" stroke-width="0.8" stroke-linecap="round" fill="none" stroke-opacity="0.9"/><path d="M525.3 747.9l8.1 -30.1" stroke="#ffffff" stroke-width="0.6" stroke-linecap="round" fill="none" stroke-opacity="0.9"/>
<path d="M479.5 732.8l1 -4.1M478.5 752l1.2 -5" stroke="#7a50b8" stroke-width="2.0" stroke-linecap="round" fill="none" stroke-opacity="0.75"/><path d="M443.6 700.8l0.9 -3.7M428.3 752.8l1 -4.2M434.4 740.1l1.7 -6.7" stroke="#7a50b8" stroke-width="1.8" stroke-linecap="round" fill="none" stroke-opacity="0.75"/><path d="M535.8 707.4l1.1 -4.4" stroke="#7a50b8" stroke-width="1.6" stroke-linecap="round" fill="none" stroke-opacity="0.75"/><path d="M492.4 760.3l1.5 -6.1M507.9 719.7l0.7 -3" stroke="#7a50b8" stroke-width="1.7" stroke-linecap="round" fill="none" stroke-opacity="0.75"/><path d="M483.8 761.6l1.5 -5.9M449.3 681.6l0.8 -3.2M445.3 732.3l1.6 -6.4M527.7 695.7l1.3 -5.1" stroke="#7a50b8" stroke-width="1.4" stroke-linecap="round" fill="none" stroke-opacity="0.75"/><path d="M431.6 691.2l1.3 -5.1M488.1 733.8l1.1 -4.3" stroke="#8a58c0" stroke-width="1.8" stroke-linecap="round" fill="none" stroke-opacity="0.75"/><path d="M480.9 702.9l1 -4.1M525.9 759.7l1.3 -5.3" stroke="#8a58c0" stroke-width="1.6" stroke-linecap="round" fill="none" stroke-opacity="0.75"/><path d="M522.6 687.1l1.1 -4.3M502.1 741.8l0.9 -3.6" stroke="#8a58c0" stroke-width="1.3" stroke-linecap="round" fill="none" stroke-opacity="0.75"/><path d="M461.9 681.9l0.8 -3.4M476.1 715.1l1.4 -5.7M513.1 756.2l0.8 -3.1" stroke="#9a64c8" stroke-width="1.9" stroke-linecap="round" fill="none" stroke-opacity="0.75"/><path d="M539.5 709.3l1.1 -4.5" stroke="#8a58c0" stroke-width="1.9" stroke-linecap="round" fill="none" stroke-opacity="0.75"/><path d="M512.6 709.7l1.5 -6M487.2 695.8l1.2 -4.8" stroke="#7a50b8" stroke-width="1.9" stroke-linecap="round" fill="none" stroke-opacity="0.75"/><path d="M496.7 759.6l0.9 -3.8M459 757.7l1.6 -6.3M532.3 702.6l1.6 -6.5" stroke="#9a64c8" stroke-width="1.4" stroke-linecap="round" fill="none" stroke-opacity="0.75"/><path d="M492.9 709.4l1.3 -5.1M466.2 729.3l1 -4" stroke="#8a58c0" stroke-width="1.5" stroke-linecap="round" fill="none" stroke-opacity="0.75"/><path d="M437.9 707l1.1 -4.2M515.8 743.7l1 -3.9M436.7 722.8l1.3 -5.1" stroke="#8a58c0" stroke-width="1.4" stroke-linecap="round" fill="none" stroke-opacity="0.75"/><path d="M538.4 706.3l1.6 -6.3" stroke="#7a50b8" stroke-width="1.5" stroke-linecap="round" fill="none" stroke-opacity="0.75"/><path d="M534.7 696.1l1.3 -5M428.9 738.9l1.4 -5.5M525.6 724l1.1 -4.4M530.5 744.8l1.1 -4.5" stroke="#8a58c0" stroke-width="1.7" stroke-linecap="round" fill="none" stroke-opacity="0.75"/><path d="M504.8 726l1.4 -5.7" stroke="#9a64c8" stroke-width="1.6" stroke-linecap="round" fill="none" stroke-opacity="0.75"/><path d="M490.4 731.1l1.5 -6M510.8 688.5l1.5 -6M516.6 686l1.1 -4.3" stroke="#9a64c8" stroke-width="1.7" stroke-linecap="round" fill="none" stroke-opacity="0.75"/><path d="M523.6 693.6l1.3 -5.3" stroke="#8a58c0" stroke-width="2.0" stroke-linecap="round" fill="none" stroke-opacity="0.75"/><path d="M460.4 756.6l1.3 -5" stroke="#9a64c8" stroke-width="1.8" stroke-linecap="round" fill="none" stroke-opacity="0.75"/><path d="M457.7 749.8l1.1 -4.6" stroke="#9a64c8" stroke-width="2.0" stroke-linecap="round" fill="none" stroke-opacity="0.75"/><path d="M516.3 687.1l1 -4.1" stroke="#9a64c8" stroke-width="1.5" stroke-linecap="round" fill="none" stroke-opacity="0.75"/>
</g>
<rect x="504.8" y="669.3" width="33.1" height="3.2" fill="#f8f0f8" />
<rect x="506.2" y="751.5" width="32.7" height="3" fill="#f8f0f8" />
<text x="619.9" y="600.5" font-size="13.2" text-anchor="middle" fill="#111" font-weight="normal"  textLength="125" lengthAdjust="spacingAndGlyphs" stroke="#111" stroke-width="0.25">8W Achilles’ s tendon</text>
<line x1="585.9" y1="619.2" x2="585.9" y2="741.6" stroke="#222" stroke-width="1"/>
<line x1="585.9" y1="741.6" x2="672.3" y2="741.6" stroke="#222" stroke-width="1"/>
<line x1="582.9" y1="741.6" x2="585.9" y2="741.6" stroke="#222" stroke-width="0.8"/>
<text x="578.8" y="744.5" font-size="8" text-anchor="end" fill="#333" font-weight="normal" >0</text>
<line x1="583.9" y1="729.4" x2="585.9" y2="729.4" stroke="#222" stroke-width="0.8"/>
<line x1="582.9" y1="717.2" x2="585.9" y2="717.2" stroke="#222" stroke-width="0.8"/>
<text x="578.8" y="720.1" font-size="8" text-anchor="end" fill="#333" font-weight="normal" >20</text>
<line x1="583.9" y1="705" x2="585.9" y2="705" stroke="#222" stroke-width="0.8"/>
<line x1="582.9" y1="692.8" x2="585.9" y2="692.8" stroke="#222" stroke-width="0.8"/>
<text x="578.8" y="695.7" font-size="8" text-anchor="end" fill="#333" font-weight="normal" >40</text>
<line x1="583.9" y1="680.6" x2="585.9" y2="680.6" stroke="#222" stroke-width="0.8"/>
<line x1="582.9" y1="668.4" x2="585.9" y2="668.4" stroke="#222" stroke-width="0.8"/>
<text x="578.8" y="671.3" font-size="8" text-anchor="end" fill="#333" font-weight="normal" >60</text>
<line x1="583.9" y1="656.2" x2="585.9" y2="656.2" stroke="#222" stroke-width="0.8"/>
<line x1="582.9" y1="644" x2="585.9" y2="644" stroke="#222" stroke-width="0.8"/>
<text x="578.8" y="646.9" font-size="8" text-anchor="end" fill="#333" font-weight="normal" >80</text>
<line x1="583.9" y1="631.8" x2="585.9" y2="631.8" stroke="#222" stroke-width="0.8"/>
<line x1="582.9" y1="619.6" x2="585.9" y2="619.6" stroke="#222" stroke-width="0.8"/>
<text x="578.8" y="622.5" font-size="8" text-anchor="end" fill="#333" font-weight="normal" > 00</text>
<path d="M0.335 0V-0.69H0.262L0.215 -0.628L0.158 -0.578L0.098 -0.545V-0.468L0.168 -0.5L0.245 -0.555V0Z" fill="#333" transform="translate(565.46 622.5) scale(8.00 8)"/>
<rect x="598.6" y="737.2" width="24.3" height="4.4" fill="#e0a829" />
<rect x="635" y="687.8" width="24.7" height="53.8" fill="#2d3e55" />
<line x1="647.3" y1="687.8" x2="647.3" y2="679.2" stroke="#111" stroke-width="0.9"/>
<line x1="641" y1="679.2" x2="653.8" y2="679.2" stroke="#111" stroke-width="0.9"/>
<circle cx="647.3" cy="678.7" r="1.8" fill="#111"/>
<circle cx="647.3" cy="684.7" r="1.8" fill="#111"/>
<circle cx="647.3" cy="689.9" r="1.8" fill="#111"/>
<circle cx="647.3" cy="698" r="1.8" fill="#111"/>
<line x1="604" y1="735" x2="617" y2="735" stroke="#b8882a" stroke-width="0.8"/>
<circle cx="604" cy="734.6" r="1.6" fill="#c8962a"/>
<circle cx="604.5" cy="738.3" r="1.6" fill="#c8962a"/>
<circle cx="611" cy="738.3" r="1.6" fill="#c8962a"/>
<circle cx="616.5" cy="738.3" r="1.6" fill="#c8962a"/>
<line x1="610.7" y1="741.6" x2="610.7" y2="744.6" stroke="#222" stroke-width="1"/>
<line x1="647.3" y1="741.6" x2="647.3" y2="744.6" stroke="#222" stroke-width="1"/>
<line x1="615" y1="640.3" x2="648.3" y2="640.3" stroke="#333" stroke-width="0.8"/>
<text x="631.6" y="641" font-size="8.5" text-anchor="middle" fill="#222" font-weight="normal" >***</text>
<text x="0" y="0" font-size="9.6" text-anchor="middle" fill="#111" textLength="107.7" lengthAdjust="spacingAndGlyphs" transform="translate(561.8 681.5) rotate(-90)">% of LOX<tspan font-size="5.5" dy="-4">+</tspan><tspan dy="4">UTS2R</tspan><tspan font-size="5.5" dy="-4">+</tspan><tspan dy="4"> Cells</tspan></text>
<text x="606.4" y="757.8" font-size="10" text-anchor="middle" fill="#111" font-weight="normal"  textLength="39" lengthAdjust="spacingAndGlyphs" stroke="#111" stroke-width="0.25">Wildtype</text>
<text x="636.5" y="757.8" font-size="10" font-style="italic" fill="#111">Fgf7<tspan font-size="5.5" dy="-4">-/-</tspan></text>
</svg></body></html>
